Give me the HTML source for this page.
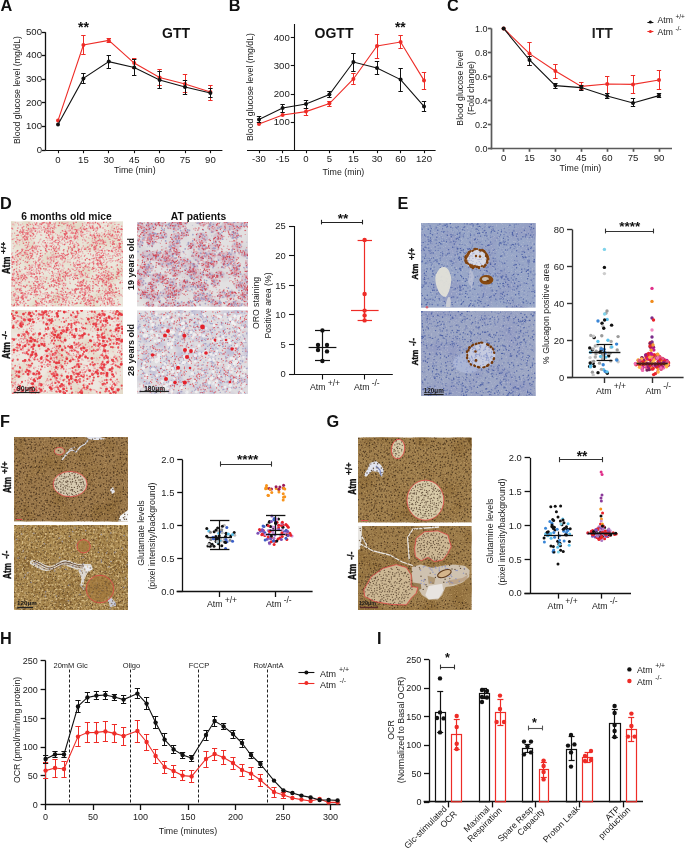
<!DOCTYPE html>
<html><head><meta charset="utf-8"><style>
html,body{margin:0;padding:0;background:#fff;}
body{width:685px;height:850px;overflow:hidden;position:relative;}
svg{position:absolute;left:0;top:0;will-change:transform;}
text{font-family:"Liberation Sans", sans-serif;}
</style></head><body>
<svg width="685" height="850" viewBox="0 0 685 850">
<defs><filter id="tx1" x="0" y="0" width="1" height="1" color-interpolation-filters="sRGB"><feTurbulence type="fractalNoise" baseFrequency="0.06" numOctaves="2" seed="3" result="t0"/><feColorMatrix in="t0" type="matrix" values="0 0 0 0 0.851 0 0 0 0 0.804 0 0 0 0 0.690 1.6 0 0 0 -0.7" result="c0"/><feMerge><feMergeNode in="SourceGraphic"/><feMergeNode in="c0"/></feMerge></filter><clipPath id="cp2"><rect x="11" y="221.6" width="112" height="85"/></clipPath><filter id="tx3" x="0" y="0" width="1" height="1" color-interpolation-filters="sRGB"><feTurbulence type="fractalNoise" baseFrequency="0.06" numOctaves="2" seed="13" result="t0"/><feColorMatrix in="t0" type="matrix" values="0 0 0 0 0.855 0 0 0 0 0.792 0 0 0 0 0.682 1.6 0 0 0 -0.7" result="c0"/><feMerge><feMergeNode in="SourceGraphic"/><feMergeNode in="c0"/></feMerge></filter><clipPath id="cp4"><rect x="11" y="310" width="112" height="84"/></clipPath><filter id="tx5" x="0" y="0" width="1" height="1" color-interpolation-filters="sRGB"><feTurbulence type="fractalNoise" baseFrequency="0.05" numOctaves="2" seed="23" result="t0"/><feColorMatrix in="t0" type="matrix" values="0 0 0 0 0.824 0 0 0 0 0.804 0 0 0 0 0.824 2.0 0 0 0 -0.9" result="c0"/><feMerge><feMergeNode in="SourceGraphic"/><feMergeNode in="c0"/></feMerge></filter><clipPath id="cp6"><rect x="137" y="222" width="111" height="84.4"/></clipPath><filter id="tx7" x="0" y="0" width="1" height="1" color-interpolation-filters="sRGB"><feTurbulence type="fractalNoise" baseFrequency="0.12" numOctaves="2" seed="33" result="t0"/><feGaussianBlur in="t0" stdDeviation="0.8" result="u0"/><feColorMatrix in="u0" type="matrix" values="0 0 0 0 0.761 0 0 0 0 0.753 0 0 0 0 0.839 3.0 0 0 0 -1.4" result="c0"/><feMerge><feMergeNode in="SourceGraphic"/><feMergeNode in="c0"/></feMerge></filter><clipPath id="cp8"><rect x="137" y="310.4" width="111" height="83.6"/></clipPath><filter id="tx9" x="0" y="0" width="1" height="1" color-interpolation-filters="sRGB"><feTurbulence type="fractalNoise" baseFrequency="0.05" numOctaves="2" seed="41" result="t0"/><feColorMatrix in="t0" type="matrix" values="0 0 0 0 0.569 0 0 0 0 0.600 0 0 0 0 0.761 2.2 0 0 0 -1.0" result="c0"/><feTurbulence type="fractalNoise" baseFrequency="0.8" numOctaves="1" seed="42" result="t1"/><feColorMatrix in="t1" type="matrix" values="0 0 0 0 0.737 0 0 0 0 0.753 0 0 0 0 0.831 3 0 0 0 -1.7" result="c1"/><feMerge><feMergeNode in="SourceGraphic"/><feMergeNode in="c0"/><feMergeNode in="c1"/></feMerge></filter><clipPath id="cp10"><rect x="421" y="223" width="114.6" height="84.6"/></clipPath><filter id="tx11" x="0" y="0" width="1" height="1" color-interpolation-filters="sRGB"><feTurbulence type="fractalNoise" baseFrequency="0.05" numOctaves="2" seed="51" result="t0"/><feColorMatrix in="t0" type="matrix" values="0 0 0 0 0.569 0 0 0 0 0.600 0 0 0 0 0.761 2.2 0 0 0 -1.0" result="c0"/><feTurbulence type="fractalNoise" baseFrequency="0.8" numOctaves="1" seed="52" result="t1"/><feColorMatrix in="t1" type="matrix" values="0 0 0 0 0.737 0 0 0 0 0.753 0 0 0 0 0.831 3 0 0 0 -1.7" result="c1"/><feMerge><feMergeNode in="SourceGraphic"/><feMergeNode in="c0"/><feMergeNode in="c1"/></feMerge></filter><clipPath id="cp12"><rect x="421" y="311" width="114.6" height="85"/></clipPath><filter id="tx13" x="0" y="0" width="1" height="1" color-interpolation-filters="sRGB"><feTurbulence type="fractalNoise" baseFrequency="0.04" numOctaves="2" seed="61" result="t0"/><feColorMatrix in="t0" type="matrix" values="0 0 0 0 0.549 0 0 0 0 0.416 0 0 0 0 0.212 2.4 0 0 0 -1.15" result="c0"/><feTurbulence type="fractalNoise" baseFrequency="0.9" numOctaves="1" seed="62" result="t1"/><feColorMatrix in="t1" type="matrix" values="0 0 0 0 0.784 0 0 0 0 0.643 0 0 0 0 0.424 3.2 0 0 0 -1.85" result="c1"/><feTurbulence type="fractalNoise" baseFrequency="0.9" numOctaves="1" seed="63" result="t2"/><feColorMatrix in="t2" type="matrix" values="0 0 0 0 0.463 0 0 0 0 0.318 0 0 0 0 0.165 3.4 0 0 0 -1.95" result="c2"/><feMerge><feMergeNode in="SourceGraphic"/><feMergeNode in="c0"/><feMergeNode in="c1"/><feMergeNode in="c2"/></feMerge></filter><clipPath id="cp14"><rect x="14" y="437" width="114" height="84.4"/></clipPath><filter id="tx15" x="0" y="0" width="1" height="1" color-interpolation-filters="sRGB"><feTurbulence type="fractalNoise" baseFrequency="0.04" numOctaves="2" seed="71" result="t0"/><feColorMatrix in="t0" type="matrix" values="0 0 0 0 0.549 0 0 0 0 0.416 0 0 0 0 0.212 2.0 0 0 0 -1.0" result="c0"/><feTurbulence type="fractalNoise" baseFrequency="0.45" numOctaves="2" seed="72" result="t1"/><feColorMatrix in="t1" type="matrix" values="0 0 0 0 0.839 0 0 0 0 0.737 0 0 0 0 0.533 3.9 0 0 0 -2.0" result="c1"/><feTurbulence type="fractalNoise" baseFrequency="0.5" numOctaves="1" seed="73" result="t2"/><feColorMatrix in="t2" type="matrix" values="0 0 0 0 0.478 0 0 0 0 0.329 0 0 0 0 0.141 3.6 0 0 0 -2.0" result="c2"/><feMerge><feMergeNode in="SourceGraphic"/><feMergeNode in="c0"/><feMergeNode in="c1"/><feMergeNode in="c2"/></feMerge></filter><clipPath id="cp16"><rect x="14" y="525" width="114" height="85"/></clipPath><filter id="tx17" x="0" y="0" width="1" height="1" color-interpolation-filters="sRGB"><feTurbulence type="fractalNoise" baseFrequency="0.04" numOctaves="2" seed="81" result="t0"/><feColorMatrix in="t0" type="matrix" values="0 0 0 0 0.549 0 0 0 0 0.416 0 0 0 0 0.212 2.4 0 0 0 -1.15" result="c0"/><feTurbulence type="fractalNoise" baseFrequency="0.9" numOctaves="1" seed="82" result="t1"/><feColorMatrix in="t1" type="matrix" values="0 0 0 0 0.784 0 0 0 0 0.643 0 0 0 0 0.424 3.2 0 0 0 -1.85" result="c1"/><feTurbulence type="fractalNoise" baseFrequency="0.9" numOctaves="1" seed="83" result="t2"/><feColorMatrix in="t2" type="matrix" values="0 0 0 0 0.463 0 0 0 0 0.318 0 0 0 0 0.165 3.4 0 0 0 -1.95" result="c2"/><feMerge><feMergeNode in="SourceGraphic"/><feMergeNode in="c0"/><feMergeNode in="c1"/><feMergeNode in="c2"/></feMerge></filter><clipPath id="cp18"><rect x="358" y="437.6" width="113.6" height="84.8"/></clipPath><filter id="tx19" x="0" y="0" width="1" height="1" color-interpolation-filters="sRGB"><feTurbulence type="fractalNoise" baseFrequency="0.04" numOctaves="2" seed="91" result="t0"/><feColorMatrix in="t0" type="matrix" values="0 0 0 0 0.549 0 0 0 0 0.416 0 0 0 0 0.212 2.4 0 0 0 -1.15" result="c0"/><feTurbulence type="fractalNoise" baseFrequency="0.9" numOctaves="1" seed="92" result="t1"/><feColorMatrix in="t1" type="matrix" values="0 0 0 0 0.784 0 0 0 0 0.643 0 0 0 0 0.424 3.2 0 0 0 -1.85" result="c1"/><feTurbulence type="fractalNoise" baseFrequency="0.9" numOctaves="1" seed="93" result="t2"/><feColorMatrix in="t2" type="matrix" values="0 0 0 0 0.463 0 0 0 0 0.318 0 0 0 0 0.165 3.4 0 0 0 -1.95" result="c2"/><feMerge><feMergeNode in="SourceGraphic"/><feMergeNode in="c0"/><feMergeNode in="c1"/><feMergeNode in="c2"/></feMerge></filter><clipPath id="cp20"><rect x="358" y="526" width="113.6" height="84"/></clipPath></defs>
<rect width="685" height="850" fill="#fff"/>
<text x="0.40" y="10.70" font-size="16.3" text-anchor="start" font-weight="bold" fill="#111">A</text>
<text x="228.80" y="10.70" font-size="16.3" text-anchor="start" font-weight="bold" fill="#111">B</text>
<text x="447.00" y="10.90" font-size="16.3" text-anchor="start" font-weight="bold" fill="#111">C</text>
<text x="0.00" y="208.80" font-size="16.3" text-anchor="start" font-weight="bold" fill="#111">D</text>
<text x="397.50" y="208.60" font-size="16.3" text-anchor="start" font-weight="bold" fill="#111">E</text>
<text x="-0.10" y="427.00" font-size="16.3" text-anchor="start" font-weight="bold" fill="#111">F</text>
<text x="326.40" y="427.40" font-size="16.3" text-anchor="start" font-weight="bold" fill="#111">G</text>
<text x="-0.10" y="644.00" font-size="16.3" text-anchor="start" font-weight="bold" fill="#111">H</text>
<text x="377.10" y="643.60" font-size="16.3" text-anchor="start" font-weight="bold" fill="#111">I</text>
<rect x="11" y="221.6" width="112" height="85" fill="#ebe7dc" filter="url(#tx1)"/>
<g clip-path="url(#cp2)">
<path d="M57.0 282.3h0M28.0 240.0h0M96.2 254.9h0M36.9 225.5h0M22.4 293.0h0M59.9 303.7h0M39.3 230.6h0M54.6 265.4h0M81.8 232.1h0M103.6 298.3h0M92.7 235.7h0M46.4 232.4h0M82.0 274.6h0M34.6 238.1h0M57.9 281.2h0M59.7 263.4h0M25.0 252.6h0M89.8 226.7h0M112.7 301.0h0M59.7 235.5h0M40.7 265.6h0M102.2 300.2h0M78.4 254.2h0M32.7 290.4h0M58.2 262.0h0M32.3 276.8h0M80.5 234.0h0M86.2 267.4h0M99.5 244.0h0M13.2 248.6h0M43.0 260.2h0M87.0 233.4h0M29.7 234.8h0M37.9 265.4h0M27.3 295.0h0M27.6 250.3h0M110.2 275.2h0M54.3 259.5h0M41.5 244.1h0M88.1 297.4h0M44.8 264.3h0M32.4 267.5h0M83.0 235.9h0M105.4 292.0h0M106.2 230.7h0M77.6 265.3h0M30.1 251.8h0M35.7 291.9h0M107.7 236.7h0M53.7 237.4h0M64.9 258.6h0M110.8 284.4h0M74.3 239.0h0M115.9 296.7h0M113.7 283.6h0M13.2 257.9h0M63.8 231.4h0M84.5 296.6h0M16.1 297.1h0M55.1 251.6h0M96.2 243.2h0M49.2 259.8h0M52.3 240.1h0M63.7 275.0h0M50.4 243.1h0M66.1 302.1h0M12.7 252.7h0M14.5 273.2h0M35.4 278.0h0M97.8 242.3h0M38.6 286.2h0M86.0 303.4h0M81.3 289.1h0M16.9 268.1h0M90.7 305.1h0M35.2 291.5h0M94.3 228.7h0M106.7 265.4h0M92.9 285.6h0M30.4 253.9h0M86.2 224.2h0M46.8 246.0h0M109.1 282.7h0M78.9 265.6h0M97.9 279.0h0M11.6 299.1h0M109.0 254.9h0M47.6 242.7h0M16.5 277.8h0M81.1 282.8h0M34.2 284.2h0M49.9 228.5h0M74.0 255.0h0M109.9 260.4h0M55.1 225.5h0M88.5 300.4h0M108.0 287.9h0M64.9 305.1h0M121.5 233.8h0M60.7 265.0h0M79.6 272.6h0M90.1 234.0h0M84.6 291.7h0M48.0 225.9h0M63.1 298.2h0M105.1 279.7h0M96.4 248.7h0M85.6 276.9h0M34.5 222.7h0M96.5 242.3h0M93.1 287.2h0M26.1 286.3h0M80.1 283.1h0M12.6 224.6h0M16.7 241.2h0M16.3 251.6h0M32.5 267.4h0M118.9 251.5h0M60.1 246.5h0M78.5 229.7h0M49.2 267.0h0M102.4 228.0h0M85.6 299.9h0M93.1 258.4h0M46.0 295.9h0M94.3 234.9h0M110.3 241.7h0M66.9 236.9h0M81.8 283.7h0M32.5 250.3h0M57.5 297.0h0M24.2 297.2h0M72.6 233.5h0M103.4 259.8h0M116.2 265.9h0M82.9 299.9h0M57.6 255.8h0M28.9 271.2h0M13.5 275.1h0M101.9 237.4h0M45.3 228.6h0M11.9 294.9h0M28.8 242.2h0M13.2 276.0h0M79.9 271.5h0M103.1 254.9h0M99.6 298.2h0M50.3 233.4h0M65.5 231.0h0M89.2 290.1h0M55.5 248.9h0M108.7 272.1h0M107.6 295.2h0M82.3 223.5h0M100.9 277.7h0M107.1 262.0h0M32.1 233.7h0M83.5 283.8h0M67.7 222.5h0M100.3 250.5h0M86.0 297.7h0M18.6 300.4h0M65.0 277.7h0M96.3 263.7h0M15.4 279.0h0M78.7 229.7h0M49.1 238.3h0M17.7 280.7h0M111.8 227.3h0M101.0 304.2h0M90.0 223.1h0M79.1 295.9h0M59.1 248.9h0M79.2 228.4h0M25.7 251.1h0M64.9 244.1h0M102.0 293.7h0M85.9 247.6h0M91.3 303.7h0M23.8 302.1h0M48.7 302.0h0M70.0 235.6h0M101.8 232.7h0M107.1 271.7h0M38.7 246.0h0M83.3 237.5h0M29.7 246.2h0M23.3 296.9h0M50.7 263.1h0M110.0 287.0h0M19.5 304.7h0M25.4 287.6h0M37.4 228.9h0M74.8 236.1h0M46.0 244.8h0M94.9 267.7h0M105.2 275.3h0M103.9 276.4h0M53.4 281.5h0M36.4 245.6h0M106.7 285.7h0M35.2 223.4h0M79.3 228.4h0M37.8 268.9h0M117.5 232.3h0M25.9 294.7h0M41.7 235.3h0M50.9 231.3h0M26.0 244.6h0M57.4 273.9h0M92.5 255.9h0M18.1 235.5h0M106.3 259.6h0M38.8 228.6h0M41.1 305.3h0M62.4 281.5h0M41.0 232.3h0M74.2 251.8h0M40.3 280.7h0M56.5 259.5h0M23.7 255.8h0M60.2 275.9h0M77.1 261.2h0M81.8 292.1h0M80.3 297.1h0M13.5 294.5h0M24.3 238.8h0M44.1 286.3h0M61.2 303.7h0M15.2 284.0h0M78.4 234.6h0M20.8 302.5h0M66.3 294.8h0M62.2 300.2h0M24.6 245.5h0M50.5 231.9h0M74.8 226.7h0M26.5 234.0h0M61.6 271.7h0M95.7 236.7h0M48.4 272.1h0M74.8 256.0h0M31.4 286.0h0M76.5 293.7h0M38.3 294.5h0M89.1 231.3h0M68.7 296.7h0M32.6 265.2h0M63.9 298.0h0M13.5 264.2h0M15.4 282.4h0M79.1 283.6h0M79.7 261.5h0M81.3 281.9h0M24.3 293.3h0M51.8 277.3h0M103.5 277.5h0M15.5 222.6h0M32.6 292.3h0M64.7 285.0h0M53.8 282.0h0M34.2 241.9h0M12.1 297.5h0M104.8 233.3h0M89.9 245.1h0M63.6 290.0h0M34.2 285.9h0M28.8 261.3h0M49.5 237.0h0M101.2 296.6h0M86.3 282.7h0M17.5 295.7h0M91.8 262.7h0M55.8 281.3h0M44.4 299.4h0M75.5 263.0h0M40.4 264.3h0M111.9 227.9h0M70.5 237.8h0M78.0 232.5h0M14.3 294.8h0M64.0 276.3h0M21.9 269.8h0M12.2 284.4h0M58.6 276.7h0M49.4 264.0h0M48.6 228.5h0M73.4 237.3h0M90.2 305.5h0M57.3 295.7h0M28.7 232.9h0M39.8 305.1h0M120.7 249.7h0M95.7 242.6h0M14.7 245.7h0M74.1 259.0h0M13.2 243.5h0M116.4 236.1h0M81.6 248.3h0M92.2 235.0h0M39.8 246.8h0M33.9 271.3h0M92.7 237.0h0M22.1 227.2h0M89.9 286.7h0M16.6 275.6h0M96.9 264.1h0M107.6 261.8h0M56.1 293.0h0M75.5 289.4h0M122.1 275.9h0M38.5 283.3h0M25.3 303.3h0M78.0 237.2h0M113.8 294.4h0M89.3 224.6h0M33.4 225.4h0M105.7 241.0h0M49.6 273.4h0M29.5 300.2h0M117.5 268.6h0M18.2 292.2h0M21.7 235.9h0M61.4 280.5h0M103.4 274.8h0M58.4 243.2h0M57.9 269.2h0M68.2 226.8h0M53.2 259.1h0M19.1 242.3h0M118.6 253.6h0M119.7 273.1h0M46.2 250.3h0M21.5 300.3h0M38.9 249.3h0M33.7 227.8h0M27.5 237.0h0M13.5 286.1h0M70.3 229.7h0M36.9 233.1h0M90.4 232.3h0M14.5 263.7h0M26.1 298.0h0M49.3 265.9h0M53.8 255.7h0M63.4 238.2h0M94.7 239.1h0M88.5 268.6h0M96.7 257.8h0M33.9 250.7h0M45.9 266.2h0M21.6 283.1h0M64.6 283.5h0M81.7 276.9h0M40.3 294.7h0M117.7 303.0h0M21.7 290.4h0M91.1 300.6h0M55.1 241.8h0M41.0 228.9h0M29.3 268.0h0M55.4 305.1h0M118.5 248.5h0M77.5 253.9h0M59.3 299.1h0M54.4 225.2h0M51.3 250.3h0M39.6 285.1h0M31.0 290.5h0M107.5 294.9h0M76.4 233.3h0M117.3 276.6h0M29.9 272.3h0M73.7 294.3h0M72.6 290.2h0M96.6 263.7h0M79.6 257.7h0M52.2 303.5h0M27.2 296.8h0M111.2 295.8h0M88.2 303.9h0M39.4 274.6h0M21.7 292.5h0M47.7 245.9h0M104.5 261.7h0M37.6 279.4h0M75.1 237.1h0M79.5 259.6h0M28.9 273.2h0M87.4 230.3h0M40.3 226.3h0M57.7 276.1h0M59.3 301.1h0M83.2 235.0h0M13.1 277.3h0M117.7 269.0h0M120.4 265.0h0M17.2 244.1h0M46.5 228.8h0M37.0 247.0h0M99.3 240.8h0M80.0 289.1h0M44.5 294.0h0M71.9 268.6h0M63.6 274.2h0M84.0 227.1h0M105.7 254.9h0M70.8 241.0h0M11.5 259.5h0M47.4 256.7h0M20.9 276.2h0M25.5 238.2h0M26.1 247.4h0M30.1 235.9h0M78.8 286.1h0M44.2 242.7h0M84.5 305.4h0M23.7 276.4h0M85.7 304.2h0M100.3 267.8h0M43.1 265.0h0M118.2 259.7h0M43.8 304.5h0M89.8 235.4h0M112.4 299.2h0M43.8 277.2h0M94.2 237.8h0M13.2 258.6h0M15.2 288.2h0M83.1 284.7h0M110.4 283.2h0M62.0 226.6h0M109.5 303.6h0M46.2 243.9h0M89.8 225.3h0M30.7 235.1h0M66.4 294.3h0M102.9 275.1h0M47.8 228.3h0M41.9 276.6h0M90.5 235.4h0M81.5 255.5h0M47.5 238.2h0M54.6 245.4h0M90.3 302.0h0M45.9 235.1h0M81.6 285.1h0M18.1 227.8h0M45.6 245.7h0M54.5 282.4h0M52.1 300.9h0M67.9 259.8h0M116.5 244.1h0M45.6 298.8h0M26.9 224.9h0M22.6 223.9h0M62.2 256.6h0M60.9 294.0h0M59.2 283.0h0M26.7 278.5h0M16.9 291.2h0M84.0 239.1h0M87.6 288.9h0M112.8 222.8h0M31.6 253.7h0M102.4 263.4h0M108.9 286.0h0M15.4 222.4h0M100.7 255.5h0M89.6 245.1h0M77.7 245.8h0M52.4 240.3h0M117.9 261.8h0M44.8 263.9h0M75.5 235.6h0M64.4 300.3h0M61.4 293.8h0M12.3 285.8h0M41.9 261.0h0M89.8 298.0h0M95.5 270.5h0M78.8 251.7h0M33.5 265.1h0M51.2 281.5h0M41.9 257.5h0M25.4 235.6h0M58.5 261.3h0M20.0 259.2h0M84.8 222.7h0M73.3 305.2h0M121.3 275.1h0M66.8 228.8h0M110.6 293.1h0M87.1 251.2h0M36.8 230.9h0M89.5 301.2h0M39.7 295.5h0M41.8 296.3h0M77.6 247.2h0M98.5 266.2h0M72.0 229.7h0M104.6 297.6h0M122.4 288.2h0M61.8 269.5h0M82.1 288.2h0M23.0 286.4h0M69.9 276.8h0M70.1 259.7h0M59.6 274.8h0M98.2 248.6h0M116.0 305.8h0M122.4 269.7h0M42.9 245.8h0M88.2 304.8h0M112.9 252.3h0M36.5 254.7h0M103.1 275.9h0M75.5 234.5h0M114.3 236.1h0M35.2 270.1h0M67.0 224.9h0M66.7 238.9h0M71.8 273.2h0M83.3 296.7h0M54.4 258.1h0M23.8 294.1h0M39.8 240.0h0M50.0 222.2h0M29.3 294.1h0M30.8 229.1h0M110.7 255.9h0M66.6 223.2h0M24.1 232.2h0M20.4 290.5h0M49.7 243.5h0M33.1 277.6h0M60.9 243.0h0M27.7 261.9h0M14.0 224.9h0M75.3 267.4h0M61.9 236.0h0M64.1 268.2h0M120.4 251.9h0M27.4 269.5h0M112.9 225.9h0M65.4 272.5h0M81.4 250.5h0M102.8 283.7h0M92.3 240.3h0M57.9 257.0h0M50.2 229.6h0M37.4 304.6h0M37.8 245.9h0M30.2 224.4h0M73.9 225.6h0M50.0 225.2h0M59.9 293.9h0M120.6 294.9h0M108.7 274.9h0M104.2 246.6h0M82.3 247.8h0M45.3 299.3h0M103.7 248.3h0M118.8 239.7h0M41.9 279.0h0M56.2 227.9h0M117.4 273.3h0M29.1 290.2h0M42.1 224.5h0M105.3 250.9h0M89.6 289.7h0M90.4 260.0h0M113.1 238.0h0M17.0 239.6h0M79.9 230.2h0M111.1 237.2h0M108.0 298.2h0M109.9 239.1h0M14.3 258.2h0M33.4 273.7h0M114.6 236.0h0M13.9 246.8h0M72.5 229.6h0M75.2 267.3h0M122.2 252.8h0M56.5 265.8h0M39.0 266.2h0M110.7 260.5h0M25.0 294.6h0M27.8 290.7h0M120.0 247.6h0M108.0 234.2h0M88.7 227.9h0M97.4 280.4h0M32.9 252.3h0M68.9 301.0h0M13.2 263.6h0M114.2 250.3h0M67.3 242.3h0M20.3 279.8h0M49.3 257.6h0M66.8 227.8h0M118.8 243.8h0M59.2 237.3h0M52.3 233.9h0M63.2 255.0h0M98.6 265.1h0M90.0 250.6h0M43.8 226.5h0M50.6 231.5h0M69.0 225.6h0M77.6 229.4h0M111.1 230.0h0M53.5 241.5h0M84.7 295.8h0M74.7 229.7h0M56.4 273.6h0M108.0 256.6h0M14.9 299.1h0M118.5 235.0h0M73.7 276.6h0M61.6 295.0h0M120.4 238.5h0M85.7 229.5h0M122.3 296.2h0M75.7 232.6h0M119.6 270.5h0M18.2 295.8h0M96.4 231.0h0M70.7 274.5h0M75.8 237.0h0M44.1 278.4h0M110.8 292.9h0M51.7 263.1h0M99.8 243.4h0M44.7 299.5h0M17.3 281.0h0M114.0 231.8h0M67.7 239.2h0M63.9 251.8h0M63.6 304.7h0M58.9 272.7h0M117.6 231.2h0M38.5 289.2h0M17.5 295.7h0M47.8 266.7h0M103.3 268.7h0M12.3 263.7h0M113.7 260.6h0M75.9 288.4h0M83.3 291.9h0M42.5 306.1h0M82.3 285.3h0M19.8 285.6h0M105.7 254.3h0M74.4 273.5h0M68.2 224.2h0M78.7 244.7h0M53.6 236.1h0M32.1 236.8h0M41.7 300.7h0M121.8 280.6h0M118.1 226.3h0M59.1 254.6h0M48.2 303.2h0M112.9 272.6h0M66.4 302.7h0M63.9 239.9h0M93.3 291.3h0M94.7 257.7h0M111.7 304.0h0M73.5 245.8h0M47.4 224.8h0M56.3 256.5h0M46.1 228.5h0M62.5 254.5h0M47.5 295.4h0M116.6 252.3h0M54.1 241.4h0M45.3 290.2h0M120.7 255.4h0M113.5 269.3h0M30.7 231.3h0M26.0 239.1h0M121.5 260.5h0M23.6 249.4h0M74.2 289.1h0M44.4 288.6h0M117.4 245.5h0M78.7 278.8h0M88.6 286.0h0M101.7 223.1h0M57.6 291.5h0M57.8 272.0h0M62.9 266.9h0M110.9 303.8h0M74.3 240.1h0M99.8 247.3h0M34.8 238.1h0M110.7 292.3h0M78.5 233.6h0M65.6 304.0h0M46.5 277.5h0M69.6 231.3h0M122.4 270.9h0M91.4 226.0h0M101.0 250.4h0M80.7 273.8h0M55.7 233.8h0M39.3 241.8h0M116.3 229.2h0M97.0 301.6h0M89.1 248.7h0M62.5 257.9h0M71.9 300.7h0M63.6 304.1h0M38.3 266.3h0M101.9 272.7h0M109.6 300.4h0M59.7 250.3h0M66.9 226.3h0M18.9 271.8h0M60.3 271.8h0M17.0 303.1h0M103.0 257.7h0M74.3 236.6h0M48.0 263.7h0M38.4 261.3h0M99.3 275.6h0M70.8 297.9h0M21.0 285.1h0M85.0 288.2h0M103.2 304.9h0M93.6 243.7h0M82.9 242.7h0M64.9 229.7h0M116.7 247.4h0M88.9 266.1h0M67.6 252.4h0M77.8 230.7h0M115.8 253.0h0M36.0 263.3h0M38.7 286.6h0M57.7 296.8h0M24.6 295.6h0M63.1 262.8h0M121.9 266.4h0M104.9 285.5h0M35.8 272.2h0M105.1 225.7h0M89.8 287.2h0M56.0 255.9h0M113.3 237.3h0M73.6 265.2h0M82.2 290.5h0M50.7 261.7h0M85.4 291.0h0M22.6 239.9h0M115.4 231.8h0M71.3 238.5h0M102.4 258.3h0M37.5 291.6h0M31.9 264.9h0M67.7 257.1h0M13.2 305.9h0M36.0 302.7h0M26.8 253.8h0M89.1 264.2h0M16.7 263.0h0M47.7 288.1h0M99.9 280.1h0M110.1 272.5h0M60.2 264.3h0M26.0 298.3h0M95.4 260.2h0M31.9 250.8h0M115.7 234.2h0M119.3 224.5h0M69.7 281.9h0M50.9 259.8h0M19.6 244.7h0M47.4 240.1h0M110.9 262.2h0M118.7 247.0h0M121.6 249.8h0M37.5 225.7h0M105.3 294.0h0M43.0 246.4h0M23.9 295.2h0M72.4 302.3h0M70.5 233.4h0M80.0 264.5h0M52.4 243.5h0M57.6 261.2h0M90.4 302.7h0M21.0 278.0h0M85.9 287.0h0M47.2 270.4h0M74.4 238.3h0M54.9 273.2h0M62.0 257.8h0M113.6 236.0h0M64.1 287.3h0M38.9 231.9h0M26.6 277.6h0M62.2 243.2h0M87.4 275.1h0M22.7 241.5h0M76.5 237.4h0M94.2 239.9h0M79.3 292.9h0M112.4 295.9h0M48.8 223.9h0M73.2 229.6h0M76.5 262.3h0M36.5 270.4h0M89.7 245.9h0M100.2 297.2h0M59.7 239.6h0M39.1 304.8h0M84.6 300.5h0M119.3 232.4h0M18.0 298.5h0M16.7 272.8h0M39.9 259.5h0M81.2 303.6h0M118.5 228.0h0M42.6 286.7h0M67.0 230.9h0M96.0 271.2h0M98.6 259.2h0M25.1 281.1h0M36.7 224.1h0M18.2 240.0h0M17.7 283.4h0M36.2 293.2h0M57.2 257.0h0M68.1 256.7h0M26.7 274.2h0M80.4 234.1h0M118.3 249.9h0M74.2 243.6h0M89.0 273.6h0M79.5 267.5h0M93.3 227.2h0M71.2 292.9h0M30.1 266.6h0M36.9 251.1h0M50.4 302.4h0M92.1 241.5h0M83.4 234.4h0M119.8 232.1h0M112.1 281.2h0M107.8 297.0h0M81.7 226.7h0M55.5 289.1h0M99.1 276.6h0M94.9 268.3h0M20.0 271.3h0M32.1 281.8h0M47.0 289.3h0M91.1 228.7h0M41.9 225.1h0M107.2 267.3h0M51.7 239.7h0M62.5 258.7h0M71.3 249.6h0M26.6 224.3h0M21.8 274.3h0M113.8 304.0h0M111.9 249.9h0M80.7 288.6h0M36.3 256.8h0M65.4 230.2h0M24.8 276.9h0M47.3 245.5h0M53.1 301.6h0M36.6 268.8h0M90.2 297.8h0M81.2 275.9h0M38.4 267.6h0M37.8 286.7h0M87.7 263.4h0M96.8 294.9h0M97.4 281.0h0M100.3 294.6h0M11.6 279.3h0M83.8 299.9h0M80.8 263.4h0M93.6 287.3h0M100.1 273.8h0M67.2 270.4h0M38.5 258.3h0M103.5 271.4h0M121.7 271.7h0M47.3 264.1h0M65.2 288.4h0M12.1 253.3h0M84.5 247.9h0M45.2 270.8h0M46.6 223.2h0M50.4 227.3h0M62.5 284.4h0M107.4 304.7h0M110.4 243.4h0M84.4 303.9h0M109.1 261.0h0M42.4 304.3h0M92.6 285.8h0M104.0 300.6h0M117.3 305.9h0M42.3 255.8h0M21.3 253.2h0M57.0 273.8h0M105.8 299.3h0M62.4 281.6h0M14.8 238.6h0M118.5 301.7h0M110.3 294.9h0M102.3 293.7h0M74.0 273.8h0M53.3 293.0h0M91.7 223.2h0M47.5 247.0h0M25.3 239.2h0M19.7 301.4h0M79.1 263.9h0M34.2 287.5h0M16.0 289.2h0M99.1 223.3h0M84.0 262.5h0M37.5 264.5h0M96.0 281.6h0M73.9 290.5h0M48.9 230.4h0M114.8 222.6h0M24.0 305.7h0M109.6 293.9h0M25.7 234.9h0M78.2 260.9h0M102.7 302.8h0M54.2 281.4h0M104.3 243.1h0M105.1 253.2h0M17.4 254.6h0M68.0 241.5h0M23.0 274.7h0M42.0 252.9h0M113.5 231.3h0M49.5 296.7h0M78.1 236.8h0M54.6 225.7h0M16.3 258.9h0M69.0 272.5h0M55.6 257.4h0M55.5 279.8h0M44.8 225.7h0M49.7 246.3h0M95.6 256.9h0M104.3 253.0h0M104.6 260.2h0M31.0 266.0h0M82.1 259.0h0M52.3 235.9h0M58.9 238.3h0M53.7 305.5h0M86.8 224.9h0M56.1 240.3h0M30.6 271.2h0M33.0 272.7h0M95.5 257.5h0M68.0 222.3h0M99.4 272.3h0M122.1 252.1h0M85.4 255.1h0M16.2 262.3h0M114.0 229.9h0M13.2 280.9h0M97.3 245.1h0M118.6 304.3h0M50.3 295.7h0M103.5 259.7h0M15.4 256.0h0M27.7 247.6h0M12.3 233.5h0M37.5 281.5h0M13.9 279.4h0M37.4 250.8h0M11.7 235.9h0M35.3 266.0h0M53.3 257.1h0M102.5 279.5h0M112.6 294.6h0M29.3 269.5h0M109.5 256.5h0M77.4 247.3h0M61.2 305.9h0M109.0 275.6h0M38.9 228.4h0M49.4 235.5h0M83.0 232.1h0M102.6 248.8h0M13.2 270.1h0M82.5 274.3h0M61.2 281.4h0M96.4 227.4h0M47.8 267.1h0M38.9 304.5h0M20.8 254.4h0M66.3 222.9h0M103.9 264.8h0M34.8 305.7h0M105.3 297.5h0M53.7 223.1h0M68.4 231.0h0M109.8 282.3h0M88.2 301.4h0M94.5 301.6h0M118.0 294.9h0M96.1 237.9h0M115.8 294.2h0M51.9 257.8h0M23.9 252.2h0M62.2 294.7h0M49.6 266.3h0M71.9 289.0h0M22.5 299.0h0M98.0 291.1h0M103.2 287.9h0M112.6 267.2h0M51.1 305.0h0M81.0 271.3h0M83.0 253.5h0M114.3 235.7h0M46.6 289.5h0M51.7 263.2h0M87.3 305.5h0M14.0 293.5h0M41.2 299.0h0M100.3 260.7h0M37.6 225.5h0M40.7 283.4h0M66.8 234.0h0M40.3 299.2h0M42.0 282.7h0M119.2 296.0h0M62.1 283.3h0M110.3 284.9h0M107.0 301.6h0M87.7 287.0h0M108.7 238.0h0M54.0 246.7h0M95.6 240.3h0M110.2 233.8h0M14.2 278.0h0M79.4 264.6h0M56.4 257.5h0M69.2 237.5h0M93.5 282.7h0M104.5 251.2h0M42.8 229.6h0M63.3 294.2h0M32.5 228.3h0M24.2 277.6h0M53.2 244.4h0M24.9 262.2h0M27.7 305.8h0M87.8 231.5h0M110.1 288.1h0M104.4 267.9h0M111.1 273.0h0M50.8 240.5h0M76.0 272.3h0M15.8 261.5h0M112.1 249.3h0M121.9 231.1h0M91.8 236.6h0M79.4 255.6h0M72.8 222.9h0M117.0 256.2h0M55.5 275.7h0M99.1 237.8h0M58.7 270.3h0M88.4 237.8h0M22.2 248.8h0M108.5 279.9h0M106.4 290.6h0M99.2 255.2h0M67.2 288.0h0M49.1 302.5h0M12.1 234.0h0M85.0 272.8h0M54.7 256.5h0M15.7 257.4h0M64.0 223.0h0M35.6 246.7h0M90.7 254.9h0M78.4 280.9h0M40.8 226.4h0M107.3 271.4h0M118.0 272.5h0M76.9 264.5h0M100.1 296.2h0M53.3 258.9h0M68.9 289.5h0M49.5 294.8h0M115.0 250.4h0M90.6 297.7h0M55.3 265.1h0M21.1 235.2h0M36.6 233.9h0M26.4 272.3h0M14.0 281.2h0M52.9 238.7h0M33.4 244.0h0M97.1 236.6h0M65.0 285.1h0M32.0 247.8h0M93.9 229.5h0M88.0 300.4h0M112.2 234.1h0M51.8 292.3h0M79.8 289.0h0M21.3 257.7h0M111.0 279.3h0M61.6 304.0h0M60.4 259.3h0M39.0 287.8h0M62.5 264.3h0M33.5 269.3h0M64.0 300.4h0M89.0 238.2h0M77.3 256.4h0M120.3 255.5h0M66.8 299.5h0M101.3 279.9h0M111.2 251.6h0M27.0 292.1h0M88.3 231.4h0M95.3 251.7h0M71.4 251.2h0M49.4 223.8h0M36.0 300.8h0M36.1 277.2h0M51.3 267.6h0M58.0 250.2h0M116.9 260.0h0M72.3 231.4h0M111.9 304.0h0M97.3 235.5h0M31.6 240.1h0M64.2 274.7h0M24.6 293.9h0M19.3 240.8h0M27.6 235.1h0M93.8 228.1h0M36.1 304.8h0M69.4 275.3h0M119.4 271.0h0M54.6 248.8h0M51.2 265.1h0M54.2 299.4h0M41.8 305.5h0M50.4 228.1h0M78.1 248.8h0M103.7 296.5h0M114.8 253.0h0M21.3 239.4h0M73.8 247.6h0M13.9 272.7h0M71.6 241.4h0M90.2 285.7h0M17.7 263.6h0M58.4 286.5h0M14.1 295.6h0M85.1 241.0h0M108.9 225.2h0M99.4 257.0h0M78.0 239.8h0M36.9 228.4h0M24.6 251.4h0M58.5 283.7h0M85.9 292.0h0M70.5 237.1h0M36.4 273.9h0M117.9 251.4h0M84.0 292.5h0M18.5 261.0h0M65.6 261.0h0M13.0 224.0h0M113.3 237.0h0M80.7 274.9h0M72.7 269.2h0M87.7 289.8h0M28.2 234.3h0M16.4 302.3h0M107.3 271.9h0M38.5 303.1h0M51.8 256.4h0M101.0 252.8h0M89.8 289.0h0M77.2 257.8h0M15.6 281.1h0M34.3 290.7h0M93.4 222.2h0M54.1 258.0h0M67.3 238.1h0M57.6 290.0h0M75.7 290.2h0M28.6 254.8h0M81.8 266.2h0M30.7 236.6h0M102.6 280.0h0M71.1 249.7h0M49.3 240.1h0" stroke="#eeaaae" stroke-width="1.4" stroke-linecap="round" fill="none" stroke-opacity="0.9"/>
<path d="M101.7 264.0h0M118.4 248.1h0M92.7 306.1h0M50.3 257.1h0M122.4 261.2h0M107.1 250.0h0M89.6 251.5h0M38.1 260.8h0M81.6 272.1h0M100.9 240.4h0M55.7 285.3h0M35.3 261.1h0M23.5 230.7h0M25.3 253.8h0M56.4 286.0h0M37.9 287.6h0M52.0 224.7h0M95.4 298.0h0M95.7 243.5h0M103.2 227.9h0M14.3 273.9h0M50.1 262.6h0M65.5 301.0h0M119.8 244.6h0M81.9 263.1h0M122.3 243.2h0M98.7 275.7h0M57.6 242.9h0M101.1 256.9h0M82.9 282.9h0M102.3 252.3h0M20.4 282.9h0M33.5 261.7h0M85.5 228.9h0M25.4 233.9h0M55.8 282.6h0M60.1 297.6h0M48.9 223.5h0M118.1 276.1h0M111.9 285.7h0M45.4 296.1h0M46.7 302.4h0M107.3 278.7h0M87.3 243.1h0M41.9 284.9h0M100.0 260.0h0M46.2 246.3h0M20.8 224.9h0M84.8 289.6h0M64.4 261.1h0M114.2 255.2h0M61.0 294.5h0M15.3 293.1h0M99.6 243.7h0M76.8 264.1h0M50.4 257.8h0M12.7 229.0h0M109.1 258.6h0M68.9 305.9h0M27.3 247.5h0M16.0 283.1h0M102.9 301.2h0M85.3 298.4h0M30.5 249.0h0M88.4 287.0h0M44.1 229.8h0M34.1 228.4h0M82.6 225.5h0M15.7 294.7h0M25.6 258.1h0M102.2 239.3h0M95.9 251.2h0M27.6 230.9h0M68.0 237.6h0M63.8 257.3h0M72.5 253.1h0M93.8 271.5h0M60.0 297.7h0M51.8 260.7h0M29.9 253.2h0M77.1 267.8h0M59.3 245.8h0M100.4 246.8h0M110.6 258.6h0M43.1 283.4h0M62.4 253.8h0M19.7 271.0h0M87.4 258.3h0M48.4 230.1h0M81.4 230.8h0M104.1 277.8h0M90.5 296.1h0M112.7 256.0h0M82.6 251.8h0M74.9 244.7h0M108.3 279.6h0M71.5 254.0h0M116.6 234.9h0M76.3 242.2h0M65.6 271.7h0M12.2 239.6h0M19.8 302.4h0M43.2 287.5h0M63.5 285.3h0M35.2 263.4h0M109.9 239.4h0M28.7 292.6h0M20.5 259.5h0M22.9 299.5h0M35.2 267.1h0M59.7 256.1h0M82.7 223.9h0M87.4 266.8h0M51.7 257.5h0M22.6 229.7h0M108.5 283.2h0M39.7 224.0h0M53.6 280.4h0M73.4 263.6h0M62.6 288.7h0M23.1 297.6h0M13.6 262.0h0M84.5 255.7h0M69.1 230.1h0M105.7 268.3h0M102.5 275.6h0M17.8 228.2h0M72.5 232.8h0M113.4 241.3h0M118.3 255.8h0M118.6 304.7h0M117.3 260.4h0M101.6 262.9h0M48.7 264.4h0M106.1 278.4h0M71.8 226.2h0M25.1 236.9h0M69.0 228.3h0M33.3 287.6h0M45.2 292.8h0M32.6 274.0h0M76.9 302.7h0M104.8 297.4h0M42.1 303.0h0M85.8 283.1h0M33.2 238.5h0M94.6 239.9h0M57.1 283.3h0M52.0 245.4h0M85.4 260.2h0M67.3 254.6h0M42.2 272.4h0M72.9 242.0h0M29.5 290.4h0M52.6 238.4h0M95.8 242.8h0M55.5 268.3h0M74.5 303.9h0M80.5 264.9h0M84.7 298.0h0M53.9 256.9h0M98.3 267.4h0M86.8 302.7h0M96.1 247.0h0M20.3 271.5h0M98.3 260.5h0M78.0 255.8h0M42.0 298.8h0M56.1 242.6h0M89.0 294.5h0M59.3 247.6h0M67.9 262.0h0M39.6 232.0h0M53.7 261.8h0M85.3 290.6h0M86.7 281.2h0M118.2 234.8h0M83.3 246.0h0M107.1 254.9h0M33.3 274.1h0M75.1 258.2h0M72.5 250.1h0M70.8 224.7h0M59.1 296.3h0M98.4 236.9h0M71.4 258.2h0M75.2 275.3h0M63.1 296.9h0M84.5 226.6h0M49.3 249.5h0M57.1 248.8h0M98.4 276.4h0M23.1 227.1h0M69.8 269.9h0M81.3 249.3h0M104.9 229.7h0M96.3 269.2h0M76.8 233.8h0M30.0 274.2h0M105.2 231.6h0M35.2 304.4h0M87.4 267.1h0M21.4 290.5h0M65.2 223.4h0M63.0 265.7h0M121.1 235.7h0M96.4 258.3h0M50.8 252.8h0M95.4 242.0h0M83.9 295.2h0M23.9 229.7h0M79.1 249.7h0M36.7 281.5h0M106.0 290.9h0M65.8 242.8h0M78.4 264.8h0M81.7 229.7h0M108.4 253.7h0M111.0 279.3h0M107.7 237.0h0M53.0 251.8h0M117.5 255.1h0M106.4 222.1h0M12.2 283.0h0M45.2 265.6h0M76.5 230.2h0M115.2 285.4h0M16.0 289.8h0M90.6 299.8h0M111.2 258.7h0M20.1 291.8h0M34.9 252.5h0M68.2 246.6h0M87.4 286.3h0M81.3 301.8h0M23.8 226.4h0M58.3 265.1h0M31.7 230.8h0M102.9 274.8h0M58.8 266.0h0M39.8 277.1h0M82.6 285.4h0M35.6 264.7h0M50.5 222.4h0M27.9 293.3h0M99.9 255.9h0M43.0 286.2h0M33.5 247.1h0M87.7 277.2h0M92.9 300.3h0M76.5 289.8h0M48.4 258.5h0M55.9 298.1h0M67.8 242.5h0M63.5 292.6h0M85.4 288.5h0M101.1 243.8h0M116.7 254.5h0M65.5 304.9h0M115.0 297.1h0M35.4 300.8h0M82.3 291.9h0M70.6 264.7h0M24.9 253.1h0M110.0 233.7h0M104.2 233.8h0M38.9 226.0h0M18.2 235.0h0M73.7 222.3h0M100.0 299.9h0M39.8 264.8h0M64.2 278.1h0M59.9 241.6h0M88.4 291.1h0M40.0 273.3h0M103.7 253.4h0M112.9 279.1h0M43.4 273.9h0M12.8 256.2h0M19.2 269.8h0M103.6 262.4h0M116.7 238.5h0M49.2 270.0h0M65.9 283.9h0M68.9 302.0h0M119.5 253.7h0M99.5 261.6h0M74.7 266.4h0M54.1 295.7h0M52.9 247.9h0M89.8 223.4h0M99.9 257.7h0M30.5 224.3h0M119.1 232.5h0M110.2 298.1h0M35.1 291.5h0M17.7 278.8h0M109.9 222.8h0M38.9 303.1h0M18.0 274.5h0M84.5 268.9h0M65.4 235.5h0M93.1 285.7h0M74.3 275.2h0M112.5 240.9h0M70.5 243.7h0M61.9 298.0h0M65.4 272.7h0M101.0 273.9h0M58.1 285.3h0M28.4 244.0h0M97.4 255.5h0M119.1 228.6h0M98.2 296.9h0M56.4 298.8h0M30.5 238.8h0M116.5 227.7h0M21.5 251.5h0M108.5 230.7h0M74.6 290.3h0M75.3 265.2h0M40.0 288.5h0M59.7 296.9h0M38.4 270.4h0M119.0 228.9h0M52.0 286.2h0M16.3 268.8h0M111.5 298.1h0M25.3 240.0h0M64.6 241.0h0M117.4 232.4h0M115.6 251.1h0M67.6 237.6h0M36.5 282.3h0M37.3 246.5h0M65.3 279.0h0M120.4 304.6h0M92.8 225.4h0M110.5 246.2h0M79.5 261.9h0M66.6 300.6h0M89.0 304.1h0M20.2 233.2h0M16.7 282.5h0M41.8 262.0h0M92.5 290.6h0M30.9 228.5h0M93.2 255.9h0M93.8 262.9h0M96.4 233.4h0M104.3 300.8h0M16.7 243.0h0M100.5 276.6h0M71.6 240.6h0M38.0 286.9h0M56.8 268.5h0M77.5 260.3h0M98.1 286.0h0M38.2 288.5h0M26.7 297.8h0M20.4 301.7h0M85.4 299.8h0M39.1 227.9h0M108.8 271.2h0M110.4 278.8h0M82.6 239.9h0M114.4 238.4h0M35.3 246.1h0M67.6 297.7h0M35.7 228.5h0M93.9 283.1h0M118.4 251.0h0M112.6 299.0h0M99.6 239.0h0M99.1 263.7h0M110.9 301.6h0M39.8 246.3h0M67.0 297.4h0M38.0 305.3h0M48.3 232.8h0M28.3 236.8h0M99.2 254.4h0M107.9 293.5h0M95.7 249.2h0M45.2 253.7h0M97.4 252.7h0M41.3 227.8h0M47.2 223.2h0M40.0 285.7h0M76.9 238.0h0M25.1 254.5h0M105.8 264.1h0M36.6 288.2h0M13.3 291.6h0M29.6 249.5h0M33.6 258.6h0M41.3 256.1h0M100.6 239.9h0M32.6 255.2h0M85.8 273.2h0M17.7 274.6h0M60.4 271.3h0M50.4 232.5h0M95.0 249.5h0M112.4 305.0h0M59.8 225.5h0M121.2 295.0h0M26.3 267.9h0M45.4 228.7h0M26.6 227.0h0M76.3 288.6h0M53.4 276.6h0M20.6 303.1h0M88.3 253.6h0M115.5 238.7h0M112.1 293.4h0M19.9 282.6h0M110.1 231.8h0M42.5 255.4h0M97.3 302.5h0M26.6 256.7h0M75.3 284.3h0M62.8 276.5h0M91.8 235.8h0M26.4 248.0h0M53.5 297.2h0M120.5 271.4h0M94.8 246.1h0M47.0 263.1h0M87.0 287.6h0M58.8 238.3h0M23.4 295.2h0M70.7 293.6h0M53.6 246.9h0M96.9 232.9h0M55.1 224.0h0M12.7 277.4h0M21.9 292.5h0M20.7 302.8h0M31.6 292.5h0M16.7 289.2h0M15.8 298.8h0M60.9 270.6h0M53.8 254.1h0M63.3 250.4h0M62.3 237.0h0M19.4 252.9h0M94.3 233.1h0M105.8 290.7h0M117.5 236.1h0M121.4 268.4h0M81.7 273.9h0M78.7 282.2h0M89.9 222.2h0M50.5 300.5h0M77.3 277.7h0M83.4 275.3h0M25.9 303.4h0M37.4 277.3h0M93.5 268.8h0M108.2 232.8h0M85.7 283.1h0M79.1 269.8h0M77.3 275.3h0M84.9 299.5h0M80.3 293.2h0M28.1 244.8h0M35.8 289.0h0M56.4 277.5h0M63.4 285.7h0M62.6 302.0h0M66.7 296.4h0M30.3 255.6h0M17.7 260.2h0M34.4 278.0h0M31.6 274.7h0M59.0 300.1h0M93.7 246.9h0M44.7 301.3h0M26.9 252.9h0M86.5 258.3h0M87.6 275.1h0M34.3 248.8h0M61.7 240.1h0M50.1 231.1h0M111.0 305.8h0M29.9 231.8h0M95.4 284.4h0M104.7 274.6h0M119.2 304.2h0M39.8 279.1h0M74.7 277.4h0M108.7 272.0h0M37.0 292.3h0M21.7 297.2h0M86.3 284.0h0M93.3 283.1h0M101.1 263.5h0M104.2 268.9h0M57.7 279.5h0M88.3 242.6h0M36.4 304.5h0M106.7 234.7h0M85.9 290.8h0M105.6 272.7h0M30.5 298.9h0M30.9 268.4h0M111.4 273.1h0M36.6 269.0h0M85.8 240.9h0M40.9 292.1h0M16.5 302.7h0M80.5 276.9h0M99.7 239.1h0M74.1 296.1h0M65.0 279.3h0M24.3 304.3h0M61.6 255.6h0M84.1 229.2h0M38.1 266.2h0M86.8 225.3h0M118.4 288.2h0M73.9 245.2h0M40.1 291.5h0M91.6 246.3h0M38.6 298.3h0M111.4 301.5h0M40.4 276.7h0M39.6 303.5h0M51.3 259.9h0M104.3 283.0h0M119.8 237.1h0M116.9 226.6h0M31.2 232.2h0M112.7 258.0h0M96.5 228.0h0M61.9 259.5h0M68.2 292.8h0M111.3 222.9h0M71.9 233.4h0M16.4 235.4h0M118.3 272.3h0M28.5 256.4h0M69.1 227.8h0M26.3 230.4h0M52.2 255.0h0M59.6 255.4h0M45.8 230.0h0M64.2 256.4h0M60.9 305.2h0M84.4 256.3h0M39.0 271.6h0M106.6 262.8h0M50.8 234.3h0M82.8 276.1h0M122.3 229.2h0M48.1 294.2h0M90.1 281.6h0M113.0 230.5h0M78.3 270.9h0M65.5 285.5h0M22.1 295.6h0M89.8 267.6h0M37.3 285.8h0M75.6 254.4h0M57.4 234.9h0M47.3 257.9h0M101.8 240.4h0M120.8 247.0h0M104.0 282.2h0M112.1 243.8h0M110.5 298.1h0M84.9 267.1h0M81.0 256.6h0M57.5 262.9h0M59.7 281.5h0M17.5 303.7h0M116.9 238.5h0M113.5 246.9h0M72.5 243.5h0M52.4 275.5h0M54.5 226.1h0M82.8 289.2h0M119.6 237.1h0M52.6 305.7h0M55.7 282.5h0M93.7 266.1h0M34.1 285.4h0M108.3 280.8h0M46.6 232.4h0M52.5 281.0h0M85.5 285.9h0M45.6 250.7h0M112.0 300.6h0M91.2 244.3h0M80.7 251.7h0M30.1 231.0h0M50.5 258.7h0M16.8 237.7h0M98.3 264.2h0M89.2 270.6h0M93.8 223.7h0M97.5 243.5h0M92.6 222.9h0M48.7 226.7h0M104.6 291.3h0M121.5 274.3h0M75.4 300.4h0M103.2 257.8h0M83.3 228.2h0M100.3 260.5h0M31.0 288.7h0M66.9 297.9h0M88.6 299.1h0M68.3 305.0h0M109.8 288.7h0M59.9 274.4h0M87.5 223.0h0M13.7 261.6h0M69.6 303.2h0M50.4 279.2h0M18.0 250.3h0M39.9 270.9h0M33.2 305.8h0M84.7 266.5h0M109.3 268.3h0M73.1 269.4h0M88.3 302.0h0M102.6 290.3h0M21.3 232.4h0M79.1 251.7h0M97.0 285.2h0M42.1 300.6h0M117.3 238.0h0M111.6 287.9h0M54.2 285.0h0M43.4 281.1h0M101.6 300.0h0M46.3 294.4h0M55.9 296.2h0M55.6 280.7h0M43.0 293.8h0M104.4 244.3h0M59.5 241.4h0M53.8 226.9h0M98.2 296.8h0M111.9 274.5h0M54.2 229.0h0M87.7 292.8h0M51.6 285.6h0M115.6 260.9h0M69.3 238.4h0M47.2 230.1h0M16.0 302.5h0M27.9 272.8h0M67.1 233.0h0M74.0 237.4h0M85.7 265.5h0M18.7 224.9h0M98.2 290.4h0M73.9 253.4h0M78.4 249.1h0M54.3 241.4h0M89.0 277.3h0M88.1 285.6h0M28.3 225.5h0M58.3 298.0h0M46.5 301.4h0M113.7 305.3h0M65.5 280.2h0M97.5 227.2h0M32.7 258.6h0M69.8 278.7h0M92.9 276.7h0M36.5 271.9h0M52.7 242.7h0M58.9 287.6h0M109.0 292.8h0M65.4 276.7h0M35.3 287.5h0M77.1 277.9h0M97.7 300.7h0M74.3 264.5h0M63.4 301.5h0M108.2 234.0h0M96.4 253.2h0M88.6 287.8h0M16.0 278.4h0M31.4 229.8h0M51.5 227.3h0M40.5 223.9h0M104.7 236.7h0M13.7 270.8h0M119.0 279.6h0M90.6 254.0h0M87.4 300.1h0M118.9 276.2h0M72.7 257.2h0M70.4 242.4h0M19.3 264.4h0M19.6 267.2h0M40.2 255.7h0M85.9 293.6h0M59.1 255.9h0M91.0 228.0h0M47.5 231.2h0M96.9 277.2h0M96.5 241.7h0M35.3 230.6h0M119.3 293.4h0M110.4 241.9h0M102.2 275.3h0M42.5 298.8h0M50.7 266.5h0M100.4 305.4h0M118.2 224.4h0M21.0 288.2h0M101.4 275.3h0M16.6 301.8h0M78.5 250.2h0M36.1 279.4h0M55.5 248.5h0M113.2 248.2h0M43.8 240.7h0M27.7 272.5h0M51.4 249.4h0M21.2 285.9h0M14.3 293.8h0M93.3 262.0h0M40.8 234.9h0M28.1 274.8h0M82.9 280.5h0M120.0 254.0h0M93.8 303.0h0M89.4 263.5h0M88.8 264.4h0M80.3 296.0h0M38.7 284.7h0M81.1 272.8h0M67.0 236.6h0M90.9 298.1h0M25.9 245.4h0M100.9 241.6h0M45.0 300.8h0M119.6 248.9h0M94.8 246.0h0M99.9 250.3h0M19.5 258.8h0M72.0 304.8h0M49.4 266.2h0M63.0 244.6h0M54.2 224.0h0M93.7 261.1h0M41.9 230.3h0M111.1 223.6h0M46.8 277.7h0M29.0 229.2h0M102.4 241.1h0M120.4 282.0h0M77.4 232.4h0M48.0 283.2h0M24.1 274.4h0M54.7 249.7h0M62.0 291.7h0M85.9 265.2h0M94.3 298.6h0M25.8 291.5h0M20.4 229.9h0M99.6 225.7h0M75.7 270.3h0M107.5 275.1h0M96.8 257.5h0M108.2 278.8h0M98.0 301.2h0M111.7 304.1h0M42.3 283.9h0M33.8 246.9h0M102.6 239.5h0M75.7 257.6h0M89.4 284.6h0M30.5 272.9h0M79.2 274.1h0M19.3 253.9h0M25.5 279.7h0M62.4 265.7h0M72.5 277.4h0M121.5 268.6h0M72.3 227.7h0M104.7 250.3h0M97.1 230.1h0M35.2 252.8h0M75.5 232.3h0M120.6 258.3h0M48.5 283.2h0M77.6 282.2h0M87.6 286.0h0M87.3 247.3h0M44.2 298.4h0M87.7 299.9h0M12.9 273.4h0M77.7 267.7h0M121.5 234.2h0M11.5 261.0h0M50.4 245.8h0M11.8 304.5h0M68.4 249.1h0M15.8 252.6h0M51.3 293.2h0M84.3 289.1h0M18.8 297.6h0M98.8 257.8h0M89.7 289.0h0M61.4 253.3h0M60.2 279.9h0M108.8 276.7h0M65.3 296.6h0M117.1 246.6h0M89.3 226.2h0M29.5 259.2h0M121.8 241.5h0M72.3 290.0h0M34.1 294.9h0M92.7 285.8h0M51.3 281.9h0M47.6 262.1h0M33.5 235.1h0M12.9 257.5h0M86.5 231.1h0M120.2 243.7h0M101.6 236.3h0M16.9 304.4h0M21.1 293.2h0M39.2 273.2h0M104.8 304.2h0M40.2 276.7h0M52.2 238.1h0M59.5 268.3h0M13.1 239.0h0M71.6 237.2h0M115.1 284.4h0M62.2 259.9h0M40.3 259.0h0M56.2 262.6h0M89.5 259.7h0M73.3 298.3h0M16.6 305.9h0M33.7 225.8h0M85.3 275.0h0M36.0 249.5h0M93.4 254.9h0M51.6 302.0h0M99.0 233.8h0M62.1 273.3h0M58.5 278.4h0M108.9 298.0h0M48.6 225.8h0M104.3 292.0h0M121.7 250.8h0M28.2 293.8h0M37.5 232.1h0M56.7 283.4h0M119.1 247.1h0M88.6 249.4h0M20.2 277.9h0M108.7 250.5h0M60.3 237.1h0M98.3 270.2h0M36.5 249.0h0M121.8 226.2h0M27.2 277.9h0M36.2 304.3h0M59.2 273.3h0M105.4 257.1h0M70.2 283.5h0M102.3 250.5h0M14.2 296.5h0M107.8 299.0h0M69.6 241.1h0M49.3 226.2h0M108.4 287.0h0M33.6 297.3h0M97.5 240.8h0M64.3 294.3h0M97.3 255.0h0M97.8 265.4h0M105.8 289.1h0M98.7 272.5h0M108.5 237.1h0M78.9 252.3h0M57.3 289.7h0M80.8 235.2h0M108.6 251.1h0M97.1 255.3h0M73.5 262.3h0M35.3 263.2h0M11.6 292.7h0M93.6 248.1h0M44.4 240.6h0M46.0 222.8h0M105.7 282.3h0M76.7 269.4h0M44.2 247.1h0M26.7 234.0h0M33.2 251.5h0M31.7 294.3h0M122.2 282.4h0M88.9 270.2h0M76.0 275.5h0M17.3 272.8h0M93.8 299.7h0M67.8 293.9h0M27.9 258.8h0M97.1 279.4h0M24.4 238.6h0M69.9 292.6h0M80.6 288.6h0M49.0 224.3h0M60.0 276.0h0M116.6 271.9h0M69.6 244.4h0M39.6 288.5h0M35.3 236.2h0M64.0 233.6h0M70.0 262.2h0M60.4 291.4h0M33.0 227.3h0M29.8 267.5h0M39.1 257.7h0M22.8 237.8h0M92.5 262.2h0M52.9 292.7h0M98.5 224.5h0M39.9 290.7h0M107.2 299.8h0M102.4 251.1h0M58.8 257.1h0M51.7 278.6h0M44.8 301.5h0M33.0 289.0h0M122.3 257.4h0M20.5 263.2h0M63.8 277.3h0M54.4 265.9h0M17.9 223.1h0M92.8 242.6h0M16.5 298.1h0M16.5 283.0h0M22.9 297.9h0M48.7 226.4h0M120.8 239.6h0M78.6 299.5h0M106.2 266.7h0M47.4 259.1h0M99.4 288.5h0M89.7 300.5h0M60.8 232.6h0M97.8 275.2h0M55.1 227.6h0M24.0 277.5h0M117.1 274.6h0M44.6 232.2h0M82.0 288.0h0M63.1 296.0h0M118.7 231.5h0M72.4 253.9h0M37.5 282.8h0M113.8 278.3h0M42.3 262.8h0M83.3 262.8h0M32.1 236.1h0M63.1 270.1h0M109.2 239.2h0M40.8 239.1h0M95.7 254.9h0M106.8 282.0h0M72.7 243.5h0M47.9 226.3h0M69.0 238.6h0M44.5 304.6h0M90.6 227.2h0M42.7 241.9h0M91.6 300.3h0M43.9 304.1h0M93.8 278.9h0M40.1 283.7h0M105.3 293.7h0M89.3 270.5h0M100.0 235.1h0M58.8 304.7h0M88.3 270.4h0M71.9 295.2h0M50.6 228.7h0M105.7 277.5h0M73.9 266.0h0M103.0 235.1h0M48.0 224.8h0M32.5 224.1h0M11.7 254.1h0M51.1 296.2h0M58.6 294.1h0M88.9 287.3h0M22.4 250.7h0M25.1 276.9h0M108.1 223.9h0M58.4 271.5h0M77.0 230.8h0M71.4 232.2h0M86.3 237.0h0M97.3 263.3h0M80.5 231.9h0M12.0 285.9h0M11.9 279.6h0M58.8 256.1h0M14.6 233.1h0M96.5 291.1h0M71.6 226.5h0M113.0 290.8h0M106.6 259.1h0M65.4 302.4h0M48.6 249.4h0M117.1 292.0h0M114.0 301.0h0M13.1 300.0h0M92.4 299.2h0M75.7 257.9h0M85.6 292.5h0M80.2 292.5h0M98.1 249.9h0M96.6 259.4h0M109.2 279.9h0M24.7 278.7h0M58.7 240.2h0M70.0 294.0h0M33.1 229.8h0M40.7 292.7h0M74.1 236.0h0M29.0 223.0h0M22.8 303.1h0M92.3 291.0h0M18.6 296.9h0M77.9 243.3h0M28.9 242.4h0M90.1 251.2h0M73.8 226.7h0M117.6 268.5h0M35.4 287.8h0M38.3 242.7h0M84.8 239.9h0M77.2 243.8h0M76.0 276.1h0M17.7 239.5h0M84.8 263.2h0M75.4 273.9h0M88.3 266.8h0M20.3 275.9h0M89.9 263.0h0M24.7 236.5h0M49.2 249.6h0M75.0 238.9h0M64.1 262.1h0M107.1 292.9h0M51.3 243.2h0M86.1 264.8h0M45.1 269.1h0M104.7 242.2h0M102.3 265.7h0M92.0 258.7h0M100.3 240.5h0M41.1 281.0h0M25.3 275.3h0M95.8 231.2h0M103.6 242.1h0M21.3 296.3h0M87.7 267.3h0M99.7 236.2h0M40.9 269.2h0M21.9 255.6h0M25.5 261.5h0M70.9 252.4h0M52.1 298.9h0M54.7 269.5h0M51.6 292.0h0M63.1 290.0h0M114.9 224.4h0M38.9 285.7h0M72.5 293.8h0M65.2 298.2h0M25.5 267.9h0M35.8 296.1h0M90.0 292.4h0M69.7 275.7h0M92.5 238.5h0M77.3 238.1h0M101.4 253.4h0M54.6 227.2h0M103.4 298.8h0M111.6 274.4h0M76.2 267.9h0M55.1 242.1h0M25.1 266.6h0M117.8 229.7h0M105.5 305.9h0M53.5 275.0h0M15.9 255.3h0M86.4 302.1h0M22.7 233.0h0M99.5 240.0h0M48.3 297.7h0M108.4 275.9h0M117.8 299.6h0M51.5 275.7h0M64.9 236.8h0M23.9 274.0h0M95.1 228.9h0M58.1 235.9h0M32.1 230.9h0M82.6 263.5h0M106.9 294.3h0M114.2 241.2h0M64.7 236.1h0M114.5 292.9h0M81.1 290.5h0M34.1 273.7h0M117.6 253.8h0M74.3 270.6h0M63.4 301.5h0M64.6 254.5h0M23.3 260.4h0M24.1 232.4h0M70.4 230.4h0M70.1 237.0h0M107.6 295.7h0M115.6 256.3h0M42.4 299.6h0M85.7 273.4h0M55.6 222.8h0M49.4 237.0h0M112.3 261.0h0M21.9 249.4h0M23.0 294.6h0M92.5 275.8h0M34.1 291.3h0M88.1 222.7h0M96.4 278.6h0M34.7 229.1h0M103.7 280.1h0M39.8 262.9h0M61.5 291.6h0M65.4 291.6h0M42.3 266.4h0M63.1 299.2h0M53.7 246.9h0M34.6 228.7h0M97.3 253.2h0M57.1 240.0h0M99.5 260.9h0M23.3 298.3h0M101.9 273.1h0M28.0 230.1h0M61.0 236.8h0M91.3 300.4h0M84.9 234.3h0M66.9 275.3h0M46.1 279.2h0M81.2 273.4h0M81.9 233.9h0M50.3 238.4h0M61.4 291.2h0M14.5 259.4h0M21.3 281.4h0M99.6 224.7h0M22.8 295.0h0M18.4 253.7h0M105.7 242.3h0M70.7 291.7h0" stroke="#e97a84" stroke-width="1.35" stroke-linecap="round" fill="none" stroke-opacity="0.9"/>
<path d="M63.7 283.3h0M58.9 248.7h0M107.6 293.0h0M100.8 257.5h0M52.1 239.2h0M27.2 254.6h0M89.5 289.3h0M59.4 223.0h0M30.9 294.5h0M39.0 265.7h0M111.2 286.1h0M23.5 243.3h0M111.0 235.7h0M93.8 235.1h0M92.0 245.3h0M116.4 288.8h0M121.3 228.8h0M79.6 264.5h0M32.5 254.0h0M35.6 224.6h0M118.1 273.7h0M118.0 272.2h0M62.7 256.2h0M75.4 238.1h0M81.1 281.6h0M99.2 235.5h0M24.9 252.6h0M45.8 297.5h0M64.7 234.4h0M58.2 253.3h0M97.5 277.6h0M22.9 231.3h0M23.0 234.2h0M30.6 235.7h0M119.4 293.6h0M65.2 234.8h0M39.0 259.9h0M72.8 255.9h0M58.8 299.7h0M102.2 267.9h0M66.6 294.8h0M80.0 284.0h0M97.6 228.7h0M63.1 257.9h0M36.5 302.6h0M106.8 276.4h0M106.8 266.9h0M46.5 306.1h0M77.6 278.6h0M82.5 282.2h0M48.8 234.8h0M109.3 289.5h0M31.8 256.6h0M53.7 248.7h0M15.7 241.8h0M22.8 293.0h0M96.3 275.1h0M27.7 233.9h0M43.5 288.2h0M75.6 278.3h0M119.0 272.2h0M32.9 233.4h0M115.3 232.0h0M93.0 281.5h0M17.4 250.9h0M103.8 272.1h0M119.5 240.3h0M84.3 295.4h0M90.5 227.9h0M25.9 297.1h0M85.3 303.5h0M66.0 238.5h0M17.3 254.6h0M23.0 255.4h0M111.0 284.4h0M56.4 289.2h0M58.0 296.2h0M13.2 279.5h0M40.6 268.4h0M90.5 305.8h0M39.7 273.3h0M81.8 284.9h0M109.3 293.1h0M60.9 258.3h0M26.2 277.3h0M100.8 278.8h0M80.7 228.1h0M33.7 234.2h0M77.7 265.0h0M73.6 279.4h0M114.4 244.1h0M119.3 243.3h0M51.5 284.9h0M77.2 236.2h0M31.8 270.2h0M92.8 288.5h0M50.0 302.0h0M101.1 256.8h0M17.8 288.9h0M107.9 304.1h0M109.9 292.8h0M25.2 286.9h0M82.7 232.2h0M83.2 267.8h0M67.1 254.9h0M32.0 248.6h0M30.8 253.2h0M56.2 257.1h0M81.1 231.8h0M52.7 273.0h0M85.4 294.4h0M36.0 262.4h0M54.8 266.6h0M85.0 285.7h0M94.2 249.7h0M66.0 232.1h0M20.9 231.2h0M19.3 282.6h0M33.7 283.4h0M101.2 269.2h0M48.5 235.5h0M47.5 228.2h0M53.5 268.0h0M14.0 295.3h0M12.0 228.3h0M24.4 306.0h0M63.4 253.5h0M89.3 259.5h0M65.1 233.8h0M103.5 241.0h0M62.5 239.1h0M65.7 292.3h0M71.9 228.2h0M38.9 267.9h0M14.4 304.3h0M27.3 224.7h0M103.7 222.4h0M29.1 282.0h0M49.5 300.7h0M24.8 275.7h0M61.7 304.6h0M63.9 224.1h0M27.2 262.4h0M23.1 298.9h0M26.6 237.0h0M36.7 223.0h0M58.0 244.7h0M65.6 255.5h0M113.0 292.4h0M100.5 263.4h0M92.8 228.2h0M94.0 305.4h0M95.1 248.4h0M31.5 288.1h0M30.8 257.9h0M55.7 253.6h0M45.2 281.9h0M54.4 285.1h0M85.8 249.1h0M83.8 279.9h0M108.5 278.4h0M100.4 226.4h0M109.4 288.8h0M18.3 297.3h0M95.5 222.6h0M83.9 301.2h0M68.4 254.1h0M66.3 239.1h0M109.8 290.4h0M65.3 258.7h0M41.3 224.3h0M96.7 301.6h0M93.6 263.9h0M105.3 236.1h0M57.9 269.2h0M21.9 275.7h0M16.8 261.9h0M117.7 231.5h0M94.4 235.9h0M34.4 274.3h0M47.7 296.1h0M98.9 281.3h0M21.9 297.9h0M34.3 243.0h0M102.6 281.4h0M82.3 298.9h0M77.1 298.4h0M108.8 275.2h0M46.4 246.9h0M17.3 230.8h0M100.2 227.5h0M100.3 246.9h0M21.1 297.7h0M14.3 269.6h0M98.4 240.5h0M45.6 248.7h0M116.1 277.0h0M46.2 237.6h0M112.4 251.2h0M49.5 285.6h0M31.3 255.9h0M84.4 285.9h0M90.1 303.4h0M42.3 223.1h0M26.9 285.2h0M122.1 262.8h0M44.1 222.6h0M67.8 273.0h0M112.2 277.3h0M28.4 228.6h0M105.5 298.8h0M80.2 267.4h0M112.5 289.8h0M34.6 292.4h0M114.2 303.4h0M88.0 247.0h0M13.2 306.0h0M74.1 247.5h0M115.9 287.7h0M58.1 280.1h0M120.8 229.3h0M121.9 229.5h0M78.6 245.3h0M93.9 300.5h0M62.0 223.1h0M32.0 247.5h0M111.4 267.1h0M101.7 250.2h0M99.6 290.6h0M93.9 242.5h0M43.9 263.5h0M67.5 225.3h0M37.9 281.6h0M110.3 278.1h0M56.4 282.7h0M119.6 247.6h0M109.7 300.1h0M18.7 278.4h0M40.7 301.5h0M27.7 246.2h0M23.8 286.1h0M22.3 250.0h0M80.1 282.2h0M84.9 229.7h0M53.4 299.7h0M94.7 237.5h0M106.1 293.5h0M26.3 242.5h0M35.3 289.6h0M23.8 301.2h0M107.4 273.7h0M108.1 291.7h0M78.1 289.2h0M81.4 271.7h0M41.7 302.7h0M18.1 256.4h0M36.6 276.5h0M65.1 258.3h0M86.7 228.6h0M98.3 276.9h0M74.8 236.1h0M47.2 292.8h0M104.3 303.4h0M76.1 222.2h0M35.1 281.2h0M35.0 290.6h0M79.4 271.8h0M45.9 250.3h0M41.6 287.2h0M103.7 280.6h0M89.3 288.0h0M30.8 294.1h0M120.0 246.2h0M63.0 276.5h0M37.3 254.0h0M52.9 299.9h0M31.1 276.5h0M56.6 251.2h0M25.0 268.9h0M29.6 269.3h0M55.8 263.6h0M91.7 278.6h0M64.6 244.6h0M66.3 233.7h0M111.8 303.0h0M89.4 301.3h0M97.2 264.1h0M64.3 299.8h0M56.7 256.7h0M48.7 295.5h0M25.1 293.6h0M52.8 228.4h0M104.8 295.4h0M110.4 285.9h0M96.5 245.4h0M63.0 298.9h0M113.0 242.5h0M14.2 285.9h0M102.3 279.0h0M105.8 270.8h0M18.7 284.7h0M71.2 275.0h0M113.2 275.1h0M96.1 284.6h0M111.6 277.1h0M49.6 222.2h0M116.6 278.2h0M98.8 298.9h0M93.5 230.3h0M78.4 250.5h0M46.4 245.4h0M76.9 275.5h0M53.6 279.1h0M48.9 231.5h0M91.4 296.4h0M102.7 281.9h0M78.0 264.5h0M98.9 252.2h0M73.2 233.0h0M67.9 276.1h0M103.3 242.6h0M62.4 280.2h0M114.3 228.5h0M88.8 295.8h0M22.2 275.9h0M115.4 292.2h0M97.4 260.0h0M55.5 240.5h0M54.5 250.5h0M95.1 279.6h0M32.4 246.3h0M118.8 239.7h0M37.4 278.8h0M110.0 298.1h0M28.1 257.6h0M53.8 286.7h0M35.8 301.4h0M39.1 284.5h0M35.4 285.6h0M83.6 297.9h0M118.4 273.6h0M65.4 231.6h0M12.4 257.1h0M101.9 279.6h0M76.7 230.0h0M57.0 262.7h0M74.6 296.3h0M82.5 274.9h0M28.1 305.7h0M67.6 288.5h0M37.9 251.7h0M73.7 223.8h0M34.2 248.0h0M70.1 271.2h0M116.3 292.2h0M26.0 250.5h0M16.8 265.0h0M95.4 222.2h0M44.7 231.3h0M31.4 273.2h0M12.9 274.6h0M58.3 277.7h0M68.0 276.0h0M76.5 231.6h0M111.1 236.0h0M75.6 289.1h0M37.1 273.2h0M46.9 251.8h0M14.3 305.5h0M92.4 297.0h0M92.1 269.2h0M118.3 269.9h0M103.0 243.7h0M75.9 303.7h0M58.4 225.6h0M12.2 264.2h0M22.3 228.0h0M78.1 286.0h0M57.5 302.1h0M122.3 251.5h0M75.2 291.4h0M97.5 302.0h0M75.3 233.4h0M80.9 286.0h0M79.9 292.1h0M57.3 293.3h0M66.0 273.7h0M60.1 278.3h0M45.3 242.7h0M58.7 283.8h0M74.7 246.8h0M53.0 281.0h0M117.3 265.1h0M70.0 292.5h0M66.7 274.1h0M75.2 251.3h0M12.2 267.0h0M72.2 250.2h0M63.9 249.7h0M64.0 272.3h0M61.0 255.5h0M32.0 267.2h0M24.9 239.7h0M64.6 233.9h0M53.7 261.0h0M85.4 259.7h0M62.3 288.4h0M111.2 286.9h0M51.3 246.6h0M12.7 262.0h0M83.5 281.1h0M23.7 278.5h0M46.3 289.3h0M87.0 288.5h0M109.5 286.3h0M107.6 226.1h0M32.7 250.5h0M74.9 289.8h0M27.1 238.0h0M79.9 285.9h0M104.4 234.3h0M19.7 289.4h0M30.1 286.1h0M93.7 268.5h0M12.5 279.9h0M75.2 229.5h0M16.1 300.4h0M95.6 238.0h0M97.9 263.0h0M101.4 264.7h0M48.1 264.7h0M27.9 232.8h0M47.9 297.7h0M69.6 226.0h0M107.4 302.6h0M56.7 265.4h0M40.5 253.5h0M108.8 279.3h0M59.9 284.2h0M36.5 305.9h0M22.4 232.5h0M108.9 299.6h0M90.0 248.9h0M81.7 236.1h0M106.3 284.9h0M56.0 251.5h0M26.1 232.7h0M81.9 285.8h0M116.2 249.5h0M95.1 246.9h0M109.4 234.7h0M84.2 229.2h0M52.8 230.9h0M67.5 251.1h0M54.0 280.5h0M83.1 270.4h0M117.4 274.4h0M28.2 250.5h0M72.6 302.8h0M106.4 282.7h0M55.5 263.7h0M79.1 249.2h0M17.7 300.4h0M76.6 289.4h0M97.7 223.4h0M90.9 303.2h0M75.3 238.5h0M18.1 276.2h0M97.3 235.2h0M47.0 233.2h0M58.8 281.1h0M78.4 297.0h0M52.4 237.3h0M99.9 267.5h0M19.7 290.2h0M78.2 288.6h0M86.9 287.4h0M70.4 247.0h0M64.5 237.6h0M84.6 293.0h0M98.6 292.1h0M105.2 284.2h0M29.2 265.4h0M85.6 303.2h0M65.5 275.9h0M85.7 266.2h0M120.5 243.8h0M36.8 291.3h0M120.6 247.3h0M27.3 239.0h0M118.7 259.6h0M86.9 276.9h0M43.8 268.7h0M23.4 237.1h0M78.8 296.4h0M77.1 303.3h0M101.3 298.3h0M19.5 232.1h0M120.1 282.9h0M19.9 240.3h0M112.7 244.4h0M82.2 274.3h0M35.9 248.0h0M22.5 296.6h0M20.5 252.8h0M92.7 267.8h0M35.8 276.8h0M28.0 300.4h0M84.5 249.3h0M58.7 242.8h0M111.3 291.8h0M101.7 257.3h0M35.9 294.8h0M93.9 258.6h0M102.0 285.9h0M50.2 223.5h0M106.1 245.3h0M86.8 288.0h0M92.3 245.3h0M17.6 274.2h0M99.5 257.8h0M67.4 236.4h0M66.6 233.3h0M86.4 304.7h0M80.4 303.2h0M114.3 295.7h0M32.6 246.3h0M112.5 234.6h0M76.4 251.7h0M68.4 269.1h0M100.6 262.0h0M40.9 250.5h0M55.0 302.1h0M78.7 257.8h0M90.0 290.5h0M87.9 300.1h0M94.6 247.2h0M13.8 261.9h0M104.6 275.8h0M103.5 255.2h0M92.7 226.9h0M82.4 294.8h0M62.5 230.7h0M27.0 239.4h0M77.2 285.4h0M119.3 247.2h0M44.0 227.5h0M57.9 237.8h0M70.5 240.7h0M18.3 279.1h0M18.2 305.0h0M113.9 243.7h0M43.2 299.0h0M102.3 255.7h0M59.4 274.8h0M109.1 250.8h0M21.3 293.2h0M40.3 256.2h0M56.3 247.1h0M21.6 277.7h0M115.0 247.7h0M99.6 278.7h0M96.6 301.5h0M33.6 228.3h0M118.0 240.2h0M20.1 289.3h0M14.4 280.2h0M37.7 303.4h0M76.3 253.0h0M16.5 271.6h0M90.6 235.1h0M53.8 232.4h0M12.3 257.4h0M35.3 231.3h0M97.6 260.5h0M58.1 279.9h0M98.4 283.1h0M46.1 269.0h0M35.6 285.6h0M12.4 262.2h0M106.6 281.2h0M39.2 264.8h0M88.0 222.8h0M52.1 271.5h0M111.5 250.9h0M119.1 291.0h0M119.3 245.1h0M24.7 236.1h0M12.4 277.9h0M71.5 253.2h0M65.7 272.2h0M109.9 301.9h0M43.5 222.7h0M75.1 292.9h0M52.3 232.3h0M72.0 248.4h0M68.7 248.1h0M17.8 304.5h0M72.4 249.9h0M17.9 235.2h0M74.2 246.2h0M120.2 262.1h0M112.3 235.8h0M97.3 260.6h0M50.0 286.7h0M81.7 289.0h0M18.2 298.6h0M22.5 279.9h0M62.3 295.4h0M37.3 294.7h0" stroke="#e4545f" stroke-width="1.6" stroke-linecap="round" fill="none" stroke-opacity="0.9"/>
</g>
<rect x="11" y="310" width="112" height="84" fill="#ede7df" filter="url(#tx3)"/>
<g clip-path="url(#cp4)">
<path d="M14.3 370.9h0M63.7 379.7h0M115.7 337.1h0M55.9 365.8h0M82.3 356.1h0M30.3 330.3h0M81.3 370.2h0M24.3 342.4h0M61.7 337.2h0M19.2 390.6h0M83.1 354.7h0M107.0 325.1h0M35.6 333.9h0M42.9 357.3h0M114.7 387.0h0M101.3 365.6h0M34.1 355.0h0M82.0 358.4h0M101.8 363.9h0M49.3 360.8h0M121.1 323.0h0M20.2 368.2h0M104.1 324.8h0M69.6 335.4h0M59.1 366.0h0M29.0 378.2h0M11.8 350.6h0M57.0 317.7h0M66.2 327.8h0M80.8 318.3h0M59.8 378.8h0M38.7 377.6h0M15.8 321.7h0M101.3 367.0h0M27.6 361.5h0M90.0 349.8h0M55.5 329.1h0M22.5 391.5h0M28.4 364.6h0M83.4 330.8h0M19.8 366.7h0M108.6 317.9h0M42.1 391.2h0M74.5 322.2h0M31.2 361.1h0M50.7 387.2h0M97.9 326.8h0M62.6 392.9h0M39.3 318.4h0M102.8 351.4h0M85.3 355.3h0M94.2 351.0h0M39.5 390.9h0M88.5 369.5h0M78.3 352.8h0M54.6 378.5h0M40.0 376.4h0M46.1 311.4h0M47.8 350.9h0M72.4 347.1h0M34.8 384.9h0M27.6 341.6h0M61.3 334.5h0M74.2 345.4h0M14.6 321.8h0M83.0 345.8h0M49.3 333.9h0M31.8 316.4h0M77.4 333.4h0M41.3 341.3h0M56.4 385.8h0M49.7 329.0h0M119.2 321.1h0M45.5 385.1h0M33.0 386.1h0M57.7 392.1h0M18.2 324.4h0M74.5 348.9h0M24.5 316.6h0M112.7 346.8h0M71.6 327.7h0M110.8 335.5h0M54.1 335.7h0M78.2 347.4h0M65.3 318.9h0M65.9 311.6h0M43.9 383.9h0M117.9 366.3h0M33.5 343.3h0M113.1 351.8h0M111.1 372.9h0M25.7 325.5h0M13.2 345.4h0M91.0 328.7h0M35.7 367.5h0M81.7 393.0h0M46.6 315.4h0M54.9 381.4h0M99.1 371.7h0M102.5 323.7h0M73.2 312.3h0M49.0 355.2h0M116.1 319.7h0M16.7 355.7h0M12.2 364.8h0M95.8 371.9h0M100.5 346.7h0M109.5 361.2h0M96.7 345.6h0M53.4 324.9h0M97.9 324.4h0M38.4 368.7h0M110.6 310.6h0M44.9 341.7h0M17.3 385.0h0M111.1 368.6h0M56.2 372.8h0M104.3 311.5h0M33.7 390.9h0M22.6 385.8h0M17.3 327.6h0M56.3 382.5h0M54.9 357.5h0M45.2 357.2h0M18.9 321.0h0M58.1 376.6h0M19.1 364.3h0M83.0 319.4h0M57.6 386.3h0M70.3 368.7h0M41.1 365.9h0M37.9 381.8h0M65.4 347.6h0M100.5 382.4h0M115.6 356.0h0M43.2 323.8h0M45.0 354.4h0M36.4 322.7h0M97.7 344.6h0M87.1 329.2h0M53.1 332.0h0M107.5 391.5h0M50.1 363.0h0M23.3 334.6h0M94.6 389.8h0M98.0 367.7h0M79.4 313.2h0M31.7 324.8h0M21.8 342.5h0M34.4 368.9h0M71.9 346.4h0M53.0 371.7h0M44.9 359.3h0M78.2 361.0h0M27.6 367.1h0M114.5 315.0h0M12.3 354.6h0M14.8 371.2h0M104.5 364.7h0M28.5 347.9h0M103.6 375.1h0M14.5 391.6h0M104.6 386.0h0M18.2 388.2h0M57.2 339.1h0M77.2 370.5h0M69.4 338.4h0M57.3 385.1h0M86.0 334.0h0M12.1 343.0h0M83.4 360.1h0M52.4 340.2h0M107.8 335.4h0M64.2 311.9h0M99.1 324.4h0M119.4 344.9h0M75.7 361.2h0M19.5 342.8h0M21.7 389.2h0M83.4 350.6h0M74.3 320.1h0M30.6 326.0h0M114.1 342.3h0M66.5 369.2h0M39.6 381.1h0M85.9 385.0h0M105.2 337.0h0M80.4 355.7h0M116.5 382.5h0M59.9 358.4h0M65.7 347.8h0M93.3 389.8h0M91.0 320.1h0M39.6 392.5h0M12.8 317.8h0M118.1 367.1h0M18.9 389.4h0M66.4 386.2h0M45.4 317.7h0M101.5 333.9h0M76.6 342.9h0M35.0 382.2h0M50.6 323.7h0M57.4 365.0h0M43.9 355.4h0M72.2 331.3h0M95.2 390.4h0M25.1 371.2h0M104.1 352.2h0M83.4 324.7h0M46.8 321.8h0M50.8 331.8h0M21.0 342.6h0M117.0 390.8h0M82.9 325.2h0M110.6 316.6h0M69.2 383.0h0M90.5 330.0h0M78.4 388.3h0M118.5 390.8h0M90.6 389.5h0M57.9 345.4h0M41.6 365.3h0M64.6 338.9h0M19.7 316.5h0M23.3 349.6h0M58.8 355.3h0M115.7 341.8h0M113.8 363.9h0M81.8 369.7h0M57.4 338.9h0M76.1 315.6h0M42.8 312.4h0M110.9 358.1h0M80.0 392.1h0M108.2 356.9h0M33.4 383.2h0M96.5 319.4h0M105.0 369.8h0M54.2 327.1h0M13.2 378.5h0M111.3 340.6h0M114.9 347.4h0M40.1 360.8h0M61.8 373.6h0M92.7 331.3h0M67.5 335.8h0M52.6 339.3h0M19.1 350.3h0M88.3 352.9h0M100.3 340.5h0M55.1 316.8h0M116.9 385.3h0M18.4 315.7h0M110.3 384.3h0M50.4 358.0h0M54.5 377.8h0M87.5 347.3h0M115.6 327.5h0M33.0 393.5h0M78.5 338.5h0M109.5 345.5h0M105.7 340.2h0M43.3 386.7h0M105.4 346.8h0M29.3 349.3h0M25.6 336.5h0M28.5 380.3h0M61.9 386.5h0M16.2 320.6h0M27.2 339.9h0M53.1 387.6h0M108.9 380.0h0M70.7 375.9h0M96.3 360.1h0M59.6 333.7h0M116.5 334.5h0M29.4 381.8h0M18.8 324.9h0M24.2 360.5h0M30.9 346.2h0M77.3 373.9h0M65.2 363.6h0M20.4 348.2h0M86.2 348.0h0M40.2 362.9h0M68.1 312.5h0M40.1 388.4h0M118.2 324.6h0M33.5 329.3h0M48.7 380.3h0M21.2 333.7h0M105.3 355.8h0M109.6 387.2h0M107.3 318.4h0M79.1 360.5h0M104.4 346.1h0M115.5 362.5h0M13.8 382.5h0M41.6 388.6h0M32.5 357.7h0M24.8 361.2h0M31.3 355.8h0M29.9 354.7h0M27.4 389.3h0M102.7 315.7h0M101.0 343.5h0M24.2 362.7h0M114.9 356.8h0M75.3 371.8h0M27.9 313.5h0M102.9 332.9h0M71.3 315.0h0M44.6 337.1h0M82.1 324.6h0M59.1 365.6h0M73.6 329.2h0M88.1 361.2h0M78.5 343.8h0M26.1 352.2h0M48.3 349.4h0M118.1 361.1h0M106.8 338.3h0M119.8 325.3h0M24.9 345.9h0M62.0 366.1h0M56.9 375.4h0M79.9 381.8h0M122.1 358.1h0M115.3 380.8h0M102.8 360.8h0M56.8 313.4h0M96.5 357.9h0M87.9 318.0h0M82.9 370.4h0M65.9 370.0h0M23.0 350.4h0M65.2 325.6h0M93.5 349.0h0M78.2 363.7h0M76.8 350.9h0M118.6 321.6h0M52.7 330.0h0M53.8 343.1h0M57.2 326.3h0M83.1 381.4h0M76.6 367.3h0M77.1 391.7h0M66.8 318.5h0M17.0 371.2h0M51.6 341.5h0M116.3 383.9h0M52.1 340.4h0M26.2 388.7h0M75.8 339.7h0M39.0 378.5h0M118.0 318.2h0M71.7 350.9h0M89.6 348.2h0M61.0 358.0h0M94.7 323.6h0M99.2 347.8h0M77.8 363.9h0M87.0 388.8h0M65.8 331.2h0M33.5 325.5h0M113.8 387.6h0M84.9 354.7h0M42.3 366.6h0M45.7 357.0h0M96.8 325.9h0M29.2 334.0h0M40.2 389.4h0M44.2 338.6h0M99.8 365.4h0M60.7 377.8h0M38.3 386.0h0M69.8 344.2h0M90.2 323.4h0M37.1 359.7h0M13.3 311.5h0M86.3 381.4h0M113.7 315.7h0M76.3 331.0h0M30.8 356.1h0M54.6 389.9h0M111.5 332.8h0M102.7 339.3h0M74.9 333.5h0M28.3 318.9h0M27.8 380.7h0M82.7 371.0h0M43.9 323.3h0M18.1 351.0h0M99.2 381.6h0M107.2 317.2h0M120.6 326.7h0M47.6 330.4h0M120.4 375.3h0M107.6 388.1h0M64.2 379.3h0M109.1 392.4h0M121.3 313.2h0M94.7 363.8h0M82.2 329.1h0M77.3 344.0h0M69.9 385.5h0M89.7 378.7h0M90.8 371.8h0M103.6 368.2h0M17.6 347.0h0M83.2 377.7h0M110.4 393.1h0M88.0 390.0h0M111.3 341.8h0M23.3 331.4h0M22.3 369.2h0M114.5 355.1h0M41.3 337.7h0M94.9 329.6h0M57.7 382.1h0M20.2 323.3h0M103.5 370.5h0M115.2 339.1h0M19.0 390.3h0M68.4 330.5h0M95.9 330.6h0M79.9 352.1h0M104.3 316.5h0M102.4 326.1h0M84.1 365.1h0M52.7 320.6h0M43.8 343.0h0M34.0 391.3h0M50.1 318.1h0M109.2 370.4h0M29.5 356.2h0M35.3 318.5h0M101.3 336.8h0M70.5 375.9h0M12.2 339.4h0M33.3 358.6h0M79.1 354.0h0M91.4 347.5h0M32.4 325.9h0M89.0 346.2h0M60.8 368.7h0M48.8 353.4h0M102.4 324.1h0M113.4 321.6h0M115.5 361.8h0M121.0 333.4h0M43.3 361.6h0M115.3 313.9h0M72.5 372.0h0M22.9 319.6h0M14.1 392.9h0M77.2 334.4h0M70.6 313.8h0M108.4 345.5h0M114.6 387.2h0M117.1 357.3h0M107.6 370.0h0M32.2 373.0h0M81.5 343.6h0M120.2 352.8h0M100.5 349.7h0M60.7 379.7h0M23.8 346.4h0M106.4 362.5h0M116.4 390.0h0M118.2 391.8h0M62.1 390.1h0M28.3 318.2h0M77.9 384.4h0M101.5 320.9h0M120.3 371.6h0M50.9 332.0h0M22.0 371.9h0M103.6 337.5h0M97.5 393.0h0M54.9 353.3h0M50.9 312.8h0M45.7 381.7h0M11.8 346.1h0M110.6 331.1h0M59.3 330.4h0M108.9 372.6h0M52.2 353.5h0M72.7 330.4h0M53.6 388.4h0M16.2 323.7h0M50.5 337.2h0M75.5 391.7h0M11.9 322.8h0M12.2 379.2h0M55.6 379.9h0M28.0 379.9h0M15.6 322.7h0M111.8 342.7h0M109.0 344.7h0M51.3 348.9h0M28.6 367.2h0M18.9 387.3h0M117.6 312.4h0M30.1 390.5h0M77.9 348.2h0M117.2 362.0h0M105.7 351.8h0M11.7 363.9h0M76.3 370.9h0M114.0 375.7h0M88.6 392.8h0M106.2 386.8h0M77.1 322.0h0M114.4 310.9h0M55.8 344.7h0M43.3 345.4h0M89.3 361.0h0M23.4 333.3h0M40.4 340.7h0M100.4 355.5h0M24.9 361.1h0M40.5 386.1h0M15.3 370.6h0M122.3 341.6h0M90.9 391.3h0M34.1 367.3h0M98.0 316.5h0M93.4 366.7h0M39.8 340.3h0M31.5 316.1h0M94.2 345.4h0M119.4 314.5h0M113.3 331.5h0M101.0 372.9h0M103.9 351.8h0M105.7 311.2h0M78.9 339.3h0M95.1 316.1h0M35.8 345.2h0M20.3 338.7h0M82.5 372.7h0M89.4 351.7h0M41.0 320.9h0M88.4 376.8h0M87.7 370.0h0M60.1 379.5h0M55.6 377.8h0M112.0 380.4h0M13.6 369.4h0M17.9 374.0h0M84.9 333.0h0M73.3 316.5h0M93.0 370.7h0M120.4 337.2h0M70.1 333.2h0M114.8 321.9h0M39.8 348.4h0M19.3 354.6h0M85.8 344.3h0M17.6 390.5h0M12.0 375.0h0M20.5 376.6h0M46.9 346.9h0M69.0 368.6h0M106.9 388.9h0M46.5 384.2h0M39.3 310.5h0M70.7 387.1h0M98.7 360.1h0M70.3 324.1h0M31.8 341.5h0M105.6 375.0h0M27.5 385.0h0M73.3 351.2h0M82.5 328.0h0M64.1 349.9h0M18.5 392.3h0M68.7 372.4h0M56.8 385.4h0M51.2 341.2h0M74.6 350.0h0M78.5 369.5h0M68.8 385.3h0M35.8 372.3h0M29.7 338.7h0M52.8 357.1h0M47.0 354.1h0M77.5 346.3h0M42.7 319.6h0M29.1 324.0h0M92.2 370.6h0M64.5 326.5h0M105.2 357.3h0M97.9 340.6h0M93.8 339.9h0M49.8 359.9h0M72.0 326.2h0M28.2 383.2h0M98.6 345.7h0M84.2 373.4h0M83.9 386.0h0M13.0 358.6h0M32.1 312.3h0M40.7 339.3h0M116.7 311.7h0M47.3 392.3h0M119.0 356.5h0M108.3 362.5h0M94.8 365.6h0M29.1 383.1h0M69.7 329.9h0M45.6 347.1h0M19.7 370.7h0M79.3 388.6h0M59.8 381.6h0M77.1 361.7h0M12.5 341.6h0M16.4 389.2h0M29.1 378.4h0M37.0 381.1h0M40.7 365.8h0M48.8 323.0h0M107.7 334.4h0M15.1 371.1h0M14.6 366.9h0M69.3 393.4h0M60.2 355.0h0M41.7 356.4h0M56.5 378.4h0M72.9 317.5h0M103.9 370.4h0M85.2 350.9h0M17.5 366.1h0M122.3 340.6h0M121.4 359.3h0M72.3 332.6h0M96.7 371.6h0M105.9 345.2h0M116.2 325.2h0M102.1 338.1h0M85.8 365.5h0M93.8 352.1h0M42.4 338.8h0M47.1 318.9h0M15.7 381.4h0M119.5 382.1h0M26.2 333.6h0M115.1 316.6h0M47.3 350.1h0M54.7 311.0h0M33.5 393.2h0M119.9 316.8h0M48.0 372.2h0M34.9 386.3h0M17.0 392.5h0M106.6 363.2h0M56.4 361.9h0M77.7 392.1h0M90.2 381.1h0M53.0 355.0h0M83.7 384.5h0M60.3 375.3h0M39.7 349.3h0M34.1 341.5h0M67.9 356.1h0M45.5 333.8h0M51.0 313.0h0M27.6 334.2h0M55.8 325.6h0M120.9 343.7h0M14.8 393.0h0M100.8 315.0h0M33.1 349.0h0M68.4 361.1h0M45.4 329.6h0M44.3 311.7h0M64.0 389.3h0M105.6 391.2h0M118.4 316.0h0M44.3 336.8h0M97.3 358.7h0M31.7 323.5h0M57.9 384.9h0M92.8 326.5h0M52.4 377.3h0M23.8 322.4h0M109.3 341.3h0M103.6 343.9h0M59.8 351.1h0M80.3 337.0h0M43.1 340.7h0M71.4 367.6h0M112.4 386.7h0M30.4 345.0h0M28.0 349.1h0M39.4 321.3h0M48.2 380.7h0M33.7 313.5h0M24.8 341.9h0M51.9 351.9h0M116.8 360.2h0M96.2 391.9h0M30.7 373.7h0M99.7 312.6h0M88.0 314.8h0M117.2 383.5h0M91.4 321.9h0M20.7 388.3h0M19.1 317.2h0M27.3 320.2h0M73.0 380.3h0M35.8 375.0h0M40.1 329.3h0M68.5 373.4h0M48.4 380.7h0M103.0 332.6h0M28.4 320.2h0M63.8 329.5h0M69.8 348.8h0M54.8 350.2h0M13.3 392.3h0M62.2 329.5h0M12.8 374.6h0M23.7 329.4h0M84.4 378.1h0M26.3 341.7h0M70.6 350.4h0M28.6 354.0h0M113.0 326.1h0M71.5 386.7h0M49.8 324.8h0M68.4 324.0h0M101.7 377.6h0M110.5 364.6h0M30.8 329.9h0M39.1 385.3h0M35.8 351.9h0M27.6 318.3h0M76.6 321.3h0M87.8 324.0h0M45.6 358.2h0M50.2 328.1h0M100.6 322.3h0M101.8 316.7h0M51.3 366.5h0M19.6 342.0h0M35.2 337.5h0M94.0 368.7h0M57.4 377.9h0M53.9 335.3h0M78.8 357.8h0M104.6 318.8h0M55.1 345.5h0M122.0 350.0h0M98.8 372.6h0M15.1 379.5h0M103.7 328.7h0M44.3 315.0h0M22.2 320.1h0M42.1 344.4h0M59.3 349.8h0M84.0 383.6h0M54.6 341.2h0M28.9 377.4h0M50.6 355.2h0M61.8 348.0h0M35.9 315.8h0M29.7 356.6h0M58.3 382.0h0M106.8 380.3h0M108.3 353.2h0M27.4 332.7h0M57.4 356.0h0M93.9 345.4h0M50.1 323.3h0M77.0 356.9h0M26.6 368.2h0M71.7 355.5h0M116.9 321.0h0M93.8 314.5h0M90.3 381.5h0M73.9 318.9h0M77.1 316.3h0M21.1 338.7h0M94.1 366.7h0M20.6 348.7h0M51.7 368.9h0M110.3 379.5h0M49.9 361.2h0M27.2 349.2h0M47.6 336.6h0" stroke="#eea8ab" stroke-width="1.4" stroke-linecap="round" fill="none" stroke-opacity="0.9"/>
<path d="M96.7 324.6h0M59.6 363.2h0M96.6 319.2h0M117.0 366.5h0M84.2 376.7h0M12.5 378.6h0M78.8 374.3h0M31.6 331.2h0M44.1 364.5h0M77.3 319.7h0M95.0 368.3h0M105.2 367.5h0M78.3 365.2h0M79.2 363.9h0M97.1 315.9h0M48.7 384.9h0M36.1 374.9h0M105.0 371.2h0M69.3 333.7h0M55.9 348.3h0M82.0 389.0h0M26.5 364.7h0M20.2 385.8h0M94.7 328.4h0M118.1 381.7h0M25.3 353.7h0M84.0 369.5h0M92.8 326.8h0M65.3 351.0h0M72.9 350.9h0M50.8 343.0h0M36.5 315.0h0M115.7 331.7h0M24.1 352.3h0M114.9 384.7h0M52.0 312.4h0M92.7 327.1h0M54.3 335.8h0M66.3 331.9h0M54.8 387.7h0M41.1 385.9h0M120.1 339.0h0M76.5 354.7h0M97.4 314.8h0M23.8 318.5h0M97.4 350.0h0M25.5 387.3h0M58.2 352.7h0M30.8 371.3h0M43.4 335.8h0M26.5 364.6h0M69.6 351.0h0M105.0 342.6h0M109.8 331.0h0M55.7 353.6h0M108.4 360.2h0M75.0 320.9h0M29.3 340.9h0M59.9 353.6h0M69.4 329.5h0M48.4 311.9h0M38.3 338.4h0M17.7 393.0h0M55.3 354.8h0M55.0 383.0h0M94.3 318.5h0M69.1 354.7h0M100.9 388.3h0M11.6 375.3h0M57.5 378.6h0M63.5 341.1h0M52.6 376.5h0M96.9 321.4h0M30.4 340.3h0M108.8 317.6h0M15.3 317.9h0M72.2 329.8h0M83.0 372.6h0M56.5 380.5h0M117.6 352.2h0M16.1 338.8h0M52.7 348.3h0M22.1 370.7h0M117.0 388.8h0M15.5 349.6h0M112.4 313.2h0M56.5 358.9h0M72.4 335.0h0M76.0 377.3h0M83.8 351.6h0M29.8 340.2h0M94.9 316.1h0M90.4 324.6h0M113.8 313.2h0M50.2 335.2h0M52.3 383.2h0M15.4 373.2h0M117.2 359.8h0M21.4 341.2h0M57.2 381.0h0M17.4 327.4h0M71.3 330.3h0M103.0 351.8h0M104.7 331.3h0M23.6 339.6h0M106.2 364.5h0M70.6 315.0h0M102.9 337.4h0M61.4 321.7h0M26.3 369.7h0M54.7 369.5h0M121.5 345.9h0M91.8 340.9h0M113.6 363.4h0M25.4 380.8h0M34.2 352.0h0M116.6 329.8h0M57.6 369.3h0M112.0 374.2h0M48.6 313.4h0M55.3 320.0h0M122.3 315.4h0M71.1 386.4h0M52.3 382.1h0M54.3 347.3h0M120.9 341.7h0M81.5 323.6h0M63.7 393.0h0M31.7 386.9h0M60.1 365.4h0M28.9 389.1h0M119.0 350.5h0M112.1 334.3h0M74.4 372.6h0M17.0 387.8h0M68.9 353.1h0M15.3 387.1h0M103.7 364.6h0M70.0 355.2h0M35.5 354.1h0M51.3 383.4h0M55.2 376.8h0M28.5 335.8h0M31.7 377.6h0M104.7 367.5h0M107.9 357.9h0M116.2 373.8h0M66.3 365.6h0M74.0 355.3h0M121.9 332.0h0M38.4 333.7h0M14.3 383.1h0M88.4 342.5h0M13.4 368.0h0M67.0 381.6h0M35.3 333.0h0M18.3 384.2h0M55.1 373.7h0M119.5 352.8h0M12.6 387.0h0M94.1 342.3h0M31.6 338.5h0M102.2 325.0h0M113.1 339.6h0M116.9 365.7h0M73.8 379.1h0M43.9 338.7h0M66.2 356.8h0M73.4 353.6h0M28.1 382.7h0M50.7 356.6h0M61.1 368.6h0M38.9 313.1h0M41.8 391.3h0M36.8 388.1h0M72.1 357.2h0M24.2 353.2h0M37.3 339.3h0M64.6 386.4h0M73.0 312.3h0M115.6 337.3h0M46.1 323.3h0M30.8 347.7h0M105.8 326.0h0M113.8 318.3h0M12.4 384.9h0M44.0 391.9h0M66.4 312.0h0M64.5 385.0h0M117.8 336.2h0M78.3 354.0h0M105.3 345.5h0M108.1 350.8h0M115.9 372.2h0M76.9 364.4h0M38.6 335.9h0M21.0 338.5h0M105.4 338.1h0M65.0 338.0h0M57.3 363.1h0M113.3 312.0h0M54.6 355.4h0M52.6 334.0h0M79.5 330.8h0M57.2 392.0h0M47.2 315.2h0M43.3 360.2h0M26.5 371.0h0M77.5 344.1h0M119.1 330.7h0M107.9 376.7h0M77.6 315.4h0M38.9 316.0h0M38.6 361.2h0M31.4 393.0h0M44.9 367.3h0M20.9 383.6h0M79.8 374.2h0M29.7 367.6h0M42.1 310.8h0M82.5 343.2h0M114.9 317.4h0M85.0 389.6h0M13.6 359.4h0M54.7 376.9h0M54.8 329.0h0M30.8 366.7h0M40.6 343.3h0M117.9 327.8h0M51.9 391.3h0M100.4 388.0h0M56.3 379.9h0M20.4 389.9h0M39.4 361.3h0M98.3 319.6h0M121.8 388.8h0M121.7 348.3h0M44.0 341.3h0M58.4 381.4h0M86.5 389.5h0M50.8 361.9h0M78.7 346.5h0M99.7 315.2h0M78.4 360.8h0M74.9 359.8h0M74.9 380.4h0M100.5 329.3h0M112.2 366.6h0M50.4 338.2h0M119.5 312.4h0M58.2 335.4h0M58.0 314.0h0M113.3 392.6h0M86.5 317.6h0M40.9 315.5h0M26.6 387.5h0M40.6 383.5h0M75.0 359.6h0M110.1 312.4h0M68.4 317.7h0M54.6 316.7h0M78.6 360.5h0M31.1 326.4h0M61.8 333.4h0M102.4 323.7h0M48.9 376.1h0M38.8 384.9h0M37.4 317.6h0M74.1 313.8h0M27.5 351.3h0M84.3 376.3h0M26.8 343.8h0M50.2 390.8h0M99.3 320.1h0M82.6 391.7h0M68.2 325.4h0M54.1 362.5h0M54.0 357.5h0M85.0 389.3h0M17.1 346.9h0M39.7 385.1h0M93.7 353.8h0M58.5 391.1h0M59.8 360.6h0M27.0 329.1h0M120.0 357.1h0M58.4 367.7h0M23.1 342.7h0M105.4 358.5h0M45.8 324.6h0M22.7 374.3h0M75.1 336.0h0M118.0 333.0h0M78.1 376.3h0M56.1 352.6h0M106.2 376.9h0M34.6 378.5h0M97.4 371.7h0M17.4 343.7h0M121.4 321.3h0M117.6 360.7h0M67.5 363.1h0M119.5 356.8h0M47.5 385.6h0M63.8 369.6h0M65.6 390.4h0M38.8 375.9h0M108.6 316.3h0M45.4 327.9h0M33.2 339.2h0M82.0 359.7h0M111.6 393.4h0M26.5 317.1h0M92.3 381.9h0M103.9 364.5h0M98.2 363.6h0M70.2 324.1h0M52.0 316.5h0M78.5 343.8h0M91.6 389.7h0M66.1 327.9h0M97.3 363.5h0M12.3 378.7h0M48.9 319.1h0M101.5 388.4h0M104.3 327.0h0M102.6 315.0h0M34.7 345.4h0M27.1 373.8h0M33.5 373.3h0M50.0 353.1h0M45.8 328.9h0M93.6 371.3h0M35.9 341.3h0M63.4 342.7h0M108.2 358.8h0M31.8 328.5h0M57.6 311.1h0M104.8 335.8h0M38.8 366.1h0M80.1 380.0h0M20.2 324.6h0M54.0 354.5h0M47.2 379.3h0M57.1 358.9h0M54.1 360.2h0M56.5 330.6h0M76.0 325.6h0M96.2 319.4h0M98.1 328.4h0M43.3 321.8h0M26.0 338.8h0M105.2 319.3h0M42.5 315.4h0M45.7 361.1h0M15.6 382.7h0M43.4 388.6h0M103.5 314.0h0M121.5 355.2h0M93.1 324.6h0M68.7 310.5h0M88.1 368.0h0M49.0 325.0h0M85.5 344.9h0M27.2 319.3h0M57.6 351.7h0M118.5 344.4h0M29.2 315.6h0M102.2 381.2h0M67.9 354.2h0M63.1 357.2h0M86.0 371.4h0M74.3 333.9h0M27.8 341.0h0M53.9 335.0h0M96.5 349.8h0M28.7 332.8h0M29.2 358.9h0M84.1 367.5h0M79.7 328.8h0M51.3 357.2h0M103.7 312.9h0M81.3 323.2h0M80.3 363.9h0M34.1 314.4h0M14.9 377.2h0M33.7 368.2h0M18.9 328.7h0M61.4 332.7h0M79.9 355.8h0M38.1 313.9h0M56.4 377.4h0M22.9 390.7h0M116.7 334.5h0M47.5 378.8h0M93.0 320.9h0M107.4 373.7h0M94.2 358.1h0M80.9 331.0h0M90.0 311.4h0M64.0 332.3h0M36.1 377.4h0M99.0 323.6h0M19.6 367.0h0M87.7 312.2h0M50.5 384.9h0M101.5 365.3h0M33.2 347.7h0M46.9 380.6h0M58.3 382.6h0M71.4 383.7h0M121.7 348.3h0M14.2 383.2h0M45.0 350.6h0M48.8 344.3h0M83.9 333.0h0M27.8 314.7h0M75.0 345.4h0M80.6 382.0h0M95.6 346.2h0M105.7 353.0h0M104.9 326.5h0M118.2 389.4h0M111.6 317.7h0M58.4 387.4h0M46.4 365.0h0M96.3 369.9h0M60.6 335.8h0M61.1 364.5h0M99.5 347.9h0M44.0 322.0h0M75.9 335.5h0M112.8 384.5h0M62.3 386.7h0M104.4 338.4h0M18.8 340.0h0M15.1 384.8h0M99.0 376.3h0M23.0 338.8h0M102.3 324.5h0M73.4 349.4h0M53.0 339.6h0M82.6 336.2h0M63.5 392.4h0M38.8 318.4h0M54.2 358.5h0M12.2 320.6h0M41.7 356.6h0M24.6 338.3h0M53.9 367.1h0M95.5 313.1h0M56.2 379.5h0M25.4 346.3h0M97.7 370.2h0M38.6 333.8h0M93.7 317.5h0M83.2 374.8h0M97.5 332.7h0M71.0 320.4h0M21.1 320.9h0M69.5 380.2h0M25.6 387.3h0M81.8 318.7h0M59.3 319.8h0M19.8 347.8h0M29.5 328.2h0M52.5 360.2h0M64.7 379.5h0M41.8 358.8h0M111.8 364.6h0M114.9 331.6h0M91.1 341.9h0M66.5 381.8h0M62.1 376.1h0M46.9 318.9h0M102.5 343.3h0M45.1 331.1h0M25.4 334.9h0M55.5 334.5h0M29.8 387.2h0M18.8 316.4h0M16.9 375.3h0M112.0 377.4h0M95.6 343.3h0M35.6 350.5h0M57.1 338.3h0M34.1 354.5h0M102.4 353.4h0M79.8 378.8h0M36.0 355.6h0M97.3 349.1h0M29.1 337.8h0M118.2 343.5h0M23.1 345.7h0M74.3 343.9h0M82.4 388.1h0M50.1 354.7h0M72.2 337.3h0M120.4 335.8h0M45.4 362.2h0M104.9 368.0h0M101.2 326.4h0M70.7 359.4h0M103.4 337.9h0M54.4 354.8h0M67.7 325.4h0M86.4 370.1h0" stroke="#e9747e" stroke-width="1.4" stroke-linecap="round" fill="none" stroke-opacity="0.9"/>
<path d="M116.1 358.6h0M77.8 313.4h0M76.4 322.3h0M80.0 392.2h0M96.0 326.4h0M49.8 361.8h0M117.0 342.8h0M30.1 321.0h0M71.6 323.8h0M113.9 376.6h0M51.2 322.9h0M98.3 346.0h0M52.0 319.1h0M44.5 343.8h0M94.8 364.3h0M53.6 334.6h0M68.8 324.2h0M79.2 335.5h0M65.3 347.9h0M117.1 311.0h0M58.5 389.3h0M39.1 372.3h0M63.9 311.8h0M119.4 340.5h0M116.5 344.0h0M115.8 314.1h0M83.3 347.4h0M109.1 391.0h0M67.9 376.7h0M64.3 330.8h0M77.3 311.7h0M78.5 361.1h0M52.9 354.0h0M55.4 383.0h0M29.7 341.3h0M122.3 333.1h0M118.0 311.5h0M107.3 341.6h0M93.2 365.1h0M76.4 344.4h0M106.4 355.8h0M91.0 340.8h0M36.7 373.8h0M87.6 386.3h0M66.8 390.9h0M46.5 334.0h0M77.0 382.3h0M29.0 388.8h0M54.9 340.5h0M39.4 334.4h0M102.8 384.7h0M19.5 389.0h0M49.6 387.3h0M53.2 328.1h0M81.2 375.9h0M110.4 393.4h0M69.1 379.9h0M120.7 364.5h0M112.7 360.9h0M27.9 370.5h0M74.6 366.9h0M30.9 355.7h0M115.2 385.0h0M83.2 328.2h0M109.4 318.2h0M31.9 389.7h0M52.1 374.1h0M91.9 311.7h0M27.1 390.1h0M58.5 311.2h0M107.0 320.5h0M92.1 383.6h0M101.7 334.9h0M26.7 352.3h0M94.1 344.7h0M73.4 372.7h0M113.7 343.6h0M100.2 367.7h0M22.0 381.9h0M102.6 362.0h0M98.0 376.5h0M11.7 313.9h0M100.1 392.6h0M48.0 327.5h0M121.6 354.2h0M102.5 355.4h0M41.6 357.0h0M71.3 315.3h0M76.3 330.9h0M97.6 319.8h0M31.9 346.9h0M72.2 392.5h0M51.3 358.6h0M20.1 325.7h0M72.2 347.9h0M59.6 327.2h0M55.3 331.9h0M17.3 344.6h0M34.5 359.5h0M100.8 367.4h0M87.4 378.9h0M51.7 333.1h0M110.4 339.9h0M76.3 373.7h0M112.3 318.8h0M51.4 351.3h0M113.6 361.5h0M57.6 387.5h0M71.7 350.6h0M48.1 348.9h0M64.3 312.1h0M81.3 375.9h0M36.2 311.2h0M97.6 370.4h0M105.9 355.7h0M33.1 349.0h0M29.0 359.8h0M84.0 351.9h0M56.3 391.5h0M35.8 356.2h0M35.7 389.4h0M98.0 335.5h0M87.8 358.2h0M74.9 350.5h0M110.7 330.5h0M23.8 335.0h0M85.2 328.6h0M107.0 382.7h0M118.0 366.6h0M53.7 373.4h0M93.7 350.3h0M115.7 392.8h0M13.0 316.1h0M94.6 311.9h0M103.9 367.2h0M16.6 371.7h0M32.9 339.3h0M64.3 321.9h0M98.8 335.3h0M37.3 371.2h0M118.3 331.1h0M102.5 384.1h0M28.3 333.5h0M21.6 391.5h0M48.0 360.5h0M17.0 389.7h0M122.0 339.6h0M112.0 359.9h0M61.8 355.4h0M86.1 323.5h0M89.4 384.0h0M39.2 314.3h0M106.3 318.0h0M111.1 388.0h0M95.7 325.2h0M111.9 360.0h0M53.8 343.6h0M107.5 323.0h0M90.3 389.6h0M27.0 369.8h0M93.3 380.3h0M46.6 314.3h0M116.9 328.4h0M41.8 338.0h0M56.8 346.5h0M56.5 357.3h0M42.0 366.6h0M36.7 355.3h0M61.6 375.6h0M16.4 375.6h0M54.2 361.9h0M44.2 335.4h0M50.1 371.5h0M50.8 358.7h0M83.5 385.3h0M100.6 322.1h0M68.2 346.4h0M106.0 320.2h0M51.9 340.7h0M87.5 388.0h0M80.2 372.3h0M71.4 325.7h0M97.4 335.1h0M90.4 364.4h0M114.2 383.7h0M17.7 359.7h0M73.1 359.5h0M25.8 371.9h0M36.7 390.6h0M83.0 354.0h0M66.8 352.5h0M101.9 364.3h0M54.1 337.8h0M101.7 363.9h0M106.6 379.9h0M48.9 316.0h0M76.4 356.6h0M103.8 350.3h0M102.3 311.0h0M46.6 359.6h0M92.5 362.4h0M28.1 354.3h0M97.8 337.6h0M116.2 312.0h0M63.4 380.3h0M41.1 314.6h0M45.9 329.0h0M33.0 386.8h0M23.0 361.0h0M117.7 318.4h0M42.9 317.9h0M73.0 312.5h0M32.0 392.1h0M54.1 329.5h0M74.4 323.2h0M29.0 314.3h0M104.0 383.7h0M77.3 364.4h0M88.7 334.7h0M100.1 317.9h0M102.9 370.0h0M86.7 387.5h0M119.6 367.3h0M66.4 332.1h0M121.9 326.5h0M105.4 391.5h0M72.7 359.3h0M110.8 379.6h0M103.7 320.8h0M111.0 347.0h0M23.0 324.4h0M71.2 388.7h0M31.0 337.8h0M17.2 350.6h0M28.8 344.5h0M115.6 365.3h0M121.7 385.7h0M74.3 342.7h0M29.8 392.2h0M51.2 320.6h0M102.5 333.7h0M83.2 376.8h0M114.0 336.3h0M102.9 325.4h0M30.8 387.9h0M90.0 376.5h0M20.0 367.5h0M93.8 377.6h0M72.6 368.1h0M91.7 351.1h0M76.4 377.1h0M63.4 392.1h0M107.4 374.1h0M39.4 388.7h0M35.4 392.5h0M13.4 325.5h0M84.1 387.7h0M118.2 347.7h0M28.8 350.3h0M79.6 381.7h0M71.3 327.6h0M104.2 357.4h0M48.1 328.9h0M97.3 317.0h0M102.4 313.5h0M52.5 321.2h0M33.7 334.3h0M32.1 363.5h0M37.6 378.8h0M111.7 336.1h0M59.0 382.4h0M110.1 344.0h0M106.2 345.0h0M32.6 319.4h0M63.1 385.4h0M33.5 390.9h0M56.4 378.0h0M111.9 371.4h0M21.1 349.5h0M78.2 364.4h0M37.4 341.7h0M41.2 376.3h0M29.6 360.5h0M31.4 383.6h0M12.6 360.7h0M103.8 373.3h0M109.0 338.6h0M59.8 391.6h0M118.3 315.1h0M52.6 354.9h0M80.9 335.8h0M56.7 350.5h0M61.9 355.3h0M91.6 317.9h0M33.8 346.1h0M30.8 365.5h0M81.3 390.4h0M50.7 379.5h0M120.6 314.4h0M48.9 349.6h0M29.1 365.6h0M101.0 329.8h0M112.8 347.3h0M72.1 334.7h0M55.5 371.6h0M55.4 352.6h0M113.0 359.9h0M67.2 327.7h0M70.4 332.4h0M42.1 312.0h0M65.2 361.5h0M66.7 330.1h0M26.8 353.2h0M43.1 314.2h0M27.3 340.4h0M102.2 345.5h0" stroke="#e9424a" stroke-width="2.2" stroke-linecap="round" fill="none" stroke-opacity="0.95"/>
<path d="M62.1 366.8h0M62.2 350.0h0M54.3 375.7h0M49.6 320.3h0M64.7 393.3h0M79.0 366.8h0M25.1 360.5h0M107.6 362.3h0M19.7 386.1h0M102.6 337.4h0M81.6 310.5h0M31.2 316.1h0M29.4 312.9h0M75.7 380.2h0M46.0 311.6h0M44.2 312.6h0M34.8 340.5h0M84.1 348.1h0M33.9 345.0h0M89.6 370.6h0M31.0 338.0h0M92.5 374.5h0M109.9 369.7h0M39.1 373.6h0M63.4 331.1h0M59.8 346.3h0M64.3 312.1h0M121.6 341.3h0M61.2 333.3h0M69.3 383.6h0M74.5 337.0h0M99.4 314.6h0M67.2 376.6h0M54.9 335.1h0M107.4 357.6h0M99.5 344.0h0M32.7 383.7h0M97.9 329.7h0M104.1 337.4h0M122.4 328.9h0M18.6 335.3h0M56.4 362.9h0M66.8 358.8h0M104.1 346.3h0M118.8 339.1h0M13.9 318.5h0M23.0 390.5h0M58.8 362.6h0M91.9 358.4h0M85.6 357.0h0M13.9 339.6h0M74.3 336.0h0M32.6 352.2h0M60.4 386.2h0M39.0 345.8h0M33.9 379.9h0M29.0 371.2h0M70.4 347.3h0M61.7 384.4h0M39.6 377.8h0M118.1 390.0h0M70.3 361.1h0M112.2 368.4h0M41.1 358.5h0M65.2 340.3h0M119.0 328.1h0M93.7 324.0h0M112.6 374.6h0M109.1 316.9h0M46.8 324.3h0M104.2 364.7h0M18.8 376.6h0M19.1 372.0h0M81.7 392.8h0M14.0 350.0h0M35.8 353.9h0M80.2 356.0h0M51.4 389.0h0M25.0 345.9h0M63.6 389.0h0M57.5 316.1h0M41.9 344.3h0M75.8 316.9h0M20.8 323.7h0M116.0 329.8h0M58.4 334.9h0M105.0 345.2h0M81.2 348.6h0M19.6 345.2h0M101.4 373.4h0M57.1 336.9h0M76.1 329.2h0M29.8 313.2h0M13.2 327.4h0M88.4 319.2h0M71.1 376.5h0M105.1 350.9h0M71.6 346.4h0M33.5 322.1h0M29.1 319.9h0M95.9 323.9h0M78.3 374.0h0M57.1 374.9h0M34.7 380.9h0M121.5 314.6h0M102.1 368.4h0M82.5 335.5h0M23.5 314.1h0M24.5 319.9h0M56.9 313.5h0M121.4 364.2h0M113.7 392.1h0M57.7 316.2h0M67.2 329.7h0M86.4 350.6h0M79.3 357.4h0M33.7 373.9h0M97.8 373.6h0M56.2 367.5h0M118.4 389.6h0M112.3 389.3h0M26.7 331.9h0M46.5 350.9h0M106.5 389.3h0M67.4 377.4h0M41.3 384.8h0M84.4 333.9h0M31.7 354.8h0M106.0 321.2h0M104.4 314.8h0M28.2 374.3h0M41.1 390.2h0M30.2 319.8h0M96.1 372.1h0M106.9 375.5h0M16.5 312.6h0M60.2 391.4h0M59.8 337.8h0M39.8 333.8h0M103.4 341.1h0M47.2 356.1h0M50.4 387.8h0M21.4 326.4h0M116.9 339.5h0M31.2 341.2h0M117.7 325.3h0M44.3 345.6h0M71.3 378.6h0M106.9 373.3h0M90.3 340.6h0M119.6 313.8h0M105.1 350.7h0" stroke="#e6333b" stroke-width="2.9" stroke-linecap="round" fill="none" stroke-opacity="0.95"/>
<path d="M113.2 388.5h0M101.1 320.3h0M107.9 351.1h0M51.9 336.3h0M28.3 365.2h0M37.6 359.4h0M21.8 321.8h0M77.3 352.4h0M21.3 322.2h0M32.4 312.5h0M20.8 388.0h0M94.6 373.4h0M21.1 317.0h0M67.4 363.3h0M92.6 336.7h0M82.7 337.8h0M96.7 391.6h0M21.7 318.2h0M15.2 365.6h0M81.9 327.2h0M119.1 343.7h0M30.8 379.1h0M64.3 392.3h0M43.0 316.0h0M87.6 386.1h0M79.0 376.4h0M120.6 351.4h0M56.0 353.6h0M17.7 320.9h0M82.4 355.4h0M61.9 341.7h0M40.8 369.5h0M80.9 337.8h0M50.0 364.7h0M12.6 368.5h0M104.2 358.8h0M60.5 340.5h0M22.7 352.8h0M80.4 344.7h0M64.5 346.2h0M78.2 352.0h0M34.8 357.7h0M29.3 323.3h0M22.5 322.8h0M24.6 334.0h0M94.8 324.4h0M48.0 320.2h0M121.1 358.9h0M30.4 371.9h0M64.2 330.9h0M97.7 350.2h0M86.9 375.5h0M42.2 362.5h0M22.6 348.3h0M71.6 393.5h0M104.7 380.1h0M102.9 325.8h0M119.0 340.2h0M13.1 315.2h0M52.5 385.5h0M104.3 333.1h0M79.2 345.4h0M68.1 327.8h0M61.9 385.7h0M107.0 341.2h0M100.9 373.5h0M117.1 379.4h0M14.5 389.7h0M78.6 342.7h0M105.5 384.0h0M53.0 333.7h0M122.5 331.7h0M63.3 329.6h0M39.8 392.2h0M12.9 393.3h0M52.9 373.5h0M75.6 370.0h0M16.3 347.6h0M92.0 346.6h0M89.4 322.0h0M111.5 319.2h0M104.1 318.7h0M51.3 373.6h0M27.6 324.6h0M47.9 366.2h0M105.9 391.2h0M53.9 353.6h0M74.8 324.2h0M68.5 353.6h0M114.1 357.2h0M38.2 319.2h0M96.4 323.1h0M16.5 322.4h0M25.6 344.8h0M11.7 382.2h0M82.2 391.3h0M39.4 383.4h0M27.5 342.7h0M25.0 320.5h0M99.4 340.5h0M63.2 318.0h0M101.3 355.0h0M112.6 364.1h0M21.7 336.1h0M22.9 334.1h0M78.2 392.8h0M77.8 375.9h0M35.1 374.6h0M25.6 312.6h0M76.8 351.3h0M13.9 352.6h0M13.1 385.6h0M101.0 327.6h0M52.2 311.7h0M69.1 381.8h0M87.1 365.8h0M83.7 380.4h0M118.4 346.8h0M79.5 338.4h0M12.4 338.7h0M105.7 324.7h0M23.6 373.9h0M79.1 322.8h0M33.0 334.7h0M43.5 322.6h0M76.7 316.9h0M97.4 320.5h0M40.4 384.8h0M41.4 362.7h0M87.4 349.8h0M60.5 310.9h0M23.1 347.6h0M30.3 357.3h0M17.3 315.9h0M64.8 363.6h0M62.4 360.2h0M56.6 330.6h0M112.6 381.8h0M35.4 392.6h0M96.6 326.6h0M81.6 350.2h0M95.5 344.8h0M104.0 348.8h0M13.0 310.6h0M27.9 334.1h0M112.0 367.6h0M118.4 318.7h0M17.9 347.9h0M78.6 379.9h0M45.1 391.0h0M52.7 332.0h0M36.3 387.2h0M15.2 391.4h0M65.7 371.7h0M103.3 366.3h0M85.1 372.0h0M112.0 386.2h0M58.2 340.3h0M61.5 330.4h0M98.3 339.3h0M76.2 365.9h0M45.2 310.6h0M78.4 322.2h0M59.2 360.5h0M74.1 374.5h0M72.6 382.0h0M66.6 388.2h0M101.3 364.4h0M99.7 357.6h0M92.2 373.4h0M58.5 348.4h0M63.6 368.6h0M56.5 373.5h0M54.7 330.8h0M102.5 314.6h0M24.8 336.8h0M77.9 359.0h0M22.7 346.7h0M115.0 317.8h0M119.7 340.2h0M56.0 387.1h0M101.1 315.9h0M110.1 325.0h0M21.9 323.2h0M98.5 349.5h0M15.1 315.3h0M92.2 374.8h0M99.9 337.0h0M40.9 391.5h0M33.7 313.9h0M66.2 320.7h0M95.8 350.9h0M62.8 327.1h0M38.5 392.6h0M47.9 364.2h0M20.4 367.8h0M31.1 392.4h0M97.2 342.3h0M16.8 388.5h0M84.3 375.1h0M49.9 310.8h0M121.5 361.8h0M77.2 380.7h0M57.9 381.4h0M52.2 374.6h0M72.3 371.2h0M115.8 391.5h0M76.0 347.5h0M119.7 324.1h0M80.1 378.8h0M106.2 329.5h0M81.4 364.2h0" stroke="#ec5c64" stroke-width="1.8" stroke-linecap="round" fill="none" stroke-opacity="0.9"/>
</g>
<rect x="137" y="222" width="111" height="84.4" fill="#e2e0e1" filter="url(#tx5)"/>
<g clip-path="url(#cp6)">
<ellipse cx="138.6" cy="226.8" rx="6.2" ry="5.4" fill="#c6a6bc" fill-opacity="0.42"/>
<ellipse cx="146.7" cy="234.2" rx="5.8" ry="5.0" fill="#c6a6bc" fill-opacity="0.42"/>
<ellipse cx="138.2" cy="242.7" rx="4.8" ry="4.1" fill="#c6a6bc" fill-opacity="0.42"/>
<ellipse cx="147.1" cy="255.2" rx="6.0" ry="5.1" fill="#c6a6bc" fill-opacity="0.42"/>
<ellipse cx="142.4" cy="273.6" rx="6.6" ry="5.7" fill="#c6a6bc" fill-opacity="0.42"/>
<ellipse cx="138.6" cy="282.8" rx="5.9" ry="5.1" fill="#c6a6bc" fill-opacity="0.42"/>
<ellipse cx="145.6" cy="293.9" rx="6.0" ry="5.2" fill="#c6a6bc" fill-opacity="0.42"/>
<ellipse cx="150.6" cy="226.7" rx="6.2" ry="5.3" fill="#c6a6bc" fill-opacity="0.42"/>
<ellipse cx="152.6" cy="236.6" rx="4.4" ry="3.8" fill="#c6a6bc" fill-opacity="0.42"/>
<ellipse cx="150.8" cy="242.4" rx="4.3" ry="3.7" fill="#c6a6bc" fill-opacity="0.42"/>
<ellipse cx="155.0" cy="255.9" rx="6.2" ry="5.4" fill="#c6a6bc" fill-opacity="0.42"/>
<ellipse cx="148.4" cy="267.4" rx="5.6" ry="4.8" fill="#c6a6bc" fill-opacity="0.42"/>
<ellipse cx="156.1" cy="277.8" rx="6.2" ry="5.4" fill="#c6a6bc" fill-opacity="0.42"/>
<ellipse cx="151.9" cy="285.7" rx="5.1" ry="4.4" fill="#c6a6bc" fill-opacity="0.42"/>
<ellipse cx="154.3" cy="296.6" rx="6.5" ry="5.6" fill="#c6a6bc" fill-opacity="0.42"/>
<ellipse cx="150.2" cy="307.0" rx="5.4" ry="4.7" fill="#c6a6bc" fill-opacity="0.42"/>
<ellipse cx="160.7" cy="222.1" rx="5.0" ry="4.4" fill="#c6a6bc" fill-opacity="0.42"/>
<ellipse cx="163.0" cy="235.5" rx="4.6" ry="4.0" fill="#c6a6bc" fill-opacity="0.42"/>
<ellipse cx="168.1" cy="254.5" rx="5.7" ry="4.9" fill="#c6a6bc" fill-opacity="0.42"/>
<ellipse cx="164.3" cy="262.1" rx="6.5" ry="5.6" fill="#c6a6bc" fill-opacity="0.42"/>
<ellipse cx="162.9" cy="278.0" rx="4.7" ry="4.1" fill="#c6a6bc" fill-opacity="0.42"/>
<ellipse cx="167.0" cy="293.2" rx="5.9" ry="5.1" fill="#c6a6bc" fill-opacity="0.42"/>
<ellipse cx="161.8" cy="307.0" rx="4.9" ry="4.2" fill="#c6a6bc" fill-opacity="0.42"/>
<ellipse cx="174.8" cy="224.9" rx="6.5" ry="5.6" fill="#c6a6bc" fill-opacity="0.42"/>
<ellipse cx="177.3" cy="237.3" rx="5.3" ry="4.6" fill="#c6a6bc" fill-opacity="0.42"/>
<ellipse cx="174.3" cy="245.3" rx="5.8" ry="5.0" fill="#c6a6bc" fill-opacity="0.42"/>
<ellipse cx="177.0" cy="252.2" rx="4.2" ry="3.6" fill="#c6a6bc" fill-opacity="0.42"/>
<ellipse cx="170.8" cy="263.0" rx="5.8" ry="5.0" fill="#c6a6bc" fill-opacity="0.42"/>
<ellipse cx="175.8" cy="272.4" rx="5.3" ry="4.6" fill="#c6a6bc" fill-opacity="0.42"/>
<ellipse cx="171.5" cy="283.5" rx="5.4" ry="4.7" fill="#c6a6bc" fill-opacity="0.42"/>
<ellipse cx="176.4" cy="292.1" rx="5.7" ry="4.9" fill="#c6a6bc" fill-opacity="0.42"/>
<ellipse cx="171.2" cy="303.6" rx="5.8" ry="5.0" fill="#c6a6bc" fill-opacity="0.42"/>
<ellipse cx="181.4" cy="223.5" rx="5.4" ry="4.7" fill="#c6a6bc" fill-opacity="0.42"/>
<ellipse cx="185.1" cy="232.5" rx="4.3" ry="3.8" fill="#c6a6bc" fill-opacity="0.42"/>
<ellipse cx="183.6" cy="262.6" rx="6.1" ry="5.3" fill="#c6a6bc" fill-opacity="0.42"/>
<ellipse cx="190.9" cy="272.4" rx="5.2" ry="4.5" fill="#c6a6bc" fill-opacity="0.42"/>
<ellipse cx="185.0" cy="284.6" rx="6.2" ry="5.4" fill="#c6a6bc" fill-opacity="0.42"/>
<ellipse cx="182.4" cy="308.0" rx="6.4" ry="5.6" fill="#c6a6bc" fill-opacity="0.42"/>
<ellipse cx="202.0" cy="237.6" rx="6.5" ry="5.6" fill="#c6a6bc" fill-opacity="0.42"/>
<ellipse cx="191.8" cy="245.1" rx="4.2" ry="3.6" fill="#c6a6bc" fill-opacity="0.42"/>
<ellipse cx="198.5" cy="257.0" rx="5.9" ry="5.1" fill="#c6a6bc" fill-opacity="0.42"/>
<ellipse cx="193.3" cy="267.5" rx="5.2" ry="4.5" fill="#c6a6bc" fill-opacity="0.42"/>
<ellipse cx="199.4" cy="275.1" rx="5.5" ry="4.7" fill="#c6a6bc" fill-opacity="0.42"/>
<ellipse cx="197.2" cy="284.0" rx="5.2" ry="4.5" fill="#c6a6bc" fill-opacity="0.42"/>
<ellipse cx="199.1" cy="296.7" rx="6.4" ry="5.5" fill="#c6a6bc" fill-opacity="0.42"/>
<ellipse cx="191.4" cy="307.6" rx="5.8" ry="5.0" fill="#c6a6bc" fill-opacity="0.42"/>
<ellipse cx="202.2" cy="222.1" rx="4.9" ry="4.2" fill="#c6a6bc" fill-opacity="0.42"/>
<ellipse cx="202.2" cy="247.8" rx="5.0" ry="4.3" fill="#c6a6bc" fill-opacity="0.42"/>
<ellipse cx="210.0" cy="255.6" rx="5.9" ry="5.1" fill="#c6a6bc" fill-opacity="0.42"/>
<ellipse cx="205.8" cy="265.2" rx="5.2" ry="4.5" fill="#c6a6bc" fill-opacity="0.42"/>
<ellipse cx="210.1" cy="275.5" rx="4.5" ry="3.9" fill="#c6a6bc" fill-opacity="0.42"/>
<ellipse cx="203.8" cy="287.1" rx="5.3" ry="4.6" fill="#c6a6bc" fill-opacity="0.42"/>
<ellipse cx="207.9" cy="297.7" rx="4.8" ry="4.1" fill="#c6a6bc" fill-opacity="0.42"/>
<ellipse cx="213.6" cy="227.1" rx="5.9" ry="5.1" fill="#c6a6bc" fill-opacity="0.42"/>
<ellipse cx="218.2" cy="236.9" rx="5.0" ry="4.3" fill="#c6a6bc" fill-opacity="0.42"/>
<ellipse cx="214.8" cy="247.2" rx="5.4" ry="4.7" fill="#c6a6bc" fill-opacity="0.42"/>
<ellipse cx="222.2" cy="256.6" rx="5.8" ry="5.0" fill="#c6a6bc" fill-opacity="0.42"/>
<ellipse cx="213.2" cy="263.1" rx="4.2" ry="3.6" fill="#c6a6bc" fill-opacity="0.42"/>
<ellipse cx="219.7" cy="274.6" rx="4.8" ry="4.1" fill="#c6a6bc" fill-opacity="0.42"/>
<ellipse cx="215.3" cy="282.4" rx="4.5" ry="3.9" fill="#c6a6bc" fill-opacity="0.42"/>
<ellipse cx="222.3" cy="294.8" rx="4.4" ry="3.8" fill="#c6a6bc" fill-opacity="0.42"/>
<ellipse cx="216.1" cy="304.7" rx="5.7" ry="4.9" fill="#c6a6bc" fill-opacity="0.42"/>
<ellipse cx="227.7" cy="225.9" rx="6.3" ry="5.5" fill="#c6a6bc" fill-opacity="0.42"/>
<ellipse cx="234.4" cy="235.3" rx="4.8" ry="4.1" fill="#c6a6bc" fill-opacity="0.42"/>
<ellipse cx="230.4" cy="257.3" rx="6.4" ry="5.5" fill="#c6a6bc" fill-opacity="0.42"/>
<ellipse cx="226.7" cy="262.9" rx="4.8" ry="4.1" fill="#c6a6bc" fill-opacity="0.42"/>
<ellipse cx="235.5" cy="272.7" rx="5.0" ry="4.3" fill="#c6a6bc" fill-opacity="0.42"/>
<ellipse cx="231.1" cy="294.5" rx="4.9" ry="4.2" fill="#c6a6bc" fill-opacity="0.42"/>
<ellipse cx="230.3" cy="307.3" rx="5.1" ry="4.4" fill="#c6a6bc" fill-opacity="0.42"/>
<ellipse cx="236.6" cy="226.0" rx="6.4" ry="5.6" fill="#c6a6bc" fill-opacity="0.42"/>
<ellipse cx="236.7" cy="246.2" rx="5.4" ry="4.7" fill="#c6a6bc" fill-opacity="0.42"/>
<ellipse cx="245.2" cy="253.7" rx="4.2" ry="3.7" fill="#c6a6bc" fill-opacity="0.42"/>
<ellipse cx="235.5" cy="266.7" rx="4.4" ry="3.8" fill="#c6a6bc" fill-opacity="0.42"/>
<ellipse cx="246.3" cy="277.8" rx="5.5" ry="4.7" fill="#c6a6bc" fill-opacity="0.42"/>
<ellipse cx="239.6" cy="285.2" rx="5.5" ry="4.8" fill="#c6a6bc" fill-opacity="0.42"/>
<ellipse cx="245.6" cy="295.7" rx="6.2" ry="5.3" fill="#c6a6bc" fill-opacity="0.42"/>
<ellipse cx="235.7" cy="305.2" rx="6.2" ry="5.3" fill="#c6a6bc" fill-opacity="0.42"/>
<ellipse cx="247.3" cy="222.8" rx="4.3" ry="3.7" fill="#c6a6bc" fill-opacity="0.42"/>
<ellipse cx="253.2" cy="256.6" rx="4.5" ry="3.9" fill="#c6a6bc" fill-opacity="0.42"/>
<ellipse cx="251.2" cy="264.4" rx="6.6" ry="5.7" fill="#c6a6bc" fill-opacity="0.42"/>
<ellipse cx="255.0" cy="274.0" rx="6.1" ry="5.3" fill="#c6a6bc" fill-opacity="0.42"/>
<ellipse cx="246.3" cy="288.0" rx="5.1" ry="4.4" fill="#c6a6bc" fill-opacity="0.42"/>
<ellipse cx="251.6" cy="293.6" rx="5.5" ry="4.8" fill="#c6a6bc" fill-opacity="0.42"/>
<ellipse cx="249.0" cy="306.9" rx="5.6" ry="4.8" fill="#c6a6bc" fill-opacity="0.42"/>
<path d="M134.8 230.7h0M136.4 228.0h0M141.9 223.4h0M138.6 223.7h0M146.7 224.9h0M144.7 231.3h0M143.7 230.7h0M150.0 234.5h0M144.2 229.6h0M149.6 239.5h0M142.5 239.1h0M150.0 233.6h0M143.9 238.0h0M148.7 234.8h0M137.7 240.4h0M140.7 241.6h0M131.3 248.5h0M134.7 238.1h0M139.9 246.9h0M138.5 244.1h0M138.0 251.6h0M142.5 242.6h0M141.6 245.1h0M149.3 254.6h0M147.1 250.8h0M143.1 255.4h0M148.3 259.0h0M144.8 256.0h0M148.3 264.5h0M147.1 256.3h0M159.7 253.2h0M153.8 255.4h0M149.0 275.0h0M137.9 283.4h0M146.5 274.4h0M144.9 265.3h0M137.4 272.9h0M138.1 271.2h0M145.8 273.9h0M139.3 273.3h0M150.1 272.2h0M140.3 275.3h0M141.4 278.5h0M142.2 282.6h0M145.0 272.8h0M143.6 271.8h0M147.5 272.2h0M143.6 280.7h0M145.7 288.0h0M138.5 282.7h0M139.9 279.4h0M145.6 283.3h0M136.1 286.6h0M136.8 282.8h0M148.4 294.8h0M144.6 293.0h0M149.1 298.0h0M144.7 292.3h0M142.6 295.1h0M146.7 295.7h0M137.1 293.4h0M147.2 297.4h0M143.8 293.1h0M154.8 224.0h0M146.2 219.6h0M149.0 226.8h0M148.4 223.4h0M152.3 226.1h0M153.5 233.5h0M137.2 228.4h0M150.9 228.0h0M149.7 228.8h0M153.8 220.3h0M144.6 235.1h0M154.6 233.2h0M161.6 238.0h0M157.1 234.3h0M153.6 236.2h0M155.8 233.6h0M152.5 232.8h0M154.5 242.2h0M149.5 238.4h0M148.2 244.3h0M152.3 246.5h0M152.8 242.8h0M152.7 243.8h0M149.7 240.0h0M164.5 259.6h0M150.8 259.2h0M156.8 256.8h0M150.0 261.9h0M156.8 253.3h0M158.3 256.2h0M153.7 256.5h0M158.0 252.7h0M153.2 266.5h0M144.4 261.5h0M146.6 266.8h0M147.3 268.8h0M146.9 268.3h0M149.1 265.3h0M145.5 269.0h0M148.5 267.8h0M148.2 266.8h0M150.8 268.5h0M153.2 275.4h0M158.3 274.9h0M149.9 275.0h0M154.0 279.0h0M160.3 274.4h0M159.5 276.0h0M159.0 277.9h0M157.0 275.6h0M158.4 281.0h0M163.2 279.4h0M152.7 288.6h0M149.3 283.1h0M153.6 285.6h0M152.1 285.7h0M143.4 284.5h0M152.8 285.6h0M151.9 287.2h0M168.2 295.7h0M152.7 295.6h0M153.7 296.7h0M153.2 304.7h0M157.4 295.2h0M150.0 305.5h0M157.7 298.7h0M163.6 293.1h0M160.1 300.8h0M153.1 296.4h0M154.3 296.4h0M147.5 302.3h0M150.2 308.9h0M148.8 306.9h0M147.3 305.1h0M147.7 308.6h0M146.1 313.5h0M166.1 225.1h0M165.2 218.2h0M161.7 228.1h0M155.5 224.3h0M164.5 218.3h0M167.0 218.7h0M158.6 220.7h0M162.5 229.8h0M166.1 236.8h0M165.7 240.9h0M160.2 237.9h0M165.2 233.5h0M165.6 240.9h0M163.5 236.9h0M161.8 235.3h0M166.0 236.5h0M164.2 230.2h0M169.5 251.6h0M172.6 254.0h0M167.3 254.4h0M169.8 256.1h0M172.8 256.6h0M172.6 255.3h0M169.9 251.3h0M160.3 251.6h0M166.0 260.0h0M166.7 253.6h0M164.9 260.5h0M162.3 264.2h0M158.9 263.6h0M171.3 263.6h0M168.0 264.0h0M170.7 262.8h0M166.5 258.7h0M160.2 259.8h0M158.2 277.7h0M157.3 281.6h0M170.5 279.0h0M163.3 277.8h0M162.6 283.3h0M169.7 297.5h0M158.6 297.1h0M160.0 301.6h0M167.1 288.6h0M166.6 287.7h0M170.0 293.8h0M163.3 293.3h0M174.9 290.8h0M161.7 295.5h0M160.6 292.4h0M167.2 295.9h0M162.5 306.4h0M163.9 303.9h0M165.7 306.5h0M163.8 309.1h0M166.3 307.9h0M162.5 311.3h0M158.4 309.1h0M160.3 306.6h0M166.1 306.2h0M157.8 309.3h0M170.0 225.9h0M169.3 223.7h0M175.4 225.0h0M178.3 224.5h0M175.8 216.1h0M172.6 222.7h0M179.6 220.7h0M178.1 229.4h0M168.0 228.1h0M168.2 224.7h0M175.6 225.3h0M174.1 227.6h0M172.3 222.6h0M174.2 227.4h0M178.9 222.3h0M178.4 235.7h0M177.2 240.3h0M177.8 236.0h0M173.2 241.0h0M179.8 242.8h0M173.7 231.6h0M174.4 237.4h0M177.4 242.1h0M179.4 240.9h0M176.7 237.0h0M177.2 236.2h0M178.7 238.3h0M169.2 246.8h0M171.3 246.2h0M176.5 242.9h0M173.4 245.2h0M173.8 244.2h0M170.9 248.0h0M174.7 245.9h0M173.8 244.6h0M175.0 253.5h0M176.8 252.1h0M170.5 249.3h0M183.5 251.8h0M174.9 258.1h0M177.4 254.6h0M168.4 263.9h0M170.2 263.8h0M167.3 269.6h0M176.3 257.9h0M172.8 267.1h0M172.6 262.2h0M172.4 260.5h0M173.7 261.9h0M173.6 267.7h0M179.0 262.0h0M171.9 269.3h0M172.8 270.2h0M175.5 273.2h0M175.7 286.3h0M168.1 281.8h0M173.2 284.3h0M174.0 278.8h0M170.9 282.3h0M167.7 287.5h0M170.5 284.6h0M173.1 282.4h0M172.6 295.4h0M173.1 290.1h0M173.7 295.0h0M168.0 296.8h0M181.0 290.1h0M178.6 292.6h0M182.3 287.7h0M174.3 293.0h0M174.0 296.6h0M170.5 310.0h0M167.4 300.3h0M175.5 300.6h0M168.0 305.0h0M169.4 310.0h0M174.8 305.0h0M166.2 308.1h0M179.0 303.7h0M178.0 302.4h0M175.3 305.4h0M167.3 307.5h0M180.8 218.5h0M182.1 220.3h0M178.6 218.8h0M181.3 223.1h0M186.3 223.5h0M179.8 220.5h0M186.7 232.2h0M182.1 232.9h0M187.8 229.8h0M185.2 228.8h0M183.0 235.2h0M189.5 230.4h0M180.6 230.7h0M177.7 236.1h0M187.0 231.8h0M186.2 235.7h0M177.4 266.1h0M190.1 261.0h0M176.0 267.4h0M182.9 261.0h0M184.8 269.8h0M182.6 265.1h0M190.8 263.5h0M178.9 263.1h0M185.1 265.8h0M187.5 260.6h0M192.0 270.9h0M188.5 271.4h0M194.2 273.3h0M190.1 276.0h0M186.4 268.5h0M188.6 271.1h0M187.2 280.4h0M193.1 270.9h0M193.6 271.5h0M191.4 275.8h0M190.6 271.6h0M190.7 277.9h0M185.0 287.5h0M180.1 284.8h0M187.1 286.7h0M187.9 290.3h0M185.4 281.7h0M192.7 283.1h0M193.3 285.7h0M187.3 282.5h0M175.1 305.2h0M187.6 302.4h0M179.6 311.4h0M181.3 308.2h0M178.6 305.9h0M184.6 310.1h0M181.5 302.0h0M177.4 306.6h0M180.4 312.1h0M200.1 236.2h0M202.6 238.2h0M192.9 234.7h0M203.3 229.9h0M205.6 239.6h0M203.3 235.2h0M201.7 234.2h0M204.7 236.6h0M193.1 244.5h0M188.1 244.1h0M191.0 247.7h0M192.7 240.8h0M185.2 248.9h0M191.4 247.8h0M188.4 242.6h0M193.2 252.9h0M200.8 253.2h0M207.0 255.3h0M192.1 255.7h0M202.4 257.4h0M198.4 261.5h0M199.4 256.4h0M202.1 257.5h0M195.8 259.9h0M189.9 271.1h0M197.3 266.0h0M193.0 264.8h0M194.3 273.2h0M193.1 263.6h0M194.3 265.0h0M198.3 263.3h0M194.0 267.0h0M190.1 267.6h0M195.4 273.3h0M194.6 266.2h0M193.8 265.7h0M194.5 278.4h0M202.2 274.3h0M203.3 272.1h0M204.4 280.0h0M202.6 274.4h0M192.6 277.5h0M196.0 288.8h0M204.4 289.4h0M190.8 286.8h0M198.5 286.0h0M195.3 287.1h0M203.1 288.0h0M192.9 286.6h0M191.8 289.3h0M198.7 287.0h0M197.7 285.6h0M195.2 299.9h0M198.8 295.1h0M204.0 299.5h0M197.8 299.6h0M200.1 305.1h0M190.4 300.9h0M195.2 298.0h0M201.6 297.7h0M195.0 295.4h0M198.0 297.8h0M201.0 298.9h0M200.5 294.4h0M198.6 299.0h0M197.1 302.5h0M192.7 301.3h0M196.3 300.4h0M188.5 303.2h0M194.7 309.7h0M191.5 302.3h0M187.7 312.8h0M193.4 314.1h0M192.3 306.1h0M196.3 309.7h0M192.1 310.1h0M192.0 305.9h0M197.2 223.1h0M202.1 217.2h0M199.0 222.9h0M203.9 220.5h0M209.6 224.1h0M202.4 219.8h0M198.9 249.0h0M201.1 245.2h0M200.8 243.2h0M202.5 246.2h0M199.8 244.5h0M205.9 247.1h0M204.8 253.5h0M203.9 248.7h0M210.8 258.3h0M206.8 254.2h0M205.0 256.5h0M210.3 257.6h0M209.9 253.6h0M204.2 255.8h0M209.5 253.6h0M202.9 258.4h0M211.5 262.8h0M205.6 252.7h0M205.7 263.0h0M209.1 266.4h0M208.2 265.7h0M212.2 275.1h0M213.0 267.6h0M207.6 274.8h0M212.6 277.9h0M210.2 274.2h0M209.8 274.2h0M208.8 277.5h0M202.3 289.7h0M203.5 292.7h0M206.0 283.2h0M203.4 286.4h0M201.7 286.9h0M200.8 284.6h0M203.6 285.1h0M206.6 280.5h0M207.2 293.6h0M208.0 299.2h0M207.4 300.2h0M205.4 303.6h0M208.5 298.6h0M209.6 295.5h0M202.7 295.2h0M212.1 301.2h0M213.5 299.9h0M212.0 302.0h0M205.3 297.9h0M202.9 298.8h0M210.9 302.3h0M210.6 294.8h0M217.8 228.0h0M210.6 225.4h0M219.8 222.0h0M219.7 227.4h0M209.2 226.2h0M212.8 231.8h0M211.6 232.2h0M210.7 222.7h0M218.8 232.5h0M213.4 224.5h0M221.5 235.5h0M222.7 239.2h0M220.3 234.0h0M217.5 238.8h0M214.1 248.6h0M213.7 242.1h0M216.4 245.0h0M213.7 248.0h0M215.7 242.3h0M217.9 246.0h0M214.9 254.2h0M216.2 241.9h0M215.1 248.2h0M224.3 256.9h0M219.9 252.9h0M224.9 256.9h0M219.1 254.7h0M218.4 260.2h0M222.8 255.4h0M218.7 255.0h0M223.3 263.9h0M223.5 257.3h0M223.9 256.2h0M213.5 261.4h0M210.7 263.1h0M207.6 263.7h0M211.6 261.6h0M213.5 265.9h0M209.1 267.0h0M223.3 267.6h0M217.4 275.0h0M222.4 274.8h0M220.6 275.5h0M221.0 274.0h0M222.2 266.5h0M213.9 280.3h0M218.3 282.9h0M215.3 285.0h0M214.2 282.4h0M214.5 281.4h0M211.4 284.1h0M222.9 291.8h0M220.0 296.3h0M222.9 297.1h0M222.4 292.3h0M224.8 292.8h0M217.8 295.9h0M215.9 309.8h0M219.8 303.1h0M216.1 307.4h0M219.1 302.5h0M217.7 303.6h0M221.0 302.7h0M219.6 306.2h0M219.8 301.2h0M215.0 307.0h0M213.1 300.6h0M216.6 308.6h0M229.6 226.6h0M222.1 232.3h0M224.8 229.7h0M227.7 222.2h0M227.3 222.8h0M221.0 226.4h0M232.3 231.8h0M229.6 229.5h0M230.9 234.9h0M236.6 236.0h0M233.1 238.0h0M239.8 236.0h0M233.8 233.3h0M237.4 233.4h0M236.3 238.0h0M237.7 237.3h0M232.5 237.9h0M233.6 235.3h0M234.2 233.0h0M233.5 232.1h0M228.8 253.8h0M233.8 263.6h0M230.4 263.1h0M229.2 252.6h0M232.3 249.6h0M235.0 252.8h0M230.9 254.4h0M233.0 265.8h0M233.6 260.8h0M231.2 261.9h0M225.0 261.6h0M230.5 258.9h0M230.8 254.4h0M233.9 257.8h0M232.1 250.8h0M227.9 265.4h0M229.3 258.5h0M225.0 264.3h0M230.1 263.7h0M228.2 264.3h0M232.3 269.5h0M234.8 274.3h0M236.1 274.1h0M239.0 269.0h0M230.1 292.0h0M226.1 296.2h0M230.6 291.8h0M228.4 288.2h0M230.6 294.9h0M234.4 295.7h0M226.0 301.9h0M236.4 312.4h0M231.0 304.2h0M228.3 309.1h0M237.8 311.3h0M232.7 313.4h0M230.7 310.9h0M232.0 305.1h0M231.6 310.5h0M234.4 222.2h0M237.0 229.9h0M240.1 226.7h0M236.8 226.5h0M241.4 224.8h0M232.8 225.5h0M236.2 225.9h0M242.3 223.4h0M233.9 222.3h0M240.3 244.8h0M238.6 247.1h0M234.7 244.0h0M233.8 237.3h0M251.1 254.1h0M244.4 254.8h0M238.9 252.5h0M244.9 254.5h0M246.7 255.1h0M245.2 256.0h0M247.1 258.1h0M245.9 250.1h0M247.6 254.8h0M239.5 265.1h0M235.7 267.5h0M239.1 269.3h0M236.4 268.9h0M236.7 268.8h0M238.1 265.8h0M247.1 271.5h0M240.8 274.1h0M248.5 280.8h0M245.3 279.7h0M249.0 271.9h0M252.5 276.4h0M250.1 286.3h0M250.5 274.2h0M246.3 281.8h0M239.0 284.8h0M240.6 284.2h0M240.0 282.7h0M239.0 287.1h0M242.4 283.0h0M238.7 285.5h0M248.0 292.8h0M243.3 297.2h0M249.7 291.0h0M248.8 297.7h0M246.0 295.1h0M251.0 295.8h0M248.6 293.4h0M249.1 298.0h0M244.2 295.0h0M241.9 300.3h0M234.2 301.8h0M235.4 310.9h0M241.4 305.2h0M233.7 301.9h0M234.4 304.8h0M231.1 304.3h0M235.2 303.5h0M235.3 301.6h0M235.7 306.8h0M242.1 303.8h0M240.1 308.3h0M239.5 306.2h0M236.5 304.7h0M250.9 221.4h0M246.1 219.1h0M243.7 225.8h0M246.7 220.8h0M246.3 224.9h0M250.5 225.6h0M249.9 256.7h0M254.1 258.2h0M253.0 262.1h0M251.6 257.5h0M258.5 260.0h0M253.1 256.3h0M254.0 249.4h0M250.8 256.9h0M254.2 268.8h0M258.8 258.0h0M253.8 259.0h0M254.2 264.5h0M250.0 266.0h0M256.4 265.9h0M249.0 265.5h0M249.8 257.4h0M246.7 267.2h0M255.3 270.6h0M250.0 265.5h0M243.9 267.5h0M249.5 265.5h0M258.9 267.8h0M257.2 276.9h0M257.9 272.5h0M253.6 278.9h0M255.2 272.0h0M253.9 272.6h0M261.6 276.2h0M255.2 268.7h0M257.4 275.8h0M261.2 277.2h0M254.7 272.6h0M259.0 271.2h0M245.0 294.9h0M247.2 283.0h0M245.1 287.0h0M247.7 290.2h0M242.2 287.6h0M249.3 284.2h0M250.3 287.0h0M248.9 281.6h0M252.8 289.1h0M248.9 285.6h0M239.0 290.5h0M239.7 286.0h0M243.7 289.3h0M249.5 294.6h0M252.1 291.7h0M247.9 291.2h0M249.8 294.2h0M254.9 298.0h0M249.8 304.1h0M249.9 308.1h0M253.0 307.4h0M249.8 306.7h0M255.6 313.6h0M248.2 302.7h0M246.2 312.0h0M253.9 308.0h0M250.5 305.8h0M250.6 305.6h0" stroke="#8e8cbc" stroke-width="1.7" stroke-linecap="round" fill="none" stroke-opacity="0.75"/>
<path d="M147.9 222.8h0M140.1 223.0h0M139.5 235.8h0M129.9 228.0h0M141.6 228.3h0M144.1 227.7h0M140.1 227.6h0M132.7 228.0h0M138.0 225.0h0M142.9 232.5h0M138.6 229.5h0M140.7 226.1h0M137.8 228.9h0M133.3 228.6h0M142.2 223.8h0M138.6 225.4h0M137.0 232.0h0M137.9 227.7h0M141.6 227.2h0M135.0 225.8h0M151.2 236.4h0M140.0 237.0h0M143.5 235.3h0M152.2 238.6h0M151.0 237.9h0M143.2 230.8h0M153.1 235.4h0M140.6 234.3h0M146.4 232.8h0M139.1 239.2h0M138.5 240.7h0M135.6 237.2h0M132.7 240.1h0M135.0 242.1h0M132.2 241.2h0M136.8 243.9h0M134.1 246.1h0M156.2 265.1h0M142.3 245.6h0M149.5 250.6h0M145.1 264.3h0M148.1 259.9h0M155.2 255.7h0M150.6 259.8h0M155.7 257.2h0M142.3 260.6h0M147.1 251.4h0M142.4 256.8h0M140.8 254.8h0M134.9 249.2h0M143.4 257.4h0M147.6 258.5h0M138.2 270.9h0M139.4 274.2h0M144.8 267.0h0M144.2 275.9h0M142.4 267.2h0M138.2 273.3h0M144.1 271.7h0M137.4 273.5h0M140.9 267.5h0M140.9 273.8h0M139.1 285.5h0M139.6 281.9h0M136.9 265.4h0M142.0 294.0h0M139.2 290.2h0M139.9 283.9h0M136.5 281.3h0M138.5 280.5h0M139.3 283.5h0M138.3 284.4h0M137.2 283.1h0M138.5 282.4h0M138.0 281.4h0M132.9 279.9h0M134.3 287.3h0M136.7 284.2h0M141.6 274.6h0M135.7 281.3h0M134.1 278.3h0M134.5 283.8h0M133.3 283.7h0M138.6 289.0h0M141.1 298.4h0M142.4 292.6h0M142.7 291.6h0M145.1 294.4h0M152.5 290.0h0M151.8 289.1h0M146.8 296.9h0M143.8 292.4h0M143.8 294.5h0M140.5 295.3h0M140.8 297.7h0M150.7 298.7h0M143.6 293.9h0M151.4 237.0h0M158.3 222.6h0M146.6 225.6h0M153.4 227.2h0M151.7 223.6h0M141.9 232.4h0M146.0 229.0h0M148.7 225.2h0M149.0 229.2h0M158.3 223.9h0M149.8 228.5h0M153.9 229.4h0M152.9 232.5h0M156.5 225.5h0M146.8 229.7h0M147.8 238.1h0M151.6 235.9h0M150.7 235.2h0M155.7 241.6h0M150.2 235.0h0M156.8 236.5h0M144.0 239.9h0M154.0 234.6h0M156.7 236.3h0M150.3 241.5h0M151.2 239.8h0M152.7 241.5h0M148.7 243.2h0M147.0 242.1h0M149.6 243.6h0M147.5 239.9h0M149.0 244.0h0M152.0 246.0h0M147.8 242.9h0M157.1 254.5h0M152.0 258.8h0M156.4 256.3h0M162.9 255.9h0M162.4 256.7h0M152.9 253.9h0M156.3 262.7h0M158.2 255.2h0M156.4 255.4h0M154.9 255.8h0M154.3 255.3h0M158.2 260.2h0M156.5 252.8h0M153.5 255.3h0M155.9 254.8h0M151.0 263.6h0M142.5 262.2h0M143.9 266.7h0M142.4 268.4h0M145.6 269.9h0M145.9 273.0h0M155.9 267.2h0M143.8 271.5h0M140.9 266.3h0M145.1 272.7h0M137.3 264.9h0M144.5 262.6h0M149.2 267.0h0M144.1 264.4h0M156.2 281.0h0M165.2 271.9h0M155.4 276.6h0M162.2 279.1h0M153.4 275.1h0M148.5 276.2h0M159.5 275.1h0M160.2 278.9h0M157.2 274.3h0M162.9 281.3h0M153.8 280.1h0M152.0 284.4h0M150.2 282.7h0M150.7 286.5h0M147.9 288.4h0M147.9 290.4h0M148.7 284.1h0M149.2 284.4h0M153.6 282.6h0M150.7 288.1h0M153.8 290.7h0M156.3 287.2h0M152.6 279.3h0M147.1 292.5h0M150.8 283.8h0M151.0 284.4h0M157.2 294.6h0M159.0 301.5h0M152.9 296.4h0M151.4 291.6h0M154.6 297.7h0M152.3 291.0h0M151.4 291.1h0M154.2 296.9h0M157.6 293.0h0M158.4 290.8h0M155.5 294.1h0M152.3 286.1h0M149.6 294.6h0M145.6 292.5h0M152.0 294.8h0M153.4 299.8h0M146.7 302.9h0M146.4 303.7h0M148.3 305.1h0M148.6 304.6h0M147.8 309.2h0M153.4 304.9h0M145.1 307.4h0M148.3 302.7h0M152.5 306.5h0M146.3 303.5h0M148.7 315.3h0M146.1 311.4h0M160.6 220.9h0M159.7 225.5h0M157.9 224.1h0M159.5 225.0h0M165.7 225.9h0M163.6 218.7h0M163.4 219.6h0M162.2 226.0h0M159.2 222.8h0M158.7 220.7h0M163.7 219.6h0M155.6 224.2h0M155.5 228.2h0M154.7 219.5h0M160.7 233.0h0M158.6 238.0h0M157.9 233.8h0M163.2 237.8h0M163.9 232.1h0M161.3 230.6h0M162.4 237.1h0M158.1 236.2h0M160.9 232.9h0M160.3 233.6h0M164.6 234.8h0M166.1 252.8h0M169.0 256.0h0M164.4 257.9h0M165.3 251.3h0M167.3 253.2h0M173.3 253.7h0M167.2 257.4h0M161.0 252.9h0M168.8 256.1h0M161.9 257.4h0M161.9 249.9h0M170.1 249.7h0M174.2 250.9h0M158.6 264.0h0M166.4 258.7h0M155.8 258.7h0M161.0 260.3h0M169.7 270.8h0M166.6 265.2h0M159.9 263.9h0M168.3 257.9h0M166.9 260.8h0M162.3 266.1h0M165.2 261.5h0M168.1 272.1h0M165.9 283.7h0M162.6 281.9h0M164.3 283.1h0M164.1 280.1h0M161.2 282.3h0M160.4 272.9h0M166.1 278.7h0M162.6 277.8h0M162.7 278.1h0M166.0 275.9h0M162.7 276.3h0M157.3 280.3h0M163.7 277.3h0M167.7 297.1h0M173.7 288.3h0M168.6 290.1h0M166.3 292.0h0M172.2 292.9h0M176.2 294.0h0M165.0 289.1h0M170.8 287.8h0M168.9 293.0h0M172.0 285.8h0M168.0 294.2h0M168.4 297.1h0M170.6 297.3h0M172.2 293.5h0M170.4 293.9h0M167.4 283.1h0M172.2 295.0h0M158.0 308.0h0M159.7 302.4h0M154.3 308.0h0M161.8 305.3h0M160.5 307.4h0M166.2 306.2h0M163.5 309.7h0M165.6 310.1h0M163.3 304.2h0M159.4 312.0h0M172.3 225.7h0M176.7 217.9h0M173.2 225.8h0M170.5 225.5h0M173.3 220.4h0M174.8 221.0h0M171.3 223.9h0M165.3 222.6h0M175.7 220.5h0M175.0 225.9h0M173.6 229.0h0M173.6 220.7h0M172.6 222.5h0M170.8 237.4h0M178.8 238.7h0M181.2 235.4h0M171.8 238.9h0M175.7 236.0h0M171.7 234.6h0M176.0 239.0h0M178.1 232.8h0M173.6 241.6h0M179.0 237.0h0M174.0 248.7h0M175.9 238.9h0M172.7 247.7h0M174.7 248.3h0M174.2 247.7h0M172.3 239.6h0M166.2 243.2h0M182.0 238.5h0M178.3 243.1h0M180.4 246.2h0M172.4 242.8h0M176.5 249.4h0M177.0 243.4h0M172.4 254.1h0M178.6 256.6h0M179.6 252.6h0M176.8 250.9h0M176.4 254.7h0M178.2 252.8h0M175.5 251.8h0M176.7 253.0h0M175.4 265.7h0M172.3 260.4h0M163.9 258.1h0M176.5 261.4h0M169.9 260.0h0M171.2 262.6h0M175.3 261.9h0M174.7 262.9h0M173.6 261.2h0M170.0 269.6h0M174.9 274.1h0M174.7 271.0h0M177.0 274.8h0M175.5 273.4h0M174.4 275.8h0M178.5 270.5h0M182.2 271.4h0M178.3 265.9h0M175.5 275.8h0M174.4 267.7h0M174.2 270.8h0M176.4 270.5h0M174.4 275.3h0M174.4 262.7h0M172.9 268.1h0M173.1 276.0h0M180.1 271.9h0M170.1 273.5h0M172.2 282.0h0M167.4 283.3h0M171.7 292.3h0M170.2 290.1h0M170.5 285.5h0M176.2 283.8h0M168.2 278.5h0M169.5 285.1h0M167.3 280.8h0M170.3 287.6h0M165.1 279.4h0M166.1 283.2h0M174.2 287.5h0M165.7 286.5h0M175.0 294.6h0M170.2 296.2h0M173.0 288.9h0M175.9 295.2h0M174.0 295.3h0M184.1 294.2h0M179.0 291.3h0M176.5 291.0h0M175.4 298.0h0M173.0 288.2h0M176.8 289.9h0M176.5 291.2h0M175.0 290.7h0M174.3 291.8h0M178.8 294.8h0M183.1 287.9h0M166.0 302.4h0M177.7 303.4h0M171.1 303.2h0M174.4 304.8h0M172.7 299.7h0M170.5 307.2h0M168.4 303.2h0M172.8 297.3h0M172.5 306.1h0M173.7 302.8h0M165.9 298.8h0M180.2 224.2h0M181.5 221.7h0M177.7 223.3h0M185.2 223.2h0M175.7 216.8h0M181.3 217.8h0M182.3 221.0h0M180.7 222.7h0M187.3 222.6h0M178.4 220.2h0M179.8 222.3h0M181.6 224.3h0M178.5 226.3h0M180.1 228.1h0M179.4 223.1h0M183.2 226.5h0M186.4 234.7h0M183.9 233.2h0M187.2 232.5h0M185.5 230.4h0M181.7 232.9h0M188.2 235.2h0M184.2 235.5h0M187.7 259.5h0M184.9 260.9h0M183.4 263.8h0M185.2 260.6h0M181.7 264.8h0M180.3 268.3h0M190.1 266.9h0M177.1 263.3h0M181.0 259.7h0M180.6 257.5h0M177.3 260.3h0M184.0 259.8h0M187.0 261.7h0M193.5 279.6h0M193.5 271.1h0M188.6 272.2h0M187.8 271.6h0M189.6 269.8h0M191.9 271.7h0M190.1 272.3h0M190.1 267.9h0M187.3 274.4h0M185.4 270.4h0M187.2 281.8h0M185.8 291.6h0M183.6 281.3h0M180.3 289.4h0M184.3 280.8h0M184.3 285.7h0M184.7 281.8h0M185.7 282.1h0M177.0 278.5h0M182.8 286.2h0M186.1 291.1h0M184.5 279.9h0M184.8 286.0h0M185.7 283.1h0M176.4 309.4h0M183.6 305.4h0M184.2 313.9h0M185.2 308.0h0M186.1 310.0h0M186.0 305.1h0M180.1 305.5h0M184.4 314.3h0M178.0 308.3h0M187.3 312.3h0M187.6 309.7h0M177.5 306.7h0M186.2 304.4h0M179.8 312.1h0M178.9 313.5h0M202.4 243.2h0M196.5 234.5h0M194.6 239.3h0M200.0 242.7h0M204.1 239.0h0M202.7 229.4h0M208.9 245.3h0M199.5 237.4h0M200.3 236.6h0M194.3 240.0h0M197.4 242.7h0M197.9 230.1h0M205.9 232.4h0M199.8 236.1h0M209.2 239.8h0M191.1 246.9h0M189.7 245.6h0M191.6 246.4h0M190.4 245.9h0M190.2 248.4h0M188.8 246.3h0M190.8 243.8h0M194.0 250.0h0M192.8 245.4h0M191.0 243.8h0M198.3 246.0h0M193.7 252.2h0M202.2 258.0h0M196.7 253.5h0M193.1 256.1h0M190.7 262.2h0M201.1 260.1h0M191.2 247.5h0M198.4 256.8h0M194.9 266.6h0M203.4 252.9h0M204.8 253.2h0M196.0 255.6h0M198.7 255.5h0M200.9 257.7h0M194.2 271.7h0M192.9 269.0h0M193.7 268.2h0M189.8 272.1h0M194.0 264.0h0M192.6 269.7h0M190.2 270.6h0M193.6 271.0h0M193.4 269.2h0M190.3 271.5h0M191.2 274.7h0M193.3 274.1h0M196.9 277.4h0M206.0 274.9h0M196.1 272.8h0M200.6 279.4h0M200.4 285.2h0M200.3 279.6h0M204.5 269.4h0M201.1 277.0h0M203.6 274.8h0M200.4 273.2h0M205.5 290.0h0M198.0 291.2h0M198.7 281.5h0M191.8 278.7h0M199.2 281.8h0M196.6 282.6h0M191.9 284.4h0M190.0 282.4h0M201.0 280.4h0M197.2 285.6h0M193.5 284.7h0M192.9 282.8h0M200.1 289.6h0M200.0 300.4h0M196.0 293.5h0M193.8 298.1h0M195.6 300.4h0M198.5 301.5h0M203.1 293.8h0M198.1 295.4h0M201.1 290.0h0M195.9 296.8h0M195.3 310.7h0M195.2 305.7h0M196.2 313.2h0M194.5 304.4h0M194.3 309.0h0M192.8 309.6h0M188.7 301.7h0M192.4 311.3h0M188.2 310.9h0M193.2 308.0h0M196.4 308.5h0M190.6 307.3h0M189.3 302.6h0M195.1 310.9h0M202.9 221.9h0M197.4 220.1h0M200.0 223.8h0M198.8 218.7h0M198.9 228.0h0M201.1 234.0h0M203.9 225.0h0M202.2 222.6h0M198.1 221.4h0M206.8 220.6h0M202.4 248.2h0M200.3 245.8h0M196.4 246.9h0M204.1 245.8h0M203.2 245.1h0M202.7 248.7h0M203.0 248.9h0M199.3 246.9h0M196.2 240.9h0M207.0 248.3h0M203.7 249.7h0M201.8 240.7h0M205.0 245.0h0M212.9 250.5h0M202.2 256.4h0M210.5 254.2h0M209.2 248.2h0M208.8 256.6h0M208.9 258.2h0M211.7 254.1h0M205.3 248.9h0M203.3 258.4h0M213.8 255.5h0M211.6 258.9h0M208.9 262.8h0M213.1 264.7h0M208.3 264.3h0M202.0 263.6h0M208.1 266.0h0M207.0 269.7h0M203.6 264.5h0M203.1 272.1h0M207.9 262.1h0M206.2 262.0h0M207.4 266.6h0M202.2 265.4h0M207.1 267.2h0M208.5 266.7h0M206.0 265.7h0M203.9 270.4h0M209.6 277.1h0M209.7 273.1h0M212.7 276.2h0M209.2 269.8h0M205.8 270.8h0M206.9 275.5h0M212.7 276.3h0M214.0 275.3h0M212.4 275.9h0M214.3 276.2h0M207.6 271.4h0M211.3 278.7h0M212.2 277.2h0M213.2 276.9h0M204.4 282.3h0M204.8 286.2h0M201.6 282.7h0M205.7 289.4h0M204.6 288.6h0M194.7 283.3h0M197.8 287.0h0M202.4 290.8h0M206.1 288.7h0M207.9 285.2h0M204.4 286.7h0M205.1 283.6h0M206.8 295.9h0M209.5 301.4h0M205.3 296.7h0M206.1 298.6h0M211.8 293.3h0M213.1 299.9h0M216.4 230.5h0M208.2 222.9h0M212.8 226.5h0M216.6 224.8h0M220.4 229.3h0M216.8 225.2h0M217.5 223.7h0M209.5 228.9h0M217.1 230.4h0M219.1 223.6h0M218.5 233.3h0M215.4 237.4h0M214.5 238.3h0M215.5 241.2h0M210.4 240.5h0M218.5 237.6h0M218.3 239.0h0M222.2 236.9h0M217.9 236.3h0M218.1 238.9h0M221.6 235.5h0M213.6 239.0h0M220.7 238.8h0M208.1 247.1h0M219.2 241.7h0M214.9 250.9h0M212.7 243.6h0M218.4 247.8h0M215.5 245.9h0M217.7 245.0h0M218.5 246.7h0M217.2 244.6h0M219.6 245.5h0M208.7 246.3h0M220.3 242.7h0M208.7 246.0h0M219.7 245.0h0M226.9 256.7h0M227.8 256.4h0M223.0 259.5h0M221.8 251.5h0M220.2 255.2h0M219.1 254.2h0M223.1 258.0h0M223.6 258.1h0M226.5 256.1h0M211.5 264.4h0M216.3 261.5h0M213.4 263.8h0M213.7 265.9h0M217.0 261.9h0M212.1 263.5h0M214.4 261.5h0M210.4 263.3h0M217.5 277.4h0M220.8 272.4h0M220.9 273.3h0M216.3 272.5h0M222.2 276.7h0M215.8 277.8h0M216.7 275.5h0M229.1 274.4h0M219.7 280.5h0M217.8 276.8h0M217.8 275.7h0M220.3 273.0h0M221.0 274.8h0M209.8 277.2h0M219.9 281.3h0M217.5 283.7h0M212.1 283.5h0M215.0 285.6h0M213.0 281.3h0M211.9 280.6h0M216.7 276.6h0M221.8 295.4h0M227.5 296.3h0M220.5 295.1h0M225.9 295.0h0M223.4 290.7h0M220.2 296.7h0M217.5 296.0h0M220.2 292.5h0M224.4 303.1h0M217.1 303.1h0M215.5 301.6h0M221.3 307.4h0M217.3 303.4h0M223.7 302.7h0M215.9 303.3h0M214.4 304.8h0M216.1 308.6h0M215.9 304.0h0M229.3 234.4h0M230.7 224.3h0M224.9 226.7h0M228.5 231.9h0M228.9 233.1h0M228.2 224.1h0M224.9 222.5h0M230.9 220.9h0M238.3 227.7h0M225.3 228.0h0M228.1 224.1h0M228.6 218.8h0M226.6 222.1h0M230.2 224.4h0M223.5 231.2h0M241.1 235.9h0M232.3 234.6h0M235.4 233.0h0M236.8 236.0h0M238.2 235.4h0M233.4 231.9h0M236.9 259.5h0M229.4 256.3h0M231.0 263.7h0M222.0 251.8h0M233.3 256.9h0M227.9 256.7h0M229.5 257.4h0M229.0 249.5h0M227.8 254.3h0M224.6 261.2h0M225.4 257.7h0M223.5 264.3h0M227.3 263.4h0M232.2 259.5h0M224.2 263.7h0M226.4 259.3h0M221.8 267.3h0M233.3 257.3h0M236.3 270.5h0M231.4 273.7h0M232.8 273.2h0M237.1 269.2h0M240.3 272.0h0M234.3 272.1h0M232.2 272.5h0M238.5 276.5h0M227.0 273.0h0M236.9 273.3h0M236.2 274.7h0M238.5 273.5h0M231.9 292.4h0M230.7 299.5h0M226.7 293.7h0M228.7 292.9h0M231.2 298.4h0M232.1 293.3h0M235.5 292.5h0M228.4 295.9h0M232.1 291.9h0M234.3 292.2h0M227.4 290.9h0M236.1 293.5h0M229.2 295.7h0M233.7 299.1h0M232.9 292.9h0M230.1 298.9h0M229.5 307.7h0M229.1 303.7h0M229.5 303.7h0M231.9 305.7h0M226.5 311.3h0M230.6 307.2h0M225.4 308.4h0M228.8 304.4h0M226.1 307.8h0M224.7 303.6h0M231.9 304.0h0M227.3 305.9h0M228.4 307.2h0M228.6 304.8h0M235.8 217.7h0M237.6 230.8h0M228.3 216.9h0M245.1 230.5h0M233.7 226.2h0M233.3 219.8h0M247.6 226.9h0M237.9 222.1h0M241.3 226.4h0M234.7 228.5h0M244.3 226.7h0M237.4 226.5h0M239.5 243.8h0M241.9 241.4h0M234.2 249.4h0M234.9 251.7h0M237.0 242.8h0M234.0 241.0h0M239.7 247.4h0M237.1 246.6h0M237.5 250.9h0M236.8 244.2h0M240.5 250.7h0M247.7 254.9h0M240.8 252.1h0M242.1 252.7h0M244.6 254.7h0M243.1 251.0h0M244.6 253.3h0M244.6 252.1h0M234.0 267.5h0M239.2 266.2h0M237.5 263.4h0M238.8 262.8h0M236.9 266.9h0M233.5 267.7h0M237.5 268.9h0M231.2 270.4h0M236.4 268.1h0M234.5 268.9h0M240.1 265.8h0M244.7 286.7h0M246.3 277.8h0M247.7 278.8h0M249.9 281.3h0M249.0 280.4h0M249.4 276.2h0M247.3 281.6h0M249.6 281.9h0M246.9 282.0h0M246.5 271.6h0M242.0 280.1h0M246.3 276.9h0M246.6 277.2h0M249.2 279.0h0M235.0 278.8h0M236.7 287.8h0M237.3 280.3h0M232.8 281.9h0M241.0 285.3h0M243.7 285.1h0M247.6 286.1h0M238.5 285.5h0M241.6 290.7h0M238.4 285.0h0M234.0 283.8h0M244.6 283.3h0M241.7 286.2h0M236.7 285.1h0M238.9 298.5h0M244.5 288.9h0M238.9 296.4h0M245.0 297.5h0M243.1 296.0h0M247.6 289.5h0M242.4 299.1h0M250.0 292.7h0M248.8 297.7h0M250.9 297.6h0M242.5 293.0h0M244.4 301.5h0M244.5 296.4h0M245.0 294.6h0M241.1 295.0h0M242.7 294.7h0M238.1 306.0h0M237.4 303.5h0M233.5 306.6h0M228.8 307.0h0M231.5 308.8h0M238.4 297.1h0M238.9 292.8h0M237.5 308.1h0M233.7 302.9h0M234.6 310.1h0M238.1 308.2h0M240.5 298.8h0M248.6 224.8h0M247.4 222.4h0M246.4 220.2h0M240.4 220.5h0M244.6 222.9h0M249.3 222.4h0M250.2 225.3h0M247.4 221.5h0M249.0 219.9h0M246.1 226.1h0M250.5 222.5h0M245.3 222.4h0M247.6 255.5h0M253.3 255.0h0M253.0 256.6h0M256.0 258.6h0M253.9 257.4h0M257.6 257.7h0M252.0 260.4h0M254.8 259.0h0M257.1 255.5h0M253.5 261.3h0M246.5 265.6h0M254.3 266.4h0M250.8 264.6h0M255.0 262.5h0M249.3 266.2h0M246.0 263.0h0M251.4 261.7h0M250.1 264.3h0M248.8 266.4h0M254.3 265.5h0M255.0 269.0h0M257.7 266.6h0M255.0 278.4h0M245.3 271.4h0M250.4 270.5h0M249.9 270.9h0M256.5 279.1h0M250.3 280.0h0M248.1 270.9h0M253.5 270.5h0M251.0 273.0h0M252.8 272.2h0M247.0 293.0h0M248.4 288.4h0M246.8 289.3h0M246.2 288.0h0M247.4 290.3h0M248.4 285.6h0M247.9 290.6h0M247.5 287.2h0M245.6 290.0h0M242.0 290.6h0M250.9 293.6h0M250.3 293.0h0M251.7 294.1h0M258.5 293.8h0M243.1 293.9h0M250.8 291.3h0M260.0 293.4h0M247.3 293.1h0M251.4 293.3h0M250.8 295.4h0M251.0 294.8h0M258.1 295.3h0M252.7 299.9h0M247.5 303.9h0M256.6 310.6h0M248.0 299.0h0M248.0 307.0h0M248.6 307.0h0M248.5 307.1h0M251.6 304.3h0M245.9 301.6h0M250.6 306.5h0M252.3 304.1h0M248.5 310.8h0M251.4 308.6h0M249.8 309.2h0M256.3 308.0h0M244.1 304.1h0" stroke="#cf3443" stroke-width="1.4" stroke-linecap="round" fill="none" stroke-opacity="0.85"/>
<path d="M130.6 226.0h0M142.9 226.3h0M132.9 227.0h0M138.4 226.0h0M135.4 228.4h0M139.6 225.4h0M141.9 227.4h0M145.0 220.4h0M147.7 239.0h0M144.0 230.5h0M150.9 235.1h0M146.3 240.6h0M137.5 235.2h0M145.0 237.2h0M138.7 240.6h0M148.0 234.6h0M144.3 233.8h0M141.4 233.3h0M147.6 232.1h0M148.4 237.5h0M151.1 235.7h0M136.4 242.4h0M142.6 240.9h0M136.1 246.3h0M136.0 242.0h0M134.3 245.7h0M135.1 243.9h0M139.4 235.8h0M134.0 240.4h0M133.8 246.8h0M148.2 255.8h0M142.9 259.7h0M142.8 252.5h0M143.0 253.6h0M140.6 254.4h0M146.7 261.1h0M143.9 256.0h0M138.0 260.2h0M148.3 270.0h0M140.9 276.1h0M144.2 274.8h0M144.9 272.8h0M140.9 280.4h0M142.9 267.7h0M147.9 275.3h0M137.6 284.7h0M142.8 284.9h0M136.8 283.0h0M138.6 279.7h0M139.5 281.7h0M140.5 285.1h0M141.2 281.8h0M138.6 294.0h0M149.3 294.2h0M142.8 293.4h0M144.9 291.0h0M141.4 290.3h0M145.1 294.9h0M144.3 296.2h0M147.8 294.8h0M145.6 291.5h0M150.1 224.1h0M148.3 227.0h0M147.6 226.6h0M147.9 224.1h0M149.9 224.6h0M155.9 225.5h0M152.2 224.5h0M152.7 232.4h0M150.0 236.7h0M149.8 237.1h0M151.7 236.3h0M150.7 235.6h0M156.9 239.6h0M154.8 239.4h0M155.1 236.8h0M157.2 239.1h0M149.9 240.7h0M153.7 243.1h0M150.6 242.3h0M148.2 237.0h0M150.9 237.3h0M149.4 239.9h0M163.0 254.4h0M156.8 253.6h0M157.4 250.2h0M156.8 254.7h0M152.7 257.8h0M159.4 258.2h0M158.1 254.5h0M156.7 251.5h0M153.1 259.8h0M146.0 267.8h0M151.9 268.3h0M145.6 269.9h0M151.9 270.8h0M147.6 269.1h0M149.1 267.8h0M146.1 270.7h0M154.1 279.9h0M157.1 279.7h0M156.7 280.9h0M156.2 279.6h0M158.9 275.5h0M156.1 273.5h0M161.2 277.6h0M160.2 276.2h0M155.3 274.8h0M152.6 279.5h0M154.4 275.2h0M156.0 287.7h0M145.6 287.0h0M155.0 285.4h0M153.4 285.6h0M158.6 284.8h0M151.1 281.9h0M152.5 285.5h0M152.9 295.6h0M151.1 287.5h0M153.9 294.0h0M151.3 287.6h0M158.9 298.2h0M151.5 293.1h0M154.1 293.2h0M148.7 306.1h0M152.0 304.6h0M149.0 306.3h0M149.2 304.4h0M149.4 307.6h0M158.6 306.5h0M146.7 303.9h0M149.5 306.2h0M152.6 307.7h0M153.4 305.9h0M151.9 306.0h0M146.9 311.9h0M162.6 223.8h0M159.1 221.6h0M161.4 220.2h0M158.4 219.4h0M163.0 223.6h0M159.4 221.4h0M160.2 237.6h0M162.0 237.1h0M166.3 233.8h0M156.8 242.5h0M166.8 251.3h0M167.9 255.3h0M171.6 257.7h0M164.0 261.3h0M162.4 255.6h0M165.6 254.6h0M165.3 253.5h0M167.6 252.3h0M157.6 262.8h0M171.9 261.6h0M165.3 258.9h0M165.8 257.2h0M163.2 267.1h0M163.4 263.3h0M167.2 266.0h0M161.7 268.9h0M168.3 261.1h0M161.6 260.8h0M168.8 256.6h0M164.9 257.3h0M162.1 265.7h0M167.7 258.0h0M167.7 267.5h0M167.3 259.6h0M163.1 279.6h0M166.5 272.7h0M165.3 275.3h0M161.2 278.8h0M161.5 278.7h0M164.7 276.0h0M160.3 293.6h0M168.0 291.3h0M165.9 293.5h0M161.0 311.8h0M163.8 305.9h0M165.8 309.2h0M163.0 310.2h0M161.2 314.1h0M160.1 307.4h0M170.3 227.9h0M175.9 222.5h0M168.8 228.6h0M174.7 229.7h0M174.6 222.6h0M179.3 224.4h0M167.6 226.9h0M179.2 234.1h0M176.1 230.7h0M174.1 233.9h0M177.0 244.1h0M180.3 238.9h0M178.6 236.0h0M179.4 237.9h0M170.3 245.2h0M173.6 244.7h0M169.5 242.2h0M180.9 246.5h0M175.8 246.5h0M174.6 243.4h0M166.2 248.0h0M172.2 247.6h0M171.3 235.4h0M174.8 252.0h0M177.0 253.8h0M175.2 252.8h0M172.9 259.2h0M177.3 251.0h0M178.4 257.5h0M175.9 252.5h0M178.7 254.4h0M179.5 255.8h0M171.7 262.0h0M173.2 257.9h0M172.2 261.3h0M169.3 260.7h0M166.8 257.0h0M174.9 267.9h0M170.1 259.0h0M173.6 269.8h0M166.9 261.9h0M172.3 269.3h0M168.7 260.5h0M182.0 266.6h0M178.8 272.5h0M172.9 268.3h0M178.2 272.0h0M176.6 270.3h0M170.8 272.4h0M174.2 274.9h0M168.9 281.9h0M167.1 282.3h0M168.4 283.0h0M175.7 279.8h0M163.7 285.5h0M171.2 284.8h0M170.0 284.4h0M177.9 291.1h0M174.6 286.1h0M175.5 290.6h0M175.7 292.1h0M170.2 291.7h0M167.8 306.5h0M178.4 298.2h0M170.4 303.8h0M170.2 303.8h0M171.1 306.1h0M166.7 300.2h0M173.3 306.2h0M168.9 303.6h0M174.5 307.9h0M181.5 221.2h0M183.9 221.8h0M184.7 228.8h0M178.9 226.8h0M185.3 226.8h0M183.0 225.7h0M181.3 223.2h0M183.4 236.8h0M182.2 234.8h0M184.5 233.3h0M186.3 228.2h0M185.7 231.2h0M184.6 235.5h0M183.5 260.1h0M178.8 266.6h0M184.8 262.7h0M187.8 259.0h0M184.5 260.7h0M178.6 262.5h0M181.8 263.1h0M179.0 257.6h0M171.6 265.6h0M187.8 259.1h0M193.0 268.7h0M188.2 270.9h0M195.8 273.7h0M185.3 273.6h0M189.6 270.4h0M192.4 272.6h0M183.6 287.9h0M190.0 290.9h0M183.2 282.3h0M179.6 280.2h0M177.9 291.6h0M176.2 286.0h0M183.3 289.6h0M183.0 284.9h0M179.5 282.7h0M180.2 290.7h0M193.5 283.5h0M188.9 306.6h0M171.6 309.8h0M182.3 306.9h0M182.5 305.2h0M183.2 302.8h0M180.1 306.7h0M178.6 306.5h0M174.3 308.4h0M183.9 303.1h0M182.3 307.6h0M183.0 305.7h0M199.3 239.7h0M200.7 234.3h0M201.9 237.1h0M205.3 240.4h0M206.0 234.9h0M200.4 242.3h0M198.2 243.7h0M203.5 238.6h0M197.3 233.6h0M202.2 235.8h0M195.4 230.3h0M197.4 242.8h0M191.0 244.4h0M192.2 243.6h0M188.1 249.0h0M197.0 243.8h0M194.8 251.8h0M195.7 254.5h0M197.7 252.3h0M197.1 260.2h0M197.9 261.7h0M202.1 260.3h0M199.5 263.4h0M192.3 255.1h0M189.8 263.7h0M191.2 270.4h0M196.0 271.8h0M195.3 270.4h0M195.9 270.9h0M195.5 269.8h0M207.5 277.0h0M195.9 277.6h0M195.2 274.6h0M207.1 274.3h0M201.0 277.5h0M194.1 276.0h0M198.3 277.9h0M195.8 270.5h0M197.2 276.7h0M187.5 272.3h0M198.7 276.1h0M199.8 285.1h0M200.9 283.3h0M198.3 282.0h0M196.0 284.5h0M203.1 284.9h0M198.9 293.8h0M199.7 300.2h0M194.7 292.2h0M199.3 299.1h0M195.8 296.8h0M195.7 293.3h0M199.1 297.7h0M193.8 293.2h0M207.1 299.5h0M194.5 297.0h0M185.2 310.1h0M190.6 309.1h0M191.3 302.5h0M195.9 309.0h0M191.0 309.7h0M195.6 307.5h0M188.8 305.4h0M189.1 303.2h0M203.4 226.3h0M205.0 224.6h0M208.1 226.8h0M203.0 224.9h0M200.9 225.5h0M204.6 222.8h0M204.5 220.5h0M198.6 229.0h0M200.8 223.3h0M203.5 220.6h0M200.5 244.6h0M199.6 241.4h0M201.9 253.6h0M201.7 241.8h0M202.0 248.3h0M201.3 243.0h0M208.4 255.2h0M204.6 253.8h0M212.8 253.4h0M215.1 255.6h0M215.1 255.3h0M202.7 256.7h0M205.8 256.7h0M212.8 256.2h0M212.6 255.4h0M208.9 251.0h0M206.0 256.0h0M203.2 252.3h0M205.6 264.9h0M205.7 265.5h0M206.0 266.3h0M208.2 265.6h0M207.3 263.4h0M207.2 265.2h0M205.7 266.7h0M203.9 263.6h0M208.9 274.8h0M207.7 275.9h0M210.4 275.9h0M207.1 284.4h0M205.5 284.0h0M206.6 289.3h0M198.6 284.0h0M201.0 284.8h0M200.6 287.6h0M201.5 293.1h0M202.0 288.1h0M206.5 296.6h0M205.8 298.9h0M202.8 298.1h0M212.6 291.8h0M212.6 296.5h0M208.3 301.8h0M214.6 227.7h0M218.0 222.1h0M213.5 229.0h0M211.7 230.9h0M211.5 227.3h0M221.3 228.2h0M212.8 231.9h0M213.6 221.6h0M218.8 220.6h0M212.4 228.2h0M206.6 223.6h0M218.9 226.2h0M217.5 239.6h0M217.5 232.3h0M218.7 234.3h0M220.0 234.7h0M213.7 240.8h0M219.7 238.8h0M220.3 237.0h0M217.5 233.1h0M217.7 236.7h0M223.5 236.6h0M214.2 245.4h0M218.0 246.3h0M223.7 246.3h0M215.8 246.3h0M215.5 242.5h0M220.9 244.7h0M214.8 256.7h0M226.2 252.0h0M222.7 254.0h0M221.5 248.8h0M221.3 252.9h0M220.0 254.7h0M218.0 255.3h0M224.2 259.0h0M227.0 258.3h0M223.9 253.5h0M222.8 261.1h0M222.2 249.7h0M207.9 260.4h0M216.8 263.5h0M213.4 265.6h0M214.1 264.4h0M213.9 264.3h0M213.3 261.2h0M213.5 263.4h0M213.1 263.5h0M214.4 262.5h0M222.2 276.9h0M218.7 273.5h0M219.1 271.4h0M219.6 272.4h0M221.3 271.7h0M217.3 277.3h0M216.8 280.5h0M214.4 286.5h0M215.1 282.8h0M212.0 275.7h0M213.8 284.6h0M212.1 278.4h0M213.4 286.7h0M212.8 280.1h0M219.2 285.3h0M216.0 287.6h0M219.5 298.3h0M226.9 297.7h0M219.7 289.7h0M220.6 296.5h0M218.6 295.1h0M214.9 296.8h0M218.8 295.7h0M219.7 294.3h0M224.4 291.0h0M222.5 292.1h0M220.6 304.5h0M216.7 302.6h0M211.5 299.2h0M212.4 303.7h0M228.9 300.8h0M215.0 302.8h0M219.0 305.7h0M227.7 301.9h0M212.7 301.0h0M215.6 309.0h0M231.0 224.6h0M225.3 224.2h0M229.7 228.4h0M220.8 221.3h0M228.1 230.8h0M229.8 223.2h0M231.9 225.2h0M224.2 222.7h0M225.0 225.5h0M233.4 223.9h0M225.2 231.6h0M235.5 233.8h0M231.4 234.6h0M235.3 233.9h0M238.2 234.8h0M235.3 237.6h0M230.2 236.0h0M232.7 236.2h0M232.8 261.6h0M236.5 260.7h0M237.6 257.5h0M231.0 257.6h0M229.1 260.2h0M230.6 256.4h0M239.2 253.8h0M230.0 260.2h0M230.7 259.7h0M222.0 259.1h0M225.4 266.5h0M232.0 261.9h0M230.7 263.2h0M223.8 265.4h0M221.2 262.8h0M228.6 261.9h0M232.2 264.7h0M223.9 262.7h0M224.6 262.2h0M224.8 267.9h0M228.8 267.4h0M230.0 269.9h0M233.7 275.5h0M235.3 276.2h0M236.0 270.7h0M234.5 273.3h0M230.2 274.5h0M235.8 272.3h0M236.0 271.9h0M235.3 271.9h0M236.9 275.1h0M237.5 270.4h0M231.0 271.2h0M238.4 297.5h0M227.6 297.7h0M231.2 293.8h0M227.7 295.9h0M226.9 308.6h0M230.4 306.7h0M233.8 309.3h0M232.8 309.5h0M227.5 307.6h0M244.2 223.1h0M239.4 228.7h0M235.9 230.3h0M237.0 227.0h0M236.7 236.1h0M241.3 223.2h0M232.8 224.2h0M240.7 226.5h0M236.5 227.2h0M231.7 221.3h0M234.0 220.3h0M235.4 220.9h0M234.1 226.5h0M239.9 227.8h0M241.5 246.4h0M235.3 246.0h0M236.7 239.4h0M237.6 249.6h0M232.1 241.6h0M238.0 247.2h0M233.0 248.4h0M236.0 240.9h0M238.8 251.7h0M232.3 246.4h0M242.3 242.6h0M241.7 242.4h0M238.5 245.0h0M232.8 246.0h0M236.9 245.0h0M245.9 254.8h0M245.0 254.4h0M243.8 255.5h0M245.5 254.8h0M241.7 255.0h0M247.1 253.8h0M236.3 268.2h0M231.3 263.1h0M234.5 262.7h0M240.5 264.0h0M234.9 264.9h0M234.5 270.8h0M235.4 265.3h0M245.6 278.1h0M258.0 276.9h0M246.7 276.0h0M244.6 274.5h0M245.4 276.1h0M239.2 277.1h0M242.0 283.9h0M250.7 280.7h0M236.5 286.0h0M245.1 285.9h0M246.1 289.5h0M236.4 286.6h0M240.1 284.6h0M239.7 284.0h0M238.0 281.9h0M237.5 282.5h0M242.9 293.1h0M252.5 294.7h0M244.8 298.8h0M247.4 296.8h0M245.2 295.0h0M241.9 295.6h0M244.8 288.9h0M231.7 305.9h0M228.9 310.4h0M238.1 303.8h0M231.8 307.6h0M239.7 303.7h0M236.1 300.6h0M240.1 312.1h0M234.9 313.9h0M250.7 221.4h0M249.5 222.9h0M251.2 225.1h0M245.7 222.5h0M244.2 226.3h0M252.5 252.9h0M254.8 259.0h0M251.4 255.1h0M256.1 254.2h0M252.8 250.6h0M259.1 261.7h0M254.6 272.9h0M250.0 262.3h0M261.9 268.3h0M245.8 260.9h0M249.5 266.4h0M250.0 267.5h0M250.6 267.1h0M249.9 262.9h0M249.9 257.4h0M253.6 267.7h0M247.6 264.5h0M264.2 279.9h0M252.2 278.2h0M252.9 271.7h0M256.9 275.0h0M251.1 276.6h0M252.3 273.1h0M249.2 268.4h0M256.7 274.4h0M254.8 279.5h0M253.8 271.0h0M245.7 285.0h0M251.0 288.8h0M240.7 286.9h0M241.2 287.2h0M251.1 289.1h0M251.3 287.8h0M256.9 287.9h0M252.7 289.9h0M256.6 291.5h0M259.6 289.9h0M253.3 293.1h0M251.2 292.7h0M252.2 297.7h0M253.0 293.1h0M253.5 304.1h0M250.4 289.8h0M247.6 305.2h0M253.3 303.3h0M245.2 307.4h0M251.8 301.9h0M249.8 308.6h0" stroke="#df7f8b" stroke-width="1.5" stroke-linecap="round" fill="none" stroke-opacity="0.7"/>
<path d="M244.1 224.2h0M238.4 258.4h0M193.8 303.5h0M208.5 301.1h0M191.3 286.0h0M212.3 248.5h0M219.0 291.0h0M237.1 295.4h0M157.3 292.4h0M228.0 294.9h0M203.0 265.2h0M141.4 264.0h0M152.9 251.6h0M207.8 228.1h0M246.7 247.5h0M207.2 274.5h0M211.8 255.0h0M214.6 274.6h0M204.6 293.9h0M240.1 228.5h0M184.2 302.4h0M138.1 265.2h0M203.1 261.0h0M210.1 224.1h0M210.9 257.7h0M214.9 280.0h0M174.9 269.1h0M160.6 225.3h0M242.6 276.3h0M140.0 265.8h0M148.7 239.9h0M219.4 298.9h0M226.7 287.5h0M187.3 294.4h0M193.8 228.9h0M235.1 278.4h0M176.1 279.5h0M206.4 235.1h0M139.1 269.3h0M144.2 222.9h0M184.3 263.3h0M227.8 246.1h0M228.4 236.8h0M199.8 304.1h0M193.0 238.7h0M173.8 264.7h0M139.9 289.6h0M223.9 257.7h0M182.2 290.4h0M172.7 244.6h0M233.7 240.2h0M202.5 229.6h0M233.2 229.2h0M152.2 302.1h0M175.1 258.8h0M168.3 288.2h0M229.9 241.2h0M202.9 242.4h0M218.1 249.3h0M151.9 298.0h0M211.8 260.4h0M185.4 295.2h0M148.8 301.2h0M246.2 270.9h0M240.8 281.8h0M190.6 265.0h0M235.3 262.0h0M234.4 240.6h0M145.2 233.0h0M155.1 270.9h0M191.8 277.7h0M161.5 240.7h0M237.8 297.8h0M206.1 242.4h0M164.8 297.7h0M194.7 299.8h0M217.2 292.2h0M170.6 228.6h0M235.3 280.8h0M156.2 275.2h0M238.7 257.5h0M142.6 274.5h0M163.4 293.6h0M165.5 256.5h0M199.1 264.0h0M145.0 256.9h0M184.1 253.0h0M182.7 293.5h0M204.3 268.4h0M170.3 241.6h0M229.7 268.4h0M231.0 280.6h0M144.4 292.1h0M167.1 275.0h0M189.6 272.6h0M223.9 289.6h0M227.1 248.3h0M174.3 299.1h0M160.4 243.3h0M210.1 290.9h0M191.6 256.3h0M155.8 297.1h0M229.9 277.2h0M227.3 299.2h0M245.2 234.5h0M138.0 301.1h0M195.2 228.1h0M239.3 286.6h0M218.3 267.8h0M213.2 281.8h0M153.8 289.0h0M194.1 300.3h0M208.9 243.5h0M200.2 233.2h0M158.9 254.8h0M194.7 304.6h0M161.9 246.6h0M143.7 304.7h0M243.4 300.8h0M164.4 228.6h0M205.5 300.6h0M198.1 269.6h0M202.5 287.4h0M168.4 287.4h0M196.2 228.5h0M244.4 292.7h0M223.5 256.2h0M200.4 269.6h0M174.8 228.5h0M229.5 281.0h0M194.0 249.1h0M155.7 223.0h0M178.3 270.5h0M163.9 232.3h0M236.9 245.0h0M138.8 236.5h0M171.5 251.0h0M245.2 305.3h0M240.9 297.2h0M182.0 265.2h0M222.0 256.4h0M208.2 275.4h0M163.3 304.9h0M237.1 247.7h0M227.6 252.3h0M208.3 304.8h0M237.5 244.9h0M177.5 278.6h0M233.6 265.8h0M142.8 267.0h0M245.7 230.5h0M244.9 268.9h0M146.9 275.3h0M217.6 273.0h0M235.0 237.4h0M196.2 251.3h0M152.8 295.7h0M188.3 263.7h0M173.7 250.3h0M149.8 251.2h0" stroke="#d9545e" stroke-width="1.1" stroke-linecap="round" fill="none" stroke-opacity="0.7"/>
<path d="M235.2 304.5h0M211.5 292.4h0M208.7 223.5h0M171.6 279.4h0M222.1 236.8h0M207.4 255.4h0M217.8 280.2h0M246.2 248.3h0M208.7 266.8h0M179.0 297.5h0M198.6 270.1h0M163.2 249.1h0M231.7 256.4h0M138.8 261.8h0M169.6 252.5h0M140.0 281.4h0M141.5 227.6h0M173.6 297.3h0M233.7 281.7h0M222.9 275.1h0M165.7 290.4h0M207.5 265.9h0M188.0 249.4h0M188.8 298.5h0M183.4 235.3h0M216.8 255.6h0M223.8 254.2h0M208.8 290.8h0M224.5 236.4h0M236.9 231.8h0M151.0 290.8h0M170.3 258.8h0M210.3 245.4h0M226.4 256.8h0M175.1 276.1h0M234.9 301.5h0M230.1 302.3h0M177.6 229.6h0M175.7 260.2h0M150.6 255.2h0M138.7 239.4h0M224.5 294.5h0M216.0 302.7h0M150.3 228.9h0M172.5 269.5h0M199.4 258.1h0M238.5 250.3h0M139.0 273.2h0M189.9 284.8h0M172.1 288.9h0M233.4 227.9h0M145.8 261.3h0M185.7 254.5h0M149.5 225.7h0M189.3 300.1h0M165.9 274.6h0M152.1 278.4h0M139.9 298.2h0M209.8 297.0h0M169.6 302.4h0M220.8 305.7h0M199.6 283.6h0M148.4 282.6h0M237.5 228.4h0M176.6 286.0h0M226.6 239.5h0M239.2 285.5h0M165.5 248.4h0M148.1 234.1h0M139.9 267.6h0M244.6 271.0h0M228.8 292.4h0M195.8 222.7h0M186.0 269.6h0M243.1 241.9h0M224.0 289.5h0M192.5 269.8h0M182.4 277.2h0M208.4 224.8h0M223.9 277.2h0M203.8 255.9h0M153.1 293.3h0M184.4 277.3h0M195.9 252.3h0M153.9 279.0h0M150.7 235.0h0M140.0 244.6h0M182.6 251.3h0M142.3 265.8h0M138.4 259.6h0M174.8 247.4h0" stroke="#e0a0a8" stroke-width="1.3" stroke-linecap="round" fill="none" stroke-opacity="0.6"/>
<path d="M156.7 288.9h0M224.1 273.9h0M186.8 289.4h0M199.1 294.0h0M188.9 285.3h0M204.3 240.8h0M221.3 267.7h0M211.6 235.8h0M230.1 235.3h0M207.3 287.3h0M234.7 278.7h0M197.9 234.2h0M160.9 274.0h0M164.5 257.3h0M226.5 305.4h0M143.4 242.9h0M162.2 264.9h0M228.3 254.1h0M211.5 242.8h0M192.5 225.3h0M215.3 229.3h0M157.8 254.1h0M169.7 251.6h0M205.0 299.4h0M235.5 233.2h0M186.6 245.1h0M180.8 245.5h0M190.0 246.2h0M151.1 299.3h0M242.2 296.6h0M170.9 255.1h0M142.8 273.7h0M205.5 272.9h0M213.1 285.6h0M209.9 238.7h0M216.6 289.5h0M212.8 261.3h0M173.1 268.9h0M214.5 300.2h0M226.7 265.3h0M189.6 271.7h0M194.1 279.5h0M209.7 292.2h0M186.1 227.4h0M220.9 230.7h0M228.5 278.0h0M231.8 289.9h0M213.5 282.3h0M192.4 290.3h0M247.2 223.4h0M189.1 247.0h0M210.6 244.9h0M148.9 250.4h0M182.0 301.4h0M198.7 299.1h0M172.5 286.4h0M232.8 260.0h0M231.8 253.0h0M176.3 264.4h0M180.2 229.2h0M147.5 246.7h0M216.6 252.4h0M154.9 258.2h0M175.8 274.3h0M159.7 295.4h0M165.1 273.3h0M159.1 242.7h0M143.3 233.1h0M246.7 242.2h0M167.2 263.7h0M161.9 223.2h0M210.2 278.7h0M139.8 293.2h0M142.4 237.0h0M242.0 254.4h0M184.9 257.5h0M207.0 238.3h0M176.6 297.8h0M179.7 254.2h0M141.8 237.5h0M212.6 248.2h0M149.5 246.7h0M202.8 301.3h0M163.1 297.2h0M238.4 228.3h0M240.3 244.6h0M190.3 284.4h0M213.8 279.1h0M177.7 246.8h0M241.3 237.4h0M142.5 264.0h0M216.3 279.9h0M233.5 284.7h0M191.5 251.9h0M200.7 283.9h0M193.0 292.7h0M153.2 297.3h0M197.2 284.5h0M208.7 229.0h0" stroke="#a9a6c8" stroke-width="1.3" stroke-linecap="round" fill="none" stroke-opacity="0.5"/>
</g>
<rect x="137" y="310.4" width="111" height="83.6" fill="#dfdde0" filter="url(#tx7)"/>
<g clip-path="url(#cp8)">
<path d="M201.6 392.4h0M205.9 343.8h0M151.8 332.0h0M174.2 367.5h0M217.1 370.3h0M232.3 368.0h0M214.5 366.0h0M182.9 342.8h0M149.8 367.7h0M243.4 342.3h0M206.1 338.7h0M165.8 332.1h0M164.0 316.5h0M201.8 365.3h0M190.5 360.5h0M225.8 357.9h0M159.6 360.9h0M151.8 340.1h0M245.7 376.4h0M149.1 387.3h0M197.1 366.0h0M227.2 313.3h0M242.0 312.5h0M220.7 376.8h0M228.3 314.2h0M222.3 343.5h0M223.9 373.3h0M149.5 382.3h0M223.5 346.3h0M212.9 337.7h0M161.0 322.7h0M223.3 334.1h0M194.3 323.7h0M161.2 383.8h0M164.2 356.2h0M151.7 367.0h0M204.8 349.3h0M170.7 336.3h0M241.8 380.7h0M242.5 322.3h0M195.0 317.9h0M211.9 371.3h0M178.7 379.4h0M161.0 389.8h0M151.6 392.9h0M222.7 340.2h0M191.0 345.9h0M246.6 355.8h0M244.4 357.1h0M137.7 328.0h0M204.6 389.8h0M171.8 370.5h0M185.9 391.6h0M143.1 315.8h0M205.6 340.4h0M223.9 336.5h0M179.9 363.5h0M246.5 326.0h0M147.8 349.3h0M241.4 321.5h0M197.2 382.8h0M219.4 390.4h0M225.5 337.0h0M207.3 336.4h0M203.8 393.1h0M215.4 364.9h0M166.1 360.0h0M225.1 329.3h0M246.6 333.7h0M230.8 322.3h0M139.1 341.4h0M212.4 374.3h0M165.8 385.1h0M213.1 317.8h0M233.4 387.1h0M156.1 351.1h0M233.3 352.9h0M188.6 332.2h0M206.5 319.9h0M164.6 366.7h0M141.1 336.0h0M138.5 328.9h0M241.5 325.1h0M244.4 338.1h0M204.3 372.5h0M194.9 390.4h0M179.6 317.1h0M221.7 325.3h0M175.1 359.3h0M152.0 377.3h0M140.9 313.6h0M237.8 340.3h0M164.8 330.6h0M166.0 370.8h0M241.8 380.3h0M171.5 317.7h0M200.3 385.0h0M211.6 333.9h0M158.4 317.8h0M208.1 331.4h0M163.2 376.0h0M146.8 346.6h0M212.7 318.0h0M179.0 392.7h0M220.4 332.2h0M225.6 322.7h0M166.7 391.0h0M168.5 341.4h0M225.3 342.7h0M206.2 328.1h0M219.6 386.0h0M235.8 337.9h0M203.1 326.4h0M213.3 392.6h0M149.9 386.6h0M143.3 349.0h0M169.5 334.6h0M242.8 374.1h0M197.4 326.8h0M206.7 369.8h0M203.1 377.6h0M205.1 384.5h0M239.1 382.3h0M182.0 353.0h0M214.0 393.0h0M212.0 363.7h0M227.3 381.2h0M188.6 381.7h0M198.5 365.2h0M212.5 365.9h0M143.9 359.2h0M145.0 359.4h0M240.7 360.7h0M177.1 340.2h0M209.5 322.0h0M229.2 334.5h0M227.4 317.2h0M230.4 373.4h0M238.2 382.5h0M163.2 364.8h0M180.0 322.6h0M230.1 328.9h0M228.1 348.3h0M211.8 361.8h0M154.4 366.8h0M158.6 325.3h0M220.3 335.3h0M169.0 312.4h0M180.3 385.9h0M145.4 319.0h0M138.9 326.2h0M182.4 335.0h0M150.0 329.1h0M183.5 336.2h0M183.0 339.8h0M229.0 332.4h0M206.2 317.6h0M213.9 356.5h0M188.0 382.7h0M151.7 357.9h0M220.9 352.8h0M165.0 380.3h0M140.0 390.8h0M163.8 325.5h0M229.1 390.1h0M196.5 359.0h0M166.5 375.2h0M184.8 352.8h0M158.2 387.6h0M194.5 357.8h0M153.0 311.5h0M226.6 336.6h0M146.1 387.5h0M161.4 317.3h0M188.6 353.7h0M210.4 386.1h0M160.6 325.2h0M140.0 391.9h0M220.2 345.4h0M210.5 352.8h0M229.5 328.7h0M228.6 381.3h0M143.5 332.8h0M162.7 313.9h0M145.1 328.0h0M175.0 341.8h0M245.1 340.6h0M180.2 372.7h0M233.0 378.3h0M237.5 381.4h0M207.6 346.4h0M194.9 359.8h0M169.1 325.8h0M181.4 362.0h0M153.6 355.0h0M232.8 327.6h0M165.1 334.9h0M179.7 367.9h0M185.4 323.8h0M186.1 346.9h0M241.8 393.1h0M222.9 323.3h0M145.4 324.5h0M145.2 311.9h0M209.1 377.0h0M150.5 362.0h0M165.6 363.1h0M162.6 349.7h0M222.0 353.6h0M202.9 384.9h0M175.2 344.2h0M236.4 387.7h0M188.9 358.7h0M153.3 374.4h0M223.2 331.9h0M161.7 319.1h0M215.8 368.2h0M138.8 327.2h0M223.8 389.4h0M175.4 358.3h0M213.5 337.6h0M231.7 388.0h0M200.4 321.9h0M163.7 340.2h0M183.2 364.5h0M172.2 331.9h0M228.2 372.7h0M138.5 321.3h0M154.2 315.3h0M221.0 336.1h0M150.9 368.2h0M179.5 324.4h0M227.1 381.8h0M166.8 356.4h0M215.9 367.7h0M238.0 316.2h0M185.3 350.5h0M244.8 338.6h0M214.0 383.8h0M189.3 332.2h0M153.8 321.9h0M233.4 335.7h0M164.9 347.2h0M218.1 351.3h0M219.9 337.2h0M144.3 338.3h0M228.8 364.5h0M237.0 331.5h0M173.2 373.3h0M171.8 375.7h0M167.5 372.8h0M165.3 350.1h0M215.7 355.5h0M174.1 334.2h0M202.2 339.1h0M235.4 363.7h0M208.6 381.8h0M207.2 383.1h0M203.0 315.8h0M211.2 377.6h0M195.3 321.9h0M194.7 329.1h0M218.9 352.5h0M231.1 373.9h0M234.0 328.7h0M246.8 333.0h0M204.9 369.6h0M211.9 348.2h0M233.5 377.9h0M146.1 366.8h0M174.4 381.3h0M247.1 327.0h0M239.1 323.3h0M238.5 368.1h0M231.8 363.9h0M195.2 382.6h0M148.6 325.1h0M230.3 377.3h0M211.7 372.9h0M219.4 337.2h0M244.8 313.1h0M237.6 322.2h0M222.9 389.8h0M227.4 357.6h0M187.9 357.6h0M174.7 356.6h0M247.5 351.9h0M181.1 322.3h0M189.5 376.5h0M221.5 359.2h0M192.1 319.4h0M211.2 332.5h0M185.1 321.2h0M182.6 325.6h0M231.1 321.0h0M228.9 362.5h0M158.9 351.8h0M140.2 326.4h0M181.7 318.2h0M209.9 361.0h0M189.9 330.4h0M170.4 317.0h0M222.1 337.7h0M232.4 340.5h0M157.7 317.8h0M196.9 359.2h0M187.4 342.8h0M167.7 373.0h0M149.3 322.5h0M203.9 362.3h0M157.9 343.5h0M188.2 379.2h0M231.8 337.0h0M181.2 319.9h0M238.1 350.3h0M194.6 373.3h0M207.7 385.1h0M187.7 344.5h0M223.8 341.6h0M179.7 381.9h0M144.5 339.6h0M205.7 348.5h0M140.3 385.1h0M240.0 368.6h0M237.9 375.3h0M148.7 320.2h0M245.7 374.1h0M159.3 377.0h0M220.0 342.8h0M140.4 315.2h0M158.0 388.9h0M243.7 336.1h0M194.0 325.6h0M198.3 372.1h0M145.0 354.3h0M151.8 314.4h0M212.3 365.4h0M216.2 384.5h0M212.3 329.4h0M185.4 385.5h0M213.5 349.1h0M200.7 316.7h0M160.8 375.9h0M219.0 327.5h0M212.1 372.4h0M205.3 343.8h0M191.1 334.5h0M143.3 354.1h0M239.3 387.4h0M172.3 338.4h0M215.6 312.8h0M149.7 383.4h0M247.3 375.5h0M215.0 330.6h0M157.7 380.8h0M154.5 375.1h0M144.8 376.5h0M240.7 363.7h0M191.1 351.4h0M170.2 383.6h0M218.7 358.7h0M176.2 329.3h0M157.6 380.1h0M212.3 362.3h0M225.4 376.8h0M156.2 389.5h0M189.4 319.7h0M242.8 377.2h0M184.7 385.5h0M187.1 333.7h0M176.8 384.6h0M222.1 377.3h0M199.0 327.4h0M158.8 334.6h0M139.8 324.5h0M162.2 319.3h0M201.5 340.4h0M213.6 352.9h0M192.1 375.0h0M203.2 383.8h0M229.2 349.5h0M148.8 353.7h0M197.7 378.8h0M237.7 348.7h0M146.8 362.4h0M177.9 374.4h0M229.1 384.3h0M191.0 326.2h0M180.0 380.7h0M175.6 378.5h0M185.1 327.0h0M209.5 349.9h0M160.6 356.7h0M143.8 382.2h0M154.9 327.7h0M175.3 339.5h0M243.9 356.0h0M243.7 325.7h0M185.0 363.4h0M154.0 327.0h0M154.3 346.5h0M245.4 348.4h0M178.3 337.0h0M161.6 324.5h0M203.8 321.4h0M155.0 393.2h0M224.4 330.2h0M202.8 327.8h0M194.9 333.5h0M177.5 393.1h0M206.5 352.3h0M168.4 390.0h0M202.6 392.8h0M143.5 372.3h0M203.7 332.6h0M225.6 379.1h0M155.8 378.6h0M216.9 316.7h0M163.7 385.4h0M217.1 372.5h0M213.5 317.7h0M195.6 389.2h0M146.6 357.4h0M221.1 382.9h0M202.0 370.4h0M143.3 328.1h0M146.3 321.5h0M192.1 311.3h0M139.5 345.1h0M144.2 330.1h0M236.3 362.0h0M202.7 327.2h0M168.7 366.9h0M205.8 360.1h0M216.0 344.1h0M180.2 341.3h0M186.1 392.3h0M194.3 314.3h0M224.5 336.6h0M217.7 322.6h0M196.8 340.1h0M229.9 331.6h0M197.7 356.4h0M197.9 388.2h0M237.9 374.6h0M197.6 325.8h0M185.2 370.6h0M212.7 338.4h0M231.3 345.4h0M168.5 348.9h0M155.9 388.3h0M148.4 359.7h0M246.2 368.8h0M207.8 373.2h0M232.0 363.6h0M172.8 366.2h0M224.0 374.6h0M167.7 360.1h0M235.0 342.3h0M221.1 322.1h0M159.2 337.7h0M151.7 351.3h0M236.9 361.9h0M180.9 391.6h0M169.4 360.5h0M237.0 358.9h0M242.8 316.5h0M240.8 392.8h0M185.5 373.9h0M242.7 360.9h0M204.1 343.6h0M149.7 358.4h0M217.8 348.8h0M166.2 337.4h0M213.8 376.4h0M177.4 384.6h0M166.5 363.0h0M181.7 391.5h0M246.3 358.4h0M167.0 313.2h0M194.2 322.9h0M203.3 364.9h0M198.8 329.1h0M240.3 363.8h0M184.4 338.4h0M237.0 328.9h0M234.9 371.4h0M210.2 323.5h0M153.0 359.2h0M212.0 358.7h0M173.7 320.7h0M201.2 377.9h0M203.8 391.4h0M164.7 319.6h0M169.8 348.0h0M172.0 336.8h0M155.9 328.6h0M144.8 373.2h0M236.8 366.6h0M237.8 353.5h0M162.3 368.8h0M215.1 379.7h0M162.4 357.9h0M237.6 349.4h0M197.8 371.9h0M162.5 386.7h0M235.3 377.8h0M208.8 355.4h0M225.7 356.7h0M204.2 382.6h0M150.9 354.2h0M204.7 390.9h0M166.7 382.2h0M246.0 342.6h0M146.4 341.1h0M160.3 391.2h0M198.0 320.7h0M160.6 360.5h0M231.4 341.4h0M238.4 392.0h0M152.9 389.3h0M146.2 313.0h0M220.3 392.4h0M210.4 385.3h0M234.8 345.8h0M170.4 328.0h0M191.8 352.8h0M164.1 361.4h0M168.8 382.9h0M177.2 330.1h0M211.0 361.6h0M206.0 335.5h0M195.7 322.5h0M169.5 323.8h0M205.5 321.4h0M214.8 392.1h0M154.6 311.8h0M239.3 363.2h0M238.9 347.1h0M225.4 332.2h0M236.3 359.0h0M247.1 368.3h0M155.4 351.4h0M179.5 393.3h0M194.5 323.5h0M242.4 361.8h0M174.4 368.7h0M140.5 390.2h0M204.5 328.4h0M231.5 379.3h0M233.3 365.7h0M220.5 370.5h0M201.4 317.5h0M227.3 342.9h0M186.7 315.1h0M243.4 386.4h0M184.8 338.9h0M179.1 360.6h0M175.4 312.7h0M160.3 368.7h0M150.4 374.6h0M155.3 326.4h0M228.5 371.1h0M242.9 344.9h0M197.9 324.6h0M163.4 382.5h0M150.1 348.9h0M195.8 330.0h0M233.7 381.0h0M227.0 388.3h0M201.7 369.3h0M211.1 323.5h0M202.8 312.1h0M166.8 318.6h0M228.4 320.0h0M153.6 319.0h0M163.5 387.5h0M205.1 384.0h0M243.1 382.4h0M156.8 319.2h0M240.2 354.3h0M148.9 383.2h0M231.1 347.9h0M205.4 373.9h0M218.4 368.3h0M146.7 329.1h0M209.3 345.2h0M205.5 348.5h0M220.5 340.6h0M166.3 332.9h0M181.2 382.4h0M201.8 341.2h0M161.1 368.4h0M151.8 313.3h0M186.3 326.9h0M179.9 329.7h0M164.4 370.2h0M143.2 346.0h0M186.2 355.6h0M201.3 359.7h0M216.1 347.1h0M222.3 335.7h0M142.0 362.7h0M186.7 362.9h0M149.8 337.0h0M240.8 371.4h0M241.5 342.8h0M141.9 331.3h0M237.0 357.2h0M183.9 354.6h0M224.3 341.4h0M227.0 389.9h0M203.8 322.4h0M202.6 319.1h0M222.5 346.7h0M141.2 374.5h0M194.1 386.3h0M169.7 347.3h0M241.8 355.9h0M141.4 366.3h0M157.8 314.3h0M150.1 371.6h0M201.9 330.4h0M179.3 313.6h0M178.4 374.2h0M159.7 350.3h0M201.1 313.9h0M214.9 358.6h0M244.3 381.8h0M146.6 383.1h0M236.1 327.1h0M149.0 334.6h0M178.7 328.6h0M232.0 319.3h0M206.3 328.2h0M204.6 339.4h0M201.6 352.5h0M208.7 379.6h0M214.3 345.1h0M161.1 338.5h0M227.4 324.3h0M208.2 338.4h0M141.2 365.0h0M226.0 360.2h0M197.0 387.6h0M156.1 379.7h0M206.5 316.1h0M173.1 365.2h0M218.6 375.1h0M223.0 345.9h0M186.2 322.7h0M148.0 337.7h0M171.8 372.6h0M206.1 385.6h0M238.0 379.6h0M140.7 341.9h0M193.8 331.2h0M232.8 381.9h0M238.2 348.4h0M244.6 342.6h0M216.0 348.1h0M152.8 358.6h0M152.2 316.3h0M217.7 317.1h0M222.5 316.9h0M174.2 376.3h0M236.2 336.1h0M241.3 378.6h0M238.8 335.8h0M190.5 370.0h0M210.6 330.7h0M143.7 347.4h0M191.7 352.4h0M187.3 324.8h0M142.4 370.5h0M158.1 370.4h0M233.0 381.5h0M168.7 352.5h0M161.2 332.6h0M235.4 355.1h0M139.0 350.7h0M143.8 320.6h0M228.6 312.2h0M159.0 338.7h0M242.8 335.0h0M174.8 335.2h0M182.8 327.4h0M183.4 356.1h0M147.2 318.3h0M149.4 341.4h0M230.4 377.9h0M182.3 375.6h0M155.8 386.1h0M173.6 390.5h0M244.9 327.1h0M182.3 357.3h0M245.7 321.7h0M160.8 351.5h0M183.8 360.0h0M168.5 381.5h0M174.2 379.6h0M215.0 359.8h0M171.5 363.3h0M228.6 372.5h0M152.9 345.9h0M191.2 320.0h0M227.1 382.5h0M217.9 377.6h0M155.3 324.0h0M168.2 339.2h0M235.7 326.1h0M217.4 372.1h0M188.1 333.9h0M159.4 371.5h0M224.8 382.2h0M210.1 352.4h0M174.3 355.5h0M180.8 317.8h0M244.5 366.6h0M141.7 363.7h0M221.0 374.2h0M185.4 311.7h0M195.2 327.8h0M155.7 367.7h0M157.2 327.9h0M237.0 342.3h0M147.2 326.8h0M172.9 375.7h0M154.2 325.6h0M143.1 374.1h0M192.4 330.1h0M188.8 330.2h0M204.2 331.8h0M169.3 352.8h0M183.7 336.6h0M147.9 374.4h0M212.6 383.2h0M172.4 389.2h0M245.0 327.0h0M176.2 365.2h0M187.6 326.4h0M146.5 367.0h0M183.7 330.3h0M189.8 384.5h0M153.2 348.0h0M167.1 357.9h0M235.5 335.1h0M174.0 323.4h0M207.2 382.8h0M242.6 351.4h0M245.1 393.4h0M229.2 314.6h0M161.9 366.1h0M231.3 371.3h0M154.4 368.8h0M192.1 391.2h0M237.8 311.4h0M242.9 348.7h0M205.0 377.0h0M239.4 339.5h0M236.2 376.7h0M235.2 388.5h0M149.9 346.9h0M212.3 323.7h0M189.5 312.6h0M188.7 336.4h0M237.6 383.5h0M213.7 363.0h0M167.8 314.3h0M240.2 337.1h0M241.0 316.3h0M239.0 333.0h0M232.0 311.9h0M221.6 322.7h0M182.6 327.5h0M171.8 327.5h0M220.5 371.9h0M184.8 329.9h0M171.4 381.0h0M195.7 330.0h0M232.4 360.2h0M209.8 344.1h0M170.5 390.4h0M148.9 385.8h0M165.0 363.5h0M199.9 392.8h0M193.7 326.6h0M145.5 387.8h0M196.1 324.5h0M187.4 342.6h0M234.5 332.2h0M198.2 319.7h0M177.2 374.7h0M138.8 327.4h0M182.5 334.0h0M235.1 367.6h0M220.1 382.4h0M149.8 320.9h0M236.9 349.5h0M157.9 387.2h0M214.0 319.6h0M144.1 346.5h0M211.0 355.0h0M200.1 316.4h0M209.4 387.7h0M227.9 322.6h0M171.2 357.5h0M154.9 329.4h0M212.9 348.6h0M225.2 392.0h0M242.9 321.4h0M236.0 351.9h0M151.9 350.8h0M246.3 359.1h0M225.6 361.6h0M172.6 385.2h0M229.3 346.5h0M229.0 376.2h0M221.5 324.1h0" stroke="#9693c2" stroke-width="1.4" stroke-linecap="round" fill="none" stroke-opacity="0.75"/>
<path d="M210.1 329.9h0M185.9 358.7h0M221.6 322.8h0M200.8 392.6h0M225.5 323.3h0M188.1 355.3h0M243.0 332.2h0M240.3 318.9h0M161.2 350.1h0M215.8 378.1h0M224.3 373.7h0M226.8 360.9h0M175.5 328.1h0M191.1 352.6h0M153.1 313.8h0M198.1 390.1h0M174.0 323.6h0M231.9 349.5h0M184.3 342.1h0M140.2 386.3h0M160.5 392.5h0M175.4 363.4h0M244.8 379.7h0M164.6 316.4h0M245.0 326.8h0M175.3 345.6h0M153.5 348.6h0M194.5 318.5h0M213.3 327.8h0M214.5 392.6h0M203.3 389.1h0M184.9 311.6h0M154.1 334.5h0M198.2 362.7h0M188.7 357.4h0M142.9 348.4h0M152.2 338.3h0M154.7 355.1h0M198.9 319.2h0M178.9 312.2h0M164.5 340.2h0M213.6 366.9h0M178.6 381.9h0M142.7 353.7h0M204.1 370.5h0M174.0 323.9h0M214.2 344.8h0M241.5 367.8h0M145.4 386.6h0M157.0 344.6h0M225.4 346.2h0M246.4 319.4h0M236.6 339.5h0M191.2 363.3h0M219.7 311.4h0M190.0 325.7h0M215.9 337.2h0M156.2 331.5h0M234.8 377.0h0M217.0 324.7h0M139.0 389.1h0M235.5 359.2h0M178.6 378.0h0M198.1 368.9h0M147.3 366.6h0M234.0 387.8h0M142.1 318.3h0M240.8 322.9h0M230.3 366.1h0M168.8 343.7h0M196.7 380.9h0M176.8 325.0h0M141.1 353.2h0M184.3 333.2h0M150.7 381.4h0M190.0 319.8h0M227.5 314.0h0M159.3 342.8h0M162.3 329.2h0M225.8 342.4h0M232.6 359.2h0M210.3 391.2h0M237.3 351.9h0M157.0 360.4h0M172.1 313.8h0M193.5 327.1h0M188.6 379.9h0M214.5 327.5h0M192.5 383.9h0M199.4 378.8h0M230.0 363.5h0M160.4 322.6h0M188.4 361.4h0M147.4 338.3h0M215.6 341.4h0M155.3 376.1h0M233.3 317.3h0M163.5 315.8h0M235.7 354.9h0M171.9 375.4h0M161.4 340.9h0M224.5 333.2h0M169.8 336.4h0M155.4 349.5h0M244.8 327.3h0M219.0 331.9h0M168.0 365.6h0M240.2 330.2h0M221.2 376.7h0M186.4 371.5h0M203.3 374.0h0M184.2 382.9h0M245.4 316.0h0M166.8 369.5h0M206.1 381.0h0M173.8 389.6h0M215.6 382.6h0M194.3 322.4h0M227.5 375.5h0M150.5 311.8h0M222.6 367.3h0M205.8 372.5h0M153.3 357.8h0M142.2 316.6h0M165.0 348.0h0M204.6 386.0h0M200.9 354.9h0M178.5 342.8h0M197.1 375.0h0M234.9 345.3h0M145.5 335.9h0M160.6 368.6h0M143.8 330.3h0M182.0 317.8h0M230.2 321.4h0M193.3 356.0h0M204.0 331.4h0M169.7 371.6h0M155.0 348.1h0M203.1 385.1h0M140.8 347.2h0M231.0 370.5h0M199.8 387.2h0M193.3 315.4h0M201.4 375.1h0M150.7 319.0h0M230.8 376.1h0M239.0 368.0h0M172.5 345.1h0M206.2 375.9h0M212.9 311.9h0M172.0 337.4h0M242.6 321.4h0M164.6 314.6h0M227.4 372.8h0M239.4 378.5h0M188.4 361.4h0M142.8 332.7h0M174.2 361.7h0M242.6 376.5h0M197.2 377.2h0M218.0 368.0h0M223.3 330.5h0M178.4 358.8h0M198.2 327.1h0M207.5 320.8h0M230.0 314.6h0M143.9 351.9h0M155.0 313.3h0M164.2 329.6h0M160.6 376.2h0M233.9 312.0h0M166.1 350.2h0M238.6 362.5h0M247.1 375.9h0M244.8 338.9h0M190.0 360.2h0M144.9 376.0h0M153.5 359.9h0M225.8 371.0h0M151.7 382.6h0M234.8 336.1h0M174.3 373.0h0M180.8 371.0h0M171.3 331.1h0M176.3 369.7h0M245.9 351.2h0M196.6 380.6h0M154.8 354.6h0M232.0 375.3h0M199.5 376.5h0M150.9 374.4h0M146.0 339.2h0M193.0 341.1h0M148.1 356.0h0M163.7 337.1h0M171.3 317.6h0M148.4 388.2h0M236.1 386.8h0M201.0 389.7h0M184.1 371.8h0M218.7 362.6h0M228.2 355.2h0M163.9 370.3h0M182.0 339.1h0M227.5 367.1h0M233.2 381.9h0M189.2 379.2h0M189.1 314.1h0M193.7 337.9h0M163.8 323.0h0M212.6 343.2h0M227.5 324.1h0M183.1 374.0h0M176.7 356.7h0M172.4 331.6h0M238.3 354.1h0M143.4 385.0h0M179.0 360.0h0M229.7 363.1h0M182.2 355.6h0M211.5 321.2h0M219.4 372.6h0M195.0 365.2h0M179.4 332.2h0M191.0 361.4h0M205.2 382.4h0M199.8 333.9h0M146.1 353.4h0M197.2 348.3h0M189.4 359.3h0M173.1 335.8h0M231.1 368.6h0M145.0 376.7h0M159.5 372.5h0M163.4 367.0h0M198.1 388.8h0M190.6 362.4h0M147.2 313.8h0M185.8 317.9h0M162.1 327.6h0M210.8 339.0h0M235.7 350.5h0M187.2 379.7h0M146.2 358.3h0M177.6 372.7h0M200.2 329.8h0M182.2 318.8h0M183.8 350.7h0M217.9 363.1h0M237.5 363.5h0M224.3 370.4h0M246.7 384.5h0M196.3 358.6h0M180.8 325.3h0M208.1 338.9h0M165.3 392.2h0M138.6 358.6h0M230.2 361.4h0M176.4 322.2h0M148.0 356.0h0M155.7 387.8h0M147.3 378.3h0M222.7 350.6h0M199.9 333.2h0M214.4 351.4h0M210.6 348.4h0M150.4 388.5h0M229.2 324.4h0M168.9 343.3h0M199.1 341.7h0M236.7 349.0h0M240.2 371.9h0M187.7 379.4h0M156.7 381.6h0M203.6 312.7h0M235.7 343.7h0M231.5 362.4h0M186.2 315.3h0M207.6 362.8h0M160.5 362.3h0M186.2 323.7h0M159.0 337.9h0M191.8 345.3h0M206.7 350.9h0M178.5 372.0h0M197.9 334.9h0M183.8 358.6h0M155.9 355.6h0M184.3 333.2h0M183.9 332.0h0M217.1 333.7h0M219.1 365.0h0M138.3 355.7h0M232.8 331.9h0M140.9 359.5h0M172.1 328.5h0M205.6 349.6h0M239.1 333.9h0M173.3 365.8h0M236.2 378.4h0M197.2 318.9h0M198.0 366.1h0M195.9 333.1h0M225.9 372.2h0M147.9 360.2h0M216.6 387.9h0M177.5 320.7h0M213.2 369.5h0M208.6 334.0h0M217.6 312.2h0M183.6 338.3h0M169.0 324.8h0M214.6 359.5h0M166.3 358.8h0M195.0 327.3h0M228.0 348.1h0M201.9 332.6h0M169.9 312.6h0M162.9 329.3h0M198.2 374.5h0M203.6 345.1h0M152.6 368.7h0M223.9 353.7h0M207.0 334.0h0M152.0 379.8h0M141.8 378.1h0M215.7 391.8h0M231.8 312.5h0M199.5 330.2h0M172.5 356.4h0M194.8 351.1h0M165.1 330.9h0M229.0 333.2h0M146.4 350.8h0M157.4 349.9h0M205.7 311.4h0M238.9 327.6h0M234.0 356.7h0M173.5 375.3h0M167.9 339.0h0M218.4 390.0h0M238.4 357.5h0M171.5 369.8h0M179.3 319.3h0M184.2 372.7h0M152.9 347.7h0M247.5 377.7h0M194.6 379.1h0M237.6 371.2h0M198.4 334.4h0M194.6 352.5h0M234.6 330.9h0M145.0 377.6h0M175.2 377.5h0M221.0 380.2h0M231.4 362.1h0M198.7 373.5h0M216.5 334.3h0M179.9 324.5h0M160.6 331.8h0M222.7 344.5h0M223.2 360.6h0M206.3 335.5h0M239.9 391.7h0M172.9 385.3h0M224.0 368.9h0M202.7 392.6h0M211.1 350.9h0M191.0 378.4h0M168.9 360.4h0M179.4 320.7h0M214.8 340.8h0M227.3 342.6h0M180.0 357.3h0M232.9 340.4h0M152.4 345.6h0M243.2 328.6h0M175.6 377.8h0M204.4 353.5h0M170.8 386.1h0M158.0 382.9h0M177.3 384.4h0M222.9 354.1h0M219.3 345.8h0M217.2 343.5h0M159.9 320.7h0M221.0 315.2h0M145.3 315.1h0M200.2 369.3h0M245.0 319.4h0M167.4 321.9h0M143.2 385.3h0M195.9 384.5h0M227.4 388.9h0M199.0 323.0h0M140.3 332.2h0M174.0 318.8h0M164.7 346.6h0M165.3 376.9h0M184.3 375.1h0M217.9 327.6h0M171.9 316.2h0M196.1 357.2h0M174.5 386.7h0M222.5 381.7h0M239.7 368.9h0M174.6 321.2h0M162.4 389.0h0M197.7 326.3h0M156.9 349.9h0M147.1 376.8h0M193.4 370.1h0M144.0 325.4h0M237.9 365.8h0M140.3 319.0h0M210.6 387.2h0M202.8 328.4h0M233.2 376.6h0M185.0 352.7h0M210.7 344.0h0M181.4 331.5h0M169.1 333.6h0M240.5 317.6h0M143.1 346.7h0M159.2 349.7h0M219.4 372.0h0M183.5 335.1h0M217.9 377.9h0M147.6 331.4h0M174.5 385.3h0M216.8 316.9h0M184.2 314.7h0M224.2 353.9h0M230.8 380.5h0M164.1 384.4h0M150.6 340.3h0M186.4 345.8h0M235.6 317.2h0M202.0 340.5h0M239.8 354.2h0M235.2 350.7h0M229.6 365.3h0M199.7 374.7h0M179.0 318.2h0M140.9 386.0h0M212.1 391.2h0M160.5 323.5h0M176.0 379.9h0M219.3 379.2h0M242.2 343.7h0M152.5 327.1h0M241.0 344.5h0M201.4 311.8h0M163.7 314.6h0M211.2 375.2h0M211.8 366.3h0M225.5 374.9h0M189.9 321.3h0M202.9 383.2h0M223.5 331.7h0M211.3 366.0h0M153.9 329.9h0M191.9 336.4h0M153.0 347.1h0M179.2 393.1h0M188.0 334.7h0M145.5 325.0h0M190.4 341.9h0M245.2 324.9h0M207.8 339.4h0M209.7 369.1h0M218.7 384.6h0M207.8 388.0h0M178.8 369.4h0M218.9 318.7h0M157.3 314.1h0M233.8 356.7h0M145.9 367.6h0M238.5 320.6h0M217.5 377.7h0M164.0 376.1h0M169.2 361.5h0M235.1 320.8h0M229.0 382.7h0M138.4 335.9h0M243.2 346.1h0M148.0 317.0h0M142.1 360.1h0M244.6 318.4h0M207.6 316.9h0M141.5 363.9h0M223.9 381.3h0M148.3 322.1h0M217.1 361.9h0M181.9 389.6h0M238.3 312.4h0M144.7 381.5h0M237.8 338.2h0M180.9 370.7h0M227.4 328.5h0M236.6 372.7h0M220.2 364.7h0M245.9 374.0h0M166.1 355.0h0M207.1 365.4h0M163.1 328.0h0M233.5 377.3h0M155.2 319.0h0M221.1 336.7h0M221.7 358.8h0M195.4 350.1h0M145.7 361.8h0M218.6 345.5h0M144.1 316.5h0M191.8 320.3h0M167.5 375.1h0M230.7 379.5h0M157.4 379.4h0M153.8 311.8h0M184.0 336.7h0M187.2 344.1h0M244.7 382.0h0M141.0 369.5h0M241.8 388.9h0M150.0 317.7h0M160.4 382.8h0M235.6 348.7h0M237.6 312.0h0M239.5 353.4h0M161.3 314.0h0M161.4 389.0h0M246.4 315.3h0M242.9 373.8h0M245.1 383.8h0M160.0 319.0h0M174.6 353.9h0M206.3 379.9h0M157.6 370.1h0M219.6 354.0h0M162.4 372.0h0M184.3 338.8h0M184.9 322.7h0M195.4 379.3h0M236.3 347.9h0M164.5 339.7h0M234.0 383.9h0M225.3 352.2h0M147.8 376.6h0M165.7 312.8h0M218.3 385.0h0M157.4 389.7h0M178.6 390.4h0M170.2 318.5h0M141.5 316.0h0M184.5 367.2h0M235.5 332.1h0M156.0 385.4h0M228.0 315.6h0M157.4 357.2h0M213.7 315.6h0M161.3 368.0h0M185.5 388.3h0M206.3 386.3h0M175.3 315.8h0M233.9 325.4h0M240.4 314.9h0M217.0 376.0h0M190.6 319.5h0M239.5 328.4h0M150.4 366.2h0M150.8 346.8h0M208.4 378.5h0M201.9 368.1h0M173.2 364.1h0M160.4 358.6h0M239.4 375.5h0M148.8 388.6h0M180.7 345.7h0M234.3 354.3h0M235.1 368.9h0M177.6 343.3h0M143.0 373.4h0M214.7 355.2h0M150.3 392.2h0M241.6 383.1h0M193.5 385.4h0M185.7 328.1h0M144.7 326.0h0M182.2 345.8h0M225.2 348.6h0M239.5 356.3h0M223.6 364.8h0M148.3 361.7h0M196.4 376.2h0M151.5 354.7h0M240.9 385.1h0M182.4 329.6h0M244.2 320.7h0M171.7 391.9h0M238.8 393.2h0M234.6 343.0h0M228.1 370.3h0M202.1 356.4h0M148.7 326.9h0M239.9 380.9h0M241.6 342.3h0M158.7 372.1h0M238.2 334.6h0M175.1 359.4h0M234.1 377.6h0M214.4 340.2h0M188.9 347.6h0M169.2 324.1h0M183.5 385.3h0M241.6 366.1h0M235.0 327.2h0M168.2 351.8h0M139.5 313.4h0M190.0 379.2h0M209.4 352.1h0M162.4 339.0h0M244.4 392.3h0M190.7 384.4h0M160.4 389.2h0M239.5 376.1h0M184.6 317.8h0M244.8 370.5h0M200.3 360.4h0M138.4 370.8h0M215.3 372.0h0M215.9 324.4h0M196.5 338.5h0M187.9 381.3h0M215.8 380.5h0M233.6 348.4h0M170.3 385.7h0M230.6 371.9h0M169.4 374.1h0M205.3 389.7h0M188.1 315.6h0M162.7 355.8h0M188.4 347.4h0M224.0 348.3h0M154.9 335.9h0M214.1 315.9h0M194.1 337.2h0M185.2 351.5h0M197.2 314.7h0M181.1 357.0h0M189.2 381.7h0M240.3 316.9h0M170.7 311.2h0M164.7 351.0h0M223.1 342.8h0M213.0 379.8h0M217.5 364.7h0M226.2 358.0h0M184.4 368.7h0M226.1 374.3h0M148.0 389.8h0M189.6 322.2h0M191.6 357.9h0M190.0 352.9h0M156.2 353.9h0M162.5 352.6h0M145.2 365.0h0M153.1 311.6h0M174.9 352.7h0M212.2 332.5h0M182.4 381.5h0M181.5 375.2h0M171.9 366.3h0M184.8 340.2h0M246.9 311.4h0M246.8 359.1h0M143.7 386.8h0M222.0 386.6h0M196.8 351.5h0M178.8 333.6h0M236.2 319.8h0M205.6 357.3h0M221.0 340.6h0M242.1 311.6h0M195.8 330.6h0M138.5 336.3h0M196.9 326.6h0M172.7 392.8h0M193.4 386.5h0M180.4 324.8h0" stroke="#dc3e4b" stroke-width="1.2" stroke-linecap="round" fill="none" stroke-opacity="0.85"/>
<path d="M239.7 315.0h0M202.2 374.5h0M230.3 332.1h0M174.5 322.3h0M203.7 314.8h0M163.9 330.2h0M175.1 331.3h0M149.3 390.3h0M151.8 358.2h0M241.1 378.3h0M202.5 331.8h0M187.0 346.8h0M144.0 344.5h0M211.3 346.6h0M170.2 373.5h0M191.3 392.6h0M147.9 338.3h0M161.3 362.8h0M206.9 382.0h0M199.7 337.2h0M198.1 340.0h0M245.7 349.7h0M247.3 312.2h0M199.0 368.5h0M244.8 387.1h0M184.5 326.8h0M235.1 345.7h0M202.8 358.2h0M170.2 364.0h0M146.2 358.4h0M142.9 316.1h0M171.7 390.4h0M162.6 352.3h0M161.3 389.1h0M180.1 377.1h0M176.1 382.3h0M147.3 352.2h0M153.0 322.3h0M202.5 364.7h0M244.9 331.3h0M171.2 354.1h0M159.3 384.5h0M229.8 392.4h0M223.1 320.2h0M196.3 362.9h0M199.2 358.2h0M163.5 336.5h0M156.4 366.5h0M188.2 388.8h0M170.2 325.3h0M230.4 385.1h0M199.2 337.8h0M193.0 373.7h0M169.2 363.0h0M145.7 312.4h0M198.8 339.3h0M215.0 364.7h0M240.5 380.8h0M207.1 367.0h0M210.9 376.3h0M236.1 327.0h0M173.2 323.5h0M163.5 336.6h0M236.7 347.5h0M206.3 370.6h0M204.4 392.5h0M238.3 323.4h0M242.3 322.6h0M214.9 320.2h0M228.9 348.2h0M206.7 391.2h0M198.1 378.3h0M155.6 343.9h0M212.8 350.5h0M231.5 360.1h0M213.8 351.6h0M172.7 317.6h0M183.1 338.6h0M240.2 342.5h0M200.3 373.4h0M164.2 355.9h0M146.3 390.4h0M165.3 392.5h0M179.0 345.9h0M186.9 333.1h0M172.5 327.2h0M144.4 325.3h0M168.9 389.5h0M222.5 336.8h0M242.8 357.1h0M140.4 338.3h0M140.3 339.5h0M177.8 375.7h0M245.4 317.2h0M226.4 391.4h0M236.3 382.9h0M222.2 343.2h0M240.0 367.1h0M152.4 336.9h0M201.8 346.6h0M246.1 361.9h0M202.9 386.6h0M214.6 329.2h0M216.4 374.5h0M169.9 391.2h0M159.3 332.0h0M160.9 378.6h0M214.4 392.6h0M170.6 333.0h0M221.5 387.8h0M211.4 316.1h0M231.0 371.8h0M238.4 361.7h0M153.6 385.5h0M200.3 357.7h0M222.2 349.9h0M245.1 362.2h0M140.2 391.2h0M155.7 322.8h0M183.5 335.2h0M176.2 329.7h0M179.1 324.4h0M179.7 386.7h0M145.1 351.6h0M159.5 351.3h0M175.2 378.2h0M139.9 384.2h0M219.1 337.1h0M229.3 338.6h0M203.8 316.9h0M226.4 334.1h0M244.5 382.6h0M137.9 337.6h0M200.4 320.2h0M196.3 346.5h0M182.3 313.6h0M193.5 376.3h0M162.1 333.9h0M214.3 379.1h0M168.7 336.3h0M204.8 329.8h0M194.3 368.9h0M175.0 360.8h0M137.6 391.6h0M151.6 335.8h0M211.4 363.1h0M235.8 347.5h0M137.6 374.8h0M224.0 366.4h0M145.8 318.3h0M229.7 361.3h0M137.5 350.4h0M229.2 329.2h0M160.0 314.6h0M218.4 364.4h0M185.6 383.8h0M246.7 311.0h0M172.2 373.9h0M208.3 358.5h0M168.5 328.2h0M188.0 328.0h0M233.6 378.5h0M219.4 354.3h0M215.5 316.9h0M238.0 327.3h0M194.2 387.3h0M160.2 330.7h0M240.6 345.4h0M174.8 377.3h0M192.0 329.9h0M242.8 379.8h0M193.4 386.2h0M205.6 353.5h0M216.7 366.9h0M208.1 362.7h0M165.7 366.9h0M158.4 391.4h0M203.0 344.7h0M146.4 320.5h0M245.3 311.2h0M162.0 386.2h0M222.0 362.0h0M212.1 335.9h0M170.4 341.7h0M222.5 315.1h0M210.9 388.2h0M163.8 389.8h0M189.2 338.7h0M181.0 345.4h0M201.9 345.7h0M203.7 380.1h0" stroke="#e88c94" stroke-width="1.3" stroke-linecap="round" fill="none" stroke-opacity="0.7"/>
<path d="M171.0 382.5h0M194.6 334.5h0M199.8 353.9h0M222.8 336.8h0M192.3 373.7h0M230.9 372.1h0M236.5 345.8h0M231.3 358.3h0M170.2 332.0h0M143.3 368.0h0M158.4 358.1h0M234.5 363.5h0M186.5 350.1h0M163.9 317.1h0M216.6 381.1h0M156.4 314.1h0M238.4 316.5h0M209.9 359.7h0M179.9 333.8h0M165.1 329.1h0M138.8 389.1h0M154.0 369.5h0M167.4 331.1h0M209.1 382.6h0M220.9 327.0h0M230.3 319.1h0M185.3 358.1h0M232.9 322.9h0M162.2 381.6h0M186.8 392.2h0M144.0 329.9h0M164.8 387.3h0M171.8 343.7h0M178.5 370.9h0M195.3 355.6h0M168.2 367.2h0M203.4 335.8h0M243.0 376.0h0M229.9 389.6h0M152.9 324.9h0M234.9 316.7h0M219.2 338.8h0M230.3 385.2h0M244.7 370.0h0M168.6 344.1h0M166.4 392.5h0M171.8 390.7h0M141.1 386.1h0M162.8 330.0h0M163.5 367.5h0M236.2 361.8h0M235.7 380.4h0M158.9 340.5h0M158.6 355.3h0M199.8 334.5h0M156.4 361.6h0M151.7 331.7h0M144.7 335.9h0M172.5 371.9h0M238.7 330.8h0M206.2 351.6h0M193.1 337.2h0M211.6 378.4h0M156.4 359.8h0M220.3 316.7h0M182.1 323.5h0M229.3 365.5h0M212.8 371.7h0M173.3 332.4h0M184.3 362.5h0M146.1 335.6h0" stroke="#f2f2f2" stroke-width="3.6" stroke-linecap="round" fill="none" stroke-opacity="0.85"/>
<path d="M145.3 377.9h0M171.9 392.5h0M203.5 353.4h0M243.9 341.2h0M184.1 327.2h0M214.0 360.3h0M156.8 375.6h0M224.6 341.3h0M202.7 373.3h0M192.9 351.0h0M147.2 386.3h0M162.9 374.2h0M152.3 369.2h0M231.7 368.7h0M167.7 388.6h0M161.8 320.1h0M213.1 341.0h0M170.2 331.9h0M171.5 347.7h0M189.8 362.7h0M227.8 367.7h0M164.8 363.9h0M229.1 340.5h0M237.8 374.9h0M183.0 328.3h0M192.8 315.1h0M157.2 335.5h0M178.8 314.3h0M166.7 385.0h0M181.4 387.7h0M230.1 342.9h0M177.0 374.7h0M194.0 381.3h0M144.5 362.9h0M178.4 365.4h0M243.5 357.1h0M213.3 358.8h0M214.0 325.5h0M193.6 349.4h0M234.7 324.6h0M199.0 345.7h0M196.3 391.9h0M233.5 359.2h0M225.2 387.2h0M215.8 353.9h0M154.4 387.9h0M150.7 321.3h0M152.7 359.7h0M239.1 358.7h0M225.0 314.1h0M240.5 315.4h0M182.0 329.5h0M216.2 385.0h0M167.8 316.9h0M140.1 352.6h0M182.9 363.0h0M151.7 337.6h0M166.3 333.6h0M217.3 351.1h0M200.3 322.7h0M203.6 314.2h0M190.9 332.5h0M217.6 316.5h0M241.2 391.3h0M244.7 383.6h0M239.0 335.1h0M242.6 328.2h0M219.1 376.2h0M169.6 383.9h0M232.7 322.2h0M211.0 354.5h0M243.0 393.2h0M237.9 319.4h0M243.4 386.2h0M213.7 355.6h0M146.9 374.9h0M164.7 336.9h0M164.3 386.0h0M219.5 364.4h0M163.3 354.2h0M152.2 390.9h0M232.2 321.9h0M183.8 323.2h0M184.0 355.9h0M173.6 319.4h0M204.8 315.8h0M172.2 321.0h0M195.4 361.4h0M155.1 341.2h0M172.5 368.3h0M183.7 314.4h0M206.2 328.4h0M174.5 378.6h0M234.9 315.6h0M173.1 339.6h0M163.6 319.2h0M213.4 383.4h0M171.6 331.8h0M159.1 360.6h0" stroke="#f3f3f3" stroke-width="2.8" stroke-linecap="round" fill="none" stroke-opacity="0.85"/>
</g>
<circle cx="202.50" cy="327.00" r="2.4" fill="#e4202a"/>
<circle cx="168.00" cy="331.00" r="2.0" fill="#e4202a"/>
<circle cx="165.00" cy="335.50" r="2.0" fill="#e4202a"/>
<circle cx="184.40" cy="335.80" r="2.0" fill="#e4202a"/>
<circle cx="215.00" cy="340.00" r="1.4" fill="#e4202a"/>
<circle cx="185.00" cy="350.00" r="2.0" fill="#e4202a"/>
<circle cx="191.00" cy="351.00" r="1.9" fill="#e4202a"/>
<circle cx="187.00" cy="357.00" r="2.1" fill="#e4202a"/>
<circle cx="152.50" cy="355.00" r="1.8" fill="#e4202a"/>
<circle cx="206.00" cy="353.00" r="1.8" fill="#e4202a"/>
<circle cx="178.00" cy="367.80" r="2.0" fill="#e4202a"/>
<circle cx="190.00" cy="368.00" r="1.3" fill="#e4202a"/>
<circle cx="166.00" cy="379.00" r="2.0" fill="#e4202a"/>
<circle cx="175.00" cy="382.60" r="1.8" fill="#e4202a"/>
<circle cx="184.80" cy="382.60" r="2.1" fill="#e4202a"/>
<circle cx="232.00" cy="349.00" r="1.7" fill="#e4202a"/>
<circle cx="226.00" cy="340.00" r="1.3" fill="#e4202a"/>
<circle cx="230.00" cy="382.00" r="1.3" fill="#e4202a"/>
<line x1="13.60" y1="392.50" x2="39.60" y2="392.50" stroke="#222" stroke-width="1.2"/>
<text x="26.00" y="390.80" font-size="7.0" text-anchor="middle" font-weight="bold" fill="#1a1a1a">90μm</text>
<line x1="139.50" y1="391.50" x2="168.90" y2="391.50" stroke="#222" stroke-width="1.2"/>
<text x="154.60" y="390.60" font-size="6.6" text-anchor="middle" font-weight="bold" fill="#1a1a1a">180μm</text>
<text x="66.50" y="219.60" font-size="10.3" text-anchor="middle" font-weight="bold" fill="#111">6 months old mice</text>
<text x="198.50" y="220.00" font-size="10.3" text-anchor="middle" font-weight="bold" fill="#111">AT patients</text>
<text x="10.00" y="273.90" font-size="10.3" font-weight="bold" fill="#111" transform="rotate(-90 10.00 273.90)" textLength="17.5" lengthAdjust="spacingAndGlyphs" stroke="#111" stroke-width="0.35">Atm</text>
<text x="6.10" y="254.10" font-size="7.2" font-weight="bold" fill="#111" transform="rotate(-90 6.10 254.10)" textLength="12.4" lengthAdjust="spacingAndGlyphs" stroke="#111" stroke-width="0.25">+/+</text>
<text x="10.05" y="359.00" font-size="10.3" font-weight="bold" fill="#111" transform="rotate(-90 10.05 359.00)" textLength="16.9" lengthAdjust="spacingAndGlyphs" stroke="#111" stroke-width="0.35">Atm</text>
<text x="6.85" y="339.50" font-size="7.2" font-weight="bold" fill="#111" transform="rotate(-90 6.85 339.50)" textLength="8.5" lengthAdjust="spacingAndGlyphs" stroke="#111" stroke-width="0.25">-/-</text>
<text x="134.00" y="264.00" font-size="9.0" text-anchor="middle" font-weight="bold" fill="#111" transform="rotate(-90 134.00 264.00)">19 years old</text>
<text x="134.00" y="350.00" font-size="9.0" text-anchor="middle" font-weight="bold" fill="#111" transform="rotate(-90 134.00 350.00)">28 years old</text>
<rect x="421" y="223" width="114.6" height="84.6" fill="#98a6c7" filter="url(#tx9)"/>
<g clip-path="url(#cp10)">
<path d="M422.0 261.3h0M486.9 236.0h0M518.8 293.7h0M500.7 256.2h0M473.4 283.0h0M507.4 300.8h0M472.0 223.7h0M480.6 236.1h0M522.0 254.4h0M422.0 261.8h0M459.9 233.1h0M440.7 243.8h0M469.3 305.8h0M440.4 267.5h0M456.3 239.0h0M424.6 277.7h0M473.4 250.4h0M515.1 264.5h0M523.6 302.7h0M516.9 288.7h0M529.5 226.6h0M489.2 227.5h0M492.2 290.1h0M490.6 264.4h0M504.4 279.4h0M497.0 280.2h0M500.0 242.9h0M457.3 234.3h0M497.6 233.1h0M484.9 235.6h0M434.1 290.3h0M473.1 226.0h0M461.2 304.4h0M527.2 270.2h0M510.5 247.7h0M512.8 300.3h0M450.1 261.0h0M489.7 297.5h0M455.3 302.1h0M531.2 224.4h0M430.7 238.0h0M425.1 247.2h0M530.3 303.5h0M503.3 292.3h0M532.2 236.9h0M470.7 235.3h0M456.8 227.9h0M525.3 236.9h0M463.4 249.7h0M502.4 294.2h0M468.2 249.3h0M458.5 258.3h0M469.1 263.1h0M487.7 245.4h0M423.7 286.1h0M518.9 281.6h0M513.1 280.0h0M528.3 249.5h0M439.2 298.8h0M461.2 250.4h0M525.9 235.0h0M432.6 234.8h0M469.5 252.2h0M426.1 283.0h0M431.6 284.2h0M443.6 293.4h0M479.1 232.9h0M507.9 278.7h0M477.1 224.5h0M519.0 291.8h0M422.4 295.6h0M459.5 260.0h0M479.9 265.0h0M452.4 247.3h0M533.5 261.7h0M442.1 280.8h0M422.2 287.2h0M517.8 286.8h0M516.6 306.3h0M507.2 294.5h0M424.5 281.9h0M461.3 259.2h0M432.9 299.7h0M428.3 229.2h0M441.2 277.2h0M424.6 258.2h0M485.3 267.1h0M512.4 232.5h0M501.9 277.3h0M515.6 294.7h0M504.6 263.2h0M428.0 236.9h0M516.7 250.7h0M433.7 284.8h0M474.9 289.3h0M494.3 295.6h0M512.5 233.6h0M484.7 230.5h0M501.4 231.7h0M521.5 272.3h0M526.4 271.4h0M463.2 288.9h0M480.3 301.6h0M460.8 270.3h0M488.4 305.2h0M426.0 299.7h0M424.7 279.4h0M493.2 276.0h0M443.5 232.0h0M427.3 295.2h0M432.6 290.3h0M469.2 260.3h0M478.9 256.5h0M424.7 298.2h0M438.6 273.1h0M432.2 304.6h0M526.2 301.0h0M514.6 283.3h0M449.1 253.2h0M481.9 285.4h0M463.4 278.5h0M483.1 274.2h0M460.0 287.5h0M478.9 300.5h0M505.7 249.9h0M516.6 256.3h0M490.6 263.1h0M510.3 303.6h0M516.2 278.6h0M433.2 253.0h0M424.2 250.3h0M426.6 304.4h0M524.5 252.2h0M530.8 248.4h0M481.5 277.9h0M428.9 241.2h0M530.5 235.2h0M439.5 242.4h0M507.8 284.8h0M457.7 280.8h0M482.5 250.2h0M446.2 272.4h0M525.9 257.5h0M475.4 277.1h0M489.4 252.2h0M462.6 266.7h0M451.0 234.7h0M500.0 298.9h0M532.0 291.5h0M445.6 225.2h0M521.8 269.2h0M476.0 259.6h0M534.7 292.2h0M516.6 267.7h0M436.8 237.3h0M451.0 287.3h0M524.3 230.2h0M457.9 248.7h0M531.2 247.3h0M509.9 225.2h0M462.7 285.5h0M447.5 253.9h0M493.1 258.3h0M503.5 238.3h0M517.1 234.0h0M435.4 297.1h0M488.9 245.1h0M464.7 285.3h0M446.8 227.1h0M427.3 302.8h0M446.4 241.7h0M437.0 261.8h0M486.5 270.7h0M513.6 274.5h0M502.8 283.6h0M479.6 253.5h0M460.8 275.4h0M449.9 273.6h0M442.3 292.2h0M423.3 249.0h0M477.4 257.4h0M479.1 297.5h0M528.4 276.1h0M535.1 274.1h0M459.9 290.3h0M465.3 281.3h0M476.8 242.6h0M527.6 278.7h0M439.2 263.7h0M491.0 296.7h0M466.1 285.7h0M443.1 305.8h0M480.9 286.0h0M508.2 239.9h0M483.4 294.0h0M473.7 259.5h0M454.3 244.0h0M455.3 288.8h0M470.3 249.4h0M453.7 296.9h0M431.3 228.6h0M523.0 301.9h0M441.9 276.5h0M533.4 250.9h0M505.6 282.2h0M439.9 224.1h0M437.0 259.9h0M474.7 239.8h0M502.8 275.9h0M469.5 248.6h0M430.1 299.2h0M475.4 239.0h0M479.5 233.2h0M512.3 244.4h0M465.7 293.4h0M528.3 270.1h0M504.1 244.3h0M459.9 294.2h0M483.0 256.8h0M446.3 281.3h0M493.1 230.1h0M426.5 271.5h0M467.4 255.5h0M500.6 234.9h0M523.3 257.5h0M465.1 253.3h0M460.4 248.5h0M481.4 278.7h0M429.0 250.8h0M457.3 249.0h0M501.0 270.7h0M422.3 229.1h0M461.7 276.7h0M451.3 236.7h0M460.7 268.8h0M534.9 296.0h0M450.0 283.7h0M442.8 253.7h0M423.2 242.4h0M468.5 258.0h0M531.3 227.8h0M424.4 273.2h0M495.2 273.9h0M491.3 278.0h0M501.8 255.9h0M468.7 297.6h0M448.1 271.6h0M460.6 252.6h0M533.6 228.5h0M479.4 226.4h0M470.6 303.6h0M489.0 245.2h0M477.0 262.4h0M437.1 290.2h0M453.8 241.2h0M482.9 232.4h0M491.9 283.7h0M433.5 257.9h0M470.4 253.2h0M531.3 280.1h0M437.9 305.0h0M478.8 262.3h0M467.0 280.3h0M447.4 235.2h0M496.0 275.9h0M501.4 277.3h0M465.3 296.7h0M436.5 278.4h0M501.0 243.0h0M528.2 273.7h0M523.4 299.1h0M495.3 263.9h0M475.8 260.1h0M508.8 286.7h0M504.5 295.9h0M460.1 252.5h0M451.9 261.5h0M469.8 305.0h0M455.2 255.0h0M485.3 282.3h0M498.6 286.4h0M495.8 293.8h0M459.5 257.6h0M496.7 290.7h0M467.1 223.9h0M534.2 244.1h0M437.8 230.2h0M438.7 285.9h0M494.7 231.3h0M528.3 269.8h0M534.4 261.8h0M520.2 285.1h0M430.3 233.2h0M513.6 244.7h0M450.3 223.5h0M484.2 256.4h0M467.1 256.8h0M533.1 285.7h0M463.5 301.5h0M430.6 269.0h0M513.1 235.2h0M457.3 238.4h0M516.5 264.6h0M464.6 227.1h0M516.5 236.1h0M454.5 274.9h0M506.2 244.8h0M455.9 269.6h0M459.9 286.2h0M446.1 255.1h0M457.1 248.3h0M424.6 235.0h0M436.9 293.9h0M476.7 229.0h0M500.1 283.6h0M461.7 303.6h0M484.0 306.8h0M430.4 240.7h0M479.1 252.1h0M508.9 280.4h0M476.2 269.1h0M533.7 302.7h0M459.5 268.9h0M429.9 260.6h0M521.2 238.9h0M533.0 285.2h0M447.5 226.1h0M426.0 263.0h0M475.1 301.0h0M451.6 297.6h0M476.7 254.3h0M436.3 243.1h0M470.3 286.1h0M469.2 252.2h0M432.6 271.1h0M491.4 231.7h0M461.0 290.1h0M499.1 244.1h0M477.7 302.9h0M515.6 244.0h0M450.9 227.3h0M466.5 254.6h0M444.3 301.4h0M503.6 302.1h0M472.6 284.9h0M469.9 242.1h0M506.7 276.9h0M466.0 291.4h0M506.5 306.9h0M488.0 267.0h0M503.2 285.7h0M526.3 283.4h0M448.6 249.6h0M500.0 242.8h0M436.3 273.2h0M534.3 259.5h0M459.6 237.3h0M472.8 305.5h0M430.5 231.0h0M480.9 301.5h0M525.2 257.3h0M433.1 274.0h0M493.8 261.1h0M495.5 269.1h0M433.8 287.3h0M435.2 260.1h0M440.2 280.5h0M518.8 245.1h0M512.4 234.5h0M477.7 233.4h0M505.7 276.9h0M487.2 271.3h0M421.7 304.3h0M483.2 296.0h0M517.9 285.9h0M452.2 304.6h0M528.9 261.9h0M425.1 275.1h0M447.1 266.1h0M493.1 229.9h0M490.6 242.1h0M446.9 224.3h0M483.0 277.5h0M522.7 256.7h0M458.1 226.8h0M486.1 232.6h0M484.8 255.2h0M503.5 283.4h0M462.8 229.7h0M432.1 276.6h0M495.7 299.1h0M522.9 236.8h0M518.2 274.4h0M475.4 250.6h0" stroke="#3f55a0" stroke-width="1.4" stroke-linecap="round" fill="none" stroke-opacity="0.85"/>
<path d="M514.4 290.0h0M502.0 270.9h0M513.5 301.9h0M492.8 226.5h0M470.5 264.5h0M461.3 300.0h0M500.2 288.7h0M533.2 289.1h0M464.4 223.8h0M518.1 243.4h0M502.8 263.7h0M499.4 245.5h0M532.0 232.1h0M534.1 260.4h0M497.6 283.7h0M440.1 248.1h0M528.4 273.6h0M425.9 283.2h0M501.7 278.5h0M498.4 230.4h0M444.3 225.0h0M430.9 250.2h0M486.4 232.6h0M452.5 263.7h0M511.4 278.0h0M459.2 233.5h0M447.8 274.0h0M470.3 273.7h0M429.1 258.3h0M430.9 268.4h0M462.2 294.1h0M470.4 234.0h0M514.1 248.7h0M454.7 267.7h0M508.1 291.3h0M482.7 275.4h0M485.1 223.9h0M477.5 239.6h0M438.2 245.4h0M463.4 256.4h0M505.0 232.0h0M432.9 273.5h0M528.4 266.3h0M461.1 287.0h0M477.5 229.4h0M488.7 280.1h0M463.2 235.0h0M425.2 263.5h0M427.2 261.0h0M457.8 272.3h0M435.2 239.9h0M482.6 256.3h0M443.8 283.0h0M431.6 252.8h0M467.9 287.9h0M516.1 224.3h0M431.6 258.4h0M492.1 253.1h0M439.6 299.9h0M428.2 278.4h0M422.6 261.2h0M434.2 275.0h0M491.0 291.1h0M425.2 241.8h0M466.7 252.4h0M443.7 266.3h0M441.9 244.2h0M530.8 229.4h0M425.6 255.0h0M533.8 278.7h0M514.0 230.4h0M470.8 253.6h0M517.6 238.9h0M467.2 248.6h0M456.2 241.8h0M511.1 298.0h0M508.3 237.1h0M534.8 290.7h0M477.2 264.1h0M485.6 240.8h0M504.0 234.5h0M437.4 233.4h0M425.8 304.6h0M513.1 235.8h0M505.3 241.5h0M522.0 251.8h0M434.0 261.3h0M512.0 275.2h0M444.0 276.8h0M500.7 293.5h0M520.9 246.5h0M508.5 302.8h0M507.6 306.9h0M478.9 285.6h0M441.8 241.3h0M526.7 234.5h0M529.4 288.3h0M457.6 287.9h0M440.3 255.4h0M478.7 260.6h0M515.8 279.9h0M458.6 239.5h0M465.1 256.9h0M430.7 227.1h0M429.7 304.2h0M423.0 256.9h0M500.7 276.8h0M458.1 237.5h0M459.6 268.2h0M493.0 228.4h0M430.1 225.7h0M501.2 243.8h0M441.9 264.5h0M475.7 229.1h0M430.6 242.9h0M460.3 240.8h0M511.3 282.1h0M528.2 248.2h0M471.6 300.8h0M445.6 303.0h0M478.1 267.4h0M460.3 288.6h0M495.3 264.1h0M437.9 225.1h0M451.1 282.0h0M465.6 259.4h0M439.8 293.9h0M503.4 298.6h0M497.8 273.4h0M489.0 250.2h0M497.0 299.9h0M472.3 246.0h0M473.3 284.3h0M511.9 251.8h0M473.8 248.8h0M484.7 256.4h0M438.5 263.8h0M480.5 270.5h0M457.0 297.5h0M523.2 251.4h0M501.1 276.3h0M480.0 242.3h0M441.9 286.8h0M468.9 274.6h0M483.9 230.8h0M452.2 296.8h0M480.4 285.8h0M458.0 238.4h0M534.0 250.8h0M493.9 294.9h0M431.3 241.6h0M527.6 245.5h0M470.1 237.1h0M487.5 305.6h0M491.0 300.0h0M528.1 260.2h0M470.1 224.4h0M457.5 254.5h0M444.6 231.6h0M478.6 230.3h0M527.1 303.3h0M449.0 285.7h0M486.0 261.7h0M440.4 260.1h0M532.9 297.9h0M447.8 278.6h0M424.1 226.9h0M482.5 228.7h0M432.1 263.9h0M477.5 276.2h0M428.2 248.2h0M449.0 289.2h0M423.7 285.1h0M485.2 303.5h0M512.4 275.3h0M502.0 262.2h0M431.0 239.9h0M478.8 305.5h0M451.4 260.3h0M507.7 279.6h0M428.2 244.4h0M501.0 296.2h0M428.3 286.4h0M514.7 305.9h0M507.8 284.4h0M435.5 250.5h0M496.9 238.1h0M448.1 287.3h0M447.2 279.6h0M453.0 247.4h0M506.3 232.6h0M463.4 227.5h0M463.8 252.4h0M424.1 270.1h0M474.2 234.9h0M497.8 276.8h0M468.0 238.6h0M481.0 284.7h0M494.1 295.6h0M457.9 253.5h0M504.4 242.4h0M529.5 260.3h0M431.4 265.2h0M478.1 226.6h0M430.5 253.3h0M452.3 287.3h0M499.9 243.1h0M513.4 230.4h0M471.8 248.0h0M512.7 289.7h0M472.4 269.9h0M442.4 255.3h0M452.2 302.6h0M485.9 246.4h0M486.7 267.8h0M501.7 276.7h0M421.5 250.6h0M428.9 248.0h0M513.8 286.5h0M470.5 277.0h0M506.6 303.1h0M470.5 300.3h0M462.4 261.8h0M454.4 258.8h0M425.3 256.3h0M466.4 278.9h0M470.7 243.2h0M479.0 264.0h0M438.2 250.4h0M457.8 297.5h0M449.0 296.3h0M488.8 226.9h0M443.9 297.8h0M470.7 281.7h0M425.7 236.1h0M426.2 305.1h0M504.9 302.7h0M503.7 241.0h0M508.0 243.0h0M528.0 302.1h0M455.2 274.7h0M533.8 270.8h0M504.4 269.1h0M451.4 302.7h0M499.4 236.7h0M436.0 260.3h0M451.9 265.4h0M533.6 291.4h0M518.6 240.1h0M487.8 253.8h0M423.5 279.1h0M459.8 244.4h0M491.0 287.8h0M467.9 248.9h0M464.8 226.6h0M521.1 297.4h0M454.0 289.6h0M463.5 236.7h0M435.2 246.6h0M524.2 290.8h0M441.7 279.9h0M492.6 266.3h0M491.5 229.9h0M422.1 285.0h0M462.2 244.6h0M524.6 245.8h0M503.0 242.2h0M493.4 250.3h0M481.5 303.6h0M443.1 293.4h0M482.4 297.4h0M440.0 289.7h0M495.1 258.7h0M514.5 227.2h0M495.9 261.1h0M442.5 251.9h0M461.2 264.2h0M473.7 256.0h0M490.3 226.4h0M438.4 292.8h0M489.3 272.9h0M424.8 284.0h0M503.2 252.1h0M530.7 271.6h0M490.7 237.4h0M472.8 288.5h0M462.7 302.6h0M477.6 223.5h0M439.0 272.9h0M500.0 273.3h0M524.2 283.0h0M506.3 275.1h0M528.7 263.9h0M467.4 258.7h0M514.4 224.9h0M509.6 300.6h0M499.8 261.1h0M468.7 267.5h0M477.9 294.2h0M436.8 240.0h0M504.3 286.7h0M460.0 232.1h0M444.0 241.4h0M444.0 285.5h0M470.5 287.1h0M479.1 262.5h0M490.0 255.1h0M506.3 274.4h0M493.8 266.7h0M501.4 298.6h0M478.5 224.1h0M428.7 239.5h0M462.8 250.7h0M459.8 236.2h0M473.3 224.8h0M436.8 227.9h0M504.2 244.8h0M467.4 294.2h0M462.4 229.4h0M499.2 287.0h0M436.1 227.2h0M473.9 304.2h0M486.3 265.3h0M487.0 278.6h0M442.3 291.5h0M448.4 284.4h0M504.3 253.9h0M455.8 242.0h0M491.2 244.2h0M518.0 238.9h0M490.5 273.8h0M498.3 280.0h0M495.1 253.3h0M494.5 264.6h0M465.0 245.1h0M482.6 244.7h0M509.1 272.6h0M512.5 306.7h0M521.6 232.4h0M444.8 301.6h0M457.0 251.5h0M526.8 234.9h0M455.6 227.2h0M431.0 262.4h0M459.7 285.8h0M434.2 267.2h0M514.7 260.7h0M464.7 230.3h0M521.1 306.4h0M452.9 235.2h0M426.8 268.4h0M518.7 304.8h0M427.7 244.3h0M528.5 233.7h0M429.9 282.8h0M479.9 280.2h0M434.7 300.7h0M527.4 261.1h0M507.3 236.5h0M471.0 260.9h0M500.6 301.8h0M442.3 264.8h0M438.5 263.3h0M485.8 233.0h0M514.8 265.7h0M530.8 272.7h0M421.8 245.3h0M426.2 275.6h0M525.2 257.0h0M529.1 256.4h0M426.3 247.7h0M438.4 281.7h0M427.5 268.9h0M440.1 258.4h0M503.1 299.4h0M514.0 231.3h0M465.9 278.5h0M482.2 248.1h0M494.5 249.6h0M442.5 228.5h0M435.2 247.2h0M443.0 226.0h0M488.8 244.6h0M516.5 236.3h0M477.8 300.0h0M529.2 260.2h0M474.5 306.2h0M490.9 233.0h0M451.4 242.1h0M460.0 232.4h0M459.8 280.6h0M529.0 261.9h0M501.5 230.0h0M459.2 256.7h0M472.7 262.0h0M472.7 262.1h0M429.4 260.3h0M441.7 231.4h0M513.7 265.4h0M470.1 290.7h0M517.9 274.8h0M504.3 228.5h0M484.7 270.4h0M430.8 292.4h0M446.4 278.2h0M428.0 300.0h0M519.2 298.0h0M480.5 226.8h0M481.3 244.3h0M468.6 306.6h0M440.8 252.4h0M450.4 242.1h0M433.0 270.6h0M502.5 297.3h0M453.7 263.0h0M430.1 251.3h0M449.3 276.7h0M474.3 263.5h0M452.8 228.1h0M533.6 234.8h0M480.3 262.5h0M461.1 257.8h0M421.5 293.6h0M461.1 266.9h0M444.7 225.6h0M468.7 277.0h0M530.3 271.5h0M519.6 264.5h0M518.0 244.2h0M443.8 240.2h0M501.9 293.3h0M515.0 246.4h0M511.3 245.4h0M529.6 237.6h0M524.6 268.9h0M458.9 258.3h0M481.7 284.7h0M514.2 276.8h0M492.6 291.1h0M444.9 282.4h0M464.3 233.3h0M493.2 230.2h0M507.7 250.0h0" stroke="#5c6eae" stroke-width="1.3" stroke-linecap="round" fill="none" stroke-opacity="0.8"/>
<path d="M449.9 279.5h0M497.6 238.2h0M527.4 262.7h0M509.7 232.7h0M454.4 236.1h0M506.3 299.4h0M452.9 234.6h0M426.1 258.4h0M456.7 297.9h0M514.1 271.2h0M485.4 230.4h0M523.9 294.4h0M507.4 266.4h0M457.4 237.9h0M474.7 267.9h0M456.9 247.1h0M534.7 275.1h0M448.8 250.9h0M528.0 291.9h0M438.3 243.0h0M487.4 238.5h0M482.7 265.7h0M442.3 256.4h0M446.1 234.8h0M512.4 249.9h0M499.5 240.5h0M441.1 291.0h0M430.5 286.9h0M427.8 228.9h0M518.3 224.5h0M534.5 237.1h0M491.6 295.4h0M514.8 265.9h0M501.8 249.8h0M427.4 239.6h0M427.9 262.0h0M430.9 298.7h0M460.2 228.9h0M514.4 273.3h0M509.0 229.8h0M508.5 227.1h0M432.3 302.9h0M427.5 258.1h0M451.6 283.7h0M484.9 286.2h0M533.2 256.5h0M489.2 301.7h0M453.0 306.4h0M484.4 288.9h0M455.4 235.4h0M446.6 239.7h0M425.3 246.3h0M516.8 274.0h0M426.9 269.0h0M532.8 274.4h0M455.7 254.6h0M487.4 272.9h0M486.0 234.4h0M506.8 245.2h0M510.0 244.9h0M531.7 300.9h0M489.3 254.2h0M463.8 257.9h0M433.0 288.7h0M497.6 273.3h0M532.1 229.2h0M481.6 299.3h0M428.5 236.9h0M527.6 249.3h0M503.1 247.1h0M530.7 268.2h0M514.8 287.1h0M527.6 295.5h0M447.4 231.3h0M442.4 229.4h0M464.8 306.3h0M484.4 227.5h0M473.0 260.6h0M514.6 269.4h0M524.2 259.3h0M432.0 243.7h0M505.8 279.5h0M432.7 298.1h0M424.7 300.7h0M509.2 248.6h0M530.9 252.2h0M421.6 286.8h0M474.9 271.6h0M495.2 301.0h0M481.9 290.6h0M444.4 265.4h0M431.7 234.5h0M455.2 276.9h0M441.3 236.8h0M483.0 257.0h0M461.6 248.0h0M428.9 223.6h0M447.2 271.0h0M427.2 278.8h0M499.3 240.5h0M525.3 228.2h0M513.3 230.8h0M469.8 252.6h0M516.9 260.9h0M493.7 231.2h0M497.6 232.9h0M496.0 290.4h0M440.7 257.5h0M443.8 288.8h0M435.7 228.8h0M443.1 238.8h0M481.3 241.4h0M425.7 284.4h0M425.3 289.2h0M433.1 261.9h0M530.8 279.7h0M460.2 234.5h0M422.2 235.0h0M527.7 283.8h0M439.2 239.1h0M434.8 229.1h0M457.5 233.0h0M512.5 267.1h0M533.6 303.3h0M441.9 241.0h0M447.7 282.8h0M424.4 253.4h0M534.3 238.8h0M489.0 251.7h0M470.9 231.2h0M485.7 261.9h0M448.0 232.0h0M519.3 295.2h0M518.6 263.1h0M533.2 256.5h0M503.1 304.1h0M445.7 283.5h0M421.6 242.5h0M525.9 245.5h0M526.1 270.0h0M527.4 284.0h0M490.6 254.6h0M531.7 234.7h0M438.3 248.5h0M471.7 300.4h0M505.3 263.5h0M433.1 281.4h0M505.2 239.3h0M523.0 258.5h0M431.6 288.8h0M489.3 264.3h0M457.8 237.7h0M431.8 295.3h0M513.0 235.1h0M454.0 280.5h0M428.4 299.7h0M454.2 247.4h0M425.7 253.9h0M458.1 229.5h0M516.5 224.3h0M429.5 253.0h0M504.7 255.4h0M506.8 260.8h0M456.0 262.2h0M533.1 223.8h0M487.1 268.6h0M505.3 281.3h0M467.5 229.7h0M479.4 302.0h0M492.7 243.6h0M483.3 306.5h0M452.6 230.3h0M504.5 279.2h0M472.5 258.6h0M531.0 242.6h0M515.8 247.8h0M504.2 236.4h0M427.9 263.6h0M475.9 229.0h0M472.7 294.2h0M531.2 271.3h0M496.8 265.2h0M529.3 291.6h0M447.8 266.4h0M451.8 282.3h0M449.2 238.9h0M488.4 239.5h0M482.6 286.3h0M517.8 241.6h0M470.3 297.2h0M496.2 303.7h0M463.5 237.5h0M449.6 242.6h0M463.4 251.8h0M517.5 261.0h0M422.9 225.6h0M513.9 298.8h0M472.0 228.6h0M497.9 268.6h0M468.2 273.6h0M490.5 244.3h0M498.5 248.4h0M533.9 262.1h0M437.3 237.9h0M491.7 226.6h0M462.2 236.3h0M522.9 264.9h0M474.9 307.0h0M490.6 235.7h0M530.6 230.4h0M522.3 271.2h0M442.2 268.6h0M430.5 259.4h0M486.1 249.3h0M455.3 255.3h0M447.4 271.2h0M451.9 270.2h0M454.1 259.4h0M428.8 302.5h0M478.5 282.1h0M478.9 244.0h0M528.9 237.1h0M465.0 300.0h0M449.3 239.9h0M441.6 238.6h0M458.6 230.7h0M476.3 231.4h0M522.3 265.3h0M445.8 279.2h0M458.6 300.8h0M480.1 246.6h0M428.7 279.1h0M505.4 291.4h0M446.9 285.5h0M510.8 247.1h0M454.7 231.9h0M485.2 226.6h0M434.6 270.1h0M475.6 251.6h0M432.5 299.2h0M476.1 242.8h0M479.1 276.0h0M492.4 236.6h0M472.7 244.4h0M460.9 235.0h0M429.1 262.1h0M478.6 241.5h0M505.8 274.5h0M478.4 236.1h0M532.4 282.0h0M495.2 240.7h0M518.9 252.3h0M446.9 248.5h0M510.3 287.5h0M436.0 282.1h0M533.5 275.0h0M450.5 264.6h0M532.1 279.1h0M469.4 290.7h0M486.2 267.7h0M495.0 267.4h0M504.2 270.3h0M482.9 285.8h0" stroke="#7d8aba" stroke-width="1.4" stroke-linecap="round" fill="none" stroke-opacity="0.7"/>
</g>
<rect x="421" y="311" width="114.6" height="85" fill="#9ca6c4" filter="url(#tx11)"/>
<g clip-path="url(#cp12)">
<path d="M457.0 382.9h0M438.0 347.6h0M498.4 390.7h0M426.5 345.7h0M523.8 384.2h0M528.3 379.8h0M488.7 369.2h0M498.8 365.1h0M467.2 360.5h0M481.6 317.9h0M482.7 384.3h0M436.8 373.6h0M516.7 355.5h0M456.8 325.1h0M474.7 348.9h0M485.5 353.0h0M466.5 394.9h0M435.1 377.9h0M467.2 371.5h0M534.2 312.8h0M437.7 315.3h0M479.2 326.9h0M453.6 378.2h0M470.0 366.8h0M522.6 317.5h0M488.7 372.1h0M521.3 342.3h0M488.5 343.1h0M464.0 361.0h0M526.8 363.0h0M442.6 317.2h0M460.8 362.3h0M423.4 360.9h0M446.0 336.4h0M510.1 356.1h0M477.5 387.2h0M528.3 357.9h0M519.5 394.1h0M505.0 387.7h0M518.2 365.5h0M470.1 353.0h0M466.2 351.0h0M427.8 387.5h0M484.7 322.9h0M509.5 346.0h0M498.6 319.1h0M493.7 370.4h0M430.5 393.2h0M491.4 350.5h0M504.0 345.8h0M470.7 364.2h0M434.4 391.2h0M452.2 330.5h0M494.7 393.3h0M476.3 392.8h0M524.1 381.7h0M485.5 377.9h0M438.1 315.6h0M421.6 342.6h0M427.3 318.5h0M440.9 391.3h0M518.0 338.2h0M457.1 338.8h0M450.4 344.6h0M501.3 384.8h0M421.6 311.7h0M533.2 381.8h0M436.0 374.2h0M477.7 367.3h0M434.8 386.1h0M504.6 369.1h0M519.3 347.7h0M470.0 331.4h0M452.1 343.3h0M456.7 361.6h0M510.5 384.1h0M472.6 322.4h0M435.6 330.6h0M501.6 373.1h0M532.7 364.1h0M530.9 338.1h0M452.8 318.2h0M489.2 391.4h0M506.3 349.8h0M510.6 353.9h0M513.4 388.0h0M467.0 389.4h0M490.9 324.1h0M515.6 317.2h0M423.0 336.1h0M471.0 332.2h0M436.5 394.5h0M424.9 379.3h0M524.0 382.1h0M465.0 339.5h0M481.9 395.3h0M492.4 316.9h0M483.7 367.6h0M431.0 345.6h0M478.2 322.9h0M492.2 337.2h0M480.7 353.8h0M480.9 350.9h0M422.2 311.7h0M511.0 393.3h0M446.5 394.1h0M503.8 379.6h0M476.4 348.5h0M509.4 392.4h0M459.2 381.9h0M523.6 339.9h0M432.4 371.8h0M433.5 368.3h0M474.5 334.6h0M505.2 346.8h0M425.2 356.9h0M458.3 311.8h0M513.9 318.8h0M462.4 320.2h0M507.0 373.1h0M428.5 369.8h0M478.9 327.7h0M532.4 336.8h0M530.6 393.2h0M516.2 332.1h0M443.2 338.0h0M452.1 341.4h0M446.7 343.0h0M535.1 378.0h0M525.6 320.5h0M511.9 377.2h0M427.0 389.5h0M423.1 389.5h0M515.2 386.8h0M518.1 388.4h0M427.0 347.9h0M514.1 349.7h0M505.6 374.1h0M476.1 327.0h0M509.1 330.7h0M532.4 365.7h0M494.7 349.0h0M482.6 319.6h0M517.8 352.2h0M471.5 315.7h0M481.4 384.7h0M466.2 325.9h0M498.8 338.9h0M504.0 386.9h0M517.0 356.7h0M453.8 379.2h0M442.7 321.6h0M515.5 387.4h0M439.7 321.5h0M518.8 389.1h0M431.9 312.9h0M516.7 370.9h0M457.4 356.1h0M475.6 359.9h0M519.1 377.1h0M450.9 393.2h0M519.9 379.1h0M438.5 374.1h0M422.7 382.6h0M466.7 374.7h0M508.8 350.4h0M533.7 315.1h0M507.4 317.8h0M487.8 331.6h0M495.8 335.2h0M511.7 340.4h0M525.9 342.2h0M511.6 356.0h0M434.7 378.4h0M518.7 321.2h0M459.0 330.8h0M465.8 379.7h0M522.3 321.3h0M490.3 318.7h0M486.7 388.8h0M473.5 380.0h0M517.9 388.5h0M422.5 326.1h0M481.7 370.0h0M439.2 346.6h0M498.8 341.6h0M444.0 390.4h0M508.6 393.7h0M530.6 367.5h0M473.7 353.9h0M483.0 361.9h0M449.4 393.2h0M434.1 376.9h0M475.0 367.2h0M457.7 345.6h0M460.4 314.8h0M430.0 386.6h0M478.0 354.0h0M441.2 344.7h0M485.8 389.0h0M470.5 375.0h0M465.7 387.3h0M533.5 339.7h0M440.0 335.1h0M523.2 375.4h0M477.4 347.0h0M442.4 330.9h0M431.8 344.6h0M482.5 325.6h0M465.9 392.0h0M490.9 392.1h0M531.1 314.2h0M533.5 358.9h0M468.0 341.8h0M436.4 369.5h0M446.1 365.9h0M453.1 338.6h0M422.4 323.8h0M493.9 334.7h0M492.2 370.0h0M487.9 346.9h0M453.4 369.1h0M528.5 336.0h0M526.8 317.2h0M496.7 332.8h0M422.7 327.1h0M472.6 342.9h0M446.9 330.1h0M524.5 321.4h0M487.0 354.3h0M491.1 361.1h0M507.9 395.3h0M427.9 358.7h0M524.8 314.8h0M471.5 340.4h0M489.4 343.4h0M451.5 386.4h0M527.7 392.5h0M502.8 353.4h0M502.9 335.4h0M524.4 339.2h0M524.1 327.5h0M459.6 355.9h0M432.7 338.4h0M528.4 375.8h0M438.1 339.3h0M441.7 335.4h0M452.3 317.3h0M486.9 340.6h0M526.9 365.2h0M464.1 319.1h0M436.3 353.3h0M452.0 369.9h0M467.7 334.2h0M518.6 395.4h0M528.7 375.1h0M485.0 315.7h0M430.7 394.9h0M425.6 361.2h0M513.0 391.6h0M443.6 328.6h0M467.0 362.2h0M531.6 377.7h0M502.6 345.1h0M443.6 388.5h0M506.5 390.4h0M430.1 337.5h0M425.0 335.9h0M474.1 386.3h0M463.3 332.8h0M497.3 346.2h0M493.2 348.4h0M483.6 346.7h0M526.3 316.6h0M473.2 348.2h0M441.2 324.3h0M496.9 378.8h0M499.5 373.4h0M521.0 313.4h0M476.4 355.8h0M501.8 358.7h0M496.3 386.2h0M446.2 377.2h0M441.4 379.3h0M487.7 342.7h0M492.3 376.3h0M494.3 345.1h0M529.9 320.5h0M459.8 350.3h0M470.7 341.4h0M460.0 347.1h0M477.1 369.6h0M480.4 361.2h0M499.2 365.4h0M509.0 372.1h0M495.1 341.4h0M517.4 344.0h0M520.8 330.5h0M483.6 343.7h0M488.4 361.1h0M493.9 349.8h0M453.9 343.3h0M511.8 362.7h0M480.4 319.9h0M518.4 319.5h0M476.7 360.6h0M520.9 321.7h0M455.8 336.9h0M427.0 327.0h0M471.0 340.3h0M428.7 366.4h0M456.7 364.8h0M477.9 333.3h0M528.4 370.6h0M437.0 376.5h0M472.7 371.8h0M423.3 389.0h0M489.8 353.8h0M471.4 354.7h0M424.0 351.6h0M516.7 380.9h0M466.8 377.6h0M509.3 316.5h0M490.3 336.2h0M453.9 364.8h0M484.7 363.1h0M497.6 350.7h0M510.6 356.0h0M527.5 360.8h0M509.7 364.6h0M471.2 365.1h0M528.1 355.4h0M436.5 391.9h0M446.5 369.6h0M485.7 332.3h0M429.8 354.4h0M491.7 352.3h0M522.6 353.1h0M513.6 365.3h0M532.0 384.5h0M520.2 331.6h0M452.1 370.5h0M462.2 391.3h0M467.2 318.4h0M480.6 384.6h0M532.5 315.6h0M427.4 362.5h0M491.4 373.9h0M484.6 332.3h0M462.7 337.1h0M499.5 349.8h0M481.7 359.3h0M489.8 334.3h0M497.6 385.4h0M461.7 313.4h0M467.3 311.5h0M535.0 363.6h0M445.7 362.7h0M508.3 320.1h0M498.1 370.1h0M489.0 335.1h0M487.8 324.5h0M423.3 337.3h0M450.4 374.3h0M482.0 382.9h0M448.6 356.0h0M463.6 395.2h0M484.8 319.1h0M442.6 335.7h0M431.5 390.0h0M431.4 313.9h0M519.5 377.0h0M480.1 385.7h0M476.2 381.9h0M470.9 348.2h0M433.3 316.4h0M423.4 330.2h0M431.4 393.0h0M437.9 322.6h0M476.4 374.3h0M515.8 340.1h0M422.1 338.3h0M482.6 332.0h0M446.3 357.5h0M462.6 352.7h0M457.6 330.5h0M462.5 383.3h0M440.6 354.4h0M455.7 368.0h0M456.1 358.3h0M489.8 394.6h0M437.1 354.7h0M519.1 336.8h0M421.9 336.5h0M527.5 391.3h0M509.7 328.2h0M529.6 356.2h0M432.6 366.0h0M534.6 373.2h0M441.2 371.7h0M480.4 334.1h0M529.3 320.4h0M434.0 359.6h0M452.3 344.9h0M440.9 371.7h0M444.0 324.2h0M456.9 332.5h0M529.9 383.4h0M444.6 356.1h0M428.3 328.8h0M519.1 353.9h0M491.2 365.9h0M463.2 385.7h0M495.2 352.9h0M501.6 353.4h0M478.0 327.9h0M437.9 325.8h0M458.1 377.4h0M494.3 354.7h0M529.2 394.4h0M488.0 392.1h0M453.9 386.0h0M440.3 357.9h0M450.6 315.2h0M428.5 395.1h0M525.0 319.4h0M497.8 322.1h0M425.0 380.0h0M503.1 326.0h0M471.6 333.7h0M441.1 335.6h0M480.1 334.4h0M488.8 382.7h0M478.4 374.2h0M500.3 383.0h0M498.1 368.0h0M460.1 334.3h0M506.3 376.0h0M452.2 366.1h0M518.2 325.4h0" stroke="#3f55a0" stroke-width="1.4" stroke-linecap="round" fill="none" stroke-opacity="0.85"/>
<path d="M495.0 388.8h0M449.5 311.9h0M466.3 373.7h0M529.5 384.0h0M457.7 359.3h0M434.6 394.3h0M440.5 335.0h0M453.0 318.0h0M502.4 372.3h0M497.5 366.4h0M516.4 388.5h0M525.7 343.8h0M489.9 321.4h0M515.0 387.5h0M500.9 345.9h0M436.2 346.0h0M532.3 345.9h0M471.6 389.0h0M449.0 394.2h0M501.8 381.6h0M480.4 391.4h0M519.3 350.5h0M463.7 349.3h0M532.7 337.5h0M481.6 315.8h0M526.2 346.7h0M519.2 322.0h0M487.2 371.4h0M445.1 314.7h0M519.2 337.4h0M427.2 318.8h0M523.4 323.1h0M500.0 331.1h0M503.6 350.2h0M435.1 325.9h0M477.9 393.2h0M469.1 354.8h0M493.1 377.3h0M449.6 336.7h0M511.1 313.2h0M525.6 321.9h0M457.4 362.2h0M440.7 331.1h0M455.9 354.5h0M500.1 382.0h0M522.7 320.3h0M503.9 362.8h0M507.7 394.3h0M499.6 392.9h0M444.5 345.7h0M502.2 331.8h0M481.5 368.8h0M508.6 328.8h0M500.3 383.3h0M470.0 381.4h0M449.6 321.8h0M461.2 321.1h0M440.7 367.1h0M512.9 395.2h0M496.8 332.3h0M468.5 352.1h0M456.0 325.3h0M433.3 363.8h0M494.4 337.1h0M505.7 375.8h0M438.8 341.6h0M492.7 373.5h0M514.7 322.8h0M504.5 354.0h0M503.7 370.4h0M437.1 341.0h0M447.3 389.9h0M515.7 378.1h0M498.8 313.6h0M465.2 333.8h0M508.9 332.6h0M503.2 346.0h0M443.8 312.7h0M465.4 319.2h0M463.5 341.8h0M423.9 333.1h0M471.3 387.4h0M436.2 365.8h0M508.3 380.0h0M456.8 332.1h0M472.0 392.6h0M422.4 320.8h0M447.3 334.4h0M519.1 333.3h0M527.2 377.2h0M488.1 372.0h0M437.3 369.4h0M521.8 324.1h0M523.6 333.5h0M497.3 392.5h0M530.8 389.5h0M444.8 372.6h0M451.3 353.8h0M470.6 331.4h0M451.1 332.8h0M466.1 369.2h0M429.0 390.9h0M456.4 376.9h0M482.1 390.8h0M442.3 383.8h0M514.5 337.5h0M465.9 374.4h0M465.2 319.7h0M492.6 353.7h0M521.2 352.6h0M518.1 351.2h0M447.2 372.5h0M444.6 338.3h0M446.2 339.2h0M505.5 381.1h0M458.4 384.5h0M513.2 322.8h0M464.1 316.5h0M467.0 314.8h0M428.8 335.1h0M503.9 318.7h0M470.4 339.4h0M504.0 378.9h0M491.0 394.8h0M502.7 369.7h0M469.1 357.8h0M451.4 380.2h0M500.6 312.2h0M514.3 387.6h0M520.6 344.7h0M440.1 325.3h0M520.5 386.0h0M461.1 384.4h0M429.8 323.3h0M461.2 321.8h0M483.3 382.8h0M480.7 338.8h0M497.5 316.7h0M424.8 335.9h0M485.4 324.9h0M434.1 321.7h0M514.4 372.4h0M495.3 324.8h0M515.0 376.3h0M506.2 384.1h0M526.6 357.4h0M457.1 360.5h0M517.0 323.2h0M436.1 362.5h0M488.4 353.0h0M510.8 334.1h0M503.4 394.2h0M523.4 360.3h0M495.9 387.9h0M456.5 343.3h0M484.2 365.0h0M525.8 332.5h0M491.5 389.7h0M532.9 316.5h0M423.8 344.5h0M452.1 382.7h0M446.0 383.6h0M514.3 322.4h0M483.2 392.7h0M446.6 340.9h0M462.4 390.0h0M510.8 374.9h0M457.7 336.4h0M462.1 385.9h0M461.8 392.0h0M496.4 374.5h0M451.1 318.6h0M423.6 341.9h0M463.7 377.8h0M450.3 326.6h0M533.6 324.7h0M422.4 371.6h0M532.2 331.2h0M437.5 323.0h0M495.1 388.0h0M445.7 385.5h0M450.7 353.3h0M516.4 345.1h0M501.1 338.2h0M465.9 328.0h0M465.1 316.9h0M486.5 370.4h0M464.8 386.8h0M533.6 334.4h0M448.7 370.5h0M524.5 341.0h0M452.0 326.1h0M492.5 357.7h0M470.7 383.6h0M456.6 388.6h0M426.1 314.6h0M465.7 392.6h0M441.3 370.2h0M500.5 380.1h0M473.3 329.8h0M472.1 323.1h0M522.3 357.4h0M494.4 353.0h0M486.6 318.2h0M454.4 344.7h0M436.5 343.1h0M477.0 353.8h0M425.7 329.9h0M528.0 379.9h0M468.3 351.6h0M521.7 364.4h0M489.3 319.1h0M458.1 325.1h0M531.1 349.6h0M468.3 390.2h0M521.4 359.7h0M508.9 318.0h0M462.2 388.5h0M431.3 323.8h0M520.6 342.4h0M494.4 317.6h0M459.4 377.4h0M532.0 386.1h0M429.6 353.4h0M422.3 381.2h0M455.5 315.5h0M487.9 354.9h0M510.2 393.7h0M447.7 361.7h0M515.8 380.5h0M426.8 320.0h0M441.9 343.2h0M508.1 363.1h0M464.4 395.3h0M461.4 394.8h0M463.3 393.7h0M469.6 381.3h0M425.1 360.5h0M470.6 336.5h0M519.7 343.0h0M436.5 326.5h0M445.9 390.5h0M429.8 319.7h0M523.0 386.7h0M462.2 313.4h0M469.1 311.7h0M426.7 390.6h0M529.5 378.1h0M446.9 375.3h0M424.0 332.4h0M513.2 342.5h0M529.0 326.7h0M436.8 394.7h0M440.0 329.7h0M508.9 332.2h0M482.0 352.8h0M436.1 354.3h0M504.3 316.5h0M503.8 387.9h0M453.4 346.3h0M470.9 335.8h0M428.3 327.3h0M455.6 372.8h0M462.0 322.6h0M477.2 377.3h0M500.7 335.3h0M523.6 327.9h0M426.5 376.8h0M522.6 356.8h0M459.4 326.8h0M445.3 327.1h0M500.5 373.3h0M494.7 323.2h0M478.2 369.4h0M448.2 314.8h0M498.1 394.6h0M505.7 348.3h0M445.6 393.8h0M442.1 316.7h0M464.5 355.9h0M466.8 349.9h0M447.7 361.7h0M506.7 380.6h0M446.6 365.6h0M491.6 312.0h0M531.9 394.7h0M428.9 358.2h0M469.9 386.5h0M526.8 395.2h0M422.6 338.2h0M435.3 337.2h0M471.4 324.0h0M533.3 330.5h0M496.3 391.2h0M427.9 383.2h0M501.0 382.4h0M520.4 326.8h0M425.1 339.1h0M504.5 376.6h0M487.6 352.1h0M527.3 332.5h0M438.2 382.2h0M502.1 365.6h0M484.8 363.2h0M466.1 395.3h0M534.3 334.4h0M530.0 344.5h0M452.7 380.2h0M425.4 353.5h0M523.2 320.3h0M461.3 362.6h0M511.5 390.2h0M462.7 339.5h0M439.7 352.9h0M532.2 362.8h0M505.9 390.3h0M521.0 331.9h0M520.3 363.8h0M466.9 348.5h0M532.8 350.0h0M494.2 361.4h0M462.3 357.5h0M471.1 333.4h0M513.4 395.1h0M499.1 340.1h0M450.7 319.3h0M444.1 348.0h0M445.9 344.0h0M453.5 332.6h0M532.3 350.2h0M484.1 318.5h0M475.6 365.7h0M490.4 356.1h0M475.4 321.6h0M506.8 395.4h0M523.0 336.2h0M489.9 394.4h0M439.6 375.1h0M450.2 361.3h0M427.4 322.1h0M514.1 366.8h0M520.5 320.9h0M439.5 377.7h0M461.8 315.0h0M436.5 320.0h0M531.7 394.3h0M503.6 325.6h0M508.1 362.3h0M509.5 367.2h0M423.0 384.1h0M489.4 346.9h0M474.0 348.2h0M421.5 315.6h0M488.4 335.1h0M479.1 385.3h0M447.6 373.5h0M427.7 316.2h0M437.2 349.5h0M515.3 338.4h0M467.4 391.5h0M500.1 372.5h0M475.4 317.3h0M481.9 364.8h0M470.0 319.7h0M505.3 346.4h0M451.7 363.4h0M512.2 392.4h0M493.8 366.8h0M504.5 339.8h0M505.8 379.2h0M458.1 379.9h0M459.5 338.7h0M504.1 320.8h0M441.5 363.9h0M448.8 378.4h0M434.3 365.8h0M449.9 390.9h0M439.8 349.6h0M449.8 322.1h0M456.2 362.3h0M534.6 320.5h0M480.0 358.9h0M528.0 330.8h0M455.0 368.9h0M466.9 367.7h0M494.7 319.5h0M522.0 369.4h0M434.8 356.7h0M521.9 387.5h0M461.6 366.0h0M530.4 385.3h0M529.2 392.5h0M523.1 353.5h0" stroke="#5c6eae" stroke-width="1.3" stroke-linecap="round" fill="none" stroke-opacity="0.8"/>
<path d="M513.0 368.6h0M481.8 376.0h0M428.5 324.8h0M487.0 376.4h0M527.1 389.5h0M442.8 327.8h0M450.4 354.2h0M424.8 371.8h0M426.5 343.8h0M530.3 344.2h0M459.3 379.2h0M442.4 321.8h0M447.9 344.8h0M504.3 332.7h0M453.6 360.3h0M424.9 368.1h0M470.2 331.2h0M447.2 336.1h0M446.9 331.3h0M491.7 342.7h0M497.8 376.1h0M508.1 329.7h0M440.0 327.8h0M456.7 388.5h0M427.9 389.7h0M489.0 378.8h0M502.9 370.5h0M439.5 316.8h0M513.4 320.8h0M494.1 321.3h0M508.6 391.4h0M441.3 373.5h0M431.4 338.3h0M494.7 323.2h0M493.7 374.4h0M523.1 356.4h0M532.9 330.8h0M509.2 372.4h0M516.1 324.0h0M525.8 380.9h0M473.8 392.2h0M534.8 313.3h0M453.8 335.7h0M492.6 390.2h0M488.0 359.6h0M433.3 362.7h0M428.8 314.5h0M466.8 374.4h0M506.2 330.3h0M480.5 357.1h0M489.9 342.6h0M475.1 311.9h0M508.7 360.1h0M468.5 360.4h0M505.9 335.9h0M444.0 326.0h0M444.1 322.9h0M425.2 345.6h0M511.5 347.7h0M515.0 387.6h0M484.5 313.0h0M510.6 313.9h0M463.7 349.7h0M530.5 325.0h0M506.1 346.8h0M482.2 348.4h0M442.7 342.5h0M478.7 320.6h0M498.6 335.2h0M467.8 377.9h0M466.3 361.0h0M457.2 318.4h0M449.1 342.7h0M471.2 366.3h0M502.9 315.7h0M497.5 387.2h0M524.6 379.8h0M461.5 388.2h0M510.1 331.0h0M458.1 372.5h0M441.8 380.3h0M467.1 358.1h0M468.6 357.0h0M458.7 327.3h0M507.3 393.1h0M483.7 321.9h0M442.1 389.9h0M527.8 349.3h0M429.8 368.7h0M456.8 330.0h0M497.2 378.8h0M505.3 312.8h0M453.1 354.3h0M460.7 350.9h0M517.3 366.1h0M518.1 348.3h0M517.6 342.0h0M529.6 360.1h0M477.2 368.1h0M428.3 337.8h0M496.8 368.2h0M453.6 347.4h0M481.8 321.9h0M512.8 355.3h0M523.3 369.1h0M482.5 359.0h0M483.5 364.5h0M429.7 395.0h0M487.3 382.3h0M455.5 315.9h0M442.4 330.8h0M482.5 352.6h0M435.6 380.4h0M485.6 348.4h0M470.6 336.7h0M498.2 357.1h0M531.5 349.4h0M525.8 335.4h0M472.3 332.7h0M483.7 367.2h0M526.0 332.8h0M482.0 366.3h0M523.6 378.2h0M491.7 369.1h0M432.3 326.4h0M482.1 383.9h0M479.8 375.7h0M527.0 340.4h0M524.1 335.0h0M446.7 386.2h0M513.4 363.2h0M448.0 321.7h0M466.6 381.1h0M465.8 319.5h0M477.4 363.6h0M427.2 359.3h0M432.8 373.1h0M432.7 316.1h0M513.0 321.1h0M494.6 321.2h0M435.1 385.7h0M485.3 316.7h0M491.6 330.0h0M515.8 316.2h0M525.2 363.4h0M526.5 327.9h0M440.6 382.2h0M507.6 370.6h0M476.4 327.9h0M487.0 376.8h0M477.4 337.8h0M452.6 358.4h0M497.2 313.3h0M488.3 370.8h0M421.7 334.4h0M465.2 391.1h0M450.8 354.9h0M499.7 360.1h0M495.1 312.4h0M477.5 361.1h0M436.5 373.8h0M518.6 331.2h0M423.7 372.8h0M534.4 388.4h0M452.1 385.8h0M510.2 377.0h0M474.0 344.6h0M462.4 376.6h0M488.7 315.4h0M437.1 370.7h0M451.2 312.0h0M486.4 339.9h0M452.3 356.6h0M499.0 366.0h0M466.1 376.3h0M483.3 385.4h0M464.8 344.5h0M461.6 346.5h0M468.8 316.0h0M484.8 380.1h0M450.8 332.2h0M483.4 319.9h0M520.3 358.4h0M522.0 342.3h0M434.8 365.9h0M459.7 374.1h0M464.4 329.7h0M474.5 318.8h0M449.7 379.2h0M494.3 359.1h0M487.2 372.8h0M512.7 393.5h0M460.0 340.7h0M462.4 363.8h0M465.4 329.8h0M470.0 388.3h0M441.2 375.4h0M440.7 314.3h0M478.6 329.3h0M446.3 341.0h0M501.7 371.6h0M481.9 340.4h0M487.0 383.4h0M473.6 335.5h0M484.6 344.4h0M432.5 370.4h0M463.8 380.5h0M513.5 375.1h0M493.6 338.9h0M467.4 328.3h0M426.9 348.7h0M497.8 372.2h0M525.3 359.4h0M493.0 356.8h0M444.3 316.2h0M501.7 356.7h0M435.6 376.8h0M534.0 386.6h0M487.2 347.1h0M532.4 374.3h0M498.4 320.7h0M503.9 353.6h0M506.3 329.2h0M422.1 314.9h0M506.3 325.3h0M449.1 353.5h0M455.4 355.2h0M441.7 379.8h0M530.1 379.5h0M511.8 346.8h0M480.2 395.3h0M485.4 392.9h0M523.8 390.8h0M522.9 324.2h0M425.5 322.1h0M479.9 378.1h0M515.2 391.9h0M461.3 385.1h0M469.4 379.8h0M487.4 392.2h0M432.5 375.1h0M522.3 335.6h0M463.7 316.4h0M527.5 320.8h0M464.6 321.8h0M493.7 326.2h0M475.4 323.3h0M487.8 357.9h0M483.1 365.2h0M520.9 369.0h0M482.5 373.5h0M430.4 378.1h0M462.3 384.9h0M533.7 351.4h0M532.3 366.9h0M429.9 323.1h0M464.3 319.7h0M465.7 348.6h0M455.9 387.0h0M428.4 344.2h0M486.3 325.1h0M449.5 374.8h0M514.5 359.7h0M430.0 318.1h0M478.7 334.8h0M452.9 382.8h0M470.8 392.6h0" stroke="#7d8aba" stroke-width="1.4" stroke-linecap="round" fill="none" stroke-opacity="0.7"/>
</g>
<text x="418.20" y="279.70" font-size="9.3" font-weight="bold" fill="#111" transform="rotate(-90 418.20 279.70)" textLength="15.9" lengthAdjust="spacingAndGlyphs" stroke="#111" stroke-width="0.35">Atm</text>
<text x="415.40" y="260.10" font-size="8.6" font-weight="bold" fill="#111" transform="rotate(-90 415.40 260.10)" stroke="#111" stroke-width="0.25">+/+</text>
<text x="418.50" y="365.60" font-size="9.3" font-weight="bold" fill="#111" transform="rotate(-90 418.50 365.60)" textLength="15.9" lengthAdjust="spacingAndGlyphs" stroke="#111" stroke-width="0.35">Atm</text>
<text x="415.70" y="346.00" font-size="8.6" font-weight="bold" fill="#111" transform="rotate(-90 415.70 346.00)" stroke="#111" stroke-width="0.25">-/-</text>
<ellipse cx="476.9" cy="258.6" rx="12.2" ry="9.7" fill="#d8dae4"/>
<path d="M471.9 264.3h0M481.3 259.2h0M469.8 256.8h0M472.7 253.9h0M486.2 262.1h0M468.1 255.5h0M468.9 260.4h0M473.0 261.3h0M483.0 257.6h0M485.5 256.2h0M479.2 261.6h0M467.4 256.6h0M474.0 253.2h0M476.7 262.9h0M472.6 251.8h0M467.5 254.4h0M472.9 258.4h0M471.2 260.3h0M487.1 256.1h0M470.9 255.7h0M475.6 257.9h0M478.1 259.7h0M479.8 259.3h0M469.6 258.5h0M466.8 257.7h0M486.6 261.7h0M485.4 263.2h0M469.1 256.5h0M468.2 261.2h0M486.4 258.5h0M475.3 264.3h0M479.8 254.6h0M485.8 259.6h0M470.5 263.7h0M484.0 254.0h0M481.5 264.7h0M479.7 252.4h0M480.8 251.8h0M471.7 265.3h0M473.7 253.4h0M468.3 253.7h0M472.2 256.1h0M472.6 263.9h0M471.0 263.8h0M480.6 263.4h0" stroke="#8d98c8" stroke-width="1.3" stroke-linecap="round" fill="none" stroke-opacity="0.6"/>
<ellipse cx="488.3" cy="258.9" rx="1.42" ry="1.20" fill="#7e4210" transform="rotate(90 488.3 258.9)"/>
<ellipse cx="487.3" cy="260.4" rx="1.86" ry="1.22" fill="#7e4210" transform="rotate(103 487.3 260.4)"/>
<ellipse cx="487.2" cy="262.5" rx="1.49" ry="1.38" fill="#7e4210" transform="rotate(116 487.2 262.5)"/>
<ellipse cx="485.4" cy="265.0" rx="1.41" ry="1.34" fill="#7e4210" transform="rotate(129 485.4 265.0)"/>
<ellipse cx="484.1" cy="266.4" rx="1.77" ry="1.26" fill="#7e4210" transform="rotate(142 484.1 266.4)"/>
<ellipse cx="481.8" cy="266.2" rx="1.35" ry="0.99" fill="#7e4210" transform="rotate(155 481.8 266.2)"/>
<ellipse cx="478.8" cy="267.2" rx="1.58" ry="1.26" fill="#7e4210" transform="rotate(168 478.8 267.2)"/>
<ellipse cx="476.8" cy="266.9" rx="1.83" ry="1.29" fill="#7e4210" transform="rotate(181 476.8 266.9)"/>
<ellipse cx="473.7" cy="266.8" rx="1.57" ry="1.07" fill="#7e4210" transform="rotate(194 473.7 266.8)"/>
<ellipse cx="471.3" cy="267.1" rx="2.02" ry="1.03" fill="#7e4210" transform="rotate(207 471.3 267.1)"/>
<ellipse cx="470.2" cy="265.4" rx="1.30" ry="1.25" fill="#7e4210" transform="rotate(220 470.2 265.4)"/>
<ellipse cx="467.8" cy="263.3" rx="1.89" ry="1.09" fill="#7e4210" transform="rotate(233 467.8 263.3)"/>
<ellipse cx="466.2" cy="262.4" rx="1.67" ry="1.33" fill="#7e4210" transform="rotate(246 466.2 262.4)"/>
<ellipse cx="465.2" cy="260.6" rx="1.55" ry="1.03" fill="#7e4210" transform="rotate(259 465.2 260.6)"/>
<ellipse cx="465.8" cy="257.9" rx="1.78" ry="1.42" fill="#7e4210" transform="rotate(272 465.8 257.9)"/>
<ellipse cx="465.6" cy="256.6" rx="1.99" ry="1.15" fill="#7e4210" transform="rotate(285 465.6 256.6)"/>
<ellipse cx="467.3" cy="254.3" rx="1.38" ry="0.99" fill="#7e4210" transform="rotate(298 467.3 254.3)"/>
<ellipse cx="468.9" cy="252.4" rx="1.84" ry="1.38" fill="#7e4210" transform="rotate(311 468.9 252.4)"/>
<ellipse cx="470.2" cy="251.3" rx="1.62" ry="1.03" fill="#7e4210" transform="rotate(324 470.2 251.3)"/>
<ellipse cx="472.7" cy="250.7" rx="1.60" ry="1.01" fill="#7e4210" transform="rotate(337 472.7 250.7)"/>
<ellipse cx="474.9" cy="249.1" rx="1.63" ry="1.42" fill="#7e4210" transform="rotate(350 474.9 249.1)"/>
<ellipse cx="477.0" cy="249.0" rx="1.30" ry="1.06" fill="#7e4210" transform="rotate(363 477.0 249.0)"/>
<ellipse cx="480.2" cy="250.2" rx="1.91" ry="1.36" fill="#7e4210" transform="rotate(376 480.2 250.2)"/>
<ellipse cx="482.8" cy="250.3" rx="1.96" ry="1.26" fill="#7e4210" transform="rotate(389 482.8 250.3)"/>
<ellipse cx="484.3" cy="251.6" rx="2.01" ry="1.32" fill="#7e4210" transform="rotate(402 484.3 251.6)"/>
<ellipse cx="486.1" cy="253.7" rx="1.68" ry="1.20" fill="#7e4210" transform="rotate(415 486.1 253.7)"/>
<ellipse cx="487.1" cy="255.7" rx="2.00" ry="1.33" fill="#7e4210" transform="rotate(428 487.1 255.7)"/>
<ellipse cx="487.5" cy="257.0" rx="2.08" ry="1.42" fill="#7e4210" transform="rotate(441 487.5 257.0)"/>
<ellipse cx="474.9" cy="266.1" rx="1.50" ry="1.06" fill="#8a4a14" transform="rotate(190 474.9 266.1)"/>
<ellipse cx="472.2" cy="265.7" rx="1.65" ry="1.31" fill="#8a4a14" transform="rotate(205 472.2 265.7)"/>
<ellipse cx="470.2" cy="264.9" rx="1.65" ry="1.21" fill="#8a4a14" transform="rotate(220 470.2 264.9)"/>
<ellipse cx="467.3" cy="256.1" rx="1.77" ry="1.20" fill="#8a4a14" transform="rotate(290 467.3 256.1)"/>
<ellipse cx="468.4" cy="254.5" rx="1.78" ry="1.02" fill="#8a4a14" transform="rotate(305 468.4 254.5)"/>
<ellipse cx="466.6" cy="260.5" rx="1.28" ry="1.02" fill="#8a4a14" transform="rotate(255 466.6 260.5)"/>
<circle cx="476.00" cy="256.00" r="1.2" fill="#7e4210"/>
<circle cx="480.00" cy="256.50" r="1.2" fill="#7e4210"/>
<circle cx="486.00" cy="256.00" r="1.2" fill="#7e4210"/>
<circle cx="473.00" cy="268.00" r="1.2" fill="#7e4210"/>
<circle cx="479.00" cy="268.00" r="1.2" fill="#7e4210"/>
<ellipse cx="486.4" cy="279.8" rx="7.0" ry="4.8" fill="#86480f"/>
<ellipse cx="485.4" cy="279.0" rx="3.4" ry="2.0" fill="#c7bcb0"/>
<ellipse cx="487.8" cy="280.8" rx="1.4" ry="1.0" fill="#6a3a10"/>
<path d="M440 268 Q446 265 449 271 Q452 277 451 283 Q450 291 446 297 Q441 297 438 290 Q434 281 436 274 Z" fill="#e2e0d8" opacity="0.95"/>
<path d="M449 296 Q452 300 450 307 L446 307 Q446 300 449 296 Z" fill="#d6d6d8" opacity="0.8"/>
<path d="M470 268 L474 276 L472 290 L468 282 Z" fill="#c4c8d8" opacity="0.6"/>
<ellipse cx="468" cy="363" rx="15" ry="10" fill="#b7c1e2" opacity="0.55"/>
<ellipse cx="480.9" cy="355.2" rx="14.4" ry="12.9" fill="#c6cbe0"/>
<path d="M479.5 355.1h0M472.2 363.9h0M475.6 349.2h0M479.1 349.5h0M480.4 365.7h0M469.4 351.8h0M471.8 357.7h0M491.3 352.8h0M485.5 347.0h0M490.3 363.3h0M474.4 361.5h0M473.9 347.1h0M491.0 356.6h0M473.5 360.0h0M478.0 350.0h0M475.1 344.9h0M479.4 344.9h0M474.9 348.2h0M475.0 357.7h0M481.0 358.0h0M491.1 358.0h0M485.1 348.2h0M480.0 356.0h0M472.6 347.6h0M479.7 346.4h0M487.6 345.2h0M473.4 352.1h0M475.4 356.0h0M486.2 357.4h0M489.1 361.9h0M479.8 353.9h0M480.6 346.7h0M472.8 360.2h0M486.7 354.4h0M469.9 349.0h0M471.5 347.4h0M491.7 352.4h0M486.6 353.2h0M486.8 355.5h0M475.4 354.9h0M475.4 344.7h0M472.5 349.3h0M480.5 347.7h0M479.8 349.8h0M483.9 355.6h0M471.5 356.2h0M486.5 346.3h0M486.5 359.2h0M472.4 358.1h0M481.6 356.2h0M490.6 357.5h0M471.7 356.8h0M476.0 362.3h0M472.5 362.9h0M482.9 359.5h0M484.2 349.5h0M473.2 351.4h0M476.1 353.9h0M483.8 356.5h0M485.6 349.5h0M486.1 360.5h0M474.4 364.7h0M471.8 361.6h0M475.0 350.6h0M474.8 345.8h0M479.6 349.1h0M487.3 355.6h0M480.7 345.4h0M477.2 351.2h0M487.9 358.1h0M488.1 360.3h0M475.7 349.7h0M487.7 356.0h0M487.0 357.3h0M492.3 356.5h0M488.6 357.8h0M486.6 359.1h0M487.3 345.6h0M478.1 354.4h0M487.2 356.9h0M483.8 350.4h0M475.2 360.4h0M491.4 356.0h0M486.3 355.3h0M489.0 359.9h0M475.9 349.5h0M482.9 361.8h0M491.7 351.7h0M483.1 364.4h0M489.2 352.5h0M470.3 360.2h0M486.1 357.2h0M493.6 351.9h0M469.7 358.9h0M476.3 356.2h0M476.8 354.4h0M473.7 348.3h0M485.2 354.7h0M472.6 362.9h0M477.0 344.4h0M489.1 349.9h0M484.1 356.7h0M489.8 347.9h0M486.7 358.1h0M470.2 348.4h0M488.5 347.2h0M480.3 352.5h0M492.0 349.6h0M492.8 360.3h0M469.8 358.1h0" stroke="#7a88c4" stroke-width="1.2" stroke-linecap="round" fill="none" stroke-opacity="0.75"/>
<ellipse cx="467.1" cy="351.7" rx="1.45" ry="1.23" fill="#74390c" transform="rotate(285 467.1 351.7)"/>
<ellipse cx="468.5" cy="350.2" rx="1.42" ry="1.17" fill="#74390c" transform="rotate(295 468.5 350.2)"/>
<ellipse cx="469.5" cy="347.6" rx="1.62" ry="1.41" fill="#74390c" transform="rotate(305 469.5 347.6)"/>
<ellipse cx="472.5" cy="345.3" rx="2.19" ry="1.16" fill="#74390c" transform="rotate(322 472.5 345.3)"/>
<ellipse cx="476.1" cy="343.9" rx="1.49" ry="1.25" fill="#74390c" transform="rotate(340 476.1 343.9)"/>
<ellipse cx="478.9" cy="343.1" rx="1.48" ry="1.10" fill="#74390c" transform="rotate(352 478.9 343.1)"/>
<ellipse cx="481.7" cy="342.6" rx="1.84" ry="1.07" fill="#74390c" transform="rotate(365 481.7 342.6)"/>
<ellipse cx="487.8" cy="344.7" rx="2.05" ry="1.35" fill="#74390c" transform="rotate(390 487.8 344.7)"/>
<ellipse cx="490.8" cy="346.8" rx="1.41" ry="1.36" fill="#74390c" transform="rotate(408 490.8 346.8)"/>
<ellipse cx="492.9" cy="349.0" rx="1.97" ry="0.99" fill="#74390c" transform="rotate(422 492.9 349.0)"/>
<ellipse cx="494.1" cy="352.6" rx="1.46" ry="1.11" fill="#74390c" transform="rotate(440 494.1 352.6)"/>
<ellipse cx="493.9" cy="358.7" rx="1.76" ry="1.25" fill="#74390c" transform="rotate(105 493.9 358.7)"/>
<ellipse cx="492.0" cy="362.4" rx="1.62" ry="1.33" fill="#74390c" transform="rotate(125 492.0 362.4)"/>
<ellipse cx="487.8" cy="365.3" rx="2.15" ry="1.31" fill="#74390c" transform="rotate(148 487.8 365.3)"/>
<ellipse cx="484.0" cy="367.2" rx="1.94" ry="1.01" fill="#74390c" transform="rotate(168 484.0 367.2)"/>
<ellipse cx="478.6" cy="367.2" rx="2.00" ry="1.30" fill="#74390c" transform="rotate(190 478.6 367.2)"/>
<ellipse cx="474.6" cy="365.7" rx="1.58" ry="1.15" fill="#74390c" transform="rotate(208 474.6 365.7)"/>
<ellipse cx="470.9" cy="364.4" rx="1.54" ry="1.11" fill="#74390c" transform="rotate(225 470.9 364.4)"/>
<ellipse cx="468.8" cy="361.3" rx="1.41" ry="1.10" fill="#74390c" transform="rotate(240 468.8 361.3)"/>
<ellipse cx="467.1" cy="357.9" rx="1.57" ry="1.18" fill="#74390c" transform="rotate(255 467.1 357.9)"/>
<ellipse cx="467.3" cy="355.2" rx="1.77" ry="1.01" fill="#74390c" transform="rotate(268 467.3 355.2)"/>
<circle cx="475.50" cy="351.50" r="1.3" fill="#74390c"/>
<circle cx="476.00" cy="360.50" r="1.4" fill="#74390c"/>
<line x1="424.00" y1="394.50" x2="443.60" y2="394.50" stroke="#222" stroke-width="1.2"/>
<text x="433.80" y="392.80" font-size="6.3" text-anchor="middle" font-weight="bold" fill="#1a1a1a">120μm</text>
<circle cx="427.00" cy="307.30" r="1.3" fill="#d06070"/>
<rect x="14" y="437" width="114" height="84.4" fill="#9c7a4c" filter="url(#tx13)"/>
<rect x="14" y="525" width="114" height="85" fill="#a6864e" filter="url(#tx15)"/>
<rect x="358" y="437.6" width="113.6" height="84.8" fill="#a0804e" filter="url(#tx17)"/>
<rect x="358" y="526" width="113.6" height="84" fill="#9e7e4c" filter="url(#tx19)"/>
<g clip-path="url(#cp14)">
<path d="M62 460 L67 453 L72 450 L76 452 L80 447 L85 444 L89 439 L91 437" fill="none" stroke="#d8dbe6" stroke-width="1.3"/>
<path d="M66 456 L70 449 L75 447" fill="none" stroke="#d0d4e0" stroke-width="0.9"/>
<path d="M85 437 L100 437 L106 439 L99 440 L92 440 Z" fill="#e2e4ec"/>
<path d="M120 516 L128 510 L128 522 L118 522 Z" fill="#f4f4f4"/>
<path d="M110 490 L113 487 L115 492 L112 494 Z" fill="#e8e8ee"/>
</g>
<g clip-path="url(#cp14)">
<path d="M20.9 439.7h0M24.5 439.1h0M28.9 439.5h0M34.2 438.9h0M39.7 438.8h0M50.4 437.8h0M56.1 439.6h0M62.0 439.4h0M64.7 438.1h0M70.4 438.6h0M74.4 438.1h0M76.6 437.4h0M92.5 439.2h0M99.7 439.3h0M106.1 437.6h0M109.2 438.5h0M112.7 437.4h0M118.9 437.9h0M122.1 438.3h0M16.1 441.1h0M21.2 442.0h0M24.4 440.4h0M25.6 441.1h0M31.6 442.3h0M34.9 442.2h0M40.8 441.9h0M51.1 441.1h0M54.7 440.1h0M58.0 441.4h0M60.3 441.0h0M62.8 441.5h0M66.5 440.3h0M68.8 440.7h0M73.1 442.4h0M75.2 442.4h0M86.0 442.1h0M88.3 440.1h0M91.8 442.3h0M93.6 441.8h0M105.1 441.0h0M112.7 440.9h0M116.9 441.9h0M126.2 441.5h0M14.8 444.6h0M25.4 444.1h0M27.1 444.3h0M30.2 444.4h0M35.0 445.0h0M39.7 445.0h0M50.5 443.2h0M52.5 444.6h0M59.4 444.5h0M62.5 445.0h0M65.5 443.2h0M67.8 443.5h0M71.2 444.8h0M77.5 444.2h0M81.3 444.1h0M84.0 443.3h0M100.3 442.9h0M103.1 444.6h0M104.6 443.2h0M109.6 442.9h0M113.9 443.4h0M116.9 443.9h0M121.9 443.0h0M124.1 444.8h0M127.9 443.0h0M16.1 447.0h0M28.5 447.4h0M31.4 447.1h0M35.1 447.7h0M46.0 447.4h0M56.5 447.4h0M59.7 445.9h0M66.7 446.1h0M73.1 447.7h0M76.1 447.7h0M89.2 447.1h0M92.4 447.4h0M95.5 447.1h0M100.8 446.0h0M107.1 447.6h0M113.3 447.6h0M121.6 445.5h0M17.8 449.2h0M20.9 450.5h0M27.3 448.6h0M31.2 448.8h0M35.1 449.4h0M41.0 449.8h0M43.5 448.4h0M47.6 449.8h0M53.7 448.8h0M56.1 449.4h0M59.1 448.6h0M63.0 450.0h0M64.3 449.4h0M67.9 449.8h0M84.1 449.8h0M91.0 449.7h0M98.1 448.5h0M112.6 449.3h0M128.1 450.1h0M19.3 451.1h0M22.8 452.9h0M33.7 450.9h0M45.1 453.1h0M50.8 451.3h0M54.9 453.0h0M58.3 452.0h0M60.4 453.0h0M73.9 451.5h0M75.3 450.9h0M92.2 451.4h0M94.9 452.1h0M96.7 451.3h0M103.3 450.9h0M113.1 451.0h0M120.4 452.5h0M122.0 452.1h0M24.2 454.0h0M27.5 454.3h0M47.5 454.1h0M58.4 453.7h0M66.2 454.4h0M68.9 455.7h0M74.5 455.3h0M80.7 454.8h0M83.0 454.3h0M87.3 454.1h0M89.3 453.9h0M93.1 453.8h0M96.4 455.6h0M98.9 454.9h0M101.3 455.7h0M108.2 455.0h0M112.7 454.8h0M120.6 454.6h0M123.4 454.2h0M126.8 454.4h0M16.4 458.6h0M23.2 458.0h0M28.9 457.6h0M35.4 458.1h0M37.7 456.7h0M42.5 456.8h0M61.7 456.5h0M66.1 457.7h0M79.5 456.8h0M102.7 456.6h0M106.7 457.2h0M109.3 456.8h0M113.7 456.3h0M120.4 457.4h0M126.3 458.5h0M14.5 461.2h0M19.6 460.9h0M31.7 459.3h0M35.3 460.4h0M41.0 460.4h0M55.3 461.2h0M61.8 460.5h0M66.0 460.4h0M68.1 459.0h0M81.1 460.3h0M95.9 459.9h0M100.3 460.9h0M106.1 461.1h0M109.6 460.7h0M111.1 459.5h0M117.4 459.8h0M120.2 459.3h0M126.6 460.0h0M18.0 462.1h0M20.4 463.8h0M25.8 463.5h0M35.4 461.8h0M39.4 462.2h0M41.8 462.7h0M46.0 462.1h0M55.2 462.3h0M56.5 462.4h0M61.1 462.5h0M67.9 463.5h0M70.5 462.0h0M75.3 463.5h0M79.7 463.2h0M83.0 463.8h0M85.6 464.0h0M89.1 463.3h0M94.1 461.8h0M109.7 461.7h0M114.2 462.1h0M124.9 463.4h0M16.5 465.8h0M17.6 465.6h0M25.5 466.1h0M28.2 465.8h0M31.3 466.6h0M36.6 466.3h0M39.7 466.5h0M42.6 466.7h0M46.1 464.7h0M60.0 465.3h0M67.2 465.5h0M77.5 464.3h0M80.1 465.7h0M84.5 465.4h0M87.1 466.1h0M91.9 464.7h0M100.4 464.4h0M122.0 466.4h0M123.8 464.8h0M16.3 469.2h0M21.2 468.5h0M23.6 467.8h0M26.4 467.9h0M30.5 467.4h0M35.1 467.4h0M38.9 467.4h0M50.2 467.4h0M53.7 469.2h0M57.8 468.4h0M59.8 468.5h0M62.6 467.9h0M67.8 467.1h0M72.0 468.4h0M75.6 467.8h0M101.4 469.0h0M104.0 468.5h0M113.6 467.6h0M115.2 468.6h0M121.5 469.3h0M19.8 471.2h0M20.7 471.9h0M30.0 470.9h0M38.4 472.0h0M39.3 470.3h0M44.2 470.9h0M53.0 470.1h0M61.6 471.2h0M68.0 471.8h0M86.3 470.2h0M92.9 471.6h0M99.0 470.9h0M113.6 471.9h0M117.5 471.2h0M121.8 471.9h0M124.4 470.8h0M126.7 470.0h0M17.2 473.2h0M19.4 473.9h0M23.7 472.9h0M27.2 474.8h0M36.8 473.9h0M37.7 472.5h0M42.1 473.4h0M63.8 473.7h0M66.9 473.0h0M68.8 472.9h0M73.1 472.5h0M75.0 474.0h0M82.3 473.3h0M89.5 473.4h0M96.6 473.8h0M101.8 472.8h0M110.1 472.8h0M113.7 473.1h0M116.9 474.6h0M119.4 472.9h0M125.4 473.0h0M16.1 476.3h0M17.5 475.9h0M27.1 476.4h0M43.1 475.9h0M48.8 476.7h0M55.3 475.8h0M58.9 475.4h0M74.7 477.2h0M87.4 477.3h0M89.3 475.3h0M100.3 477.2h0M106.4 475.6h0M111.0 477.4h0M113.6 476.0h0M16.7 479.8h0M19.9 477.9h0M25.8 480.1h0M30.4 479.4h0M31.6 480.1h0M35.5 478.5h0M39.0 478.7h0M41.4 479.2h0M46.1 478.1h0M47.9 479.3h0M56.2 478.3h0M59.5 479.2h0M76.0 479.4h0M78.5 479.9h0M87.4 479.4h0M91.5 480.1h0M94.3 479.8h0M100.0 478.2h0M103.8 478.2h0M110.6 479.6h0M117.1 479.7h0M122.3 479.8h0M15.5 481.3h0M18.1 482.3h0M29.1 481.7h0M31.1 482.0h0M35.0 481.8h0M45.5 480.8h0M49.8 482.1h0M53.3 481.5h0M55.6 480.6h0M73.7 482.4h0M76.5 480.9h0M80.9 482.4h0M84.3 482.5h0M106.6 481.0h0M109.0 480.9h0M110.9 482.5h0M114.5 482.4h0M118.1 481.9h0M122.1 480.9h0M16.4 485.0h0M20.4 484.3h0M22.3 483.9h0M28.8 483.4h0M41.4 485.3h0M48.7 485.4h0M52.2 484.2h0M55.3 484.8h0M61.5 483.8h0M64.8 483.4h0M66.6 483.3h0M70.8 485.1h0M72.5 484.4h0M79.0 484.3h0M82.2 483.7h0M85.8 484.4h0M88.9 484.3h0M98.6 484.9h0M100.9 485.3h0M103.3 484.0h0M109.2 485.0h0M113.2 485.0h0M117.2 484.7h0M119.3 484.2h0M31.9 487.2h0M34.0 487.3h0M36.7 487.9h0M39.6 487.7h0M43.9 487.8h0M46.9 486.3h0M53.4 486.5h0M58.3 487.7h0M71.9 486.2h0M76.9 488.0h0M81.6 486.0h0M87.4 487.0h0M89.3 488.2h0M93.1 486.0h0M95.9 487.5h0M100.3 486.4h0M108.0 487.3h0M110.9 487.6h0M115.9 487.5h0M123.4 487.2h0M17.3 490.2h0M22.3 490.9h0M29.5 490.5h0M36.0 489.2h0M70.1 490.7h0M82.0 489.4h0M84.2 490.1h0M87.8 489.2h0M91.8 490.6h0M93.5 489.5h0M105.1 489.7h0M112.9 489.6h0M123.3 489.0h0M14.4 492.1h0M19.7 493.1h0M30.9 492.2h0M33.8 492.4h0M36.4 493.2h0M43.0 493.4h0M45.6 493.4h0M50.5 491.5h0M53.3 491.8h0M55.0 491.6h0M57.9 492.9h0M61.3 491.6h0M84.3 493.2h0M90.5 493.0h0M96.0 493.0h0M105.6 492.5h0M108.3 493.2h0M111.0 492.1h0M123.1 491.6h0M127.5 492.9h0M16.0 494.7h0M25.5 494.9h0M30.1 495.9h0M35.9 494.4h0M39.1 494.2h0M50.6 495.2h0M53.1 494.6h0M60.4 494.7h0M64.3 495.5h0M65.7 495.5h0M70.3 494.4h0M71.9 495.5h0M75.5 495.8h0M94.1 494.8h0M101.5 495.0h0M103.4 494.3h0M107.7 495.3h0M113.0 494.8h0M123.5 494.5h0M125.4 494.4h0M18.2 497.3h0M21.1 498.9h0M25.1 497.6h0M28.7 498.5h0M31.7 496.8h0M35.2 499.0h0M36.5 498.6h0M39.9 497.2h0M52.8 498.4h0M55.1 497.1h0M59.5 497.5h0M66.2 498.0h0M68.2 497.4h0M73.5 497.2h0M78.7 497.2h0M81.2 497.2h0M84.8 497.4h0M86.2 497.5h0M90.7 498.8h0M92.8 496.9h0M100.3 498.0h0M103.5 497.4h0M108.6 499.0h0M112.3 496.7h0M117.0 498.0h0M119.9 497.8h0M127.3 497.1h0M19.4 501.5h0M22.3 500.6h0M36.7 500.7h0M41.2 501.1h0M45.9 500.6h0M47.4 500.4h0M50.9 501.3h0M58.5 499.8h0M60.1 500.9h0M62.9 501.3h0M67.0 500.0h0M72.8 500.5h0M79.5 500.3h0M82.7 501.5h0M84.6 499.6h0M89.5 500.1h0M91.0 499.5h0M97.8 501.6h0M110.3 499.5h0M114.4 501.2h0M116.9 501.2h0M120.2 501.3h0M121.4 500.7h0M16.2 503.0h0M21.5 503.8h0M28.3 502.6h0M32.0 503.9h0M33.6 504.0h0M39.5 502.7h0M44.1 503.9h0M47.1 502.3h0M52.7 502.4h0M55.3 503.6h0M72.2 502.3h0M90.9 504.0h0M92.3 503.7h0M102.1 503.5h0M106.3 504.4h0M111.1 504.3h0M20.0 506.4h0M24.1 505.7h0M28.4 506.5h0M36.4 506.1h0M42.4 506.2h0M44.1 507.0h0M48.9 504.8h0M50.2 505.7h0M54.7 506.4h0M58.1 506.1h0M59.4 506.8h0M63.2 504.9h0M70.8 505.7h0M79.5 506.7h0M88.3 506.0h0M91.1 507.1h0M100.3 506.0h0M104.9 506.5h0M107.9 505.2h0M109.6 505.2h0M114.0 505.0h0M118.9 506.9h0M14.7 509.0h0M21.7 509.7h0M25.1 509.3h0M34.7 508.0h0M41.0 508.9h0M44.6 509.7h0M46.9 508.4h0M59.2 508.7h0M75.4 509.5h0M84.3 508.0h0M93.3 508.7h0M97.2 509.2h0M98.3 508.4h0M105.5 508.3h0M110.8 508.6h0M121.6 509.6h0M124.4 509.0h0M24.4 511.1h0M33.6 511.1h0M42.9 510.8h0M46.0 512.4h0M50.9 511.8h0M54.3 510.6h0M59.5 511.8h0M67.7 512.2h0M72.0 510.9h0M78.0 512.4h0M82.7 512.0h0M84.7 510.8h0M91.4 510.7h0M94.1 512.0h0M101.1 512.2h0M107.6 510.3h0M119.4 511.9h0M122.7 511.9h0M125.9 510.6h0M16.7 513.8h0M18.1 513.2h0M27.4 513.1h0M31.5 513.0h0M34.7 514.1h0M37.6 515.2h0M39.9 515.1h0M42.8 513.6h0M49.7 514.5h0M53.7 514.5h0M55.9 512.9h0M58.4 514.2h0M69.3 515.1h0M71.4 514.5h0M77.7 514.7h0M81.5 514.3h0M86.4 514.7h0M91.0 514.9h0M95.7 514.4h0M102.4 514.1h0M104.7 513.9h0M107.8 514.4h0M118.2 514.9h0M120.1 513.7h0M124.7 514.2h0M22.1 516.5h0M25.5 515.8h0M28.6 515.7h0M38.9 515.7h0M53.8 516.3h0M56.4 517.6h0M80.2 516.4h0M85.9 516.1h0M87.9 516.6h0M91.1 516.5h0M98.3 517.1h0M100.0 515.8h0M116.0 517.2h0M119.2 517.0h0M123.5 517.7h0M16.1 518.6h0M18.7 519.5h0M20.6 520.0h0M23.9 518.9h0M28.0 519.4h0M31.2 519.4h0M34.4 519.8h0M36.2 518.9h0M42.6 520.0h0M47.5 518.5h0M51.7 519.0h0M55.6 519.3h0M59.2 519.3h0M78.2 520.3h0M80.8 519.0h0M82.7 518.3h0M92.4 519.2h0M96.8 519.5h0M107.7 519.8h0M115.5 519.3h0M118.9 519.7h0M120.2 519.9h0M124.5 519.2h0M126.4 519.2h0" stroke="#3f2a18" stroke-width="1.5" stroke-linecap="round" fill="none" stroke-opacity="0.8"/>
<path d="M14.6 439.5h0M19.3 439.1h0M31.4 439.7h0M42.9 439.0h0M52.9 438.4h0M58.0 438.7h0M68.0 438.0h0M86.7 437.9h0M89.2 439.6h0M95.0 438.3h0M102.3 439.1h0M114.4 439.7h0M126.9 438.4h0M30.0 441.6h0M45.9 441.8h0M48.7 441.2h0M78.7 441.4h0M83.2 442.3h0M96.9 441.3h0M108.0 441.5h0M110.5 441.3h0M119.3 440.2h0M123.3 442.2h0M19.7 442.9h0M36.5 444.3h0M43.3 444.7h0M55.5 443.2h0M73.9 443.2h0M87.2 443.3h0M90.1 444.0h0M96.6 443.1h0M20.8 445.8h0M22.2 446.6h0M38.1 446.0h0M42.8 447.8h0M47.8 447.0h0M51.6 447.0h0M54.5 447.3h0M62.7 446.1h0M68.8 446.1h0M78.3 446.3h0M82.2 446.3h0M84.3 446.0h0M104.4 445.9h0M110.9 447.1h0M118.6 447.2h0M124.5 447.8h0M15.7 448.7h0M24.0 448.8h0M50.4 449.3h0M73.7 449.2h0M77.1 450.3h0M81.4 450.3h0M85.9 448.7h0M96.6 448.3h0M101.3 448.4h0M106.1 448.2h0M109.3 450.1h0M115.8 449.1h0M118.7 448.5h0M120.1 450.0h0M123.0 448.7h0M17.2 453.0h0M27.3 452.3h0M30.6 451.3h0M36.5 451.7h0M39.2 451.4h0M41.4 452.8h0M63.9 451.0h0M70.3 451.9h0M78.8 452.0h0M85.7 453.0h0M101.6 452.6h0M107.6 451.4h0M110.3 450.9h0M116.3 450.9h0M125.1 452.9h0M15.7 454.1h0M31.6 453.7h0M52.7 455.4h0M55.4 454.7h0M62.3 454.2h0M71.2 455.6h0M78.7 453.7h0M106.3 455.1h0M118.2 454.0h0M19.2 457.3h0M45.3 457.0h0M48.5 456.4h0M51.3 458.4h0M54.2 457.8h0M56.6 457.5h0M63.6 456.4h0M70.7 457.7h0M81.2 458.2h0M85.0 456.8h0M87.4 457.2h0M92.3 456.4h0M95.5 458.6h0M122.0 457.5h0M21.3 459.8h0M28.4 459.2h0M43.8 460.3h0M57.8 460.6h0M73.7 459.4h0M77.2 461.2h0M84.2 460.2h0M90.2 460.0h0M93.4 459.6h0M115.7 461.1h0M124.0 459.4h0M23.9 462.3h0M29.2 462.5h0M33.3 461.7h0M47.0 463.9h0M50.2 462.5h0M63.3 462.6h0M72.8 462.3h0M91.6 462.6h0M97.2 462.6h0M101.3 463.8h0M107.9 463.4h0M118.8 463.7h0M121.5 462.7h0M22.9 466.5h0M49.9 465.5h0M51.8 465.7h0M56.0 464.7h0M96.0 464.8h0M102.3 465.2h0M108.1 464.8h0M112.6 465.9h0M114.0 465.6h0M116.8 465.4h0M128.1 465.1h0M33.0 467.7h0M40.8 468.0h0M44.9 467.0h0M47.9 468.9h0M79.1 469.3h0M84.6 467.1h0M89.0 468.7h0M92.2 469.3h0M97.6 467.7h0M107.3 468.6h0M118.4 469.1h0M126.2 468.0h0M15.0 471.8h0M24.8 471.5h0M27.6 471.7h0M45.6 471.2h0M50.8 472.0h0M58.8 471.1h0M66.1 470.4h0M70.7 470.1h0M75.1 471.1h0M77.5 471.6h0M80.4 471.6h0M84.1 470.1h0M95.1 470.9h0M102.7 471.7h0M106.3 471.4h0M107.5 469.8h0M110.8 469.9h0M31.9 473.6h0M44.4 473.1h0M51.2 474.5h0M55.0 474.0h0M59.7 473.6h0M93.5 474.8h0M104.6 472.7h0M107.5 474.0h0M122.8 473.4h0M22.5 477.1h0M31.3 477.3h0M33.9 477.2h0M38.2 475.8h0M39.2 477.4h0M46.3 477.0h0M61.1 476.9h0M64.5 476.6h0M68.6 476.5h0M72.4 475.8h0M77.5 475.4h0M81.2 476.8h0M84.1 476.4h0M93.9 477.1h0M96.6 476.7h0M102.6 475.5h0M107.5 475.3h0M116.8 475.7h0M120.5 476.1h0M123.4 476.9h0M128.1 477.2h0M51.0 480.1h0M63.7 479.4h0M73.8 478.3h0M82.0 479.3h0M86.4 478.1h0M98.7 478.4h0M106.1 478.3h0M113.5 479.8h0M120.4 479.3h0M125.0 480.1h0M36.6 480.6h0M41.1 482.5h0M42.3 480.6h0M58.6 482.4h0M61.6 480.5h0M67.7 481.6h0M71.6 482.2h0M87.1 481.3h0M90.4 482.9h0M92.6 480.9h0M99.2 482.2h0M127.6 481.0h0M25.6 483.7h0M31.8 483.5h0M34.7 485.5h0M38.7 483.7h0M46.1 483.9h0M56.6 485.5h0M77.0 484.2h0M90.4 484.9h0M94.4 484.8h0M106.5 484.4h0M123.5 484.1h0M14.8 487.4h0M18.7 487.8h0M20.7 488.2h0M25.6 487.4h0M27.6 487.1h0M49.7 487.0h0M56.6 487.4h0M62.7 486.2h0M65.2 488.1h0M67.8 488.2h0M75.0 486.4h0M105.2 487.7h0M116.8 487.6h0M127.7 487.3h0M20.6 489.4h0M26.8 490.1h0M39.4 490.0h0M42.1 490.2h0M44.5 488.9h0M47.3 489.9h0M51.7 489.3h0M53.4 489.9h0M58.4 490.1h0M62.7 490.5h0M66.7 489.2h0M72.1 489.2h0M75.6 489.9h0M78.4 490.6h0M107.2 490.1h0M109.1 489.2h0M116.1 489.1h0M124.6 490.1h0M24.1 492.0h0M27.8 491.8h0M40.0 491.7h0M65.9 492.7h0M71.8 492.1h0M73.9 492.7h0M78.5 492.7h0M81.5 491.6h0M87.2 492.1h0M94.2 492.7h0M100.1 493.4h0M102.9 492.8h0M118.2 493.4h0M120.4 492.0h0M21.3 494.3h0M24.5 494.9h0M31.6 495.3h0M42.2 494.9h0M45.5 495.0h0M48.6 494.3h0M78.3 494.1h0M91.5 496.3h0M98.0 496.0h0M116.0 496.3h0M16.1 497.2h0M47.4 498.8h0M62.4 498.6h0M70.9 498.0h0M96.9 497.3h0M106.2 498.9h0M114.3 497.3h0M17.9 501.5h0M26.8 499.9h0M29.8 499.9h0M33.5 500.2h0M69.6 499.6h0M95.0 500.9h0M125.2 499.9h0M18.0 502.8h0M25.1 503.0h0M36.3 504.1h0M50.1 502.3h0M58.1 503.3h0M62.4 503.3h0M65.2 503.0h0M67.9 503.0h0M75.1 503.3h0M77.5 502.8h0M80.6 502.7h0M83.2 502.9h0M87.5 502.6h0M96.6 502.4h0M98.2 503.1h0M109.0 503.7h0M115.0 502.4h0M118.0 503.8h0M120.6 503.2h0M128.3 503.5h0M16.0 506.2h0M25.6 505.8h0M31.8 506.4h0M38.8 505.6h0M66.2 505.0h0M73.9 505.6h0M74.9 507.1h0M81.6 505.7h0M85.9 507.0h0M94.0 504.9h0M98.6 506.6h0M115.4 505.6h0M125.3 504.8h0M18.2 508.6h0M27.0 508.0h0M36.7 507.9h0M49.9 509.1h0M53.1 508.9h0M57.0 508.6h0M65.0 509.3h0M68.8 508.2h0M76.7 509.2h0M87.3 508.4h0M89.6 509.6h0M101.3 508.7h0M118.8 508.4h0M126.6 507.8h0M17.6 511.4h0M20.9 511.0h0M26.3 510.6h0M28.8 512.5h0M39.7 511.9h0M48.5 512.2h0M56.3 512.0h0M64.6 511.7h0M70.5 512.2h0M76.0 510.5h0M89.4 511.9h0M96.9 511.8h0M109.0 510.7h0M114.3 512.1h0M116.4 511.5h0M46.1 514.1h0M61.1 513.4h0M65.8 513.3h0M74.0 514.2h0M83.9 515.1h0M99.1 513.5h0M112.2 514.3h0M113.8 515.0h0M127.8 514.7h0M16.9 516.2h0M33.0 517.3h0M34.6 517.6h0M40.8 516.5h0M44.2 516.9h0M52.0 516.7h0M64.2 517.1h0M69.8 517.3h0M75.9 517.3h0M81.3 516.6h0M94.7 517.1h0M108.0 517.7h0M109.5 517.5h0M113.9 516.3h0M124.8 516.7h0M48.9 519.5h0M61.4 519.6h0M65.5 518.4h0M69.0 519.4h0M70.7 518.3h0M74.5 519.6h0M87.3 518.9h0M90.8 520.4h0M99.1 520.1h0M105.1 519.6h0" stroke="#5a3e22" stroke-width="1.3" stroke-linecap="round" fill="none" stroke-opacity="0.7"/>
</g>
<ellipse cx="70.1" cy="484.1" rx="17" ry="12.7" fill="#d7cab0"/>
<path d="M69.2 472.6h0M73.9 472.5h0M75.3 473.1h0M60.7 474.4h0M64.5 473.7h0M69.6 474.6h0M72.1 473.5h0M74.6 475.2h0M77.8 474.3h0M59.7 476.0h0M61.7 476.1h0M64.3 476.3h0M66.2 477.0h0M68.2 476.7h0M70.2 475.8h0M74.1 475.8h0M75.1 477.1h0M78.3 476.8h0M80.6 476.2h0M57.2 478.8h0M61.1 479.1h0M63.2 478.4h0M64.9 478.0h0M69.9 479.0h0M72.4 479.2h0M74.5 478.1h0M77.3 477.7h0M82.1 479.2h0M54.8 480.6h0M56.7 480.1h0M59.6 481.3h0M63.4 480.9h0M67.1 480.8h0M67.9 481.4h0M72.7 481.4h0M75.6 480.3h0M78.9 480.0h0M80.3 479.9h0M83.0 481.3h0M56.2 483.1h0M58.3 482.9h0M60.2 482.1h0M62.0 482.8h0M65.6 481.9h0M66.8 482.2h0M70.5 482.0h0M72.1 482.1h0M75.2 482.1h0M76.5 482.6h0M80.1 482.3h0M81.3 482.5h0M83.3 482.2h0M54.0 484.2h0M56.1 484.3h0M60.9 485.0h0M63.2 484.6h0M66.2 485.6h0M67.9 484.1h0M71.3 484.1h0M76.4 484.0h0M78.4 485.1h0M80.9 484.1h0M83.5 483.9h0M84.7 485.1h0M55.6 486.2h0M56.9 486.9h0M60.6 486.6h0M63.1 487.5h0M64.9 486.1h0M67.4 486.1h0M69.2 486.8h0M71.7 487.4h0M74.4 487.4h0M77.5 486.6h0M79.4 486.7h0M81.9 487.0h0M84.0 486.8h0M56.9 488.1h0M58.5 489.0h0M60.9 489.2h0M63.2 489.1h0M65.6 488.0h0M67.7 489.1h0M71.7 489.7h0M72.7 489.6h0M77.4 488.3h0M81.3 489.7h0M82.9 488.8h0M58.6 491.9h0M60.9 491.9h0M63.0 490.6h0M65.1 490.9h0M70.4 490.1h0M72.5 490.9h0M74.3 491.6h0M77.7 491.3h0M80.2 490.1h0M82.1 490.5h0M60.9 492.7h0M63.8 493.2h0M66.7 493.2h0M69.1 493.1h0M71.6 493.8h0M75.6 492.6h0M78.8 493.9h0M67.5 494.7h0M69.2 495.8h0M72.5 494.6h0M74.0 495.6h0M76.2 494.7h0" stroke="#4a3624" stroke-width="1.35" stroke-linecap="round" fill="none" stroke-opacity="0.8"/>
<ellipse cx="70.1" cy="484.1" rx="17" ry="12.7" fill="none" stroke="#e04848" stroke-width="0.8"/>
<ellipse cx="59.4" cy="451.1" rx="5" ry="3.7" fill="#c0aa84" stroke="#e04848" stroke-width="0.8"/>
<circle cx="58.50" cy="450.50" r="0.8" fill="#5a4630"/>
<circle cx="60.50" cy="452.00" r="0.8" fill="#5a4630"/>
<line x1="16.00" y1="519.50" x2="22.00" y2="519.50" stroke="#d04040" stroke-width="1"/>
<g clip-path="url(#cp16)">
<path d="M30 561 C36 557 42 565 49 566 C56 566 60 559 66 560 C72 561 76 565 85 564 L91 564 L93 569 L88 572 L85 578 L83 586 L81 585 L81 577 L78 570 C71 568 66 565 62 565 C56 566 52 572 45 571 C40 570 34 566 30 564 Z" fill="#dcd8d2"/>
<path d="M33 561 C40 563 45 568 50 568 C56 567 60 562 66 562 C72 563 76 566 84 566" fill="none" stroke="#5a3a22" stroke-width="0.9"/>
<path d="M34 563 C40 566 45 570 50 570 C57 569 61 564 66 564 C72 565 77 568 83 568" fill="none" stroke="#8a6a50" stroke-width="0.7"/>
<path d="M84 566 L90 566 L92 570 L86 571 Z" fill="#ecebee"/>
<path d="M108 596 C112 598 116 601 116 606 L110 607 L108 601 Z" fill="#c9cbd8"/>
<path d="M80 584 L84 590" stroke="#b8bccc" stroke-width="1.2"/>
</g>
<g clip-path="url(#cp16)">
<path d="M27.1 526.3h0M36.6 525.9h0M39.7 527.8h0M43.1 526.4h0M47.5 527.8h0M53.1 526.8h0M59.3 526.9h0M77.9 527.7h0M79.7 527.6h0M83.4 526.0h0M88.1 526.0h0M91.5 526.2h0M94.0 526.5h0M100.5 526.1h0M102.8 525.8h0M106.6 525.8h0M110.6 527.8h0M114.8 526.2h0M117.3 526.3h0M125.5 526.0h0M31.3 529.0h0M35.5 528.5h0M39.1 529.5h0M48.0 529.2h0M56.0 529.6h0M69.1 530.0h0M71.2 529.5h0M78.4 529.5h0M81.3 530.6h0M97.8 530.0h0M110.1 528.4h0M120.1 528.5h0M16.3 532.4h0M19.5 533.5h0M21.6 531.8h0M24.8 531.7h0M35.4 533.5h0M40.7 533.2h0M49.4 532.5h0M58.7 533.4h0M69.4 532.9h0M73.9 532.6h0M83.1 533.3h0M86.7 533.8h0M94.3 532.0h0M96.9 532.1h0M101.1 532.3h0M104.1 532.1h0M108.6 531.6h0M110.9 532.7h0M114.9 531.4h0M118.3 532.5h0M124.5 533.0h0M16.7 535.2h0M27.2 534.4h0M36.8 535.9h0M52.0 536.5h0M55.9 534.3h0M65.8 534.5h0M70.6 536.4h0M79.6 535.3h0M91.0 534.5h0M104.7 536.7h0M109.9 534.8h0M117.2 535.8h0M120.4 536.8h0M123.8 536.1h0M127.0 536.8h0M23.0 538.8h0M28.7 538.7h0M36.8 539.0h0M39.3 538.5h0M45.2 538.6h0M53.4 537.6h0M57.3 539.2h0M65.8 539.8h0M72.2 539.2h0M76.5 539.1h0M80.2 539.8h0M83.8 538.6h0M93.7 539.5h0M96.1 538.5h0M107.6 537.9h0M111.2 537.2h0M121.2 537.9h0M125.2 538.8h0M19.8 540.8h0M28.2 540.2h0M31.9 542.1h0M35.0 541.8h0M38.7 541.6h0M40.5 542.0h0M55.4 542.0h0M62.2 542.6h0M68.7 541.9h0M74.4 541.4h0M85.7 542.7h0M89.5 540.3h0M100.2 542.4h0M107.0 541.0h0M123.0 540.4h0M127.5 540.3h0M17.0 543.3h0M31.6 544.9h0M37.3 544.3h0M42.6 545.5h0M46.1 544.5h0M50.7 545.0h0M59.0 543.6h0M73.3 543.2h0M83.8 543.2h0M87.9 544.4h0M90.6 543.7h0M94.0 543.4h0M99.7 544.3h0M111.0 544.1h0M125.3 545.7h0M24.6 546.3h0M27.3 547.5h0M31.5 547.4h0M36.9 548.5h0M40.9 547.4h0M43.9 546.1h0M49.1 546.3h0M50.1 546.3h0M59.5 548.7h0M66.2 547.1h0M71.2 548.0h0M74.6 547.8h0M79.7 548.6h0M93.3 546.7h0M94.4 548.4h0M98.3 547.9h0M105.3 548.2h0M118.4 548.3h0M121.6 547.1h0M125.7 547.0h0M19.7 551.1h0M23.7 549.1h0M28.2 551.3h0M31.9 551.6h0M35.9 551.6h0M38.4 551.6h0M43.0 550.4h0M45.4 551.3h0M53.6 549.1h0M63.7 551.1h0M67.8 550.0h0M73.8 551.5h0M75.8 551.7h0M79.1 550.5h0M87.9 550.6h0M94.0 549.2h0M98.5 549.3h0M107.4 551.3h0M110.7 549.7h0M116.4 551.3h0M121.4 550.4h0M123.3 549.8h0M21.9 552.4h0M33.2 552.2h0M38.7 552.5h0M41.2 553.9h0M44.5 552.8h0M47.9 553.7h0M55.5 553.4h0M58.3 554.0h0M60.6 553.8h0M66.0 554.1h0M68.2 553.8h0M71.2 552.3h0M76.3 553.8h0M77.8 553.2h0M82.1 554.6h0M88.5 552.6h0M92.8 553.1h0M99.4 552.6h0M102.0 554.0h0M111.4 554.0h0M114.8 553.8h0M120.1 554.5h0M122.1 552.7h0M19.6 556.6h0M26.2 556.2h0M30.1 557.5h0M40.4 555.6h0M44.0 556.9h0M46.1 557.5h0M56.7 556.1h0M62.7 557.0h0M74.5 557.5h0M77.7 556.3h0M81.5 556.6h0M84.2 556.3h0M100.6 557.3h0M103.5 557.4h0M108.4 556.6h0M120.5 556.1h0M125.4 556.9h0M127.3 556.2h0M19.5 558.4h0M24.4 559.0h0M35.6 560.5h0M41.4 559.0h0M48.5 559.5h0M53.8 559.9h0M60.9 560.1h0M67.2 560.3h0M72.5 559.7h0M79.6 558.8h0M81.2 558.7h0M85.8 558.4h0M87.9 559.2h0M96.8 560.1h0M98.3 560.2h0M105.9 558.1h0M108.3 558.1h0M113.4 560.3h0M119.7 558.1h0M123.8 559.1h0M126.7 558.4h0M26.1 562.2h0M28.0 563.0h0M38.4 561.5h0M45.7 562.4h0M50.7 563.2h0M54.0 563.3h0M70.2 562.5h0M73.7 562.2h0M79.3 562.1h0M84.3 562.6h0M91.3 561.4h0M95.1 563.2h0M97.1 561.0h0M101.6 561.5h0M105.3 562.4h0M111.5 563.1h0M113.0 563.1h0M127.4 562.5h0M21.6 564.7h0M23.6 565.6h0M34.6 565.3h0M38.6 565.8h0M40.4 564.1h0M45.1 564.2h0M55.4 564.2h0M58.0 564.2h0M61.0 565.1h0M66.0 564.9h0M68.9 564.0h0M72.7 565.8h0M82.5 564.1h0M91.8 564.1h0M96.9 563.9h0M109.3 565.0h0M119.4 564.8h0M127.2 566.4h0M16.8 568.9h0M18.2 568.4h0M23.6 569.2h0M24.8 567.5h0M28.5 567.2h0M33.8 566.8h0M35.7 568.0h0M38.8 568.1h0M44.1 568.7h0M49.5 569.2h0M53.4 568.5h0M64.5 569.4h0M66.2 569.3h0M71.3 569.0h0M79.3 567.1h0M84.8 569.1h0M90.2 568.0h0M93.2 567.1h0M106.7 566.8h0M110.9 569.0h0M114.0 567.4h0M116.6 569.4h0M121.5 567.2h0M124.2 567.3h0M24.3 570.7h0M34.0 571.7h0M37.4 570.4h0M41.2 571.6h0M45.4 571.9h0M50.5 571.5h0M86.1 572.1h0M88.7 572.1h0M93.5 570.5h0M100.2 571.4h0M105.3 571.5h0M109.9 572.2h0M112.4 571.8h0M115.2 570.6h0M119.4 572.3h0M122.4 571.1h0M18.1 574.1h0M23.5 573.6h0M38.6 574.3h0M45.1 574.0h0M49.7 573.8h0M56.5 573.3h0M63.8 573.6h0M67.0 573.6h0M73.7 575.2h0M89.6 573.0h0M94.8 575.2h0M101.0 574.9h0M105.1 573.4h0M106.8 573.3h0M109.9 574.7h0M114.8 575.1h0M128.5 575.1h0M16.5 578.2h0M21.2 578.0h0M24.6 576.4h0M26.4 577.6h0M30.8 578.0h0M42.3 578.1h0M48.7 577.0h0M50.7 576.3h0M55.5 576.5h0M56.9 578.1h0M65.2 578.2h0M67.4 576.4h0M78.5 576.3h0M80.8 576.1h0M98.0 577.7h0M105.2 577.3h0M111.8 577.1h0M119.8 577.9h0M122.9 577.7h0M125.3 576.3h0M15.1 580.2h0M19.4 579.0h0M21.5 579.3h0M32.1 579.8h0M36.7 579.6h0M40.6 580.1h0M41.8 578.8h0M52.7 579.2h0M55.4 580.4h0M63.0 579.1h0M87.0 580.5h0M94.0 580.9h0M97.1 579.7h0M101.4 580.5h0M103.1 578.7h0M107.8 579.8h0M111.1 581.1h0M113.0 579.6h0M118.8 579.6h0M124.0 580.0h0M17.9 583.6h0M20.8 583.9h0M23.8 583.2h0M26.8 584.0h0M30.5 582.0h0M35.3 583.7h0M37.0 582.6h0M42.0 584.1h0M44.0 583.2h0M49.1 583.1h0M61.3 584.0h0M69.6 583.9h0M72.4 584.1h0M75.6 581.8h0M84.7 583.6h0M95.1 583.2h0M99.2 583.4h0M102.5 583.6h0M108.6 583.6h0M19.9 584.8h0M22.7 586.1h0M32.6 586.1h0M57.3 586.6h0M62.4 586.5h0M70.2 584.9h0M78.0 585.6h0M79.8 586.2h0M82.4 586.1h0M86.8 587.1h0M97.8 585.5h0M101.4 586.8h0M108.8 584.6h0M113.9 585.4h0M118.2 584.9h0M121.5 586.3h0M123.5 587.1h0M127.5 587.0h0M23.7 588.8h0M32.2 587.7h0M35.2 589.4h0M40.8 588.5h0M43.4 587.6h0M48.8 588.7h0M62.1 589.8h0M63.9 589.9h0M82.2 588.1h0M97.9 587.7h0M123.2 589.5h0M14.7 592.3h0M26.1 593.0h0M28.9 592.3h0M34.9 591.8h0M39.5 592.7h0M50.8 591.8h0M52.9 590.8h0M63.2 591.4h0M67.3 592.6h0M73.3 592.8h0M80.7 592.5h0M89.3 592.1h0M102.0 591.0h0M104.2 592.0h0M111.4 592.0h0M124.9 592.6h0M127.3 590.8h0M34.7 595.3h0M37.0 594.4h0M42.3 594.9h0M45.8 593.6h0M50.4 595.5h0M54.2 593.5h0M59.2 594.9h0M62.8 593.7h0M71.1 594.1h0M79.0 595.5h0M82.0 594.9h0M96.3 595.6h0M97.8 594.2h0M102.0 595.9h0M108.9 594.6h0M111.9 595.9h0M116.8 593.9h0M119.5 594.6h0M122.8 594.2h0M126.7 595.5h0M19.5 598.9h0M23.4 596.8h0M24.8 598.7h0M38.8 598.9h0M46.7 597.2h0M53.2 597.6h0M57.4 597.8h0M58.7 596.4h0M64.6 598.4h0M74.7 596.5h0M82.8 597.4h0M88.2 596.4h0M90.5 596.4h0M93.2 598.4h0M106.6 596.4h0M113.3 597.6h0M116.6 597.9h0M121.7 597.6h0M127.7 598.1h0M18.6 599.9h0M19.5 599.5h0M24.4 600.4h0M30.2 600.5h0M47.5 600.1h0M52.1 601.3h0M59.2 601.9h0M66.1 601.6h0M69.1 600.9h0M70.8 601.8h0M74.6 599.7h0M96.4 601.9h0M100.1 601.9h0M103.4 600.5h0M112.6 600.9h0M116.8 600.6h0M120.6 601.7h0M15.0 603.2h0M18.7 603.6h0M29.8 603.1h0M33.6 603.0h0M56.0 602.4h0M60.2 604.4h0M63.5 604.8h0M67.1 603.7h0M79.1 604.5h0M87.0 603.2h0M90.4 603.3h0M96.3 602.7h0M114.7 603.9h0M125.0 603.6h0M21.0 605.6h0M29.8 607.2h0M37.2 606.6h0M42.0 606.7h0M44.9 606.6h0M52.4 605.4h0M54.4 607.7h0M58.9 606.3h0M65.2 606.7h0M71.1 607.3h0M86.1 605.4h0M91.3 606.0h0M96.1 605.7h0M105.4 605.3h0M116.5 606.0h0M123.4 606.7h0M127.2 606.7h0M17.0 608.7h0M18.0 608.5h0M23.3 609.5h0M30.4 609.6h0M37.4 610.0h0M40.7 609.3h0M43.6 608.6h0M46.6 610.6h0M59.0 610.1h0M77.9 608.6h0M82.6 610.6h0M91.5 608.5h0" stroke="#4e3a26" stroke-width="1.3" stroke-linecap="round" fill="none" stroke-opacity="0.8"/>
<path d="M15.3 525.5h0M19.8 527.8h0M23.3 525.9h0M32.3 527.4h0M50.3 527.5h0M56.0 527.1h0M63.1 525.6h0M67.7 526.5h0M70.5 526.2h0M73.0 526.7h0M96.4 526.8h0M120.7 526.7h0M25.1 530.6h0M27.3 528.5h0M42.3 529.6h0M52.2 529.0h0M60.7 529.9h0M64.5 529.1h0M76.4 529.5h0M89.0 528.7h0M95.6 529.9h0M101.5 530.6h0M107.1 529.0h0M111.5 530.7h0M116.9 529.8h0M121.8 528.7h0M127.5 530.7h0M32.1 532.3h0M42.7 532.5h0M46.3 532.4h0M52.6 531.9h0M57.6 533.3h0M64.5 533.9h0M67.5 532.7h0M77.8 533.7h0M80.3 532.7h0M91.2 531.4h0M121.4 532.6h0M20.0 535.8h0M22.9 536.4h0M30.3 536.1h0M33.9 535.0h0M41.8 534.4h0M44.6 535.4h0M46.8 536.1h0M61.0 536.3h0M69.0 534.3h0M76.5 534.8h0M85.4 536.7h0M88.8 534.4h0M95.0 536.0h0M99.3 535.1h0M103.4 536.0h0M112.0 534.7h0M16.4 538.4h0M19.3 538.8h0M48.7 538.5h0M59.2 538.3h0M62.7 538.5h0M70.1 538.4h0M86.2 538.0h0M91.6 539.4h0M99.5 538.7h0M104.4 537.8h0M116.7 539.5h0M128.2 538.9h0M16.2 540.8h0M23.8 541.6h0M43.6 542.4h0M48.7 542.6h0M59.1 542.3h0M65.9 542.0h0M71.2 542.0h0M83.2 542.5h0M93.2 540.3h0M94.6 541.0h0M109.3 542.2h0M112.0 542.3h0M115.0 540.5h0M118.8 542.7h0M19.6 545.2h0M22.5 545.7h0M26.3 545.0h0M57.5 544.0h0M62.4 543.6h0M66.2 544.9h0M71.1 544.4h0M78.0 544.7h0M97.0 544.9h0M102.9 544.0h0M108.8 544.9h0M113.9 543.5h0M122.3 544.6h0M127.1 545.4h0M17.3 547.1h0M20.7 547.3h0M55.0 546.9h0M67.2 547.1h0M82.5 548.7h0M86.2 547.8h0M103.4 546.6h0M108.7 547.1h0M112.0 548.2h0M116.1 548.4h0M25.3 550.1h0M50.5 550.5h0M56.2 550.7h0M58.6 549.9h0M71.3 549.4h0M82.7 550.4h0M90.6 549.3h0M101.9 549.3h0M103.8 550.8h0M114.4 551.6h0M127.3 549.9h0M23.1 552.4h0M26.4 552.2h0M51.4 552.1h0M85.2 554.6h0M95.5 552.2h0M105.2 552.4h0M109.2 553.1h0M125.9 553.7h0M14.9 556.6h0M21.8 556.0h0M37.3 555.7h0M54.2 555.7h0M67.4 556.5h0M69.9 555.3h0M87.7 556.7h0M91.5 557.1h0M92.8 555.7h0M97.6 557.2h0M113.9 557.4h0M17.6 558.2h0M28.7 559.4h0M30.9 558.6h0M44.6 560.2h0M51.7 559.0h0M59.4 560.3h0M65.5 559.4h0M75.2 558.4h0M102.0 558.9h0M114.7 559.8h0M16.2 561.4h0M22.4 563.1h0M32.6 563.0h0M34.8 562.1h0M56.0 563.1h0M59.0 562.1h0M63.2 562.9h0M67.2 562.9h0M77.1 561.6h0M86.0 561.4h0M106.5 563.3h0M117.2 563.3h0M121.5 562.3h0M124.3 561.1h0M17.9 564.7h0M28.4 564.2h0M47.4 564.7h0M52.3 564.0h0M78.4 566.2h0M98.6 566.4h0M102.5 565.7h0M105.6 565.3h0M115.2 566.3h0M124.1 566.1h0M60.7 566.9h0M72.5 568.8h0M76.1 567.2h0M97.6 569.0h0M103.9 567.9h0M127.1 567.6h0M16.9 570.9h0M20.0 572.0h0M26.8 570.0h0M53.8 569.8h0M62.4 570.8h0M67.5 570.1h0M72.5 572.0h0M74.0 571.7h0M78.3 569.8h0M81.8 571.0h0M95.8 569.8h0M102.8 572.2h0M125.9 571.6h0M16.7 575.2h0M26.3 574.0h0M28.2 575.2h0M32.3 575.3h0M42.4 574.1h0M53.6 574.5h0M60.9 574.1h0M70.0 574.7h0M76.1 574.1h0M82.5 573.0h0M88.2 573.7h0M98.2 573.6h0M117.6 574.4h0M122.3 573.0h0M124.2 572.8h0M33.9 577.1h0M44.7 576.8h0M70.8 577.9h0M76.4 576.7h0M86.6 576.0h0M88.5 576.6h0M92.9 575.8h0M96.4 578.1h0M109.4 578.1h0M25.9 578.7h0M30.0 579.9h0M45.6 580.5h0M60.7 580.8h0M67.7 580.8h0M69.8 578.9h0M77.9 580.2h0M80.9 579.7h0M84.4 579.8h0M90.7 579.8h0M120.4 580.7h0M127.1 581.2h0M51.9 582.8h0M56.0 582.4h0M59.4 582.1h0M79.7 582.1h0M82.6 583.2h0M104.8 583.7h0M113.0 582.8h0M116.7 583.7h0M120.2 581.9h0M125.4 583.2h0M16.9 585.5h0M28.8 586.7h0M42.7 585.9h0M45.4 586.7h0M50.0 586.1h0M53.4 586.1h0M59.1 585.7h0M67.7 585.6h0M73.7 585.6h0M91.4 586.1h0M93.1 586.1h0M109.7 585.3h0M18.5 589.6h0M21.4 588.6h0M53.7 589.1h0M58.7 587.8h0M67.9 588.0h0M72.3 590.1h0M74.9 589.1h0M78.5 588.1h0M85.7 589.1h0M89.2 588.9h0M92.4 588.1h0M94.8 588.3h0M101.6 589.5h0M106.9 588.3h0M109.5 588.8h0M112.7 588.7h0M116.0 590.0h0M120.4 589.5h0M125.6 587.6h0M18.2 590.9h0M21.6 590.6h0M31.9 592.8h0M43.4 591.6h0M45.6 591.3h0M56.4 590.9h0M59.5 593.0h0M76.4 592.6h0M83.6 590.5h0M86.5 591.5h0M107.7 591.6h0M116.4 591.3h0M27.0 594.6h0M47.3 594.7h0M63.9 595.4h0M67.2 594.3h0M84.2 594.0h0M88.2 593.6h0M92.7 595.6h0M106.2 595.8h0M14.5 596.9h0M30.3 596.8h0M33.5 596.5h0M41.8 596.8h0M69.3 596.7h0M76.2 599.0h0M100.6 597.3h0M109.7 597.1h0M125.7 598.6h0M27.2 599.6h0M37.2 600.3h0M41.9 600.3h0M44.8 600.7h0M54.9 601.9h0M62.1 599.7h0M79.6 601.1h0M81.0 599.6h0M85.1 599.6h0M88.8 599.8h0M92.3 600.6h0M122.4 600.8h0M125.7 599.7h0M21.5 603.7h0M26.6 604.7h0M35.3 604.1h0M39.6 603.4h0M43.7 604.8h0M51.0 603.5h0M52.7 604.8h0M70.8 604.1h0M72.3 604.5h0M78.0 602.5h0M92.7 604.7h0M105.1 602.5h0M108.5 602.5h0M111.8 603.5h0M118.9 602.4h0M126.9 603.0h0M17.0 607.4h0M24.5 607.5h0M34.0 605.9h0M47.2 607.0h0M61.3 607.5h0M68.3 605.4h0M78.3 606.0h0M82.1 605.9h0M88.0 605.7h0M99.5 607.7h0M103.2 606.3h0M108.7 607.5h0M113.0 605.3h0M24.8 609.3h0M32.2 609.4h0M49.1 609.7h0M54.2 608.6h0M55.8 609.1h0M62.9 609.1h0M65.6 608.3h0M70.2 608.3h0M72.3 608.5h0M81.2 610.6h0M86.5 610.1h0M94.0 610.4h0M98.3 609.6h0M99.6 609.1h0M105.1 610.3h0M106.3 608.4h0M110.5 610.4h0M117.1 608.9h0M121.0 608.3h0M123.6 609.4h0" stroke="#5a3e22" stroke-width="1.3" stroke-linecap="round" fill="none" stroke-opacity="0.7"/>
</g>
<g clip-path="url(#cp16)">
<path d="M35.7 599.8h0M72.0 579.2h0M120.2 545.5h0M24.1 555.1h0M78.1 585.1h0M120.9 570.2h0M84.8 608.3h0M49.9 596.0h0M17.8 609.5h0M60.8 548.0h0M30.2 561.0h0M73.4 555.3h0M100.0 577.0h0M62.2 596.0h0M75.8 547.8h0M28.4 599.1h0M93.3 544.9h0M117.7 527.8h0M54.6 574.0h0M41.8 567.6h0M94.5 556.2h0M56.6 592.9h0M105.3 608.4h0M37.4 571.0h0M107.1 589.1h0M19.4 565.3h0M89.9 608.9h0M67.0 528.4h0M50.1 566.3h0M103.3 604.4h0M113.0 570.9h0M102.4 595.6h0M99.3 603.8h0M95.2 593.4h0M56.7 543.9h0M49.4 525.8h0M111.8 607.5h0M15.8 542.6h0M40.7 599.4h0M23.9 541.4h0M110.4 554.7h0M24.6 588.2h0M120.5 599.9h0M96.8 582.0h0M120.3 584.3h0M79.5 541.4h0M89.6 540.3h0M127.2 543.9h0M98.4 566.8h0M114.0 588.1h0M126.2 568.5h0M89.4 557.6h0M49.2 604.1h0M96.9 562.2h0M35.5 577.3h0M56.2 527.8h0M62.4 550.3h0M121.3 562.7h0M77.5 570.9h0M80.3 547.0h0M61.8 579.2h0M68.2 577.0h0M106.2 533.2h0M90.6 582.0h0M34.9 533.9h0M74.2 605.7h0M125.1 577.1h0M50.2 587.8h0M76.1 575.9h0M94.5 566.2h0M63.3 575.7h0M92.4 606.7h0M116.0 573.2h0M64.9 568.0h0M78.0 561.2h0M19.0 547.8h0M121.3 549.7h0M93.7 604.2h0M16.5 605.1h0M122.1 594.8h0M113.0 566.4h0M32.4 565.6h0M93.6 596.7h0M27.2 541.4h0M15.8 529.6h0M105.4 606.7h0M49.7 578.0h0M82.3 538.5h0M24.3 556.5h0M81.0 534.1h0M91.8 580.6h0M34.4 571.6h0M55.4 536.5h0M114.1 565.4h0M93.0 583.0h0M15.9 598.1h0M87.1 545.9h0M17.7 593.8h0M78.4 566.1h0M124.7 609.1h0M111.2 550.4h0M64.6 529.9h0M28.5 548.2h0M102.4 568.3h0M49.4 543.4h0M49.0 601.5h0M27.1 557.6h0M61.8 605.6h0M88.6 547.6h0M96.5 605.6h0M71.7 554.0h0M43.9 579.9h0M64.2 571.4h0M65.5 546.1h0M25.7 574.8h0M118.1 608.2h0M20.7 578.7h0M60.6 597.2h0M118.8 532.4h0M119.1 568.8h0M123.4 572.6h0M123.3 593.8h0M18.0 573.8h0M86.0 574.1h0M122.9 575.1h0M57.7 561.2h0M28.4 577.9h0M23.0 603.9h0M49.5 534.0h0M42.8 583.2h0M29.6 574.3h0M81.3 532.2h0M86.8 594.6h0M18.0 566.8h0M57.4 531.2h0M84.3 602.5h0M39.4 601.0h0M37.2 558.3h0M118.0 583.4h0M37.5 563.6h0M15.8 562.2h0M19.0 590.4h0M101.0 559.2h0M78.9 551.6h0M47.7 569.6h0M104.7 609.4h0M61.2 583.8h0M50.6 600.2h0M70.8 605.6h0M78.5 569.7h0M56.4 593.3h0M115.0 564.7h0M53.9 548.6h0M82.6 605.7h0M66.6 590.7h0M83.2 526.6h0M65.8 607.9h0M28.3 581.7h0M24.7 542.9h0M79.7 597.8h0M96.1 545.5h0M110.8 546.7h0M111.7 544.5h0M107.9 587.7h0M30.5 546.2h0M71.8 565.1h0M119.3 599.9h0M91.7 555.4h0M92.3 579.5h0M45.6 574.8h0M46.0 543.7h0M50.9 543.3h0M57.3 584.2h0M17.7 600.1h0M58.3 586.1h0M32.0 539.2h0M40.8 560.2h0M82.8 593.1h0M50.6 549.3h0M118.6 596.1h0M83.3 532.4h0M107.0 555.9h0M92.0 552.9h0M105.0 569.8h0M122.4 582.1h0M84.5 528.1h0M39.0 569.1h0M42.6 542.5h0M47.5 567.8h0M63.9 587.4h0M48.2 569.5h0M64.9 608.4h0M111.1 560.4h0M79.9 569.5h0M54.9 597.9h0M89.2 557.0h0M37.1 571.5h0M92.7 537.8h0M96.7 525.9h0M19.3 537.8h0M102.3 535.0h0M74.2 529.5h0M35.9 571.9h0M72.2 552.8h0M120.9 580.9h0M23.2 546.9h0M76.6 556.4h0M40.9 542.2h0M88.3 577.9h0M55.3 551.6h0M43.4 579.6h0M126.1 595.8h0M79.9 563.7h0M117.8 587.5h0M56.1 548.4h0M50.9 566.5h0M78.6 556.1h0M97.5 561.6h0M26.2 595.7h0M108.9 547.4h0M87.3 547.8h0M36.2 568.0h0M24.3 606.3h0M92.2 595.1h0M54.5 590.3h0M101.2 581.9h0M90.1 536.1h0M80.5 568.1h0M109.8 601.3h0M84.7 570.7h0M20.0 549.0h0M68.5 606.7h0M31.1 591.6h0M97.0 570.7h0M114.8 562.3h0M56.0 533.2h0M122.7 562.6h0M45.3 576.4h0M89.9 600.8h0M96.8 570.5h0M89.4 597.0h0M122.9 561.8h0M111.4 572.2h0M101.1 528.7h0M54.8 566.6h0M62.5 585.4h0M65.6 599.3h0M107.7 581.7h0M89.7 558.9h0M51.5 543.1h0M92.6 585.9h0M86.9 588.5h0M70.2 580.0h0M57.9 577.6h0M40.4 565.0h0M67.0 554.8h0M103.9 556.8h0M124.8 542.2h0M122.9 545.2h0M35.2 598.7h0M114.4 592.7h0M48.9 556.7h0M30.6 578.2h0M23.2 534.2h0M117.1 541.4h0M92.4 590.9h0M92.9 574.7h0M97.9 530.0h0M37.9 527.1h0M62.0 537.5h0M108.7 579.6h0M102.6 535.0h0M81.5 592.1h0M90.6 573.2h0M95.7 533.0h0M116.9 585.2h0M112.2 546.6h0M33.4 556.1h0M117.6 601.6h0M51.6 536.5h0M101.0 556.8h0M117.3 600.4h0M21.9 575.4h0M96.7 587.4h0M16.4 598.7h0M38.2 551.9h0M88.0 606.5h0M89.8 530.5h0M36.9 529.6h0M92.1 547.8h0M122.3 565.9h0M74.0 590.2h0M83.1 582.8h0M108.9 527.4h0M44.7 586.2h0M35.1 604.9h0M14.9 546.7h0M18.2 569.0h0M117.1 596.4h0M77.2 553.8h0M50.2 570.6h0M90.9 586.6h0M125.6 560.6h0M103.8 594.5h0M93.5 532.9h0M87.5 566.2h0M87.0 527.4h0M29.6 571.5h0M120.8 593.1h0M90.1 527.6h0M76.7 552.9h0M100.2 588.3h0M28.4 547.7h0M97.3 604.1h0M60.1 530.9h0M118.6 556.7h0M120.0 599.3h0M64.0 565.4h0M101.3 603.5h0M94.7 597.4h0M29.3 606.6h0M122.4 559.3h0M29.3 607.4h0M120.7 576.0h0M27.7 535.2h0M41.9 568.1h0M16.7 545.2h0M117.2 544.7h0M102.2 596.1h0M19.3 579.0h0M70.2 552.6h0M66.9 598.2h0M24.1 596.9h0M126.9 526.1h0M47.3 526.0h0M124.0 538.7h0M47.7 607.5h0M80.2 584.6h0M54.7 591.5h0M84.3 609.2h0M77.6 526.9h0M82.4 549.7h0M121.8 525.7h0M49.2 570.1h0M122.2 582.0h0M60.3 551.0h0M101.8 567.0h0M87.4 588.0h0M75.4 545.1h0M52.2 553.6h0M50.9 556.5h0M76.2 609.0h0M96.8 579.0h0M26.5 588.7h0M46.0 607.8h0M42.5 538.9h0M14.8 528.6h0M61.5 591.9h0M38.7 585.9h0M30.3 527.6h0M25.5 595.0h0M57.0 540.6h0M51.4 530.9h0M26.8 577.8h0M95.7 526.8h0M122.6 541.2h0M17.8 544.2h0M33.8 541.6h0M94.6 583.0h0M119.9 576.3h0M115.8 553.2h0M49.9 536.9h0M121.3 583.3h0M96.0 573.4h0M90.3 548.9h0M67.4 598.2h0M37.0 596.7h0M44.8 574.6h0M93.0 609.0h0M110.8 532.5h0M33.7 548.4h0M55.1 586.6h0M47.0 583.7h0M65.5 545.9h0M106.0 590.8h0M116.3 552.7h0M57.5 534.1h0M41.5 593.4h0M66.6 565.3h0M59.9 553.7h0M74.7 585.3h0M73.4 531.9h0M34.0 580.0h0M103.0 533.9h0M123.0 589.6h0M108.4 557.3h0M19.6 598.7h0M71.2 558.6h0M103.3 546.8h0M58.0 571.5h0M115.4 583.3h0M92.8 542.7h0M107.5 538.8h0M121.4 544.8h0M115.2 531.4h0M120.8 555.1h0M29.4 582.8h0M40.9 556.0h0M105.4 607.5h0M81.1 578.6h0M41.6 598.2h0M57.7 536.6h0M60.1 569.8h0M95.8 532.6h0M95.5 538.8h0M52.9 565.9h0M81.9 570.4h0M101.7 557.2h0M118.2 528.2h0M99.1 593.0h0M76.2 584.3h0M90.2 559.0h0M55.4 594.0h0M119.4 526.6h0M92.0 528.0h0M114.0 578.2h0M113.2 541.4h0M60.2 578.7h0M85.7 540.2h0M111.9 532.2h0M92.5 574.9h0M108.0 581.0h0M70.0 594.0h0M39.4 569.0h0M36.1 561.5h0M46.1 566.5h0M73.3 578.8h0M92.1 581.8h0M123.4 535.7h0M35.7 596.1h0M91.6 546.0h0M46.8 533.6h0M96.9 562.1h0M98.7 601.4h0M73.4 589.6h0M110.2 575.0h0M74.8 539.7h0M120.1 600.2h0M101.4 589.9h0M15.5 556.1h0M116.6 540.4h0M84.3 529.0h0M89.2 545.4h0M105.2 529.0h0M117.6 541.6h0M51.6 553.5h0M19.8 559.2h0M51.5 558.8h0M125.0 598.0h0M61.5 558.5h0M47.7 589.8h0M58.4 534.6h0M110.6 580.7h0M16.8 534.6h0M44.5 570.4h0M112.3 545.6h0M19.9 573.5h0M51.9 573.6h0M120.4 565.3h0M67.3 533.5h0M89.4 579.0h0M46.3 592.9h0M27.1 561.0h0M79.2 594.6h0M89.0 596.6h0M73.9 555.5h0M45.0 562.7h0M21.9 600.4h0M63.9 574.3h0M84.7 556.0h0M112.1 577.0h0M119.3 533.6h0M49.1 565.3h0M68.0 526.5h0M125.4 571.7h0M88.7 530.5h0M27.6 608.2h0M108.0 546.5h0M121.4 598.7h0M88.9 537.4h0M54.1 583.2h0M116.6 595.3h0M75.0 601.3h0M27.5 597.0h0M96.0 531.0h0M54.0 541.4h0M64.1 574.4h0M104.1 528.4h0M87.1 598.1h0M98.1 600.5h0M96.7 570.7h0M123.0 534.5h0M36.3 565.7h0M123.4 583.1h0M108.7 556.1h0M88.9 603.2h0M90.2 525.5h0M121.3 581.7h0M101.8 587.8h0M62.8 607.3h0M54.3 575.4h0M93.3 591.0h0M28.4 568.0h0M93.9 572.6h0M85.4 581.7h0M85.0 577.0h0M22.5 607.3h0M110.3 603.4h0M79.7 542.8h0M94.2 533.3h0M87.3 537.8h0M62.0 583.0h0M34.1 537.6h0M126.6 597.5h0M111.2 543.6h0M42.9 599.1h0M45.9 587.3h0M56.4 607.7h0M81.3 579.8h0M104.4 598.4h0M65.9 538.3h0M63.1 533.2h0M51.0 542.5h0M97.7 568.7h0M84.2 535.6h0M49.2 546.5h0M73.3 599.0h0M25.7 571.8h0M84.1 569.3h0M125.5 604.7h0M126.9 562.2h0M40.1 599.1h0M124.0 602.4h0M14.9 541.1h0M97.0 564.5h0M21.1 574.2h0M18.9 595.6h0M36.2 566.7h0M87.1 538.5h0M58.7 594.5h0M87.5 526.5h0M105.7 532.2h0M125.9 548.5h0M127.0 595.3h0M43.9 531.8h0M63.9 548.7h0M74.0 568.4h0M59.1 579.6h0M26.3 525.6h0M52.2 539.1h0M124.4 547.5h0M40.4 565.8h0M41.8 577.4h0M93.8 578.7h0M45.9 568.5h0M120.9 543.5h0M35.4 531.4h0M114.2 599.5h0M37.1 525.6h0M78.3 549.1h0M23.6 553.6h0M21.8 577.6h0M90.5 573.5h0M109.8 604.2h0M102.8 579.3h0M123.2 593.4h0M90.2 542.1h0M35.7 580.7h0M97.4 607.4h0M88.0 588.7h0M96.7 537.0h0M102.8 595.5h0M116.4 533.2h0M34.2 592.1h0M113.8 536.7h0M103.7 584.1h0M87.8 591.3h0M23.3 556.9h0M111.0 526.6h0M66.8 589.4h0M101.5 585.7h0M93.9 606.0h0M32.4 605.6h0M102.6 530.1h0M23.7 582.4h0M81.2 586.5h0M112.8 531.0h0M79.2 552.2h0M81.0 604.0h0M104.6 529.0h0M106.7 604.8h0M52.7 591.0h0M78.1 598.4h0M76.8 563.8h0M22.6 551.4h0M35.4 527.4h0M112.2 591.2h0M56.6 552.8h0M88.9 549.1h0M116.2 543.2h0M104.1 527.3h0M92.2 606.3h0M90.9 595.4h0M67.6 554.2h0M115.2 593.8h0M52.3 549.0h0M125.0 552.4h0M102.4 571.2h0M119.6 529.6h0M109.5 568.3h0M121.9 562.2h0M81.5 549.8h0M110.4 567.8h0M45.8 550.9h0M20.9 534.1h0M26.2 550.8h0M25.1 537.3h0M16.9 559.9h0M27.7 551.9h0M111.3 564.1h0M121.5 580.8h0M34.4 589.3h0M54.2 591.5h0M49.6 553.5h0M85.3 553.0h0M107.9 593.3h0M74.3 582.4h0M26.9 603.8h0M82.5 583.4h0M77.6 528.8h0M18.7 535.3h0M110.7 545.3h0M74.7 592.3h0M16.4 604.0h0M100.2 607.5h0M103.3 601.2h0M115.4 607.7h0M59.0 567.0h0M39.6 599.6h0M69.7 583.7h0M16.3 591.1h0M25.3 559.0h0M74.0 540.9h0M40.4 605.7h0M83.2 588.0h0M41.4 590.5h0M21.4 564.0h0M31.9 565.5h0M117.9 565.8h0M31.9 562.4h0M23.9 589.1h0M62.1 591.0h0M24.6 555.6h0M113.5 605.5h0M22.7 578.3h0M88.0 608.8h0M49.2 594.8h0M70.9 549.8h0M77.6 527.4h0M62.8 590.2h0M91.5 554.7h0M37.0 593.8h0M21.5 543.8h0M67.6 528.8h0M82.6 542.0h0M90.5 541.7h0M40.8 558.9h0M86.1 594.9h0M39.4 588.2h0M20.4 548.3h0M113.8 601.0h0M115.6 574.9h0M117.4 527.9h0M103.4 602.7h0M22.9 550.2h0M90.8 564.1h0M80.0 573.7h0M119.9 555.9h0M33.1 562.5h0M47.0 598.0h0M107.2 574.1h0M87.8 567.3h0M90.6 544.4h0M95.2 585.3h0M123.1 537.3h0M59.9 589.2h0M36.7 573.1h0M69.6 598.4h0M110.6 578.7h0M37.3 594.1h0" stroke="#d4b47a" stroke-width="1.3" stroke-linecap="round" fill="none" stroke-opacity="0.6"/>
</g>
<g clip-path="url(#cp16)">
<path d="M72.6 531.4h0M84.4 587.4h0M110.1 608.4h0M102.5 590.2h0M80.0 594.6h0M85.7 530.8h0M73.0 566.2h0M80.4 570.7h0M68.2 600.7h0M97.2 583.1h0M109.3 598.6h0M115.3 603.7h0M24.3 577.4h0M48.2 568.9h0M68.5 585.3h0M75.1 527.9h0M59.8 557.5h0M21.7 607.9h0M60.2 567.6h0M33.9 533.2h0M62.2 541.3h0M22.8 526.9h0M91.8 593.6h0M123.6 587.6h0M69.3 536.3h0M56.4 596.1h0M21.7 534.0h0M110.9 561.4h0M76.3 545.1h0M106.6 553.1h0M83.0 557.6h0M28.3 603.7h0M25.2 575.1h0M45.6 591.8h0M45.3 596.2h0M101.4 559.9h0M91.3 579.4h0M16.7 539.2h0M65.6 569.3h0M110.8 532.9h0M122.4 548.3h0M127.1 564.6h0M98.3 552.2h0M35.9 563.6h0M54.7 570.9h0M109.0 566.8h0M25.5 557.9h0M31.1 582.6h0M18.1 557.9h0M124.1 535.5h0M101.4 534.6h0M125.5 578.3h0M27.9 572.8h0M99.4 594.5h0M44.4 543.8h0M23.2 550.9h0M83.2 563.7h0M101.4 561.9h0M59.1 538.1h0M114.8 552.3h0" stroke="#8a90b8" stroke-width="1.5" stroke-linecap="round" fill="none" stroke-opacity="0.7"/>
</g>
<circle cx="83.6" cy="546.3" r="6.6" fill="#a3773a" fill-opacity="0.7" stroke="#e04848" stroke-width="0.8"/>
<circle cx="100" cy="589" r="13.8" fill="#a3773a" fill-opacity="0.7" stroke="#e04848" stroke-width="0.8"/>
<path d="M95.0 585.4h0M102.1 578.2h0M99.0 591.5h0M90.3 595.9h0M106.9 587.6h0M88.8 591.6h0M96.7 588.5h0M99.1 600.9h0M109.2 583.9h0M97.5 600.9h0M105.0 586.5h0M106.7 588.7h0M93.3 591.3h0M105.0 581.4h0M107.1 587.5h0M103.3 588.3h0M105.4 581.6h0M104.3 598.1h0M92.2 592.5h0M110.2 582.8h0M107.2 590.4h0M94.8 587.4h0M111.1 591.6h0M96.2 586.9h0M105.3 584.1h0M96.9 593.2h0M99.7 585.4h0M89.8 587.0h0M106.8 587.0h0M89.0 590.0h0M110.4 591.8h0M107.0 593.5h0M93.5 589.2h0M97.8 586.9h0M89.3 585.6h0M97.6 584.7h0M106.7 581.7h0M102.6 585.6h0M100.8 593.3h0M96.2 588.8h0M91.9 579.9h0M103.1 590.8h0M92.8 582.8h0M100.2 588.7h0M101.8 590.6h0M105.8 582.5h0M98.1 597.5h0M91.3 587.7h0M96.1 597.2h0M92.8 591.9h0" stroke="#5a4630" stroke-width="1.3" stroke-linecap="round" fill="none" stroke-opacity="0.6"/>
<line x1="17.30" y1="607.50" x2="33.00" y2="607.50" stroke="#222" stroke-width="1.3"/>
<text x="26.90" y="604.60" font-size="6.2" text-anchor="middle" font-weight="bold" fill="#1a1a1a">120μm</text>
<g clip-path="url(#cp18)">
<path d="M364 475 L368 468 L370 463 L376 461 L381 465 L384 470 L382 477 L378 472 L372 471 L366 477 Z" fill="#e2e4ee"/>
<path d="M376 466 L380 470 L381 476" fill="none" stroke="#7a86b8" stroke-width="1.2"/>
<path d="M466 437.6 L471.6 437.6 L471.6 448 Z" fill="#7a5a2a"/>
</g>
<g clip-path="url(#cp18)">
<path d="M358.8 438.3h0M362.8 439.4h0M370.1 440.0h0M374.7 438.7h0M378.0 440.0h0M382.9 439.1h0M385.5 439.6h0M387.5 439.3h0M391.8 440.1h0M395.3 439.6h0M398.7 438.5h0M410.3 439.6h0M413.4 440.3h0M420.0 439.1h0M424.4 438.7h0M426.1 439.9h0M435.9 438.3h0M443.9 438.6h0M446.3 440.4h0M450.3 440.2h0M452.8 439.6h0M455.8 438.4h0M460.9 439.3h0M466.0 439.0h0M470.7 438.9h0M369.6 443.0h0M374.4 442.7h0M386.2 441.1h0M389.4 442.8h0M392.4 442.3h0M397.0 442.0h0M402.2 441.6h0M409.5 442.4h0M413.4 441.1h0M414.9 443.0h0M419.6 441.9h0M421.0 442.0h0M431.7 441.3h0M433.7 441.6h0M438.4 442.7h0M444.2 443.1h0M446.8 441.5h0M451.6 442.3h0M454.5 441.3h0M457.7 441.8h0M464.1 441.8h0M469.1 440.9h0M359.3 444.8h0M361.6 445.2h0M366.7 443.7h0M369.4 445.4h0M372.3 444.3h0M381.4 445.0h0M391.4 444.6h0M397.0 444.9h0M401.9 445.8h0M404.8 444.9h0M414.4 443.6h0M419.7 443.9h0M422.8 445.1h0M426.8 445.0h0M432.1 445.6h0M436.7 445.5h0M440.2 443.9h0M443.3 444.5h0M445.2 444.1h0M448.7 445.2h0M451.8 445.7h0M458.1 444.7h0M461.6 443.7h0M465.0 445.8h0M374.2 447.7h0M376.4 446.6h0M389.7 448.0h0M400.2 446.5h0M403.2 446.9h0M409.3 447.9h0M415.6 448.0h0M419.0 448.1h0M428.6 448.6h0M430.8 447.5h0M433.6 446.4h0M438.0 447.4h0M440.4 448.1h0M444.6 448.2h0M454.7 447.8h0M360.3 450.0h0M363.3 451.4h0M365.4 451.2h0M371.4 451.1h0M378.5 450.9h0M387.2 449.9h0M392.0 449.5h0M395.3 449.2h0M397.7 451.4h0M401.3 450.7h0M404.1 450.1h0M408.5 451.2h0M409.9 450.1h0M417.7 450.8h0M420.6 449.5h0M423.7 450.9h0M426.9 450.0h0M433.7 449.9h0M435.9 449.5h0M438.7 449.3h0M452.8 450.4h0M459.1 450.3h0M468.4 449.7h0M470.6 449.5h0M364.5 452.8h0M366.6 454.2h0M369.8 452.1h0M374.7 454.0h0M376.8 454.3h0M380.7 452.6h0M384.2 452.1h0M387.0 452.9h0M389.0 453.7h0M398.7 454.1h0M405.4 452.0h0M415.2 452.3h0M425.8 452.9h0M435.6 453.7h0M440.2 453.9h0M447.3 453.2h0M459.8 453.6h0M464.0 453.6h0M466.2 452.2h0M470.8 453.2h0M359.7 454.8h0M362.5 455.9h0M365.8 456.3h0M377.7 455.6h0M382.3 455.9h0M387.9 454.8h0M394.7 456.6h0M397.3 456.2h0M401.8 455.2h0M408.8 456.0h0M411.1 456.7h0M413.8 455.4h0M421.2 456.7h0M423.7 455.3h0M427.8 455.1h0M442.7 456.8h0M452.1 455.0h0M454.8 454.8h0M458.1 456.5h0M461.0 456.3h0M464.6 454.8h0M467.3 456.8h0M363.3 459.3h0M368.1 457.6h0M374.0 459.1h0M378.2 458.0h0M384.1 457.6h0M389.0 459.2h0M397.3 459.8h0M399.7 458.3h0M402.8 457.8h0M408.9 457.6h0M412.8 459.2h0M418.4 458.3h0M426.3 458.2h0M428.5 459.4h0M434.4 458.1h0M441.8 457.7h0M445.4 457.6h0M448.5 458.3h0M451.6 458.0h0M456.6 459.6h0M466.5 459.3h0M470.8 459.7h0M366.6 460.9h0M373.0 461.1h0M375.4 460.7h0M379.1 462.6h0M382.4 462.4h0M389.4 462.2h0M400.3 460.5h0M412.9 462.2h0M417.7 461.6h0M421.2 462.0h0M423.3 461.9h0M427.0 460.8h0M430.3 461.3h0M432.6 462.4h0M436.3 460.4h0M440.4 461.8h0M448.3 461.1h0M451.3 461.9h0M456.8 460.4h0M457.9 462.1h0M472.2 461.9h0M360.8 463.0h0M368.0 464.0h0M374.1 463.3h0M377.6 463.8h0M383.2 464.9h0M389.9 464.7h0M402.8 465.0h0M409.5 463.2h0M415.1 463.8h0M419.5 464.8h0M440.6 465.2h0M444.2 464.4h0M447.9 463.2h0M450.2 464.8h0M452.9 464.9h0M461.0 465.3h0M465.7 464.9h0M366.1 466.2h0M369.0 466.1h0M373.4 468.3h0M381.4 468.1h0M388.6 466.9h0M395.0 467.3h0M405.6 467.5h0M408.6 467.5h0M415.0 466.5h0M429.9 466.7h0M434.1 467.0h0M435.3 466.0h0M440.3 467.5h0M442.6 467.0h0M445.1 466.2h0M450.0 466.0h0M452.4 468.2h0M456.2 466.4h0M458.4 468.1h0M464.0 467.8h0M472.8 468.1h0M360.5 470.0h0M364.6 470.2h0M371.5 470.4h0M377.0 470.9h0M383.5 469.7h0M387.7 468.8h0M395.8 470.8h0M399.8 470.2h0M402.0 470.4h0M405.2 468.7h0M411.7 470.2h0M416.1 469.7h0M423.2 470.0h0M426.2 469.8h0M428.6 469.6h0M435.9 469.6h0M456.4 469.3h0M465.8 469.7h0M469.6 469.2h0M362.4 472.8h0M367.0 472.9h0M370.0 472.7h0M375.5 473.8h0M381.9 472.4h0M385.3 471.7h0M393.8 471.9h0M397.8 472.2h0M401.7 473.0h0M407.9 471.9h0M417.5 472.8h0M420.1 473.7h0M422.8 472.5h0M426.4 472.9h0M429.4 471.6h0M433.9 471.5h0M436.7 473.2h0M440.6 473.0h0M446.7 473.6h0M448.4 472.4h0M452.3 472.2h0M455.7 473.2h0M465.9 472.0h0M467.3 471.8h0M471.7 472.0h0M371.9 474.6h0M376.0 474.3h0M389.2 475.9h0M394.3 475.5h0M395.3 475.7h0M421.9 475.8h0M425.0 476.3h0M429.5 475.0h0M431.4 475.8h0M438.9 476.4h0M440.4 475.2h0M451.1 474.5h0M463.7 476.3h0M468.8 475.0h0M359.9 477.3h0M376.5 477.1h0M378.7 478.0h0M383.1 479.1h0M384.2 478.3h0M388.3 479.0h0M392.7 477.1h0M401.3 478.9h0M403.7 478.4h0M408.2 478.2h0M409.9 478.6h0M413.0 478.8h0M420.0 478.4h0M424.8 477.3h0M430.1 479.0h0M446.8 478.8h0M459.1 477.2h0M464.7 478.6h0M469.4 479.1h0M371.7 481.9h0M377.0 480.8h0M379.2 479.9h0M384.0 481.5h0M387.5 479.8h0M395.7 480.0h0M402.9 481.1h0M406.8 480.5h0M414.5 481.5h0M422.5 481.6h0M429.0 480.4h0M430.9 480.1h0M437.4 482.2h0M442.3 480.4h0M447.0 479.9h0M451.2 479.9h0M457.3 479.8h0M461.1 480.4h0M362.6 484.6h0M366.6 483.7h0M371.6 484.5h0M376.3 484.6h0M379.5 484.2h0M381.4 483.9h0M384.8 483.1h0M387.5 483.4h0M394.7 484.3h0M397.1 482.8h0M407.2 483.9h0M413.5 484.5h0M417.9 484.9h0M423.2 483.3h0M432.2 484.8h0M437.0 484.1h0M443.7 482.7h0M449.3 482.8h0M452.0 484.8h0M460.0 483.7h0M361.2 486.9h0M364.1 487.6h0M366.7 485.9h0M374.0 485.8h0M376.0 486.4h0M379.8 487.7h0M386.7 485.3h0M389.2 486.4h0M392.5 485.5h0M399.4 487.3h0M408.0 485.5h0M412.3 486.9h0M418.6 486.2h0M421.0 485.5h0M427.7 485.9h0M431.0 486.7h0M446.8 487.4h0M462.8 487.3h0M466.4 486.0h0M362.3 488.3h0M375.8 488.7h0M379.7 489.3h0M382.0 489.3h0M385.1 489.0h0M395.2 489.6h0M397.8 489.8h0M411.2 489.5h0M413.2 490.2h0M416.9 489.2h0M424.8 490.4h0M429.0 490.3h0M432.5 489.2h0M436.9 489.1h0M452.2 488.8h0M462.1 488.4h0M471.2 489.3h0M361.6 492.9h0M367.4 491.1h0M377.5 491.1h0M381.0 491.0h0M384.1 490.9h0M386.9 491.0h0M390.9 492.1h0M396.0 491.1h0M399.4 492.4h0M403.5 492.7h0M406.3 492.2h0M408.0 491.5h0M411.4 490.9h0M428.8 491.9h0M433.6 491.1h0M453.1 493.3h0M458.1 492.5h0M460.4 492.5h0M464.8 491.3h0M470.4 490.9h0M361.9 493.8h0M369.1 495.3h0M373.3 494.6h0M376.1 496.0h0M381.8 494.7h0M385.6 496.0h0M391.7 495.3h0M394.7 495.4h0M398.5 495.3h0M402.4 495.1h0M404.7 495.8h0M407.9 494.3h0M410.5 495.5h0M417.7 495.5h0M419.7 495.0h0M426.8 494.8h0M443.6 494.2h0M446.1 495.3h0M456.2 495.7h0M458.0 494.4h0M466.3 495.1h0M472.6 494.6h0M361.9 498.7h0M363.8 498.9h0M367.0 497.8h0M377.4 496.7h0M380.3 496.9h0M386.1 497.2h0M403.1 498.3h0M410.0 498.5h0M415.9 497.3h0M419.3 497.9h0M422.4 496.6h0M427.3 498.0h0M431.8 497.7h0M434.4 498.7h0M437.0 498.5h0M440.3 497.9h0M447.0 496.9h0M454.1 496.7h0M458.2 498.5h0M461.2 496.6h0M466.7 498.7h0M469.6 498.6h0M358.4 499.7h0M366.8 500.7h0M369.1 500.1h0M371.9 499.6h0M375.6 500.9h0M382.2 500.8h0M386.2 501.2h0M389.4 501.5h0M392.2 500.9h0M395.3 500.9h0M401.3 500.1h0M404.8 501.1h0M407.3 501.0h0M415.0 500.0h0M416.7 501.4h0M424.6 500.7h0M427.5 500.4h0M429.2 500.8h0M432.3 500.2h0M438.7 499.8h0M446.4 500.7h0M448.2 500.9h0M455.0 500.9h0M459.5 501.5h0M464.2 499.3h0M364.1 504.2h0M367.6 503.4h0M371.3 502.5h0M375.0 503.9h0M379.6 502.8h0M383.4 503.8h0M389.9 502.5h0M399.5 503.4h0M403.4 502.3h0M406.9 503.9h0M412.1 502.9h0M431.3 503.7h0M433.9 502.6h0M451.8 502.3h0M455.1 503.7h0M457.5 504.4h0M465.9 503.3h0M372.0 505.1h0M374.4 505.9h0M392.5 506.5h0M403.6 506.5h0M416.4 507.0h0M421.2 506.4h0M422.8 505.5h0M438.6 505.1h0M442.9 505.7h0M459.8 505.6h0M460.9 506.4h0M467.8 504.9h0M471.3 506.5h0M360.6 509.0h0M371.7 509.8h0M373.7 508.1h0M376.4 509.2h0M381.5 508.7h0M382.5 507.7h0M397.3 508.2h0M405.8 508.1h0M410.1 508.1h0M416.0 507.9h0M420.9 508.4h0M424.3 507.7h0M438.6 509.9h0M441.1 508.2h0M443.7 509.2h0M447.2 507.9h0M450.5 509.2h0M459.9 507.9h0M464.8 508.9h0M467.4 509.2h0M470.8 509.2h0M369.8 511.3h0M371.6 510.5h0M376.2 512.2h0M378.4 511.2h0M381.7 511.3h0M385.0 512.3h0M387.2 511.1h0M395.5 512.4h0M401.8 512.0h0M403.9 512.3h0M406.8 512.0h0M415.2 512.0h0M418.3 512.1h0M424.4 511.3h0M431.1 511.9h0M435.6 511.0h0M439.6 512.3h0M443.9 510.8h0M452.7 512.1h0M459.3 512.4h0M465.0 510.7h0M467.4 512.2h0M470.6 511.8h0M360.9 513.7h0M366.9 515.2h0M374.0 513.7h0M377.4 515.0h0M379.8 515.4h0M387.2 513.6h0M389.0 514.7h0M392.1 514.5h0M405.9 514.9h0M411.2 513.2h0M419.9 513.5h0M431.7 514.4h0M434.5 513.3h0M439.2 513.4h0M440.7 514.5h0M444.5 514.6h0M464.3 514.8h0M358.6 516.9h0M363.1 517.0h0M368.2 516.6h0M378.8 518.2h0M385.1 517.4h0M391.2 516.1h0M394.5 518.0h0M398.3 516.5h0M403.9 517.8h0M411.7 516.3h0M417.2 517.8h0M427.1 517.3h0M433.3 516.3h0M445.9 517.0h0M448.2 517.2h0M462.7 517.3h0M468.2 516.8h0M471.0 517.7h0M360.7 518.9h0M363.8 519.7h0M367.9 519.3h0M380.6 520.1h0M383.6 520.4h0M390.5 520.0h0M392.7 519.0h0M400.4 520.2h0M407.0 519.3h0M417.7 520.5h0M421.7 520.7h0M432.5 519.4h0M434.7 520.2h0M443.8 518.9h0M450.7 519.1h0M461.4 518.9h0M464.7 520.8h0" stroke="#3f2a18" stroke-width="1.5" stroke-linecap="round" fill="none" stroke-opacity="0.8"/>
<path d="M365.9 439.7h0M371.9 440.4h0M402.0 439.7h0M404.3 438.6h0M434.3 438.1h0M469.3 438.8h0M360.9 441.9h0M364.5 442.5h0M368.0 441.2h0M377.9 442.6h0M381.6 440.8h0M383.1 442.1h0M399.2 441.6h0M404.8 441.2h0M429.0 442.6h0M461.3 442.9h0M466.0 441.6h0M376.0 445.1h0M378.0 444.0h0M384.8 445.9h0M387.6 445.6h0M406.5 444.5h0M409.7 445.9h0M416.3 444.1h0M430.6 445.8h0M467.7 443.9h0M471.3 444.6h0M362.0 448.0h0M365.0 447.6h0M368.1 446.6h0M369.6 447.8h0M381.0 446.8h0M384.2 447.3h0M386.8 448.1h0M392.6 447.1h0M395.9 447.7h0M404.9 447.5h0M413.1 448.2h0M423.1 447.8h0M450.6 447.7h0M456.1 447.7h0M459.3 447.3h0M464.4 448.4h0M466.8 447.7h0M470.2 448.3h0M369.8 450.3h0M375.8 449.4h0M381.2 449.7h0M386.0 450.3h0M414.4 451.0h0M430.7 451.2h0M443.9 449.7h0M446.4 450.4h0M455.4 450.0h0M461.0 450.1h0M465.9 450.7h0M361.4 453.9h0M392.5 453.5h0M397.4 452.2h0M403.2 454.1h0M412.4 452.6h0M418.5 454.0h0M431.3 452.5h0M443.8 454.3h0M451.4 452.2h0M454.2 453.3h0M456.5 452.3h0M369.4 456.1h0M373.0 456.2h0M385.5 456.8h0M391.5 455.1h0M404.8 455.9h0M430.6 456.1h0M433.2 456.3h0M439.8 456.6h0M445.5 457.0h0M448.3 456.0h0M471.0 455.0h0M370.1 459.3h0M380.7 458.2h0M385.9 459.2h0M393.5 458.7h0M406.6 458.0h0M422.3 458.1h0M431.4 458.5h0M454.6 457.8h0M460.1 459.6h0M464.3 457.5h0M358.9 461.7h0M363.3 462.5h0M392.1 461.9h0M394.5 462.6h0M396.8 460.6h0M403.8 461.2h0M410.3 461.0h0M442.3 461.5h0M445.7 461.9h0M462.2 461.1h0M465.4 461.0h0M467.6 460.8h0M365.5 465.2h0M370.8 464.0h0M385.7 465.4h0M393.0 463.3h0M397.1 465.2h0M406.3 463.4h0M411.7 463.5h0M421.1 464.3h0M425.3 463.5h0M427.9 463.0h0M431.4 464.5h0M435.9 464.9h0M437.4 464.5h0M457.6 465.2h0M468.9 463.7h0M358.5 467.7h0M362.8 467.0h0M376.4 467.8h0M377.8 467.8h0M384.3 467.0h0M391.6 467.9h0M397.5 467.6h0M400.0 468.0h0M417.8 466.6h0M419.2 468.0h0M422.4 467.1h0M425.9 467.5h0M469.0 467.6h0M367.7 469.1h0M373.2 470.2h0M390.5 470.0h0M393.3 469.2h0M410.4 470.4h0M431.3 470.3h0M439.2 469.3h0M441.4 470.5h0M451.4 470.9h0M455.0 469.3h0M463.0 469.4h0M378.8 472.8h0M388.3 473.5h0M391.0 473.5h0M404.9 473.1h0M411.4 473.0h0M413.1 473.8h0M459.3 472.0h0M361.8 475.7h0M364.4 474.5h0M368.6 474.9h0M373.5 475.1h0M380.5 475.8h0M382.9 474.4h0M403.9 475.7h0M407.0 475.6h0M414.7 474.3h0M443.3 474.6h0M448.2 474.3h0M456.9 476.6h0M460.8 475.9h0M361.7 477.7h0M367.1 477.1h0M368.8 479.2h0M371.9 477.3h0M394.7 477.1h0M397.0 479.0h0M417.9 478.2h0M428.0 478.6h0M433.2 478.4h0M440.7 477.8h0M443.0 478.0h0M450.4 477.1h0M453.5 477.9h0M456.5 477.8h0M463.0 477.6h0M470.9 477.2h0M360.3 481.9h0M364.7 479.9h0M366.5 480.5h0M390.1 481.6h0M393.8 480.6h0M409.0 480.5h0M424.6 480.1h0M445.5 481.3h0M453.6 482.0h0M462.5 481.2h0M466.9 481.5h0M470.3 482.0h0M358.4 483.0h0M400.9 484.0h0M403.6 482.8h0M410.7 483.8h0M419.4 484.8h0M426.3 482.7h0M439.5 484.1h0M445.4 484.9h0M455.5 483.2h0M463.0 483.6h0M465.8 484.6h0M467.5 483.6h0M470.6 484.8h0M371.2 486.1h0M382.9 485.5h0M396.3 486.4h0M403.9 486.6h0M404.8 486.3h0M415.5 486.8h0M426.2 487.4h0M437.0 485.5h0M441.3 487.5h0M445.4 486.1h0M450.0 486.0h0M454.5 486.2h0M458.1 486.5h0M460.7 485.3h0M469.7 485.4h0M370.1 489.6h0M371.6 490.4h0M388.7 490.4h0M401.1 490.1h0M407.8 488.3h0M438.4 489.4h0M443.5 488.5h0M445.4 488.9h0M454.6 489.2h0M457.9 488.8h0M466.2 489.1h0M469.1 489.6h0M370.4 491.9h0M373.7 493.0h0M394.2 492.0h0M415.9 492.1h0M418.7 492.7h0M422.4 493.1h0M426.0 493.2h0M430.6 492.9h0M437.3 491.3h0M441.3 492.3h0M451.7 492.7h0M466.6 491.2h0M359.7 493.9h0M365.1 496.1h0M378.7 494.5h0M389.4 495.7h0M413.7 494.7h0M429.4 495.0h0M433.0 495.8h0M436.3 494.8h0M448.0 495.8h0M452.2 493.7h0M461.6 494.7h0M467.7 494.4h0M369.7 497.5h0M374.2 497.4h0M382.4 497.0h0M390.6 498.0h0M397.1 498.7h0M398.9 497.4h0M406.6 498.0h0M411.4 497.3h0M425.7 498.6h0M445.2 497.8h0M451.3 497.5h0M463.0 496.7h0M362.9 499.9h0M378.0 499.8h0M411.7 499.6h0M436.4 500.5h0M441.7 501.2h0M461.3 499.8h0M469.2 499.4h0M471.9 500.7h0M361.6 503.3h0M376.3 503.2h0M386.8 504.4h0M392.3 502.5h0M397.2 502.2h0M408.1 504.3h0M415.0 503.1h0M419.6 502.6h0M424.6 504.4h0M429.3 504.3h0M438.8 502.4h0M440.5 502.5h0M448.6 502.1h0M459.8 503.7h0M469.0 503.6h0M358.7 505.2h0M362.8 506.9h0M366.5 507.2h0M368.7 506.9h0M381.5 506.9h0M388.8 505.3h0M394.5 506.6h0M399.0 506.4h0M402.3 505.2h0M406.8 505.3h0M410.9 507.1h0M414.8 505.4h0M426.3 505.2h0M429.9 505.7h0M434.3 505.4h0M436.7 507.2h0M447.0 505.8h0M456.7 505.8h0M464.1 506.6h0M364.7 509.1h0M366.7 509.9h0M387.8 508.9h0M390.9 509.3h0M412.1 509.3h0M418.8 509.6h0M428.1 509.2h0M430.9 508.8h0M434.3 508.0h0M454.7 507.9h0M366.0 510.5h0M391.9 510.9h0M397.8 512.7h0M410.8 511.1h0M419.8 510.4h0M427.7 512.6h0M433.9 511.6h0M446.9 511.9h0M448.4 512.0h0M461.6 512.7h0M365.2 515.4h0M370.8 514.1h0M382.6 514.6h0M400.7 513.6h0M403.5 514.1h0M409.3 514.9h0M414.5 513.6h0M422.8 513.7h0M425.0 513.7h0M447.8 515.3h0M450.0 514.1h0M454.4 513.5h0M456.8 513.8h0M459.5 515.2h0M366.5 517.5h0M376.2 517.3h0M380.8 518.1h0M408.5 517.8h0M414.8 517.3h0M424.2 516.0h0M430.0 517.2h0M437.3 517.1h0M440.4 517.5h0M441.7 517.0h0M453.0 516.2h0M456.0 517.1h0M459.5 516.2h0M464.8 516.8h0M370.5 520.9h0M374.6 520.0h0M376.1 520.0h0M387.3 520.8h0M401.9 519.8h0M412.7 518.8h0M414.9 520.3h0M425.2 521.0h0M427.8 519.3h0M442.2 519.1h0M446.7 519.4h0M453.3 519.9h0M457.5 520.1h0" stroke="#5a3e22" stroke-width="1.3" stroke-linecap="round" fill="none" stroke-opacity="0.7"/>
</g>
<ellipse cx="398" cy="449" rx="6.6" ry="9.8" fill="#d8caa8" transform="rotate(8 398 449)"/>
<ellipse cx="425.4" cy="500.2" rx="18.4" ry="20" fill="#d8caa8"/>
<path d="M424.5 481.2h0M426.8 481.8h0M419.2 484.3h0M420.2 484.3h0M422.9 483.8h0M425.2 484.0h0M427.8 483.7h0M431.2 483.9h0M415.5 485.9h0M417.7 485.1h0M420.2 486.1h0M422.6 485.1h0M425.1 486.4h0M428.1 485.6h0M429.6 485.6h0M431.8 486.1h0M434.3 486.1h0M413.0 488.4h0M415.5 487.0h0M418.0 487.8h0M421.2 487.2h0M422.8 487.8h0M431.9 488.3h0M433.6 487.9h0M435.5 488.5h0M411.4 490.2h0M414.2 490.5h0M417.3 490.7h0M420.3 489.5h0M421.9 489.4h0M424.6 490.2h0M426.5 490.7h0M429.3 490.6h0M433.1 489.6h0M434.1 490.2h0M437.9 489.9h0M439.6 490.7h0M410.8 493.0h0M414.3 492.9h0M416.3 492.8h0M419.2 491.7h0M421.5 493.0h0M422.6 492.5h0M426.4 492.4h0M427.8 491.9h0M432.7 491.7h0M436.4 491.3h0M438.8 491.3h0M440.9 492.0h0M409.7 493.9h0M413.0 493.5h0M414.3 493.9h0M416.4 494.2h0M422.7 494.8h0M425.2 495.1h0M427.8 494.0h0M430.3 495.1h0M431.7 494.2h0M434.2 494.0h0M437.3 494.4h0M440.1 493.6h0M411.6 496.1h0M413.0 496.8h0M416.9 497.1h0M418.7 497.0h0M421.2 495.7h0M424.3 495.7h0M425.9 495.9h0M428.2 496.7h0M433.7 497.3h0M439.2 496.1h0M440.6 496.9h0M408.9 498.2h0M411.8 498.7h0M416.5 498.8h0M418.9 497.8h0M422.5 499.3h0M423.9 497.8h0M428.0 498.2h0M430.1 499.0h0M431.4 498.3h0M434.2 498.1h0M437.4 498.4h0M439.1 497.8h0M411.1 500.4h0M413.8 500.3h0M416.5 501.2h0M418.8 500.0h0M421.8 500.6h0M424.0 499.9h0M426.0 501.3h0M427.8 501.5h0M430.5 501.2h0M432.8 500.5h0M437.9 500.2h0M440.5 501.3h0M409.7 502.3h0M412.3 503.6h0M415.6 502.7h0M417.7 502.3h0M420.5 503.3h0M422.0 502.3h0M424.9 502.7h0M426.4 502.8h0M430.5 503.2h0M432.2 503.1h0M434.3 502.9h0M436.5 503.5h0M439.0 502.8h0M441.5 502.6h0M409.1 505.0h0M411.3 504.3h0M412.9 504.7h0M415.8 504.5h0M419.1 505.4h0M420.4 505.4h0M423.9 505.9h0M426.0 504.9h0M429.0 505.2h0M430.2 505.8h0M434.0 504.7h0M436.2 505.7h0M438.4 505.2h0M409.4 507.3h0M411.8 508.0h0M414.3 508.2h0M416.4 507.6h0M419.7 507.7h0M422.7 507.2h0M424.7 507.3h0M427.6 507.1h0M429.9 507.3h0M432.2 506.6h0M435.1 507.3h0M436.8 507.5h0M411.2 509.0h0M413.5 510.3h0M416.6 508.9h0M419.1 509.4h0M420.4 509.9h0M423.1 510.2h0M426.2 509.5h0M428.5 510.4h0M430.8 509.1h0M432.6 509.0h0M436.0 510.1h0M437.9 508.8h0M440.7 509.0h0M412.7 510.8h0M417.8 511.4h0M420.5 512.4h0M425.5 511.7h0M427.0 511.6h0M430.3 511.1h0M435.1 511.6h0M415.9 513.8h0M418.4 514.3h0M421.0 513.9h0M424.3 513.8h0M425.4 513.7h0M428.7 513.7h0M431.2 513.7h0M434.0 514.5h0M436.0 514.1h0M417.8 515.8h0M423.0 515.5h0M424.9 515.8h0M426.4 516.1h0M429.0 515.7h0M431.6 515.9h0M421.1 517.9h0M422.9 517.4h0M427.7 518.5h0" stroke="#4a3624" stroke-width="1.3" stroke-linecap="round" fill="none" stroke-opacity="0.8"/>
<path d="M396.5 440.6h0M396.0 441.7h0M399.0 443.3h0M401.7 442.0h0M394.8 444.9h0M397.2 444.0h0M399.9 444.3h0M402.3 445.3h0M396.7 447.3h0M397.9 446.6h0M392.0 448.4h0M394.2 449.5h0M397.5 448.5h0M399.7 448.4h0M401.8 449.3h0M394.0 451.2h0M395.3 450.8h0M398.0 450.9h0M401.6 450.8h0M392.9 453.1h0M395.5 453.7h0M396.6 453.9h0M399.0 452.7h0M395.3 455.8h0M398.9 455.6h0M397.8 457.8h0" stroke="#4a3624" stroke-width="1.3" stroke-linecap="round" fill="none" stroke-opacity="0.8"/>
<ellipse cx="398" cy="449" rx="6.6" ry="9.8" fill="none" stroke="#e04848" stroke-width="0.8" transform="rotate(8 398 449)"/>
<ellipse cx="425.4" cy="500.2" rx="18.4" ry="20" fill="none" stroke="#e04848" stroke-width="0.8"/>
<g clip-path="url(#cp20)">
<path d="M411.9 566.9 L420.8 564.6 L432.1 568.0 L442.2 565.7 L453.4 564.6 L464.7 565.7 L469.7 570.2 L469.2 577.0 L462.4 582.6 L453.4 586.0 L445.6 587.1 L442.2 594.9 L437.7 599.4 L428.7 599.4 L422.0 594.9 L418.6 589.3 L413.0 583.7 L411.9 574.7 Z" fill="#cfc2b0"/>
<path d="M358 526 L362 526 L361.5 540 L360 549 L358 550 Z" fill="#e8e6e2"/>
<path d="M358.5 542.8 L372.5 550.7 L390 555 L402.3 562 L412.8 565.5 M407.6 537.5 L409.3 560.3 M407.6 537.5 L413 529 L439 527 M358.5 530.5 L367.3 546.3 M402 575 L400 585 L406 600" fill="none" stroke="#ebe8e4" stroke-width="1.3"/>
</g>
<g clip-path="url(#cp20)">
<path d="M360.1 528.4h0M363.8 528.3h0M373.1 526.5h0M375.7 528.2h0M380.9 529.0h0M384.5 528.6h0M387.4 526.5h0M393.7 528.9h0M397.8 527.9h0M404.8 527.9h0M411.8 527.3h0M418.7 528.9h0M423.1 528.5h0M431.3 526.7h0M448.2 527.1h0M452.2 528.8h0M459.5 527.1h0M461.4 529.0h0M464.5 528.7h0M365.0 529.9h0M367.0 531.5h0M371.5 529.4h0M381.5 529.5h0M393.2 531.3h0M398.6 531.8h0M401.0 531.9h0M409.8 530.1h0M413.6 529.4h0M423.8 530.3h0M425.9 530.1h0M433.6 530.5h0M438.5 531.5h0M451.1 529.5h0M456.9 531.2h0M460.4 531.7h0M469.1 530.6h0M384.5 532.3h0M386.1 532.7h0M392.7 533.1h0M397.1 534.9h0M399.4 532.6h0M403.6 533.0h0M411.0 533.3h0M434.6 533.3h0M442.1 534.6h0M450.4 533.0h0M463.9 532.5h0M468.9 534.2h0M361.8 536.2h0M365.4 537.8h0M368.6 535.4h0M381.5 537.0h0M392.6 536.1h0M395.9 535.9h0M402.9 537.2h0M404.6 537.8h0M408.6 537.1h0M411.7 537.8h0M414.6 535.3h0M419.6 537.8h0M425.6 537.4h0M429.4 536.2h0M432.3 536.2h0M439.4 535.4h0M444.0 535.6h0M447.4 536.0h0M453.4 535.5h0M363.0 540.0h0M369.0 539.1h0M372.7 539.9h0M387.9 538.8h0M397.5 539.5h0M401.1 540.3h0M409.8 538.8h0M421.0 538.6h0M423.5 539.7h0M426.9 539.6h0M433.6 539.0h0M448.3 540.6h0M451.0 539.3h0M453.7 540.2h0M466.1 540.3h0M467.7 538.5h0M361.2 542.8h0M365.3 541.7h0M367.8 543.5h0M381.2 543.3h0M384.4 541.8h0M387.5 542.8h0M392.4 542.6h0M397.6 543.6h0M402.0 543.2h0M405.7 543.6h0M408.9 541.6h0M411.6 541.4h0M415.5 542.6h0M419.1 542.3h0M425.1 543.5h0M428.6 542.0h0M431.5 541.3h0M440.4 541.7h0M443.3 542.6h0M450.3 542.1h0M452.8 542.2h0M460.1 543.5h0M466.8 542.8h0M469.9 542.6h0M367.7 545.5h0M377.1 545.8h0M381.3 545.4h0M387.0 546.1h0M390.1 546.1h0M397.6 545.6h0M418.8 545.3h0M424.1 544.9h0M428.3 544.8h0M435.3 545.1h0M437.3 544.3h0M441.6 544.4h0M452.2 545.6h0M454.1 546.1h0M457.8 546.2h0M465.0 546.7h0M361.7 549.4h0M365.7 548.9h0M367.5 548.2h0M370.7 548.5h0M374.0 547.2h0M385.1 548.5h0M394.5 548.8h0M397.8 547.4h0M402.9 547.9h0M409.3 549.0h0M417.0 547.7h0M426.3 549.3h0M429.7 547.4h0M437.3 549.1h0M442.5 548.3h0M459.4 547.3h0M462.7 549.4h0M361.8 550.5h0M371.0 551.8h0M386.0 551.7h0M390.5 550.9h0M392.6 550.4h0M396.5 550.8h0M400.7 551.3h0M406.4 552.6h0M415.3 551.6h0M420.7 551.5h0M425.4 550.1h0M426.9 550.1h0M430.8 552.4h0M434.3 552.3h0M436.7 551.1h0M442.1 552.1h0M444.2 551.9h0M457.0 552.5h0M460.6 551.7h0M464.0 550.8h0M468.4 550.4h0M369.0 553.7h0M372.8 555.3h0M380.8 555.4h0M385.1 554.4h0M403.2 553.1h0M409.3 553.0h0M419.3 553.2h0M422.9 553.7h0M427.0 554.2h0M431.9 553.8h0M437.1 554.0h0M440.6 553.2h0M443.8 553.1h0M447.7 553.9h0M449.9 554.5h0M456.9 553.4h0M458.7 553.8h0M470.5 553.8h0M364.2 557.5h0M383.2 557.4h0M385.9 557.3h0M390.6 556.1h0M395.9 557.2h0M401.7 558.3h0M404.7 557.3h0M407.3 556.2h0M411.7 556.5h0M414.9 557.9h0M417.5 556.9h0M425.3 557.3h0M430.0 556.3h0M433.6 556.9h0M438.1 557.4h0M448.6 556.6h0M452.1 557.0h0M454.7 556.4h0M458.8 557.9h0M465.2 557.5h0M361.9 561.3h0M374.2 559.2h0M377.2 560.1h0M383.0 559.6h0M384.9 560.8h0M392.9 559.0h0M399.8 560.6h0M409.3 559.5h0M417.0 559.5h0M418.2 561.5h0M423.0 559.3h0M428.7 560.5h0M432.4 559.6h0M444.1 561.5h0M446.7 559.4h0M454.4 559.5h0M463.4 560.6h0M467.4 560.4h0M470.8 559.0h0M359.6 563.4h0M362.3 563.5h0M373.5 564.0h0M375.8 563.5h0M379.9 564.3h0M386.9 563.4h0M397.9 562.9h0M410.5 563.0h0M414.7 562.7h0M424.2 563.8h0M427.9 562.7h0M430.7 563.0h0M434.0 563.4h0M451.1 563.7h0M457.6 562.2h0M466.0 564.0h0M369.2 564.9h0M376.2 565.5h0M378.6 565.9h0M380.9 566.2h0M385.9 566.8h0M394.6 566.1h0M397.8 567.2h0M401.4 564.9h0M409.3 566.8h0M415.2 566.2h0M449.6 565.4h0M469.7 565.4h0M360.7 568.4h0M370.6 568.5h0M374.5 568.0h0M379.1 569.7h0M394.7 568.2h0M396.3 570.3h0M400.1 568.1h0M402.9 568.4h0M408.5 568.2h0M410.1 568.7h0M419.9 568.9h0M452.0 569.0h0M455.0 569.4h0M460.5 568.4h0M362.5 572.3h0M382.7 572.9h0M396.1 572.3h0M403.1 571.2h0M406.8 571.9h0M408.0 572.0h0M412.0 571.6h0M360.4 576.3h0M383.6 575.6h0M387.8 575.2h0M389.1 574.0h0M392.6 576.2h0M396.6 574.7h0M401.3 575.6h0M407.1 574.9h0M421.0 576.2h0M444.4 574.5h0M365.6 577.0h0M368.3 576.9h0M379.7 576.7h0M389.2 577.7h0M393.2 578.6h0M394.5 577.3h0M403.1 578.5h0M404.8 576.7h0M435.4 577.4h0M445.1 579.2h0M470.6 578.9h0M359.2 582.1h0M361.8 580.8h0M376.9 581.3h0M390.6 581.7h0M396.9 579.6h0M407.6 581.1h0M410.8 580.6h0M425.0 579.7h0M443.8 582.2h0M367.9 584.8h0M371.7 584.9h0M384.7 584.2h0M388.2 582.6h0M391.9 583.4h0M399.3 583.7h0M403.0 583.2h0M407.8 583.4h0M426.0 584.7h0M433.0 583.1h0M470.7 584.0h0M360.3 585.8h0M366.1 586.4h0M374.5 587.6h0M375.4 587.1h0M384.1 587.6h0M388.2 587.8h0M390.8 586.6h0M396.5 587.4h0M399.8 586.1h0M406.9 586.6h0M426.9 586.6h0M430.1 588.1h0M362.2 589.7h0M368.9 590.6h0M371.4 589.9h0M380.7 589.1h0M387.4 590.2h0M393.0 590.8h0M396.6 589.0h0M397.6 590.7h0M401.7 590.9h0M405.7 590.7h0M413.3 591.0h0M415.0 590.2h0M423.2 589.4h0M466.7 589.8h0M360.7 593.6h0M363.0 593.8h0M366.1 593.5h0M390.9 593.9h0M395.8 593.1h0M401.0 593.5h0M407.3 593.2h0M430.9 592.1h0M368.3 597.0h0M374.7 597.0h0M378.5 596.1h0M381.0 594.8h0M409.7 595.3h0M435.2 596.8h0M456.7 596.4h0M362.0 598.7h0M372.3 599.9h0M376.6 597.7h0M379.0 598.4h0M382.6 597.4h0M390.2 599.1h0M401.5 598.8h0M408.1 597.7h0M417.5 598.9h0M361.7 602.8h0M365.6 600.4h0M370.7 601.2h0M377.4 602.3h0M382.7 600.9h0M386.0 601.8h0M406.5 601.8h0M411.4 601.5h0M416.9 601.9h0M426.3 601.3h0M442.2 600.7h0M445.6 600.5h0M449.6 600.6h0M453.1 601.5h0M455.5 601.5h0M459.1 602.2h0M462.3 602.5h0M465.9 602.8h0M362.3 605.0h0M366.2 603.8h0M373.9 605.8h0M376.0 605.7h0M383.6 604.7h0M392.5 605.6h0M397.5 605.4h0M401.0 604.9h0M404.9 605.2h0M410.8 603.4h0M413.5 605.0h0M417.8 604.8h0M420.8 605.8h0M427.5 603.5h0M431.7 605.1h0M434.8 605.8h0M437.7 604.5h0M445.3 604.2h0M447.8 603.9h0M451.8 605.7h0M462.6 603.6h0M463.8 605.6h0M360.2 606.7h0M364.5 606.9h0M371.4 606.7h0M377.3 606.7h0M382.5 608.6h0M389.7 607.6h0M392.7 608.6h0M394.5 607.5h0M397.7 607.2h0M404.3 607.6h0M407.8 607.7h0M411.3 606.5h0M418.3 608.4h0M423.2 608.0h0M425.4 606.8h0M428.4 608.8h0M431.6 606.9h0M437.2 607.7h0M443.4 607.7h0M448.9 607.0h0M456.3 608.2h0M460.6 608.5h0M462.5 608.2h0M466.2 607.5h0M469.6 608.6h0" stroke="#3f2a18" stroke-width="1.4" stroke-linecap="round" fill="none" stroke-opacity="0.8"/>
<path d="M370.4 527.0h0M391.4 528.7h0M399.4 528.0h0M408.3 528.0h0M413.2 526.9h0M422.1 527.5h0M434.2 527.0h0M441.3 527.1h0M443.6 527.4h0M455.0 528.8h0M360.4 530.5h0M373.9 530.1h0M385.8 531.3h0M388.4 531.0h0M406.1 530.5h0M415.6 529.6h0M418.0 530.2h0M428.7 530.6h0M435.5 529.4h0M442.0 529.9h0M445.5 531.1h0M462.3 531.1h0M467.2 530.6h0M364.3 533.8h0M367.4 533.0h0M371.1 534.0h0M374.5 534.5h0M376.2 532.8h0M380.3 533.2h0M390.1 532.4h0M408.1 534.4h0M412.9 533.3h0M425.0 534.8h0M431.5 534.4h0M438.1 534.2h0M444.5 533.1h0M453.7 533.7h0M372.8 537.0h0M375.8 535.3h0M378.5 537.8h0M384.9 536.2h0M389.4 536.0h0M398.3 536.1h0M436.1 535.3h0M464.3 536.7h0M465.6 535.4h0M359.5 540.5h0M367.7 540.7h0M383.7 538.7h0M402.7 539.1h0M413.8 539.1h0M416.3 539.7h0M430.5 540.8h0M457.3 540.8h0M460.9 540.5h0M372.1 543.7h0M378.3 543.2h0M394.4 542.7h0M422.8 543.5h0M436.3 543.8h0M446.0 542.3h0M456.0 543.7h0M463.9 542.9h0M360.3 546.6h0M363.9 545.7h0M370.6 546.4h0M373.8 546.5h0M401.4 546.3h0M403.1 544.8h0M406.1 546.5h0M410.7 546.6h0M415.3 545.0h0M420.1 546.1h0M444.6 545.8h0M461.9 544.6h0M377.4 548.5h0M381.4 547.1h0M388.3 547.6h0M406.4 547.8h0M411.2 549.5h0M419.3 549.0h0M423.4 548.3h0M432.4 548.4h0M438.3 547.8h0M445.9 548.7h0M449.3 548.6h0M453.6 547.8h0M455.9 549.0h0M466.3 549.3h0M470.2 547.2h0M360.8 550.4h0M367.4 550.8h0M373.3 550.7h0M377.9 550.8h0M380.6 551.5h0M383.9 551.5h0M417.4 550.8h0M448.9 551.0h0M452.2 551.6h0M374.7 553.4h0M378.0 554.7h0M389.6 553.6h0M392.4 553.4h0M395.1 555.1h0M412.9 554.1h0M414.8 555.5h0M428.5 554.9h0M454.0 554.3h0M462.2 555.2h0M467.6 553.9h0M366.4 557.3h0M370.3 557.1h0M372.3 558.6h0M376.1 558.2h0M379.1 558.3h0M394.1 557.2h0M421.4 557.7h0M441.8 557.3h0M445.3 557.6h0M461.9 558.3h0M468.7 556.8h0M364.9 561.0h0M369.4 560.6h0M371.8 559.1h0M387.8 561.5h0M396.6 560.8h0M402.0 559.1h0M411.4 560.8h0M437.4 560.4h0M438.5 561.4h0M451.0 559.4h0M456.4 561.4h0M461.1 559.9h0M367.2 562.2h0M369.6 563.6h0M389.4 563.1h0M394.0 562.1h0M403.0 564.5h0M407.3 563.2h0M438.3 562.3h0M448.1 562.6h0M455.3 562.8h0M461.2 562.0h0M361.2 565.5h0M364.4 565.1h0M388.5 565.7h0M391.3 566.0h0M406.0 565.7h0M419.4 567.4h0M428.8 565.4h0M459.4 566.1h0M363.8 568.8h0M367.4 569.6h0M375.5 569.8h0M382.7 569.3h0M385.9 569.9h0M390.1 569.6h0M464.4 569.0h0M371.6 571.4h0M373.7 571.2h0M377.3 572.6h0M384.3 572.2h0M389.8 571.1h0M430.2 573.2h0M369.1 573.9h0M372.4 575.4h0M376.5 575.5h0M379.2 574.6h0M403.6 575.4h0M410.4 574.8h0M466.1 574.0h0M362.4 576.8h0M371.9 576.7h0M375.8 578.3h0M382.8 578.2h0M384.3 578.1h0M398.8 577.2h0M409.0 578.4h0M449.8 578.5h0M367.7 581.6h0M370.3 581.4h0M374.1 581.5h0M380.3 581.1h0M384.7 580.6h0M387.0 580.4h0M401.5 579.9h0M404.6 580.4h0M448.2 581.8h0M450.9 581.9h0M361.6 582.9h0M376.3 584.6h0M377.6 584.6h0M380.7 584.2h0M395.6 585.0h0M411.8 583.7h0M464.6 584.0h0M370.5 586.3h0M380.4 588.1h0M394.7 587.9h0M404.6 586.3h0M409.6 587.4h0M435.1 587.7h0M363.7 589.9h0M375.9 588.8h0M377.7 589.9h0M385.0 589.5h0M441.9 588.8h0M450.2 589.9h0M370.5 592.0h0M374.5 591.8h0M376.2 591.8h0M379.7 593.9h0M383.2 592.4h0M387.4 592.3h0M394.2 592.8h0M404.4 593.7h0M410.4 594.0h0M361.1 595.7h0M371.3 594.5h0M388.8 595.3h0M391.3 595.3h0M394.6 596.8h0M398.6 595.8h0M401.6 594.7h0M411.1 595.8h0M360.4 598.9h0M369.5 599.4h0M388.0 598.4h0M392.5 598.6h0M397.2 598.6h0M410.4 597.7h0M441.2 598.3h0M455.9 598.2h0M367.6 601.9h0M374.9 601.2h0M389.3 601.8h0M392.4 602.0h0M395.1 601.2h0M400.0 600.8h0M401.1 602.8h0M407.8 600.9h0M419.2 601.6h0M421.6 601.4h0M430.2 601.1h0M432.2 602.2h0M437.1 602.8h0M439.5 602.7h0M360.3 605.1h0M368.7 605.2h0M379.6 603.6h0M390.1 604.6h0M407.3 603.5h0M424.0 604.9h0M453.9 603.4h0M457.2 605.1h0M467.8 604.5h0M368.6 608.1h0M375.8 607.7h0M401.8 607.6h0M440.6 606.4h0M446.9 608.5h0M454.3 606.4h0" stroke="#5a3e22" stroke-width="1.3" stroke-linecap="round" fill="none" stroke-opacity="0.7"/>
</g>
<path d="M413.0 582.6 L420.8 583.7 L421.4 588.8 L417.5 590.4 L413.5 587.1 Z" fill="#8a6a3c" opacity="0.8"/>
<path d="M427.6 575.8 L435.4 578.1 L434.3 583.7 L428.7 583.7 Z" fill="#9a7a4c" opacity="0.6"/>
<path d="M448.9 580.3 L462.4 578.1 L468.0 574.7 L466.9 579.2 L457.9 583.7 L448.9 584.8 Z" fill="#b09070" opacity="0.6"/>
<path d="M459.2 581.3h0M435.1 574.4h0M424.3 584.2h0M463.5 573.2h0M432.1 567.4h0M464.4 568.7h0M430.8 582.3h0M445.2 565.9h0M457.2 570.4h0M445.9 568.7h0M420.6 570.2h0M435.5 566.9h0M424.4 579.6h0M439.5 571.0h0M446.8 582.4h0M424.9 566.3h0M451.7 576.6h0M431.9 570.0h0M447.4 575.9h0M423.6 581.3h0M447.0 569.2h0M439.2 570.1h0M447.6 568.8h0M449.5 581.2h0M442.2 566.7h0M456.0 570.5h0M423.4 567.1h0M430.4 568.9h0M435.9 567.9h0M445.2 566.8h0M421.0 583.5h0M452.7 583.0h0M421.6 580.5h0M450.8 575.0h0M455.9 578.8h0M432.9 572.3h0M429.2 567.7h0M449.1 576.5h0M451.2 582.5h0M439.3 568.0h0" stroke="#7c86c0" stroke-width="1.5" stroke-linecap="round" fill="none" stroke-opacity="0.7"/>
<ellipse cx="444.4" cy="573.6" rx="7.2" ry="3.3" fill="#d4b48a" stroke="#5e3a1c" stroke-width="1.1" transform="rotate(-22 444.4 573.6)"/>
<path d="M428.7 586.0 L442.2 583.7 L443.3 590.4 L438.8 598.3 L428.7 599.4 L425.3 594.9 Z" fill="#e8e4e0"/>
<path d="M416.2 538.3 L424.6 531.7 L437.9 530.8 L447.9 535.0 L451.2 546.6 L447.9 553.3 L442.9 559.9 L434.5 561.6 L427.9 557.4 L421.2 560.8 L415.4 556.6 L414.6 548.3 Z" fill="#cdb894"/>
<path d="M363.8 589.9 L371.3 576.6 L383.0 568.3 L396.3 564.6 L406.3 567.4 L411.2 574.9 L411.2 586.6 L417.9 587.4 L416.2 593.2 L411.2 598.2 L406.3 604.9 L391.3 604.5 L374.6 601.5 L364.7 596.5 Z" fill="#cdb894"/>
<path d="M423.5 534.3h0M426.8 533.9h0M428.2 533.2h0M431.4 534.2h0M433.7 533.1h0M436.6 534.1h0M439.6 533.8h0M422.7 536.1h0M424.4 535.9h0M428.1 536.2h0M430.9 535.2h0M432.8 535.4h0M435.2 535.8h0M438.8 536.9h0M442.7 536.4h0M418.9 538.2h0M421.0 538.6h0M423.3 538.3h0M425.9 537.6h0M429.2 537.9h0M433.6 538.0h0M437.1 539.1h0M439.4 538.1h0M441.8 537.5h0M445.1 537.6h0M446.5 537.9h0M416.8 541.4h0M419.4 540.3h0M421.7 539.8h0M424.2 540.7h0M427.6 541.3h0M430.7 540.4h0M433.4 541.4h0M435.4 540.3h0M438.3 541.0h0M440.0 540.1h0M443.2 540.3h0M419.0 543.3h0M421.3 543.7h0M423.8 542.4h0M427.0 543.0h0M429.3 542.3h0M430.9 543.5h0M433.5 543.0h0M436.8 543.4h0M438.4 543.6h0M441.4 542.5h0M445.2 542.7h0M447.9 542.9h0M448.9 543.6h0M417.6 544.8h0M420.2 545.3h0M423.1 545.7h0M424.5 545.2h0M427.5 544.2h0M430.8 546.0h0M432.0 545.4h0M434.6 544.6h0M437.9 545.1h0M439.9 545.2h0M443.6 546.0h0M419.1 547.6h0M420.7 547.1h0M424.3 547.4h0M426.6 546.8h0M429.6 547.8h0M432.4 547.7h0M434.7 547.6h0M436.6 547.3h0M439.5 548.2h0M442.5 547.1h0M445.3 547.7h0M447.6 548.1h0M417.6 548.8h0M420.6 550.2h0M421.6 549.5h0M424.3 549.4h0M428.3 549.2h0M435.4 550.0h0M438.8 549.3h0M441.4 550.1h0M442.9 550.1h0M418.0 551.7h0M424.1 551.2h0M427.0 552.4h0M429.1 551.7h0M432.3 552.8h0M437.4 551.3h0M439.6 552.6h0M442.0 552.5h0M447.1 551.9h0M420.4 553.6h0M423.2 554.6h0M425.6 554.6h0M428.1 554.0h0M433.5 554.6h0M438.2 554.1h0M440.3 554.7h0M443.5 554.7h0M445.2 554.1h0M421.6 555.8h0M424.6 556.9h0M425.6 555.7h0M429.2 557.1h0M431.8 556.0h0M434.5 557.2h0M437.6 556.9h0M439.3 557.3h0M442.8 557.3h0M423.0 558.1h0M425.6 559.5h0M426.9 558.5h0M430.5 558.9h0M432.2 558.0h0M434.6 558.7h0M437.2 559.2h0M440.2 559.1h0M429.8 560.2h0M434.9 560.1h0M436.4 560.5h0" stroke="#4a3624" stroke-width="1.3" stroke-linecap="round" fill="none" stroke-opacity="0.8"/>
<path d="M380.0 568.4h0M382.3 568.3h0M384.7 567.5h0M391.1 568.3h0M396.6 567.6h0M373.8 570.6h0M376.7 570.2h0M379.2 570.6h0M381.3 569.6h0M384.3 570.4h0M392.0 569.4h0M397.6 569.4h0M399.1 569.9h0M373.3 572.6h0M375.7 572.6h0M378.0 571.6h0M380.0 571.7h0M384.9 572.6h0M388.5 571.7h0M390.0 572.1h0M392.7 572.6h0M396.4 572.8h0M398.2 572.2h0M401.2 571.7h0M404.2 572.8h0M405.4 572.5h0M368.4 574.8h0M370.6 575.2h0M374.3 574.5h0M375.6 573.7h0M379.7 574.5h0M383.5 575.1h0M386.0 574.9h0M388.8 574.3h0M392.5 574.2h0M395.0 573.8h0M399.4 574.2h0M402.1 573.5h0M405.0 573.6h0M407.9 574.5h0M367.2 576.7h0M369.4 577.0h0M372.0 576.0h0M375.6 577.4h0M377.4 576.8h0M381.1 576.6h0M387.1 576.2h0M391.4 577.0h0M394.0 576.2h0M394.9 576.0h0M399.2 576.1h0M403.7 575.8h0M406.5 576.2h0M408.7 577.4h0M368.0 579.3h0M371.7 578.9h0M374.2 578.2h0M375.5 578.5h0M378.3 579.5h0M382.3 578.6h0M383.6 578.2h0M386.0 578.8h0M389.1 579.5h0M391.5 578.9h0M397.4 579.0h0M400.3 578.8h0M401.6 579.5h0M409.6 579.6h0M365.2 580.9h0M366.4 581.9h0M369.5 581.9h0M372.7 581.4h0M374.4 580.7h0M377.1 580.8h0M381.1 580.8h0M382.8 580.3h0M385.3 580.7h0M388.4 581.3h0M389.9 581.5h0M395.2 581.7h0M399.3 581.4h0M400.4 580.7h0M405.9 581.9h0M409.1 581.7h0M411.5 580.5h0M363.4 583.9h0M365.8 583.7h0M368.3 583.7h0M370.5 582.7h0M373.4 583.5h0M376.4 582.9h0M379.3 584.3h0M382.1 583.1h0M384.2 584.2h0M386.0 584.2h0M389.7 582.6h0M391.1 584.1h0M394.3 582.8h0M396.9 582.9h0M399.2 583.3h0M401.7 583.9h0M404.4 583.0h0M406.8 582.7h0M410.2 584.1h0M412.7 583.8h0M365.4 585.3h0M369.8 585.0h0M372.0 585.8h0M375.1 584.8h0M376.8 585.2h0M379.9 586.0h0M382.4 585.6h0M388.1 585.6h0M391.2 586.4h0M392.5 586.0h0M395.1 585.5h0M400.2 586.2h0M404.1 585.7h0M408.3 586.3h0M412.2 586.5h0M363.6 588.5h0M365.7 587.7h0M368.7 587.4h0M371.0 588.2h0M374.5 588.7h0M377.1 587.9h0M379.6 587.7h0M381.0 588.3h0M383.4 588.0h0M386.7 587.0h0M389.8 588.7h0M393.7 587.7h0M397.1 588.6h0M398.9 588.1h0M402.8 587.3h0M407.3 587.2h0M410.5 588.1h0M411.9 587.1h0M363.8 590.1h0M367.4 589.8h0M369.0 590.1h0M371.6 590.3h0M374.6 590.9h0M377.0 590.4h0M379.8 589.4h0M382.4 591.0h0M385.0 589.8h0M388.3 589.8h0M389.8 590.9h0M392.8 589.6h0M396.3 590.4h0M398.7 589.4h0M403.8 589.6h0M406.0 590.4h0M408.9 589.7h0M412.0 589.5h0M365.1 591.8h0M370.9 592.6h0M372.9 592.5h0M376.1 593.0h0M379.8 591.8h0M381.2 592.3h0M384.8 591.7h0M387.4 591.7h0M389.3 591.9h0M392.2 591.7h0M395.1 592.1h0M396.4 592.9h0M399.1 592.1h0M402.7 592.8h0M405.4 591.7h0M406.8 592.1h0M409.8 593.3h0M367.8 595.3h0M369.0 594.6h0M372.7 594.1h0M374.2 594.8h0M377.6 594.1h0M380.6 594.6h0M383.7 595.3h0M386.1 594.7h0M388.0 594.8h0M391.2 594.5h0M393.4 594.4h0M396.4 595.5h0M398.4 594.2h0M401.6 594.9h0M404.0 594.7h0M406.2 594.3h0M408.2 594.7h0M367.7 597.2h0M371.7 596.2h0M374.3 597.1h0M379.0 596.6h0M381.8 596.6h0M383.8 597.7h0M387.0 596.6h0M389.1 596.4h0M392.4 597.2h0M396.8 597.2h0M399.5 597.6h0M402.2 597.2h0M405.0 596.9h0M407.9 597.5h0M370.3 600.1h0M372.1 599.3h0M374.5 599.7h0M380.8 599.9h0M382.1 599.0h0M385.7 599.8h0M387.6 598.8h0M390.4 599.7h0M393.4 599.9h0M395.2 599.0h0M398.3 598.9h0M401.6 598.8h0M404.0 598.5h0M374.2 601.6h0M376.6 601.9h0M379.8 601.2h0M380.8 601.6h0M383.7 600.7h0M386.7 601.4h0M392.6 600.8h0M394.7 602.3h0M399.9 601.2h0M402.0 602.0h0M404.4 600.7h0M378.3 604.3h0M380.0 604.6h0M383.5 604.5h0M386.1 604.4h0M388.9 603.9h0M390.8 603.7h0M393.5 603.3h0M396.3 604.6h0M398.7 603.2h0M400.2 603.3h0M391.7 605.5h0" stroke="#4a3624" stroke-width="1.3" stroke-linecap="round" fill="none" stroke-opacity="0.8"/>
<path d="M416.2 538.3 L424.6 531.7 L437.9 530.8 L447.9 535.0 L451.2 546.6 L447.9 553.3 L442.9 559.9 L434.5 561.6 L427.9 557.4 L421.2 560.8 L415.4 556.6 L414.6 548.3 Z" fill="none" stroke="#e04848" stroke-width="0.8"/>
<path d="M363.8 589.9 L371.3 576.6 L383.0 568.3 L396.3 564.6 L406.3 567.4 L411.2 574.9 L411.2 586.6 L417.9 587.4 L416.2 593.2 L411.2 598.2 L406.3 604.9 L391.3 604.5 L374.6 601.5 L364.7 596.5 Z" fill="none" stroke="#e04848" stroke-width="0.8"/>
<line x1="360.00" y1="607.50" x2="378.00" y2="607.50" stroke="#5a2a2a" stroke-width="1.3"/>
<text x="367.60" y="605.00" font-size="5.4" text-anchor="middle" font-weight="bold" fill="#1a1a1a">120μm</text>
<text x="11.10" y="493.10" font-size="10" font-weight="bold" fill="#111" transform="rotate(-90 11.10 493.10)" textLength="16.1" lengthAdjust="spacingAndGlyphs" stroke="#111" stroke-width="0.35">Atm</text>
<text x="7.60" y="473.80" font-size="8.6" font-weight="bold" fill="#111" transform="rotate(-90 7.60 473.80)" stroke="#111" stroke-width="0.25">+/+</text>
<text x="11.00" y="579.00" font-size="10" font-weight="bold" fill="#111" transform="rotate(-90 11.00 579.00)" textLength="16.1" lengthAdjust="spacingAndGlyphs" stroke="#111" stroke-width="0.35">Atm</text>
<text x="8.70" y="558.80" font-size="8.6" font-weight="bold" fill="#111" transform="rotate(-90 8.70 558.80)" stroke="#111" stroke-width="0.25">-/-</text>
<text x="356.00" y="494.70" font-size="10" font-weight="bold" fill="#111" transform="rotate(-90 356.00 494.70)" textLength="16.2" lengthAdjust="spacingAndGlyphs" stroke="#111" stroke-width="0.35">Atm</text>
<text x="352.50" y="474.90" font-size="8.6" font-weight="bold" fill="#111" transform="rotate(-90 352.50 474.90)" stroke="#111" stroke-width="0.25">+/+</text>
<text x="356.00" y="580.00" font-size="10" font-weight="bold" fill="#111" transform="rotate(-90 356.00 580.00)" textLength="16.2" lengthAdjust="spacingAndGlyphs" stroke="#111" stroke-width="0.35">Atm</text>
<text x="353.70" y="559.70" font-size="8.6" font-weight="bold" fill="#111" transform="rotate(-90 353.70 559.70)" stroke="#111" stroke-width="0.25">-/-</text>
<line x1="361.00" y1="520.50" x2="368.00" y2="520.50" stroke="#d85050" stroke-width="1"/>
<line x1="45.50" y1="32.25" x2="45.50" y2="150.50" stroke="#111" stroke-width="1.3"/>
<line x1="42.00" y1="150.50" x2="45.60" y2="150.50" stroke="#111" stroke-width="1.3"/>
<text x="42.00" y="152.60" font-size="9.6" text-anchor="end" font-weight="normal" fill="#1a1a1a">0</text>
<line x1="42.00" y1="126.50" x2="45.60" y2="126.50" stroke="#111" stroke-width="1.3"/>
<text x="42.00" y="129.05" font-size="9.6" text-anchor="end" font-weight="normal" fill="#1a1a1a">100</text>
<line x1="42.00" y1="102.50" x2="45.60" y2="102.50" stroke="#111" stroke-width="1.3"/>
<text x="42.00" y="105.50" font-size="9.6" text-anchor="end" font-weight="normal" fill="#1a1a1a">200</text>
<line x1="42.00" y1="79.50" x2="45.60" y2="79.50" stroke="#111" stroke-width="1.3"/>
<text x="42.00" y="81.95" font-size="9.6" text-anchor="end" font-weight="normal" fill="#1a1a1a">300</text>
<line x1="42.00" y1="55.50" x2="45.60" y2="55.50" stroke="#111" stroke-width="1.3"/>
<text x="42.00" y="58.40" font-size="9.6" text-anchor="end" font-weight="normal" fill="#1a1a1a">400</text>
<line x1="42.00" y1="32.50" x2="45.60" y2="32.50" stroke="#111" stroke-width="1.3"/>
<text x="42.00" y="34.85" font-size="9.6" text-anchor="end" font-weight="normal" fill="#1a1a1a">500</text>
<line x1="45.50" y1="150.50" x2="222.40" y2="150.50" stroke="#111" stroke-width="1.1"/>
<line x1="58.50" y1="150.00" x2="58.50" y2="153.20" stroke="#111" stroke-width="1.1"/>
<text x="58.00" y="163.20" font-size="9.6" text-anchor="middle" font-weight="normal" fill="#1a1a1a">0</text>
<line x1="83.50" y1="150.00" x2="83.50" y2="153.20" stroke="#111" stroke-width="1.1"/>
<text x="83.40" y="163.20" font-size="9.6" text-anchor="middle" font-weight="normal" fill="#1a1a1a">15</text>
<line x1="108.50" y1="150.00" x2="108.50" y2="153.20" stroke="#111" stroke-width="1.1"/>
<text x="108.80" y="163.20" font-size="9.6" text-anchor="middle" font-weight="normal" fill="#1a1a1a">30</text>
<line x1="134.50" y1="150.00" x2="134.50" y2="153.20" stroke="#111" stroke-width="1.1"/>
<text x="134.20" y="163.20" font-size="9.6" text-anchor="middle" font-weight="normal" fill="#1a1a1a">45</text>
<line x1="159.50" y1="150.00" x2="159.50" y2="153.20" stroke="#111" stroke-width="1.1"/>
<text x="159.60" y="163.20" font-size="9.6" text-anchor="middle" font-weight="normal" fill="#1a1a1a">60</text>
<line x1="185.50" y1="150.00" x2="185.50" y2="153.20" stroke="#111" stroke-width="1.1"/>
<text x="185.00" y="163.20" font-size="9.6" text-anchor="middle" font-weight="normal" fill="#1a1a1a">75</text>
<line x1="210.50" y1="150.00" x2="210.50" y2="153.20" stroke="#111" stroke-width="1.1"/>
<text x="210.40" y="163.20" font-size="9.6" text-anchor="middle" font-weight="normal" fill="#1a1a1a">90</text>
<text x="134.80" y="173.20" font-size="8.8" text-anchor="middle" font-weight="normal" fill="#1a1a1a">Time (min)</text>
<text x="19.60" y="90.00" font-size="8.75" text-anchor="middle" font-weight="normal" fill="#1a1a1a" transform="rotate(-90 19.60 90.00)">Blood glucose level (mg/dL)</text>
<text x="176.00" y="38.00" font-size="14" text-anchor="middle" font-weight="bold" fill="#111">GTT</text>
<text x="83.50" y="31.80" font-size="14.2" text-anchor="middle" font-weight="bold" fill="#111">**</text>
<polyline points="58.00,120.60 83.40,45.00 108.80,40.40 134.20,63.10 159.60,77.60 185.00,84.00 210.40,92.00" fill="none" stroke="#ee2c27" stroke-width="1.1"/>
<line x1="83.50" y1="35.40" x2="83.50" y2="54.40" stroke="#ee2c27" stroke-width="1.0"/>
<line x1="81.20" y1="35.50" x2="85.60" y2="35.50" stroke="#ee2c27" stroke-width="1.0"/>
<line x1="81.20" y1="54.50" x2="85.60" y2="54.50" stroke="#ee2c27" stroke-width="1.0"/>
<line x1="108.50" y1="38.40" x2="108.50" y2="42.60" stroke="#ee2c27" stroke-width="1.0"/>
<line x1="106.60" y1="38.50" x2="111.00" y2="38.50" stroke="#ee2c27" stroke-width="1.0"/>
<line x1="106.60" y1="42.50" x2="111.00" y2="42.50" stroke="#ee2c27" stroke-width="1.0"/>
<line x1="134.50" y1="58.00" x2="134.50" y2="68.00" stroke="#ee2c27" stroke-width="1.0"/>
<line x1="132.00" y1="58.50" x2="136.40" y2="58.50" stroke="#ee2c27" stroke-width="1.0"/>
<line x1="132.00" y1="68.50" x2="136.40" y2="68.50" stroke="#ee2c27" stroke-width="1.0"/>
<line x1="159.50" y1="69.60" x2="159.50" y2="85.00" stroke="#ee2c27" stroke-width="1.0"/>
<line x1="157.40" y1="69.50" x2="161.80" y2="69.50" stroke="#ee2c27" stroke-width="1.0"/>
<line x1="157.40" y1="85.50" x2="161.80" y2="85.50" stroke="#ee2c27" stroke-width="1.0"/>
<line x1="185.50" y1="74.40" x2="185.50" y2="92.40" stroke="#ee2c27" stroke-width="1.0"/>
<line x1="182.80" y1="74.50" x2="187.20" y2="74.50" stroke="#ee2c27" stroke-width="1.0"/>
<line x1="182.80" y1="92.50" x2="187.20" y2="92.50" stroke="#ee2c27" stroke-width="1.0"/>
<line x1="210.50" y1="85.60" x2="210.50" y2="100.00" stroke="#ee2c27" stroke-width="1.0"/>
<line x1="208.20" y1="85.50" x2="212.60" y2="85.50" stroke="#ee2c27" stroke-width="1.0"/>
<line x1="208.20" y1="100.50" x2="212.60" y2="100.50" stroke="#ee2c27" stroke-width="1.0"/>
<circle cx="58.00" cy="120.60" r="2.0" fill="#ee2c27"/>
<circle cx="83.40" cy="45.00" r="2.0" fill="#ee2c27"/>
<circle cx="108.80" cy="40.40" r="2.0" fill="#ee2c27"/>
<circle cx="134.20" cy="63.10" r="2.0" fill="#ee2c27"/>
<circle cx="159.60" cy="77.60" r="2.0" fill="#ee2c27"/>
<circle cx="185.00" cy="84.00" r="2.0" fill="#ee2c27"/>
<circle cx="210.40" cy="92.00" r="2.0" fill="#ee2c27"/>
<polyline points="58.00,124.40 83.40,78.40 108.80,61.60 134.20,67.50 159.60,80.00 185.00,87.00 210.40,93.00" fill="none" stroke="#111" stroke-width="1.1"/>
<line x1="83.50" y1="73.00" x2="83.50" y2="83.60" stroke="#111" stroke-width="1.0"/>
<line x1="81.20" y1="73.50" x2="85.60" y2="73.50" stroke="#111" stroke-width="1.0"/>
<line x1="81.20" y1="83.50" x2="85.60" y2="83.50" stroke="#111" stroke-width="1.0"/>
<line x1="108.50" y1="55.40" x2="108.50" y2="68.00" stroke="#111" stroke-width="1.0"/>
<line x1="106.60" y1="55.50" x2="111.00" y2="55.50" stroke="#111" stroke-width="1.0"/>
<line x1="106.60" y1="68.50" x2="111.00" y2="68.50" stroke="#111" stroke-width="1.0"/>
<line x1="134.50" y1="59.40" x2="134.50" y2="75.50" stroke="#111" stroke-width="1.0"/>
<line x1="132.00" y1="59.50" x2="136.40" y2="59.50" stroke="#111" stroke-width="1.0"/>
<line x1="132.00" y1="75.50" x2="136.40" y2="75.50" stroke="#111" stroke-width="1.0"/>
<line x1="159.50" y1="71.00" x2="159.50" y2="88.00" stroke="#111" stroke-width="1.0"/>
<line x1="157.40" y1="71.50" x2="161.80" y2="71.50" stroke="#111" stroke-width="1.0"/>
<line x1="157.40" y1="88.50" x2="161.80" y2="88.50" stroke="#111" stroke-width="1.0"/>
<line x1="185.50" y1="80.00" x2="185.50" y2="94.00" stroke="#111" stroke-width="1.0"/>
<line x1="182.80" y1="80.50" x2="187.20" y2="80.50" stroke="#111" stroke-width="1.0"/>
<line x1="182.80" y1="94.50" x2="187.20" y2="94.50" stroke="#111" stroke-width="1.0"/>
<line x1="210.50" y1="88.00" x2="210.50" y2="97.60" stroke="#111" stroke-width="1.0"/>
<line x1="208.20" y1="88.50" x2="212.60" y2="88.50" stroke="#111" stroke-width="1.0"/>
<line x1="208.20" y1="97.50" x2="212.60" y2="97.50" stroke="#111" stroke-width="1.0"/>
<circle cx="58.00" cy="124.40" r="2.0" fill="#111"/>
<circle cx="83.40" cy="78.40" r="2.0" fill="#111"/>
<circle cx="108.80" cy="61.60" r="2.0" fill="#111"/>
<circle cx="134.20" cy="67.50" r="2.0" fill="#111"/>
<circle cx="159.60" cy="80.00" r="2.0" fill="#111"/>
<circle cx="185.00" cy="87.00" r="2.0" fill="#111"/>
<circle cx="210.40" cy="93.00" r="2.0" fill="#111"/>
<line x1="294.50" y1="24.00" x2="294.50" y2="150.50" stroke="#111" stroke-width="1.1"/>
<line x1="290.80" y1="122.50" x2="294.40" y2="122.50" stroke="#111" stroke-width="1.1"/>
<text x="289.80" y="125.40" font-size="9.6" text-anchor="end" font-weight="normal" fill="#1a1a1a">100</text>
<line x1="290.80" y1="94.50" x2="294.40" y2="94.50" stroke="#111" stroke-width="1.1"/>
<text x="289.80" y="97.40" font-size="9.6" text-anchor="end" font-weight="normal" fill="#1a1a1a">200</text>
<line x1="290.80" y1="65.50" x2="294.40" y2="65.50" stroke="#111" stroke-width="1.1"/>
<text x="289.80" y="69.40" font-size="9.6" text-anchor="end" font-weight="normal" fill="#1a1a1a">300</text>
<line x1="290.80" y1="37.50" x2="294.40" y2="37.50" stroke="#111" stroke-width="1.1"/>
<text x="289.80" y="41.40" font-size="9.6" text-anchor="end" font-weight="normal" fill="#1a1a1a">400</text>
<line x1="247.00" y1="150.50" x2="435.60" y2="150.50" stroke="#111" stroke-width="1.1"/>
<line x1="259.50" y1="150.00" x2="259.50" y2="153.20" stroke="#111" stroke-width="1.1"/>
<text x="259.00" y="162.40" font-size="9.6" text-anchor="middle" font-weight="normal" fill="#1a1a1a">-30</text>
<line x1="282.50" y1="150.00" x2="282.50" y2="153.20" stroke="#111" stroke-width="1.1"/>
<text x="282.60" y="162.40" font-size="9.6" text-anchor="middle" font-weight="normal" fill="#1a1a1a">-15</text>
<line x1="306.50" y1="150.00" x2="306.50" y2="153.20" stroke="#111" stroke-width="1.1"/>
<text x="306.00" y="162.40" font-size="9.6" text-anchor="middle" font-weight="normal" fill="#1a1a1a">0</text>
<line x1="329.50" y1="150.00" x2="329.50" y2="153.20" stroke="#111" stroke-width="1.1"/>
<text x="329.40" y="162.40" font-size="9.6" text-anchor="middle" font-weight="normal" fill="#1a1a1a">5</text>
<line x1="353.50" y1="150.00" x2="353.50" y2="153.20" stroke="#111" stroke-width="1.1"/>
<text x="353.40" y="162.40" font-size="9.6" text-anchor="middle" font-weight="normal" fill="#1a1a1a">15</text>
<line x1="377.50" y1="150.00" x2="377.50" y2="153.20" stroke="#111" stroke-width="1.1"/>
<text x="377.00" y="162.40" font-size="9.6" text-anchor="middle" font-weight="normal" fill="#1a1a1a">30</text>
<line x1="400.50" y1="150.00" x2="400.50" y2="153.20" stroke="#111" stroke-width="1.1"/>
<text x="400.60" y="162.40" font-size="9.6" text-anchor="middle" font-weight="normal" fill="#1a1a1a">60</text>
<line x1="424.50" y1="150.00" x2="424.50" y2="153.20" stroke="#111" stroke-width="1.1"/>
<text x="424.00" y="162.40" font-size="9.6" text-anchor="middle" font-weight="normal" fill="#1a1a1a">120</text>
<text x="343.40" y="174.50" font-size="8.8" text-anchor="middle" font-weight="normal" fill="#1a1a1a">Time (min)</text>
<text x="252.60" y="87.00" font-size="8.75" text-anchor="middle" font-weight="normal" fill="#1a1a1a" transform="rotate(-90 252.60 87.00)">Blood glucose level (mg/dL)</text>
<text x="334.00" y="38.00" font-size="14" text-anchor="middle" font-weight="bold" fill="#111">OGTT</text>
<text x="400.30" y="31.80" font-size="13.8" text-anchor="middle" font-weight="bold" fill="#111">**</text>
<polyline points="259.00,124.00 282.60,115.00 306.00,111.60 329.40,103.60 353.40,79.00 377.00,46.00 400.60,42.00 424.00,80.40" fill="none" stroke="#ee2c27" stroke-width="1.1"/>
<line x1="306.50" y1="108.00" x2="306.50" y2="115.00" stroke="#ee2c27" stroke-width="1.0"/>
<line x1="303.80" y1="108.50" x2="308.20" y2="108.50" stroke="#ee2c27" stroke-width="1.0"/>
<line x1="303.80" y1="115.50" x2="308.20" y2="115.50" stroke="#ee2c27" stroke-width="1.0"/>
<line x1="329.50" y1="101.00" x2="329.50" y2="106.00" stroke="#ee2c27" stroke-width="1.0"/>
<line x1="327.20" y1="101.50" x2="331.60" y2="101.50" stroke="#ee2c27" stroke-width="1.0"/>
<line x1="327.20" y1="106.50" x2="331.60" y2="106.50" stroke="#ee2c27" stroke-width="1.0"/>
<line x1="353.50" y1="73.60" x2="353.50" y2="84.00" stroke="#ee2c27" stroke-width="1.0"/>
<line x1="351.20" y1="73.50" x2="355.60" y2="73.50" stroke="#ee2c27" stroke-width="1.0"/>
<line x1="351.20" y1="84.50" x2="355.60" y2="84.50" stroke="#ee2c27" stroke-width="1.0"/>
<line x1="377.50" y1="34.40" x2="377.50" y2="58.00" stroke="#ee2c27" stroke-width="1.0"/>
<line x1="374.80" y1="34.50" x2="379.20" y2="34.50" stroke="#ee2c27" stroke-width="1.0"/>
<line x1="374.80" y1="58.50" x2="379.20" y2="58.50" stroke="#ee2c27" stroke-width="1.0"/>
<line x1="400.50" y1="35.60" x2="400.50" y2="48.00" stroke="#ee2c27" stroke-width="1.0"/>
<line x1="398.40" y1="35.50" x2="402.80" y2="35.50" stroke="#ee2c27" stroke-width="1.0"/>
<line x1="398.40" y1="48.50" x2="402.80" y2="48.50" stroke="#ee2c27" stroke-width="1.0"/>
<line x1="424.50" y1="72.40" x2="424.50" y2="89.00" stroke="#ee2c27" stroke-width="1.0"/>
<line x1="421.80" y1="72.50" x2="426.20" y2="72.50" stroke="#ee2c27" stroke-width="1.0"/>
<line x1="421.80" y1="89.50" x2="426.20" y2="89.50" stroke="#ee2c27" stroke-width="1.0"/>
<circle cx="259.00" cy="124.00" r="2.0" fill="#ee2c27"/>
<circle cx="282.60" cy="115.00" r="2.0" fill="#ee2c27"/>
<circle cx="306.00" cy="111.60" r="2.0" fill="#ee2c27"/>
<circle cx="329.40" cy="103.60" r="2.0" fill="#ee2c27"/>
<circle cx="353.40" cy="79.00" r="2.0" fill="#ee2c27"/>
<circle cx="377.00" cy="46.00" r="2.0" fill="#ee2c27"/>
<circle cx="400.60" cy="42.00" r="2.0" fill="#ee2c27"/>
<circle cx="424.00" cy="80.40" r="2.0" fill="#ee2c27"/>
<polyline points="259.00,119.40 282.60,108.00 306.00,104.00 329.40,94.60 353.40,62.00 377.00,68.00 400.60,79.60 424.00,106.40" fill="none" stroke="#111" stroke-width="1.1"/>
<line x1="259.50" y1="116.40" x2="259.50" y2="122.40" stroke="#111" stroke-width="1.0"/>
<line x1="256.80" y1="116.50" x2="261.20" y2="116.50" stroke="#111" stroke-width="1.0"/>
<line x1="256.80" y1="122.50" x2="261.20" y2="122.50" stroke="#111" stroke-width="1.0"/>
<line x1="282.50" y1="104.00" x2="282.50" y2="112.00" stroke="#111" stroke-width="1.0"/>
<line x1="280.40" y1="104.50" x2="284.80" y2="104.50" stroke="#111" stroke-width="1.0"/>
<line x1="280.40" y1="112.50" x2="284.80" y2="112.50" stroke="#111" stroke-width="1.0"/>
<line x1="306.50" y1="100.00" x2="306.50" y2="108.00" stroke="#111" stroke-width="1.0"/>
<line x1="303.80" y1="100.50" x2="308.20" y2="100.50" stroke="#111" stroke-width="1.0"/>
<line x1="303.80" y1="108.50" x2="308.20" y2="108.50" stroke="#111" stroke-width="1.0"/>
<line x1="329.50" y1="91.60" x2="329.50" y2="97.60" stroke="#111" stroke-width="1.0"/>
<line x1="327.20" y1="91.50" x2="331.60" y2="91.50" stroke="#111" stroke-width="1.0"/>
<line x1="327.20" y1="97.50" x2="331.60" y2="97.50" stroke="#111" stroke-width="1.0"/>
<line x1="353.50" y1="53.40" x2="353.50" y2="71.00" stroke="#111" stroke-width="1.0"/>
<line x1="351.20" y1="53.50" x2="355.60" y2="53.50" stroke="#111" stroke-width="1.0"/>
<line x1="351.20" y1="71.50" x2="355.60" y2="71.50" stroke="#111" stroke-width="1.0"/>
<line x1="377.50" y1="61.60" x2="377.50" y2="74.00" stroke="#111" stroke-width="1.0"/>
<line x1="374.80" y1="61.50" x2="379.20" y2="61.50" stroke="#111" stroke-width="1.0"/>
<line x1="374.80" y1="74.50" x2="379.20" y2="74.50" stroke="#111" stroke-width="1.0"/>
<line x1="400.50" y1="68.40" x2="400.50" y2="91.40" stroke="#111" stroke-width="1.0"/>
<line x1="398.40" y1="68.50" x2="402.80" y2="68.50" stroke="#111" stroke-width="1.0"/>
<line x1="398.40" y1="91.50" x2="402.80" y2="91.50" stroke="#111" stroke-width="1.0"/>
<line x1="424.50" y1="101.60" x2="424.50" y2="111.00" stroke="#111" stroke-width="1.0"/>
<line x1="421.80" y1="101.50" x2="426.20" y2="101.50" stroke="#111" stroke-width="1.0"/>
<line x1="421.80" y1="111.50" x2="426.20" y2="111.50" stroke="#111" stroke-width="1.0"/>
<circle cx="259.00" cy="119.40" r="2.0" fill="#111"/>
<circle cx="282.60" cy="108.00" r="2.0" fill="#111"/>
<circle cx="306.00" cy="104.00" r="2.0" fill="#111"/>
<circle cx="329.40" cy="94.60" r="2.0" fill="#111"/>
<circle cx="353.40" cy="62.00" r="2.0" fill="#111"/>
<circle cx="377.00" cy="68.00" r="2.0" fill="#111"/>
<circle cx="400.60" cy="79.60" r="2.0" fill="#111"/>
<circle cx="424.00" cy="106.40" r="2.0" fill="#111"/>
<line x1="491.50" y1="28.40" x2="491.50" y2="149.40" stroke="#5a5a5a" stroke-width="1.7"/>
<line x1="487.80" y1="148.50" x2="491.40" y2="148.50" stroke="#5a5a5a" stroke-width="1.7"/>
<text x="487.60" y="151.70" font-size="9.0" text-anchor="end" font-weight="normal" fill="#1a1a1a">0.0</text>
<line x1="487.80" y1="124.50" x2="491.40" y2="124.50" stroke="#5a5a5a" stroke-width="1.7"/>
<text x="487.60" y="127.66" font-size="9.0" text-anchor="end" font-weight="normal" fill="#1a1a1a">0.2</text>
<line x1="487.80" y1="100.50" x2="491.40" y2="100.50" stroke="#5a5a5a" stroke-width="1.7"/>
<text x="487.60" y="103.62" font-size="9.0" text-anchor="end" font-weight="normal" fill="#1a1a1a">0.4</text>
<line x1="487.80" y1="76.50" x2="491.40" y2="76.50" stroke="#5a5a5a" stroke-width="1.7"/>
<text x="487.60" y="79.58" font-size="9.0" text-anchor="end" font-weight="normal" fill="#1a1a1a">0.6</text>
<line x1="487.80" y1="52.50" x2="491.40" y2="52.50" stroke="#5a5a5a" stroke-width="1.7"/>
<text x="487.60" y="55.54" font-size="9.0" text-anchor="end" font-weight="normal" fill="#1a1a1a">0.8</text>
<line x1="487.80" y1="28.50" x2="491.40" y2="28.50" stroke="#5a5a5a" stroke-width="1.7"/>
<text x="487.60" y="31.50" font-size="9.0" text-anchor="end" font-weight="normal" fill="#1a1a1a">1.0</text>
<line x1="490.60" y1="148.50" x2="672.00" y2="148.50" stroke="#5a5a5a" stroke-width="1.7"/>
<line x1="503.50" y1="148.60" x2="503.50" y2="151.80" stroke="#5a5a5a" stroke-width="1.7"/>
<text x="503.60" y="161.20" font-size="9.6" text-anchor="middle" font-weight="normal" fill="#1a1a1a">0</text>
<line x1="529.50" y1="148.60" x2="529.50" y2="151.80" stroke="#5a5a5a" stroke-width="1.7"/>
<text x="529.50" y="161.20" font-size="9.6" text-anchor="middle" font-weight="normal" fill="#1a1a1a">15</text>
<line x1="555.50" y1="148.60" x2="555.50" y2="151.80" stroke="#5a5a5a" stroke-width="1.7"/>
<text x="555.40" y="161.20" font-size="9.6" text-anchor="middle" font-weight="normal" fill="#1a1a1a">30</text>
<line x1="581.50" y1="148.60" x2="581.50" y2="151.80" stroke="#5a5a5a" stroke-width="1.7"/>
<text x="581.30" y="161.20" font-size="9.6" text-anchor="middle" font-weight="normal" fill="#1a1a1a">45</text>
<line x1="607.50" y1="148.60" x2="607.50" y2="151.80" stroke="#5a5a5a" stroke-width="1.7"/>
<text x="607.20" y="161.20" font-size="9.6" text-anchor="middle" font-weight="normal" fill="#1a1a1a">60</text>
<line x1="633.50" y1="148.60" x2="633.50" y2="151.80" stroke="#5a5a5a" stroke-width="1.7"/>
<text x="633.10" y="161.20" font-size="9.6" text-anchor="middle" font-weight="normal" fill="#1a1a1a">75</text>
<line x1="659.50" y1="148.60" x2="659.50" y2="151.80" stroke="#5a5a5a" stroke-width="1.7"/>
<text x="659.00" y="161.20" font-size="9.6" text-anchor="middle" font-weight="normal" fill="#1a1a1a">90</text>
<text x="580.40" y="171.40" font-size="8.8" text-anchor="middle" font-weight="normal" fill="#1a1a1a">Time (min)</text>
<text x="462.80" y="88.00" font-size="8.75" text-anchor="middle" font-weight="normal" fill="#1a1a1a" transform="rotate(-90 462.80 88.00)">Blood glucose level</text>
<text x="473.60" y="88.00" font-size="8.75" text-anchor="middle" font-weight="normal" fill="#1a1a1a" transform="rotate(-90 473.60 88.00)">(Fold change)</text>
<text x="602.30" y="38.40" font-size="14" text-anchor="middle" font-weight="bold" fill="#222">ITT</text>
<polyline points="503.60,28.40 529.50,53.60 555.40,71.00 581.30,86.40 607.20,84.00 633.00,84.40 659.00,80.00" fill="none" stroke="#ee2c27" stroke-width="1.1"/>
<line x1="529.50" y1="42.00" x2="529.50" y2="65.00" stroke="#ee2c27" stroke-width="1.0"/>
<line x1="527.30" y1="42.50" x2="531.70" y2="42.50" stroke="#ee2c27" stroke-width="1.0"/>
<line x1="527.30" y1="65.50" x2="531.70" y2="65.50" stroke="#ee2c27" stroke-width="1.0"/>
<line x1="555.50" y1="64.00" x2="555.50" y2="78.00" stroke="#ee2c27" stroke-width="1.0"/>
<line x1="553.20" y1="64.50" x2="557.60" y2="64.50" stroke="#ee2c27" stroke-width="1.0"/>
<line x1="553.20" y1="78.50" x2="557.60" y2="78.50" stroke="#ee2c27" stroke-width="1.0"/>
<line x1="581.50" y1="82.00" x2="581.50" y2="89.00" stroke="#ee2c27" stroke-width="1.0"/>
<line x1="579.10" y1="82.50" x2="583.50" y2="82.50" stroke="#ee2c27" stroke-width="1.0"/>
<line x1="579.10" y1="89.50" x2="583.50" y2="89.50" stroke="#ee2c27" stroke-width="1.0"/>
<line x1="607.50" y1="76.00" x2="607.50" y2="93.00" stroke="#ee2c27" stroke-width="1.0"/>
<line x1="605.00" y1="76.50" x2="609.40" y2="76.50" stroke="#ee2c27" stroke-width="1.0"/>
<line x1="605.00" y1="93.50" x2="609.40" y2="93.50" stroke="#ee2c27" stroke-width="1.0"/>
<line x1="633.50" y1="75.60" x2="633.50" y2="93.60" stroke="#ee2c27" stroke-width="1.0"/>
<line x1="630.80" y1="75.50" x2="635.20" y2="75.50" stroke="#ee2c27" stroke-width="1.0"/>
<line x1="630.80" y1="93.50" x2="635.20" y2="93.50" stroke="#ee2c27" stroke-width="1.0"/>
<line x1="659.50" y1="70.40" x2="659.50" y2="89.60" stroke="#ee2c27" stroke-width="1.0"/>
<line x1="656.80" y1="70.50" x2="661.20" y2="70.50" stroke="#ee2c27" stroke-width="1.0"/>
<line x1="656.80" y1="89.50" x2="661.20" y2="89.50" stroke="#ee2c27" stroke-width="1.0"/>
<circle cx="503.60" cy="28.40" r="2.0" fill="#ee2c27"/>
<circle cx="529.50" cy="53.60" r="2.0" fill="#ee2c27"/>
<circle cx="555.40" cy="71.00" r="2.0" fill="#ee2c27"/>
<circle cx="581.30" cy="86.40" r="2.0" fill="#ee2c27"/>
<circle cx="607.20" cy="84.00" r="2.0" fill="#ee2c27"/>
<circle cx="633.00" cy="84.40" r="2.0" fill="#ee2c27"/>
<circle cx="659.00" cy="80.00" r="2.0" fill="#ee2c27"/>
<polyline points="503.60,28.40 529.50,60.00 555.40,85.60 581.30,87.60 607.20,96.00 633.00,103.00 659.00,95.60" fill="none" stroke="#111" stroke-width="1.1"/>
<line x1="529.50" y1="56.60" x2="529.50" y2="65.00" stroke="#111" stroke-width="1.0"/>
<line x1="527.30" y1="56.50" x2="531.70" y2="56.50" stroke="#111" stroke-width="1.0"/>
<line x1="527.30" y1="65.50" x2="531.70" y2="65.50" stroke="#111" stroke-width="1.0"/>
<line x1="555.50" y1="83.00" x2="555.50" y2="88.00" stroke="#111" stroke-width="1.0"/>
<line x1="553.20" y1="83.50" x2="557.60" y2="83.50" stroke="#111" stroke-width="1.0"/>
<line x1="553.20" y1="88.50" x2="557.60" y2="88.50" stroke="#111" stroke-width="1.0"/>
<line x1="581.50" y1="85.60" x2="581.50" y2="90.00" stroke="#111" stroke-width="1.0"/>
<line x1="579.10" y1="85.50" x2="583.50" y2="85.50" stroke="#111" stroke-width="1.0"/>
<line x1="579.10" y1="90.50" x2="583.50" y2="90.50" stroke="#111" stroke-width="1.0"/>
<line x1="607.50" y1="93.60" x2="607.50" y2="98.40" stroke="#111" stroke-width="1.0"/>
<line x1="605.00" y1="93.50" x2="609.40" y2="93.50" stroke="#111" stroke-width="1.0"/>
<line x1="605.00" y1="98.50" x2="609.40" y2="98.50" stroke="#111" stroke-width="1.0"/>
<line x1="633.50" y1="98.40" x2="633.50" y2="106.00" stroke="#111" stroke-width="1.0"/>
<line x1="630.80" y1="98.50" x2="635.20" y2="98.50" stroke="#111" stroke-width="1.0"/>
<line x1="630.80" y1="106.50" x2="635.20" y2="106.50" stroke="#111" stroke-width="1.0"/>
<line x1="659.50" y1="93.60" x2="659.50" y2="97.60" stroke="#111" stroke-width="1.0"/>
<line x1="656.80" y1="93.50" x2="661.20" y2="93.50" stroke="#111" stroke-width="1.0"/>
<line x1="656.80" y1="97.50" x2="661.20" y2="97.50" stroke="#111" stroke-width="1.0"/>
<circle cx="503.60" cy="28.40" r="2.0" fill="#111"/>
<circle cx="529.50" cy="60.00" r="2.0" fill="#111"/>
<circle cx="555.40" cy="85.60" r="2.0" fill="#111"/>
<circle cx="581.30" cy="87.60" r="2.0" fill="#111"/>
<circle cx="607.20" cy="96.00" r="2.0" fill="#111"/>
<circle cx="633.00" cy="103.00" r="2.0" fill="#111"/>
<circle cx="659.00" cy="95.60" r="2.0" fill="#111"/>
<line x1="647.40" y1="22.50" x2="653.40" y2="22.50" stroke="#111" stroke-width="1.1"/>
<circle cx="650.40" cy="22.00" r="1.5" fill="#111"/>
<line x1="647.40" y1="31.50" x2="653.40" y2="31.50" stroke="#ee2c27" stroke-width="1.1"/>
<circle cx="650.40" cy="31.40" r="1.5" fill="#ee2c27"/>
<text x="657.60" y="23.20" font-size="8.6" font-weight="normal" fill="#1a1a1a">Atm</text>
<text x="675.39" y="18.70" font-size="6.5" font-weight="normal" fill="#1a1a1a">+/+</text>
<text x="657.60" y="35.00" font-size="8.6" font-weight="normal" fill="#1a1a1a">Atm</text>
<text x="675.39" y="30.50" font-size="6.5" font-weight="normal" fill="#1a1a1a">-/-</text>
<line x1="294.50" y1="226.00" x2="294.50" y2="374.50" stroke="#111" stroke-width="1.1"/>
<line x1="289.00" y1="374.50" x2="294.40" y2="374.50" stroke="#111" stroke-width="1.1"/>
<text x="285.80" y="377.40" font-size="9.4" text-anchor="end" font-weight="normal" fill="#1a1a1a">0</text>
<line x1="289.00" y1="344.50" x2="294.40" y2="344.50" stroke="#111" stroke-width="1.1"/>
<text x="285.80" y="347.80" font-size="9.4" text-anchor="end" font-weight="normal" fill="#1a1a1a">5</text>
<line x1="289.00" y1="314.50" x2="294.40" y2="314.50" stroke="#111" stroke-width="1.1"/>
<text x="285.80" y="318.20" font-size="9.4" text-anchor="end" font-weight="normal" fill="#1a1a1a">10</text>
<line x1="289.00" y1="285.50" x2="294.40" y2="285.50" stroke="#111" stroke-width="1.1"/>
<text x="285.80" y="288.60" font-size="9.4" text-anchor="end" font-weight="normal" fill="#1a1a1a">15</text>
<line x1="289.00" y1="255.50" x2="294.40" y2="255.50" stroke="#111" stroke-width="1.1"/>
<text x="285.80" y="259.00" font-size="9.4" text-anchor="end" font-weight="normal" fill="#1a1a1a">20</text>
<line x1="289.00" y1="226.50" x2="294.40" y2="226.50" stroke="#111" stroke-width="1.1"/>
<text x="285.80" y="229.40" font-size="9.4" text-anchor="end" font-weight="normal" fill="#1a1a1a">25</text>
<line x1="289.00" y1="374.50" x2="392.80" y2="374.50" stroke="#111" stroke-width="1.1"/>
<line x1="322.50" y1="374.00" x2="322.50" y2="379.50" stroke="#111" stroke-width="1.1"/>
<line x1="364.50" y1="374.00" x2="364.50" y2="379.50" stroke="#111" stroke-width="1.1"/>
<text x="310.00" y="390.20" font-size="8.8" font-weight="normal" fill="#1a1a1a">Atm</text>
<text x="327.64" y="385.50" font-size="8.6" font-weight="normal" fill="#1a1a1a">+/+</text>
<text x="354.00" y="390.20" font-size="8.8" font-weight="normal" fill="#1a1a1a">Atm</text>
<text x="371.64" y="385.50" font-size="8.6" font-weight="normal" fill="#1a1a1a">-/-</text>
<text x="258.80" y="303.00" font-size="8.7" text-anchor="middle" font-weight="normal" fill="#1a1a1a" transform="rotate(-90 258.80 303.00)">ORO staining</text>
<text x="270.80" y="305.50" font-size="8.7" text-anchor="middle" font-weight="normal" fill="#1a1a1a" transform="rotate(-90 270.80 305.50)">Positive area (%)</text>
<line x1="321.40" y1="222.50" x2="362.40" y2="222.50" stroke="#222" stroke-width="1.1"/>
<line x1="321.50" y1="219.80" x2="321.50" y2="224.40" stroke="#222" stroke-width="1.1"/>
<line x1="362.50" y1="219.80" x2="362.50" y2="224.40" stroke="#222" stroke-width="1.1"/>
<text x="343.00" y="222.60" font-size="13.6" text-anchor="middle" font-weight="bold" fill="#111">**</text>
<line x1="322.50" y1="330.40" x2="322.50" y2="360.60" stroke="#111" stroke-width="1.2"/>
<line x1="315.00" y1="330.50" x2="330.00" y2="330.50" stroke="#111" stroke-width="1.2"/>
<line x1="315.00" y1="360.50" x2="330.00" y2="360.50" stroke="#111" stroke-width="1.2"/>
<line x1="308.60" y1="347.50" x2="336.40" y2="347.50" stroke="#111" stroke-width="1.2"/>
<circle cx="322.40" cy="330.40" r="2.2" fill="#111"/>
<circle cx="318.00" cy="345.00" r="2.2" fill="#111"/>
<circle cx="327.00" cy="345.00" r="2.2" fill="#111"/>
<circle cx="318.00" cy="350.00" r="2.2" fill="#111"/>
<circle cx="327.00" cy="351.40" r="2.2" fill="#111"/>
<circle cx="322.40" cy="361.00" r="2.2" fill="#111"/>
<line x1="364.50" y1="240.00" x2="364.50" y2="320.40" stroke="#ee2c27" stroke-width="1.2"/>
<line x1="357.60" y1="240.50" x2="372.00" y2="240.50" stroke="#ee2c27" stroke-width="1.2"/>
<line x1="357.60" y1="320.50" x2="372.00" y2="320.50" stroke="#ee2c27" stroke-width="1.2"/>
<line x1="351.00" y1="310.50" x2="378.60" y2="310.50" stroke="#ee2c27" stroke-width="1.2"/>
<circle cx="364.60" cy="240.00" r="2.2" fill="#ee2c27"/>
<circle cx="364.60" cy="294.00" r="2.2" fill="#ee2c27"/>
<circle cx="364.60" cy="310.60" r="2.2" fill="#ee2c27"/>
<circle cx="364.60" cy="315.40" r="2.2" fill="#ee2c27"/>
<circle cx="364.60" cy="320.40" r="2.2" fill="#ee2c27"/>
<line x1="572.50" y1="229.60" x2="572.50" y2="378.00" stroke="#333" stroke-width="1.4"/>
<line x1="567.00" y1="377.50" x2="572.40" y2="377.50" stroke="#333" stroke-width="1.4"/>
<text x="564.20" y="380.80" font-size="9.4" text-anchor="end" font-weight="normal" fill="#1a1a1a">0</text>
<line x1="567.00" y1="340.50" x2="572.40" y2="340.50" stroke="#333" stroke-width="1.4"/>
<text x="564.20" y="343.85" font-size="9.4" text-anchor="end" font-weight="normal" fill="#1a1a1a">20</text>
<line x1="567.00" y1="303.50" x2="572.40" y2="303.50" stroke="#333" stroke-width="1.4"/>
<text x="564.20" y="306.90" font-size="9.4" text-anchor="end" font-weight="normal" fill="#1a1a1a">40</text>
<line x1="567.00" y1="266.50" x2="572.40" y2="266.50" stroke="#333" stroke-width="1.4"/>
<text x="564.20" y="269.95" font-size="9.4" text-anchor="end" font-weight="normal" fill="#1a1a1a">60</text>
<line x1="567.00" y1="229.50" x2="572.40" y2="229.50" stroke="#333" stroke-width="1.4"/>
<text x="564.20" y="233.00" font-size="9.4" text-anchor="end" font-weight="normal" fill="#1a1a1a">80</text>
<line x1="567.00" y1="377.50" x2="683.60" y2="377.50" stroke="#333" stroke-width="1.4"/>
<line x1="604.50" y1="377.50" x2="604.50" y2="383.00" stroke="#333" stroke-width="1.4"/>
<line x1="652.50" y1="377.50" x2="652.50" y2="383.00" stroke="#333" stroke-width="1.4"/>
<text x="596.00" y="393.60" font-size="8.8" font-weight="normal" fill="#1a1a1a">Atm</text>
<text x="613.64" y="388.90" font-size="8.6" font-weight="normal" fill="#1a1a1a">+/+</text>
<text x="645.50" y="393.60" font-size="8.8" font-weight="normal" fill="#1a1a1a">Atm</text>
<text x="663.14" y="388.90" font-size="8.6" font-weight="normal" fill="#1a1a1a">-/-</text>
<text x="548.80" y="314.00" font-size="8.8" text-anchor="middle" font-weight="normal" fill="#1a1a1a" transform="rotate(-90 548.80 314.00)">% Glucagon positive area</text>
<line x1="605.60" y1="231.50" x2="653.40" y2="231.50" stroke="#333" stroke-width="1.1"/>
<line x1="605.50" y1="228.60" x2="605.50" y2="233.40" stroke="#333" stroke-width="1.1"/>
<line x1="653.50" y1="228.60" x2="653.50" y2="233.40" stroke="#333" stroke-width="1.1"/>
<text x="629.80" y="230.80" font-size="13.5" text-anchor="middle" font-weight="bold" fill="#111">****</text>
<circle cx="603.57" cy="369.63" r="1.7" fill="#5bc0eb"/>
<circle cx="595.30" cy="345.95" r="1.7" fill="#aaa"/>
<circle cx="592.42" cy="372.32" r="1.7" fill="#9a9a9a"/>
<circle cx="605.76" cy="353.09" r="1.7" fill="#3a86d6"/>
<circle cx="603.19" cy="364.74" r="1.7" fill="#3a86d6"/>
<circle cx="594.32" cy="366.40" r="1.7" fill="#111"/>
<circle cx="605.88" cy="313.34" r="1.7" fill="#aaa"/>
<circle cx="602.82" cy="356.19" r="1.7" fill="#aaa"/>
<circle cx="589.74" cy="347.90" r="1.7" fill="#111"/>
<circle cx="597.94" cy="341.38" r="1.7" fill="#5bc0eb"/>
<circle cx="602.04" cy="323.24" r="1.7" fill="#111"/>
<circle cx="590.49" cy="352.30" r="1.7" fill="#5bc0eb"/>
<circle cx="601.20" cy="350.01" r="1.7" fill="#111"/>
<circle cx="589.62" cy="366.41" r="1.7" fill="#111"/>
<circle cx="610.87" cy="347.19" r="1.7" fill="#c8c8c8"/>
<circle cx="608.48" cy="353.68" r="1.7" fill="#aaa"/>
<circle cx="590.05" cy="357.62" r="1.7" fill="#c8c8c8"/>
<circle cx="593.14" cy="363.47" r="1.7" fill="#111"/>
<circle cx="604.20" cy="352.12" r="1.7" fill="#3a86d6"/>
<circle cx="603.02" cy="353.65" r="1.7" fill="#111"/>
<circle cx="602.94" cy="326.32" r="1.7" fill="#c8c8c8"/>
<circle cx="595.99" cy="353.87" r="1.7" fill="#9a9a9a"/>
<circle cx="611.61" cy="325.13" r="1.7" fill="#111"/>
<circle cx="601.43" cy="369.37" r="1.7" fill="#aaa"/>
<circle cx="603.75" cy="328.24" r="1.7" fill="#111"/>
<circle cx="599.47" cy="363.13" r="1.7" fill="#9a9a9a"/>
<circle cx="608.70" cy="355.92" r="1.7" fill="#111"/>
<circle cx="600.75" cy="347.73" r="1.7" fill="#c8c8c8"/>
<circle cx="593.67" cy="337.83" r="1.7" fill="#c8c8c8"/>
<circle cx="594.22" cy="337.44" r="1.7" fill="#111"/>
<circle cx="611.78" cy="346.91" r="1.7" fill="#5bc0eb"/>
<circle cx="618.10" cy="361.73" r="1.7" fill="#c8c8c8"/>
<circle cx="590.76" cy="363.84" r="1.7" fill="#9a9a9a"/>
<circle cx="610.74" cy="360.90" r="1.7" fill="#9a9a9a"/>
<circle cx="605.20" cy="371.40" r="1.7" fill="#3a86d6"/>
<circle cx="593.47" cy="336.24" r="1.7" fill="#c8c8c8"/>
<circle cx="598.01" cy="372.65" r="1.7" fill="#111"/>
<circle cx="591.67" cy="362.07" r="1.7" fill="#c8c8c8"/>
<circle cx="600.66" cy="356.45" r="1.7" fill="#5bc0eb"/>
<circle cx="592.37" cy="349.79" r="1.7" fill="#111"/>
<circle cx="607.17" cy="319.42" r="1.7" fill="#5bc0eb"/>
<circle cx="607.30" cy="373.32" r="1.7" fill="#111"/>
<circle cx="590.61" cy="365.26" r="1.7" fill="#5bc0eb"/>
<circle cx="604.07" cy="349.34" r="1.7" fill="#3a86d6"/>
<circle cx="603.19" cy="354.53" r="1.7" fill="#9a9a9a"/>
<circle cx="616.61" cy="344.11" r="1.7" fill="#3a86d6"/>
<circle cx="599.85" cy="352.16" r="1.7" fill="#111"/>
<circle cx="616.63" cy="359.30" r="1.7" fill="#aaa"/>
<circle cx="597.99" cy="321.05" r="1.7" fill="#3a86d6"/>
<circle cx="607.08" cy="371.83" r="1.7" fill="#5bc0eb"/>
<circle cx="597.32" cy="345.74" r="1.7" fill="#c8c8c8"/>
<circle cx="601.25" cy="348.71" r="1.7" fill="#3a86d6"/>
<circle cx="605.84" cy="357.16" r="1.7" fill="#5bc0eb"/>
<circle cx="590.49" cy="366.89" r="1.7" fill="#5bc0eb"/>
<circle cx="592.99" cy="348.86" r="1.7" fill="#aaa"/>
<circle cx="617.21" cy="349.89" r="1.7" fill="#9a9a9a"/>
<circle cx="607.95" cy="340.27" r="1.7" fill="#5bc0eb"/>
<circle cx="616.77" cy="360.11" r="1.7" fill="#3a86d6"/>
<circle cx="601.78" cy="335.81" r="1.7" fill="#9a9a9a"/>
<circle cx="602.53" cy="358.90" r="1.7" fill="#aaa"/>
<circle cx="596.19" cy="351.25" r="1.7" fill="#9a9a9a"/>
<circle cx="593.64" cy="361.41" r="1.7" fill="#9a9a9a"/>
<circle cx="618.07" cy="336.59" r="1.7" fill="#9a9a9a"/>
<circle cx="593.19" cy="375.04" r="1.7" fill="#c8c8c8"/>
<circle cx="608.37" cy="353.15" r="1.7" fill="#c8c8c8"/>
<circle cx="611.09" cy="341.40" r="1.7" fill="#aaa"/>
<circle cx="590.79" cy="335.42" r="1.7" fill="#aaa"/>
<circle cx="609.95" cy="353.36" r="1.7" fill="#9a9a9a"/>
<circle cx="590.17" cy="363.01" r="1.7" fill="#111"/>
<circle cx="595.30" cy="356.99" r="1.7" fill="#aaa"/>
<circle cx="604.40" cy="249.40" r="1.7" fill="#7fd3ea"/>
<circle cx="604.40" cy="267.40" r="1.7" fill="#111"/>
<circle cx="604.40" cy="273.60" r="1.7" fill="#ccc"/>
<circle cx="607.00" cy="311.00" r="1.7" fill="#999"/>
<circle cx="604.60" cy="314.00" r="1.7" fill="#7fd3ea"/>
<circle cx="604.60" cy="320.00" r="1.7" fill="#111"/>
<line x1="604.50" y1="344.40" x2="604.50" y2="360.40" stroke="#111" stroke-width="1.2"/>
<line x1="596.60" y1="344.50" x2="612.40" y2="344.50" stroke="#111" stroke-width="1.2"/>
<line x1="596.60" y1="360.50" x2="612.40" y2="360.50" stroke="#111" stroke-width="1.2"/>
<line x1="589.00" y1="352.50" x2="620.40" y2="352.50" stroke="#111" stroke-width="1.4"/>
<circle cx="638.25" cy="360.55" r="1.7" fill="#e8232b"/>
<circle cx="656.24" cy="365.35" r="1.7" fill="#c51b8a"/>
<circle cx="651.63" cy="355.20" r="1.7" fill="#9b1b7a"/>
<circle cx="660.63" cy="364.13" r="1.7" fill="#e05080"/>
<circle cx="646.78" cy="362.92" r="1.7" fill="#e05080"/>
<circle cx="668.32" cy="365.19" r="1.7" fill="#9b1b7a"/>
<circle cx="642.21" cy="368.93" r="1.7" fill="#7a1f5c"/>
<circle cx="651.07" cy="356.97" r="1.7" fill="#e8232b"/>
<circle cx="660.89" cy="366.71" r="1.7" fill="#c51b8a"/>
<circle cx="655.47" cy="357.90" r="1.7" fill="#f4a032"/>
<circle cx="657.51" cy="354.42" r="1.7" fill="#e8232b"/>
<circle cx="659.62" cy="356.64" r="1.7" fill="#e8232b"/>
<circle cx="648.73" cy="356.35" r="1.7" fill="#e8232b"/>
<circle cx="637.85" cy="363.10" r="1.7" fill="#ffb347"/>
<circle cx="665.89" cy="365.00" r="1.7" fill="#f4a032"/>
<circle cx="641.81" cy="358.04" r="1.7" fill="#e8232b"/>
<circle cx="641.36" cy="360.23" r="1.7" fill="#9b1b7a"/>
<circle cx="661.81" cy="358.41" r="1.7" fill="#e05080"/>
<circle cx="651.82" cy="358.32" r="1.7" fill="#e8232b"/>
<circle cx="650.48" cy="368.45" r="1.7" fill="#e05080"/>
<circle cx="652.77" cy="364.19" r="1.7" fill="#e05080"/>
<circle cx="654.36" cy="354.74" r="1.7" fill="#f4a032"/>
<circle cx="644.30" cy="363.14" r="1.7" fill="#ffb347"/>
<circle cx="653.02" cy="359.75" r="1.7" fill="#e05080"/>
<circle cx="642.00" cy="357.58" r="1.7" fill="#7a1f5c"/>
<circle cx="668.21" cy="362.11" r="1.7" fill="#e8232b"/>
<circle cx="651.54" cy="348.97" r="1.7" fill="#7a1f5c"/>
<circle cx="651.12" cy="361.84" r="1.7" fill="#9b1b7a"/>
<circle cx="663.41" cy="367.77" r="1.7" fill="#e05080"/>
<circle cx="648.60" cy="353.52" r="1.7" fill="#e8232b"/>
<circle cx="638.16" cy="359.99" r="1.7" fill="#f4a032"/>
<circle cx="635.41" cy="363.40" r="1.7" fill="#f06bb0"/>
<circle cx="638.64" cy="364.22" r="1.7" fill="#e8232b"/>
<circle cx="654.95" cy="358.20" r="1.7" fill="#f4a032"/>
<circle cx="653.51" cy="347.23" r="1.7" fill="#9b1b7a"/>
<circle cx="657.66" cy="371.66" r="1.7" fill="#e05080"/>
<circle cx="655.51" cy="366.05" r="1.7" fill="#9b1b7a"/>
<circle cx="659.18" cy="366.76" r="1.7" fill="#c51b8a"/>
<circle cx="662.88" cy="358.82" r="1.7" fill="#f4a032"/>
<circle cx="641.78" cy="364.65" r="1.7" fill="#e8232b"/>
<circle cx="645.09" cy="359.88" r="1.7" fill="#e8232b"/>
<circle cx="664.33" cy="359.60" r="1.7" fill="#e05080"/>
<circle cx="658.01" cy="361.63" r="1.7" fill="#e8232b"/>
<circle cx="651.28" cy="348.40" r="1.7" fill="#c51b8a"/>
<circle cx="652.06" cy="357.98" r="1.7" fill="#f4a032"/>
<circle cx="651.56" cy="358.47" r="1.7" fill="#e8232b"/>
<circle cx="653.25" cy="356.33" r="1.7" fill="#9b1b7a"/>
<circle cx="640.07" cy="360.83" r="1.7" fill="#9b1b7a"/>
<circle cx="646.76" cy="354.40" r="1.7" fill="#e8232b"/>
<circle cx="653.65" cy="374.59" r="1.7" fill="#e8232b"/>
<circle cx="652.50" cy="361.86" r="1.7" fill="#7a1f5c"/>
<circle cx="648.14" cy="366.51" r="1.7" fill="#e8232b"/>
<circle cx="659.27" cy="360.55" r="1.7" fill="#7a1f5c"/>
<circle cx="655.50" cy="364.77" r="1.7" fill="#e8232b"/>
<circle cx="662.23" cy="363.09" r="1.7" fill="#7a1f5c"/>
<circle cx="641.69" cy="362.32" r="1.7" fill="#c51b8a"/>
<circle cx="659.65" cy="361.00" r="1.7" fill="#9b1b7a"/>
<circle cx="648.98" cy="365.75" r="1.7" fill="#c51b8a"/>
<circle cx="657.23" cy="356.86" r="1.7" fill="#7a1f5c"/>
<circle cx="643.05" cy="367.32" r="1.7" fill="#c51b8a"/>
<circle cx="668.61" cy="362.96" r="1.7" fill="#e8232b"/>
<circle cx="665.07" cy="360.15" r="1.7" fill="#f06bb0"/>
<circle cx="653.05" cy="365.95" r="1.7" fill="#7a1f5c"/>
<circle cx="651.96" cy="356.24" r="1.7" fill="#f4a032"/>
<circle cx="636.05" cy="364.70" r="1.7" fill="#e8232b"/>
<circle cx="647.04" cy="370.01" r="1.7" fill="#7a1f5c"/>
<circle cx="642.58" cy="370.38" r="1.7" fill="#f06bb0"/>
<circle cx="665.60" cy="362.49" r="1.7" fill="#e05080"/>
<circle cx="662.07" cy="367.07" r="1.7" fill="#e8232b"/>
<circle cx="662.52" cy="363.50" r="1.7" fill="#e8232b"/>
<circle cx="649.35" cy="369.05" r="1.7" fill="#9b1b7a"/>
<circle cx="667.82" cy="364.43" r="1.7" fill="#ffb347"/>
<circle cx="651.86" cy="368.50" r="1.7" fill="#f06bb0"/>
<circle cx="655.32" cy="363.94" r="1.7" fill="#c51b8a"/>
<circle cx="663.79" cy="367.67" r="1.7" fill="#f06bb0"/>
<circle cx="652.36" cy="344.65" r="1.7" fill="#9b1b7a"/>
<circle cx="650.96" cy="353.10" r="1.7" fill="#c51b8a"/>
<circle cx="651.72" cy="342.19" r="1.7" fill="#ffb347"/>
<circle cx="658.35" cy="357.11" r="1.7" fill="#ffb347"/>
<circle cx="657.73" cy="354.19" r="1.7" fill="#f4a032"/>
<circle cx="650.50" cy="364.14" r="1.7" fill="#f4a032"/>
<circle cx="647.13" cy="363.69" r="1.7" fill="#9b1b7a"/>
<circle cx="650.89" cy="358.56" r="1.7" fill="#f06bb0"/>
<circle cx="656.56" cy="358.59" r="1.7" fill="#c51b8a"/>
<circle cx="666.37" cy="361.22" r="1.7" fill="#9b1b7a"/>
<circle cx="641.84" cy="368.07" r="1.7" fill="#f06bb0"/>
<circle cx="644.93" cy="360.81" r="1.7" fill="#f4a032"/>
<circle cx="658.09" cy="368.82" r="1.7" fill="#f4a032"/>
<circle cx="646.03" cy="356.83" r="1.7" fill="#e8232b"/>
<circle cx="635.36" cy="363.94" r="1.7" fill="#f06bb0"/>
<circle cx="653.08" cy="368.24" r="1.7" fill="#e8232b"/>
<circle cx="663.09" cy="359.21" r="1.7" fill="#9b1b7a"/>
<circle cx="651.48" cy="368.69" r="1.7" fill="#f4a032"/>
<circle cx="651.81" cy="364.37" r="1.7" fill="#9b1b7a"/>
<circle cx="661.83" cy="361.25" r="1.7" fill="#f4a032"/>
<circle cx="660.40" cy="363.85" r="1.7" fill="#7a1f5c"/>
<circle cx="666.86" cy="360.56" r="1.7" fill="#c51b8a"/>
<circle cx="659.86" cy="366.54" r="1.7" fill="#9b1b7a"/>
<circle cx="650.29" cy="342.76" r="1.7" fill="#e8232b"/>
<circle cx="654.01" cy="360.23" r="1.7" fill="#ffb347"/>
<circle cx="654.33" cy="354.99" r="1.7" fill="#e8232b"/>
<circle cx="651.93" cy="354.34" r="1.7" fill="#c51b8a"/>
<circle cx="659.63" cy="362.80" r="1.7" fill="#c51b8a"/>
<circle cx="647.02" cy="359.64" r="1.7" fill="#ffb347"/>
<circle cx="658.06" cy="372.01" r="1.7" fill="#ffb347"/>
<circle cx="666.66" cy="366.79" r="1.7" fill="#ffb347"/>
<circle cx="665.34" cy="364.25" r="1.7" fill="#f4a032"/>
<circle cx="650.05" cy="343.62" r="1.7" fill="#7a1f5c"/>
<circle cx="649.16" cy="369.63" r="1.7" fill="#7a1f5c"/>
<circle cx="662.16" cy="366.60" r="1.7" fill="#9b1b7a"/>
<circle cx="646.49" cy="358.64" r="1.7" fill="#e8232b"/>
<circle cx="645.62" cy="354.99" r="1.7" fill="#9b1b7a"/>
<circle cx="655.30" cy="373.66" r="1.7" fill="#e8232b"/>
<circle cx="646.51" cy="367.40" r="1.7" fill="#e05080"/>
<circle cx="664.10" cy="360.54" r="1.7" fill="#e8232b"/>
<circle cx="650.18" cy="346.85" r="1.7" fill="#7a1f5c"/>
<circle cx="652.72" cy="362.15" r="1.7" fill="#ffb347"/>
<circle cx="647.81" cy="358.86" r="1.7" fill="#c51b8a"/>
<circle cx="659.34" cy="364.88" r="1.7" fill="#e8232b"/>
<circle cx="661.37" cy="367.20" r="1.7" fill="#c51b8a"/>
<circle cx="659.81" cy="356.98" r="1.7" fill="#e05080"/>
<circle cx="652.55" cy="369.17" r="1.7" fill="#e8232b"/>
<circle cx="641.20" cy="360.63" r="1.7" fill="#9b1b7a"/>
<circle cx="648.36" cy="367.01" r="1.7" fill="#9b1b7a"/>
<circle cx="644.37" cy="364.31" r="1.7" fill="#e8232b"/>
<circle cx="657.32" cy="357.95" r="1.7" fill="#f06bb0"/>
<circle cx="639.45" cy="367.22" r="1.7" fill="#ffb347"/>
<circle cx="653.85" cy="350.04" r="1.7" fill="#c51b8a"/>
<circle cx="644.41" cy="359.87" r="1.7" fill="#ffb347"/>
<circle cx="643.77" cy="360.31" r="1.7" fill="#9b1b7a"/>
<circle cx="662.71" cy="358.41" r="1.7" fill="#e05080"/>
<circle cx="653.65" cy="365.25" r="1.7" fill="#f06bb0"/>
<circle cx="656.64" cy="367.10" r="1.7" fill="#e8232b"/>
<circle cx="642.88" cy="361.78" r="1.7" fill="#e8232b"/>
<circle cx="667.52" cy="361.73" r="1.7" fill="#e05080"/>
<circle cx="660.14" cy="359.72" r="1.7" fill="#e8232b"/>
<circle cx="651.19" cy="350.19" r="1.7" fill="#f4a032"/>
<circle cx="655.48" cy="365.21" r="1.7" fill="#9b1b7a"/>
<circle cx="661.11" cy="369.38" r="1.7" fill="#e05080"/>
<circle cx="657.67" cy="358.08" r="1.7" fill="#f06bb0"/>
<circle cx="641.07" cy="363.83" r="1.7" fill="#f4a032"/>
<circle cx="663.58" cy="362.41" r="1.7" fill="#9b1b7a"/>
<circle cx="641.50" cy="358.94" r="1.7" fill="#ffb347"/>
<circle cx="639.52" cy="360.36" r="1.7" fill="#e05080"/>
<circle cx="649.66" cy="359.70" r="1.7" fill="#e8232b"/>
<circle cx="650.06" cy="365.44" r="1.7" fill="#e8232b"/>
<circle cx="660.90" cy="367.90" r="1.7" fill="#f06bb0"/>
<circle cx="648.79" cy="363.83" r="1.7" fill="#e05080"/>
<circle cx="647.25" cy="364.10" r="1.7" fill="#9b1b7a"/>
<circle cx="649.81" cy="357.19" r="1.7" fill="#ffb347"/>
<circle cx="652.00" cy="288.40" r="1.7" fill="#e0308a"/>
<circle cx="652.00" cy="301.40" r="1.7" fill="#f08a1a"/>
<circle cx="652.00" cy="318.00" r="1.7" fill="#7a2a8a"/>
<circle cx="653.50" cy="320.00" r="1.7" fill="#e8232b"/>
<circle cx="652.00" cy="330.00" r="1.7" fill="#f08ac0"/>
<circle cx="652.00" cy="337.00" r="1.7" fill="#7a2a8a"/>
<circle cx="652.00" cy="342.00" r="1.7" fill="#7a2a8a"/>
<circle cx="650.00" cy="346.00" r="1.7" fill="#e8232b"/>
<circle cx="653.00" cy="345.00" r="1.7" fill="#f4a032"/>
<line x1="636.50" y1="363.50" x2="667.70" y2="363.50" stroke="#222" stroke-width="1.6"/>
<circle cx="640.00" cy="364.00" r="1.5" fill="#5a1a1a"/>
<circle cx="643.00" cy="364.00" r="1.5" fill="#5a1a1a"/>
<circle cx="646.00" cy="364.00" r="1.5" fill="#5a1a1a"/>
<circle cx="649.00" cy="364.00" r="1.5" fill="#5a1a1a"/>
<circle cx="652.00" cy="364.00" r="1.5" fill="#5a1a1a"/>
<circle cx="655.00" cy="364.00" r="1.5" fill="#5a1a1a"/>
<circle cx="658.00" cy="364.00" r="1.5" fill="#5a1a1a"/>
<circle cx="661.00" cy="364.00" r="1.5" fill="#5a1a1a"/>
<circle cx="664.00" cy="364.00" r="1.5" fill="#5a1a1a"/>
<line x1="182.50" y1="459.80" x2="182.50" y2="592.00" stroke="#111" stroke-width="1.3"/>
<line x1="177.20" y1="591.50" x2="182.60" y2="591.50" stroke="#111" stroke-width="1.3"/>
<text x="174.40" y="594.80" font-size="9.4" text-anchor="end" font-weight="normal" fill="#1a1a1a">0.0</text>
<line x1="177.20" y1="558.50" x2="182.60" y2="558.50" stroke="#111" stroke-width="1.3"/>
<text x="174.40" y="561.90" font-size="9.4" text-anchor="end" font-weight="normal" fill="#1a1a1a">0.5</text>
<line x1="177.20" y1="525.50" x2="182.60" y2="525.50" stroke="#111" stroke-width="1.3"/>
<text x="174.40" y="529.00" font-size="9.4" text-anchor="end" font-weight="normal" fill="#1a1a1a">1.0</text>
<line x1="177.20" y1="492.50" x2="182.60" y2="492.50" stroke="#111" stroke-width="1.3"/>
<text x="174.40" y="496.10" font-size="9.4" text-anchor="end" font-weight="normal" fill="#1a1a1a">1.5</text>
<line x1="177.20" y1="459.50" x2="182.60" y2="459.50" stroke="#111" stroke-width="1.3"/>
<text x="174.40" y="463.20" font-size="9.4" text-anchor="end" font-weight="normal" fill="#1a1a1a">2.0</text>
<line x1="176.60" y1="591.50" x2="312.60" y2="591.50" stroke="#111" stroke-width="1.3"/>
<line x1="219.50" y1="591.40" x2="219.50" y2="597.00" stroke="#111" stroke-width="1.3"/>
<line x1="275.50" y1="591.40" x2="275.50" y2="597.00" stroke="#111" stroke-width="1.3"/>
<text x="207.00" y="607.20" font-size="8.8" font-weight="normal" fill="#1a1a1a">Atm</text>
<text x="224.64" y="602.50" font-size="8.6" font-weight="normal" fill="#1a1a1a">+/+</text>
<text x="266.00" y="607.20" font-size="8.8" font-weight="normal" fill="#1a1a1a">Atm</text>
<text x="283.64" y="602.50" font-size="8.6" font-weight="normal" fill="#1a1a1a">-/-</text>
<text x="144.00" y="533.00" font-size="8.8" text-anchor="middle" font-weight="normal" fill="#1a1a1a" transform="rotate(-90 144.00 533.00)">Glutamate levels</text>
<text x="155.20" y="536.00" font-size="8.8" text-anchor="middle" font-weight="normal" fill="#1a1a1a" transform="rotate(-90 155.20 536.00)">(pixel intensity/background)</text>
<line x1="220.60" y1="464.50" x2="271.60" y2="464.50" stroke="#333" stroke-width="1.1"/>
<line x1="220.50" y1="461.40" x2="220.50" y2="466.60" stroke="#333" stroke-width="1.1"/>
<line x1="271.50" y1="461.40" x2="271.50" y2="466.60" stroke="#333" stroke-width="1.1"/>
<text x="247.70" y="464.40" font-size="13.7" text-anchor="middle" font-weight="bold" fill="#111">****</text>
<circle cx="227.03" cy="541.70" r="1.5" fill="#3a5fc8"/>
<circle cx="216.08" cy="541.52" r="1.5" fill="#111"/>
<circle cx="217.24" cy="538.61" r="1.5" fill="#3a5fc8"/>
<circle cx="224.23" cy="525.30" r="1.5" fill="#bbb"/>
<circle cx="210.23" cy="546.23" r="1.5" fill="#111"/>
<circle cx="226.06" cy="533.18" r="1.5" fill="#111"/>
<circle cx="215.90" cy="536.38" r="1.5" fill="#111"/>
<circle cx="221.42" cy="531.67" r="1.5" fill="#111"/>
<circle cx="218.48" cy="543.71" r="1.5" fill="#111"/>
<circle cx="224.68" cy="542.00" r="1.5" fill="#111"/>
<circle cx="217.61" cy="527.89" r="1.5" fill="#111"/>
<circle cx="215.92" cy="539.15" r="1.5" fill="#111"/>
<circle cx="217.62" cy="530.92" r="1.5" fill="#bbb"/>
<circle cx="214.04" cy="546.37" r="1.5" fill="#111"/>
<circle cx="226.38" cy="533.97" r="1.5" fill="#111"/>
<circle cx="225.64" cy="542.39" r="1.5" fill="#111"/>
<circle cx="234.16" cy="532.61" r="1.5" fill="#111"/>
<circle cx="216.07" cy="530.05" r="1.5" fill="#111"/>
<circle cx="221.27" cy="531.85" r="1.5" fill="#3a5fc8"/>
<circle cx="217.35" cy="541.98" r="1.5" fill="#5bc0eb"/>
<circle cx="209.43" cy="543.20" r="1.5" fill="#111"/>
<circle cx="222.33" cy="532.67" r="1.5" fill="#bbb"/>
<circle cx="226.81" cy="527.54" r="1.5" fill="#3a5fc8"/>
<circle cx="230.76" cy="536.04" r="1.5" fill="#111"/>
<circle cx="221.52" cy="540.89" r="1.5" fill="#bbb"/>
<circle cx="217.98" cy="539.24" r="1.5" fill="#111"/>
<circle cx="228.37" cy="534.00" r="1.5" fill="#5bc0eb"/>
<circle cx="207.82" cy="537.71" r="1.5" fill="#bbb"/>
<circle cx="220.00" cy="540.14" r="1.5" fill="#5bc0eb"/>
<circle cx="234.73" cy="535.15" r="1.5" fill="#bbb"/>
<circle cx="207.96" cy="546.12" r="1.5" fill="#111"/>
<circle cx="212.93" cy="537.22" r="1.5" fill="#3a5fc8"/>
<circle cx="210.82" cy="539.48" r="1.5" fill="#888"/>
<circle cx="208.79" cy="530.88" r="1.5" fill="#5bc0eb"/>
<circle cx="208.91" cy="544.50" r="1.5" fill="#bbb"/>
<circle cx="222.40" cy="526.31" r="1.5" fill="#111"/>
<circle cx="212.15" cy="544.19" r="1.5" fill="#111"/>
<circle cx="220.59" cy="538.52" r="1.5" fill="#bbb"/>
<circle cx="213.41" cy="538.81" r="1.5" fill="#3a5fc8"/>
<circle cx="206.73" cy="536.17" r="1.5" fill="#111"/>
<circle cx="217.28" cy="541.42" r="1.5" fill="#bbb"/>
<circle cx="230.15" cy="540.32" r="1.5" fill="#888"/>
<circle cx="225.57" cy="548.45" r="1.5" fill="#3a5fc8"/>
<circle cx="225.48" cy="536.61" r="1.5" fill="#111"/>
<circle cx="221.73" cy="529.78" r="1.5" fill="#888"/>
<circle cx="219.18" cy="535.81" r="1.5" fill="#111"/>
<circle cx="214.16" cy="531.67" r="1.5" fill="#111"/>
<circle cx="224.33" cy="539.38" r="1.5" fill="#bbb"/>
<circle cx="225.94" cy="539.50" r="1.5" fill="#3a5fc8"/>
<circle cx="218.80" cy="533.29" r="1.5" fill="#5bc0eb"/>
<circle cx="206.80" cy="528.57" r="1.5" fill="#111"/>
<circle cx="232.51" cy="534.55" r="1.5" fill="#5bc0eb"/>
<circle cx="232.54" cy="541.19" r="1.5" fill="#3a5fc8"/>
<circle cx="210.40" cy="532.33" r="1.5" fill="#888"/>
<circle cx="221.76" cy="545.66" r="1.5" fill="#111"/>
<line x1="219.50" y1="520.40" x2="219.50" y2="549.60" stroke="#111" stroke-width="1.2"/>
<line x1="210.00" y1="520.50" x2="229.40" y2="520.50" stroke="#111" stroke-width="1.3"/>
<line x1="210.00" y1="549.50" x2="229.40" y2="549.50" stroke="#111" stroke-width="1.3"/>
<line x1="207.00" y1="537.50" x2="232.00" y2="537.50" stroke="#111" stroke-width="1.3"/>
<circle cx="283.24" cy="493.64" r="1.5" fill="#f7941d"/>
<circle cx="265.61" cy="488.66" r="1.5" fill="#f7941d"/>
<circle cx="266.08" cy="487.58" r="1.5" fill="#f7941d"/>
<circle cx="283.50" cy="497.23" r="1.5" fill="#f7941d"/>
<circle cx="268.43" cy="495.38" r="1.5" fill="#f7941d"/>
<circle cx="266.52" cy="485.47" r="1.5" fill="#f7941d"/>
<circle cx="271.76" cy="492.48" r="1.5" fill="#f7941d"/>
<circle cx="283.17" cy="488.04" r="1.5" fill="#9b1b5a"/>
<circle cx="283.54" cy="487.93" r="1.5" fill="#f7941d"/>
<circle cx="283.59" cy="485.24" r="1.5" fill="#9b1b5a"/>
<circle cx="283.19" cy="499.93" r="1.5" fill="#f7941d"/>
<circle cx="276.26" cy="488.54" r="1.5" fill="#f7941d"/>
<circle cx="278.60" cy="489.59" r="1.5" fill="#f7941d"/>
<circle cx="284.83" cy="489.11" r="1.5" fill="#f7941d"/>
<circle cx="279.86" cy="487.02" r="1.5" fill="#9b1b5a"/>
<circle cx="284.74" cy="496.68" r="1.5" fill="#f7941d"/>
<circle cx="267.18" cy="488.35" r="1.5" fill="#f7941d"/>
<circle cx="268.01" cy="495.37" r="1.5" fill="#f7941d"/>
<circle cx="269.22" cy="488.53" r="1.5" fill="#9b1b5a"/>
<circle cx="271.51" cy="489.10" r="1.5" fill="#9b1b5a"/>
<circle cx="276.09" cy="486.74" r="1.5" fill="#9b1b5a"/>
<circle cx="270.18" cy="489.51" r="1.5" fill="#f7941d"/>
<circle cx="278.94" cy="489.15" r="1.5" fill="#9b1b5a"/>
<circle cx="278.96" cy="491.94" r="1.5" fill="#f7941d"/>
<circle cx="273.98" cy="538.18" r="1.5" fill="#b07cc6"/>
<circle cx="269.55" cy="543.71" r="1.5" fill="#b07cc6"/>
<circle cx="269.51" cy="537.86" r="1.5" fill="#3d5fc4"/>
<circle cx="267.25" cy="525.10" r="1.5" fill="#111"/>
<circle cx="264.74" cy="535.60" r="1.5" fill="#e8232b"/>
<circle cx="263.30" cy="530.62" r="1.5" fill="#e8232b"/>
<circle cx="286.90" cy="539.44" r="1.5" fill="#e8232b"/>
<circle cx="277.03" cy="522.37" r="1.5" fill="#e8232b"/>
<circle cx="275.60" cy="522.73" r="1.5" fill="#111"/>
<circle cx="268.79" cy="534.20" r="1.5" fill="#7b4fb5"/>
<circle cx="278.50" cy="519.03" r="1.5" fill="#111"/>
<circle cx="292.04" cy="535.96" r="1.5" fill="#c98fd6"/>
<circle cx="285.92" cy="524.46" r="1.5" fill="#e8232b"/>
<circle cx="273.03" cy="532.39" r="1.5" fill="#c98fd6"/>
<circle cx="273.42" cy="529.10" r="1.5" fill="#111"/>
<circle cx="284.45" cy="531.63" r="1.5" fill="#3d5fc4"/>
<circle cx="275.41" cy="541.51" r="1.5" fill="#e8232b"/>
<circle cx="268.14" cy="536.90" r="1.5" fill="#e8232b"/>
<circle cx="278.13" cy="525.48" r="1.5" fill="#c98fd6"/>
<circle cx="285.95" cy="538.19" r="1.5" fill="#3d5fc4"/>
<circle cx="262.31" cy="534.12" r="1.5" fill="#e8232b"/>
<circle cx="275.67" cy="523.56" r="1.5" fill="#111"/>
<circle cx="283.08" cy="525.15" r="1.5" fill="#e8232b"/>
<circle cx="280.75" cy="534.83" r="1.5" fill="#b07cc6"/>
<circle cx="286.54" cy="534.47" r="1.5" fill="#e8232b"/>
<circle cx="272.68" cy="530.57" r="1.5" fill="#c98fd6"/>
<circle cx="268.32" cy="530.60" r="1.5" fill="#b07cc6"/>
<circle cx="286.15" cy="531.24" r="1.5" fill="#7b4fb5"/>
<circle cx="269.47" cy="521.58" r="1.5" fill="#111"/>
<circle cx="275.49" cy="528.72" r="1.5" fill="#c98fd6"/>
<circle cx="287.56" cy="535.13" r="1.5" fill="#111"/>
<circle cx="274.57" cy="526.98" r="1.5" fill="#c98fd6"/>
<circle cx="264.51" cy="533.47" r="1.5" fill="#e8232b"/>
<circle cx="278.09" cy="538.97" r="1.5" fill="#e8232b"/>
<circle cx="267.18" cy="539.27" r="1.5" fill="#7b4fb5"/>
<circle cx="271.90" cy="516.00" r="1.5" fill="#7b4fb5"/>
<circle cx="262.08" cy="529.63" r="1.5" fill="#7b4fb5"/>
<circle cx="287.20" cy="525.64" r="1.5" fill="#e8232b"/>
<circle cx="282.39" cy="529.66" r="1.5" fill="#c98fd6"/>
<circle cx="264.87" cy="532.81" r="1.5" fill="#3d5fc4"/>
<circle cx="269.29" cy="522.27" r="1.5" fill="#111"/>
<circle cx="274.30" cy="518.47" r="1.5" fill="#3d5fc4"/>
<circle cx="290.68" cy="535.33" r="1.5" fill="#e8232b"/>
<circle cx="279.81" cy="537.91" r="1.5" fill="#e8232b"/>
<circle cx="284.88" cy="533.50" r="1.5" fill="#b07cc6"/>
<circle cx="278.65" cy="527.91" r="1.5" fill="#e8232b"/>
<circle cx="275.11" cy="520.72" r="1.5" fill="#7b4fb5"/>
<circle cx="257.90" cy="533.34" r="1.5" fill="#7b4fb5"/>
<circle cx="271.21" cy="537.70" r="1.5" fill="#e8232b"/>
<circle cx="274.87" cy="534.91" r="1.5" fill="#7b4fb5"/>
<circle cx="271.36" cy="521.56" r="1.5" fill="#7b4fb5"/>
<circle cx="278.77" cy="525.14" r="1.5" fill="#e8232b"/>
<circle cx="289.89" cy="533.19" r="1.5" fill="#e8232b"/>
<circle cx="263.09" cy="525.95" r="1.5" fill="#3d5fc4"/>
<circle cx="270.25" cy="530.43" r="1.5" fill="#3d5fc4"/>
<circle cx="282.89" cy="526.74" r="1.5" fill="#b07cc6"/>
<circle cx="272.29" cy="527.00" r="1.5" fill="#c98fd6"/>
<circle cx="270.11" cy="530.97" r="1.5" fill="#e8232b"/>
<circle cx="282.92" cy="527.37" r="1.5" fill="#111"/>
<circle cx="281.45" cy="525.50" r="1.5" fill="#e8232b"/>
<circle cx="265.16" cy="539.89" r="1.5" fill="#3d5fc4"/>
<circle cx="288.11" cy="535.47" r="1.5" fill="#7b4fb5"/>
<circle cx="270.50" cy="526.44" r="1.5" fill="#111"/>
<circle cx="270.39" cy="538.45" r="1.5" fill="#b07cc6"/>
<circle cx="268.46" cy="525.84" r="1.5" fill="#e8232b"/>
<circle cx="261.83" cy="534.75" r="1.5" fill="#e8232b"/>
<circle cx="270.78" cy="538.66" r="1.5" fill="#7b4fb5"/>
<circle cx="275.91" cy="522.85" r="1.5" fill="#111"/>
<circle cx="284.48" cy="533.24" r="1.5" fill="#c98fd6"/>
<circle cx="281.94" cy="523.15" r="1.5" fill="#b07cc6"/>
<circle cx="273.75" cy="540.63" r="1.5" fill="#7b4fb5"/>
<circle cx="264.03" cy="526.41" r="1.5" fill="#3d5fc4"/>
<circle cx="269.42" cy="531.41" r="1.5" fill="#e8232b"/>
<circle cx="281.35" cy="539.41" r="1.5" fill="#7b4fb5"/>
<circle cx="276.82" cy="540.99" r="1.5" fill="#111"/>
<circle cx="281.98" cy="532.72" r="1.5" fill="#e8232b"/>
<circle cx="282.40" cy="522.14" r="1.5" fill="#e8232b"/>
<circle cx="286.20" cy="530.15" r="1.5" fill="#3d5fc4"/>
<circle cx="265.62" cy="534.44" r="1.5" fill="#c98fd6"/>
<circle cx="260.46" cy="531.35" r="1.5" fill="#7b4fb5"/>
<circle cx="269.36" cy="542.74" r="1.5" fill="#7b4fb5"/>
<circle cx="282.23" cy="536.45" r="1.5" fill="#e8232b"/>
<circle cx="262.54" cy="529.93" r="1.5" fill="#7b4fb5"/>
<circle cx="270.18" cy="535.05" r="1.5" fill="#c98fd6"/>
<circle cx="271.33" cy="541.80" r="1.5" fill="#e8232b"/>
<circle cx="287.72" cy="531.41" r="1.5" fill="#7b4fb5"/>
<circle cx="276.44" cy="518.92" r="1.5" fill="#c98fd6"/>
<circle cx="288.33" cy="527.22" r="1.5" fill="#e8232b"/>
<circle cx="274.10" cy="544.42" r="1.5" fill="#e8232b"/>
<circle cx="271.46" cy="536.08" r="1.5" fill="#111"/>
<circle cx="278.82" cy="529.50" r="1.5" fill="#7b4fb5"/>
<circle cx="259.49" cy="529.59" r="1.5" fill="#e8232b"/>
<circle cx="273.87" cy="519.73" r="1.5" fill="#3d5fc4"/>
<circle cx="263.10" cy="531.33" r="1.5" fill="#7b4fb5"/>
<circle cx="273.42" cy="540.89" r="1.5" fill="#3d5fc4"/>
<line x1="275.50" y1="515.60" x2="275.50" y2="534.30" stroke="#111" stroke-width="1.2"/>
<line x1="266.00" y1="515.50" x2="285.40" y2="515.50" stroke="#111" stroke-width="1.3"/>
<line x1="266.00" y1="534.50" x2="285.40" y2="534.50" stroke="#111" stroke-width="1.3"/>
<line x1="269.60" y1="530.50" x2="281.60" y2="530.50" stroke="#111" stroke-width="1.2"/>
<line x1="530.50" y1="457.80" x2="530.50" y2="593.60" stroke="#111" stroke-width="1.3"/>
<line x1="524.60" y1="593.50" x2="530.00" y2="593.50" stroke="#111" stroke-width="1.3"/>
<text x="521.80" y="596.40" font-size="9.4" text-anchor="end" font-weight="normal" fill="#1a1a1a">0.0</text>
<line x1="524.60" y1="559.50" x2="530.00" y2="559.50" stroke="#111" stroke-width="1.3"/>
<text x="521.80" y="562.60" font-size="9.4" text-anchor="end" font-weight="normal" fill="#1a1a1a">0.5</text>
<line x1="524.60" y1="525.50" x2="530.00" y2="525.50" stroke="#111" stroke-width="1.3"/>
<text x="521.80" y="528.80" font-size="9.4" text-anchor="end" font-weight="normal" fill="#1a1a1a">1.0</text>
<line x1="524.60" y1="491.50" x2="530.00" y2="491.50" stroke="#111" stroke-width="1.3"/>
<text x="521.80" y="495.00" font-size="9.4" text-anchor="end" font-weight="normal" fill="#1a1a1a">1.5</text>
<line x1="524.60" y1="457.50" x2="530.00" y2="457.50" stroke="#111" stroke-width="1.3"/>
<text x="521.80" y="461.20" font-size="9.4" text-anchor="end" font-weight="normal" fill="#1a1a1a">2.0</text>
<line x1="524.40" y1="593.50" x2="631.00" y2="593.50" stroke="#111" stroke-width="1.3"/>
<line x1="558.50" y1="593.00" x2="558.50" y2="598.60" stroke="#111" stroke-width="1.3"/>
<line x1="601.50" y1="593.00" x2="601.50" y2="598.60" stroke="#111" stroke-width="1.3"/>
<text x="547.60" y="609.00" font-size="8.8" font-weight="normal" fill="#1a1a1a">Atm</text>
<text x="565.24" y="604.30" font-size="8.6" font-weight="normal" fill="#1a1a1a">+/+</text>
<text x="592.00" y="609.00" font-size="8.8" font-weight="normal" fill="#1a1a1a">Atm</text>
<text x="609.64" y="604.30" font-size="8.6" font-weight="normal" fill="#1a1a1a">-/-</text>
<text x="493.00" y="531.00" font-size="8.8" text-anchor="middle" font-weight="normal" fill="#1a1a1a" transform="rotate(-90 493.00 531.00)">Glutamine levels</text>
<text x="504.60" y="532.00" font-size="8.8" text-anchor="middle" font-weight="normal" fill="#1a1a1a" transform="rotate(-90 504.60 532.00)">(pixel intensity/background)</text>
<line x1="559.60" y1="459.50" x2="602.60" y2="459.50" stroke="#333" stroke-width="1.1"/>
<line x1="559.50" y1="457.00" x2="559.50" y2="462.20" stroke="#333" stroke-width="1.1"/>
<line x1="602.50" y1="457.00" x2="602.50" y2="462.20" stroke="#333" stroke-width="1.1"/>
<text x="582.00" y="460.90" font-size="13.8" text-anchor="middle" font-weight="bold" fill="#111">**</text>
<circle cx="559.95" cy="543.20" r="1.5" fill="#111"/>
<circle cx="566.52" cy="532.60" r="1.5" fill="#3a86d6"/>
<circle cx="560.46" cy="545.76" r="1.5" fill="#111"/>
<circle cx="551.10" cy="538.32" r="1.5" fill="#5bc0eb"/>
<circle cx="569.40" cy="541.42" r="1.5" fill="#111"/>
<circle cx="566.59" cy="528.95" r="1.5" fill="#3a86d6"/>
<circle cx="554.35" cy="527.28" r="1.5" fill="#111"/>
<circle cx="546.80" cy="534.66" r="1.5" fill="#111"/>
<circle cx="549.06" cy="534.14" r="1.5" fill="#3a86d6"/>
<circle cx="544.40" cy="541.90" r="1.5" fill="#3a86d6"/>
<circle cx="559.50" cy="535.75" r="1.5" fill="#3a86d6"/>
<circle cx="566.49" cy="534.90" r="1.5" fill="#111"/>
<circle cx="566.46" cy="526.81" r="1.5" fill="#111"/>
<circle cx="551.95" cy="526.87" r="1.5" fill="#111"/>
<circle cx="564.14" cy="540.90" r="1.5" fill="#3a86d6"/>
<circle cx="554.96" cy="529.89" r="1.5" fill="#111"/>
<circle cx="553.29" cy="551.36" r="1.5" fill="#3a86d6"/>
<circle cx="563.77" cy="531.23" r="1.5" fill="#3a86d6"/>
<circle cx="553.83" cy="532.48" r="1.5" fill="#3a86d6"/>
<circle cx="558.83" cy="543.97" r="1.5" fill="#111"/>
<circle cx="564.02" cy="529.82" r="1.5" fill="#3a86d6"/>
<circle cx="564.51" cy="528.21" r="1.5" fill="#111"/>
<circle cx="563.24" cy="551.57" r="1.5" fill="#111"/>
<circle cx="545.66" cy="533.87" r="1.5" fill="#5bc0eb"/>
<circle cx="549.87" cy="521.47" r="1.5" fill="#3a86d6"/>
<circle cx="569.68" cy="533.95" r="1.5" fill="#5bc0eb"/>
<circle cx="558.21" cy="541.50" r="1.5" fill="#3a86d6"/>
<circle cx="554.61" cy="537.27" r="1.5" fill="#3a86d6"/>
<circle cx="563.24" cy="529.29" r="1.5" fill="#111"/>
<circle cx="553.38" cy="528.54" r="1.5" fill="#111"/>
<circle cx="559.62" cy="544.30" r="1.5" fill="#5bc0eb"/>
<circle cx="560.38" cy="520.89" r="1.5" fill="#111"/>
<circle cx="563.94" cy="522.85" r="1.5" fill="#111"/>
<circle cx="551.96" cy="523.15" r="1.5" fill="#3a86d6"/>
<circle cx="548.25" cy="531.83" r="1.5" fill="#111"/>
<circle cx="557.19" cy="529.30" r="1.5" fill="#3a86d6"/>
<circle cx="553.22" cy="552.00" r="1.5" fill="#3a86d6"/>
<circle cx="552.30" cy="526.35" r="1.5" fill="#111"/>
<circle cx="570.21" cy="528.87" r="1.5" fill="#111"/>
<circle cx="545.56" cy="528.35" r="1.5" fill="#3a86d6"/>
<circle cx="554.00" cy="552.00" r="1.5" fill="#111"/>
<circle cx="565.40" cy="534.70" r="1.5" fill="#111"/>
<circle cx="562.71" cy="518.89" r="1.5" fill="#5bc0eb"/>
<circle cx="550.95" cy="546.01" r="1.5" fill="#111"/>
<circle cx="567.64" cy="529.13" r="1.5" fill="#111"/>
<circle cx="553.70" cy="550.05" r="1.5" fill="#3a86d6"/>
<circle cx="568.09" cy="523.68" r="1.5" fill="#5bc0eb"/>
<circle cx="561.93" cy="524.67" r="1.5" fill="#111"/>
<circle cx="552.71" cy="519.52" r="1.5" fill="#111"/>
<circle cx="567.94" cy="530.40" r="1.5" fill="#3a86d6"/>
<circle cx="557.67" cy="541.26" r="1.5" fill="#111"/>
<circle cx="547.15" cy="532.22" r="1.5" fill="#111"/>
<circle cx="550.81" cy="533.52" r="1.5" fill="#5bc0eb"/>
<circle cx="553.35" cy="546.58" r="1.5" fill="#111"/>
<circle cx="559.50" cy="540.27" r="1.5" fill="#3a86d6"/>
<circle cx="544.06" cy="537.94" r="1.5" fill="#111"/>
<circle cx="560.61" cy="550.20" r="1.5" fill="#111"/>
<circle cx="547.86" cy="535.68" r="1.5" fill="#5bc0eb"/>
<circle cx="569.18" cy="545.14" r="1.5" fill="#5bc0eb"/>
<circle cx="557.69" cy="547.22" r="1.5" fill="#5bc0eb"/>
<circle cx="558.00" cy="564.00" r="1.5" fill="#111"/>
<circle cx="558.40" cy="552.00" r="1.5" fill="#7fd3ea"/>
<circle cx="550.80" cy="506.70" r="1.5" fill="#111"/>
<circle cx="555.20" cy="506.20" r="1.5" fill="#111"/>
<circle cx="560.60" cy="506.00" r="1.5" fill="#111"/>
<circle cx="556.40" cy="511.70" r="1.5" fill="#111"/>
<circle cx="553.60" cy="520.60" r="1.5" fill="#111"/>
<circle cx="563.00" cy="520.00" r="1.5" fill="#111"/>
<circle cx="558.00" cy="517.00" r="1.5" fill="#111"/>
<circle cx="561.00" cy="524.00" r="1.5" fill="#7fd3ea"/>
<circle cx="552.00" cy="525.00" r="1.5" fill="#111"/>
<line x1="558.50" y1="531.60" x2="558.50" y2="539.00" stroke="#111" stroke-width="1.2"/>
<line x1="544.00" y1="535.50" x2="573.00" y2="535.50" stroke="#111" stroke-width="1.3"/>
<circle cx="602.86" cy="530.33" r="1.5" fill="#e8232b"/>
<circle cx="602.43" cy="536.60" r="1.5" fill="#111"/>
<circle cx="592.44" cy="534.24" r="1.5" fill="#e8232b"/>
<circle cx="610.26" cy="530.64" r="1.5" fill="#c98fd6"/>
<circle cx="603.06" cy="526.79" r="1.5" fill="#e8232b"/>
<circle cx="610.18" cy="535.32" r="1.5" fill="#e8232b"/>
<circle cx="599.41" cy="527.91" r="1.5" fill="#e8232b"/>
<circle cx="609.03" cy="531.73" r="1.5" fill="#e8232b"/>
<circle cx="607.92" cy="536.62" r="1.5" fill="#e8232b"/>
<circle cx="614.59" cy="534.51" r="1.5" fill="#e8232b"/>
<circle cx="593.48" cy="533.29" r="1.5" fill="#111"/>
<circle cx="601.49" cy="530.27" r="1.5" fill="#e8232b"/>
<circle cx="608.29" cy="535.15" r="1.5" fill="#c98fd6"/>
<circle cx="598.99" cy="526.80" r="1.5" fill="#b07cc6"/>
<circle cx="598.60" cy="528.53" r="1.5" fill="#7b4fb5"/>
<circle cx="592.52" cy="536.15" r="1.5" fill="#7b4fb5"/>
<circle cx="607.44" cy="534.96" r="1.5" fill="#7b4fb5"/>
<circle cx="605.30" cy="535.39" r="1.5" fill="#c98fd6"/>
<circle cx="601.09" cy="537.91" r="1.5" fill="#e8232b"/>
<circle cx="594.56" cy="532.76" r="1.5" fill="#111"/>
<circle cx="596.44" cy="532.32" r="1.5" fill="#111"/>
<circle cx="592.40" cy="534.40" r="1.5" fill="#e8232b"/>
<circle cx="607.36" cy="532.81" r="1.5" fill="#e8232b"/>
<circle cx="599.71" cy="528.60" r="1.5" fill="#e8232b"/>
<circle cx="599.82" cy="535.03" r="1.5" fill="#e8232b"/>
<circle cx="599.32" cy="535.54" r="1.5" fill="#e8232b"/>
<circle cx="602.45" cy="530.47" r="1.5" fill="#c98fd6"/>
<circle cx="593.60" cy="534.76" r="1.5" fill="#e8232b"/>
<circle cx="592.67" cy="530.47" r="1.5" fill="#e8232b"/>
<circle cx="600.98" cy="538.29" r="1.5" fill="#e8232b"/>
<circle cx="604.22" cy="526.91" r="1.5" fill="#c98fd6"/>
<circle cx="594.35" cy="533.03" r="1.5" fill="#111"/>
<circle cx="604.19" cy="526.92" r="1.5" fill="#c98fd6"/>
<circle cx="600.20" cy="538.02" r="1.5" fill="#e8232b"/>
<circle cx="599.14" cy="535.97" r="1.5" fill="#111"/>
<circle cx="595.20" cy="536.98" r="1.5" fill="#7b4fb5"/>
<circle cx="604.58" cy="527.55" r="1.5" fill="#111"/>
<circle cx="600.82" cy="528.12" r="1.5" fill="#7b4fb5"/>
<circle cx="608.27" cy="534.59" r="1.5" fill="#111"/>
<circle cx="600.16" cy="532.19" r="1.5" fill="#111"/>
<circle cx="601.61" cy="526.48" r="1.5" fill="#b07cc6"/>
<circle cx="604.51" cy="534.36" r="1.5" fill="#7b4fb5"/>
<circle cx="601.73" cy="540.59" r="1.5" fill="#b07cc6"/>
<circle cx="600.25" cy="535.08" r="1.5" fill="#7b4fb5"/>
<circle cx="596.36" cy="534.12" r="1.5" fill="#7b4fb5"/>
<circle cx="600.60" cy="533.34" r="1.5" fill="#e8232b"/>
<circle cx="609.15" cy="532.77" r="1.5" fill="#7b4fb5"/>
<circle cx="599.66" cy="529.98" r="1.5" fill="#c98fd6"/>
<circle cx="604.61" cy="538.74" r="1.5" fill="#e8232b"/>
<circle cx="593.70" cy="531.84" r="1.5" fill="#c98fd6"/>
<circle cx="598.65" cy="538.49" r="1.5" fill="#e8232b"/>
<circle cx="607.82" cy="530.16" r="1.5" fill="#7b4fb5"/>
<circle cx="591.52" cy="532.97" r="1.5" fill="#e8232b"/>
<circle cx="606.17" cy="535.72" r="1.5" fill="#e8232b"/>
<circle cx="596.15" cy="529.78" r="1.5" fill="#e8232b"/>
<circle cx="613.22" cy="532.64" r="1.5" fill="#e8232b"/>
<circle cx="600.50" cy="524.08" r="1.5" fill="#e8232b"/>
<circle cx="603.32" cy="533.61" r="1.5" fill="#c98fd6"/>
<circle cx="587.98" cy="533.32" r="1.5" fill="#b07cc6"/>
<circle cx="603.43" cy="525.84" r="1.5" fill="#c98fd6"/>
<circle cx="598.94" cy="539.43" r="1.5" fill="#e8232b"/>
<circle cx="603.31" cy="526.15" r="1.5" fill="#e8232b"/>
<circle cx="596.82" cy="533.77" r="1.5" fill="#c98fd6"/>
<circle cx="592.78" cy="533.57" r="1.5" fill="#e8232b"/>
<circle cx="598.52" cy="534.64" r="1.5" fill="#c98fd6"/>
<circle cx="606.76" cy="534.49" r="1.5" fill="#b07cc6"/>
<circle cx="616.21" cy="534.10" r="1.5" fill="#e8232b"/>
<circle cx="602.60" cy="532.22" r="1.5" fill="#e8232b"/>
<circle cx="597.32" cy="537.03" r="1.5" fill="#111"/>
<circle cx="608.79" cy="529.05" r="1.5" fill="#b07cc6"/>
<circle cx="598.11" cy="536.17" r="1.5" fill="#111"/>
<circle cx="615.80" cy="533.31" r="1.5" fill="#111"/>
<circle cx="597.51" cy="528.70" r="1.5" fill="#e8232b"/>
<circle cx="595.54" cy="529.75" r="1.5" fill="#7b4fb5"/>
<circle cx="591.28" cy="531.20" r="1.5" fill="#e8232b"/>
<circle cx="605.09" cy="533.38" r="1.5" fill="#e8232b"/>
<circle cx="587.83" cy="532.84" r="1.5" fill="#e8232b"/>
<circle cx="609.09" cy="533.42" r="1.5" fill="#e8232b"/>
<circle cx="597.49" cy="537.12" r="1.5" fill="#e8232b"/>
<circle cx="603.24" cy="528.64" r="1.5" fill="#b07cc6"/>
<circle cx="597.72" cy="529.60" r="1.5" fill="#e8232b"/>
<circle cx="601.71" cy="536.42" r="1.5" fill="#e8232b"/>
<circle cx="596.48" cy="529.89" r="1.5" fill="#7b4fb5"/>
<circle cx="597.03" cy="537.49" r="1.5" fill="#e8232b"/>
<circle cx="610.74" cy="535.00" r="1.5" fill="#111"/>
<circle cx="605.38" cy="530.94" r="1.5" fill="#e8232b"/>
<circle cx="606.21" cy="536.17" r="1.5" fill="#7b4fb5"/>
<circle cx="593.56" cy="531.60" r="1.5" fill="#111"/>
<circle cx="597.70" cy="536.36" r="1.5" fill="#b07cc6"/>
<circle cx="606.14" cy="534.43" r="1.5" fill="#e8232b"/>
<circle cx="601.10" cy="472.00" r="1.5" fill="#e0308a"/>
<circle cx="602.07" cy="474.50" r="1.5" fill="#e0308a"/>
<circle cx="602.01" cy="495.00" r="1.5" fill="#8b3a9a"/>
<circle cx="600.99" cy="498.00" r="1.5" fill="#8b3a9a"/>
<circle cx="601.39" cy="501.00" r="1.5" fill="#8b3a9a"/>
<circle cx="600.72" cy="509.00" r="1.5" fill="#f7941d"/>
<circle cx="602.55" cy="513.00" r="1.5" fill="#e8232b"/>
<circle cx="601.00" cy="516.00" r="1.5" fill="#111"/>
<circle cx="601.41" cy="519.00" r="1.5" fill="#f7941d"/>
<circle cx="601.22" cy="521.00" r="1.5" fill="#c98fd6"/>
<circle cx="602.37" cy="524.00" r="1.5" fill="#f7941d"/>
<circle cx="602.44" cy="526.00" r="1.5" fill="#111"/>
<line x1="587.60" y1="533.50" x2="615.60" y2="533.50" stroke="#111" stroke-width="1.8"/>
<line x1="45.50" y1="660.60" x2="45.50" y2="805.20" stroke="#111" stroke-width="1.3"/>
<line x1="40.60" y1="804.50" x2="45.60" y2="804.50" stroke="#111" stroke-width="1.3"/>
<text x="37.80" y="808.00" font-size="9.0" text-anchor="end" font-weight="normal" fill="#1a1a1a">0</text>
<line x1="40.60" y1="775.50" x2="45.60" y2="775.50" stroke="#111" stroke-width="1.3"/>
<text x="37.80" y="779.20" font-size="9.0" text-anchor="end" font-weight="normal" fill="#1a1a1a">50</text>
<line x1="40.60" y1="747.50" x2="45.60" y2="747.50" stroke="#111" stroke-width="1.3"/>
<text x="37.80" y="750.40" font-size="9.0" text-anchor="end" font-weight="normal" fill="#1a1a1a">100</text>
<line x1="40.60" y1="718.50" x2="45.60" y2="718.50" stroke="#111" stroke-width="1.3"/>
<text x="37.80" y="721.60" font-size="9.0" text-anchor="end" font-weight="normal" fill="#1a1a1a">150</text>
<line x1="40.60" y1="689.50" x2="45.60" y2="689.50" stroke="#111" stroke-width="1.3"/>
<text x="37.80" y="692.80" font-size="9.0" text-anchor="end" font-weight="normal" fill="#1a1a1a">200</text>
<line x1="40.60" y1="660.50" x2="45.60" y2="660.50" stroke="#111" stroke-width="1.3"/>
<text x="37.80" y="664.00" font-size="9.0" text-anchor="end" font-weight="normal" fill="#1a1a1a">250</text>
<line x1="45.60" y1="804.50" x2="340.60" y2="804.50" stroke="#111" stroke-width="1.3"/>
<line x1="45.50" y1="804.60" x2="45.50" y2="810.00" stroke="#111" stroke-width="1.3"/>
<text x="45.60" y="819.60" font-size="9.0" text-anchor="middle" font-weight="normal" fill="#1a1a1a">0</text>
<line x1="93.50" y1="804.60" x2="93.50" y2="810.00" stroke="#111" stroke-width="1.3"/>
<text x="93.10" y="819.60" font-size="9.0" text-anchor="middle" font-weight="normal" fill="#1a1a1a">50</text>
<line x1="140.50" y1="804.60" x2="140.50" y2="810.00" stroke="#111" stroke-width="1.3"/>
<text x="140.60" y="819.60" font-size="9.0" text-anchor="middle" font-weight="normal" fill="#1a1a1a">100</text>
<line x1="188.50" y1="804.60" x2="188.50" y2="810.00" stroke="#111" stroke-width="1.3"/>
<text x="188.10" y="819.60" font-size="9.0" text-anchor="middle" font-weight="normal" fill="#1a1a1a">150</text>
<line x1="235.50" y1="804.60" x2="235.50" y2="810.00" stroke="#111" stroke-width="1.3"/>
<text x="235.60" y="819.60" font-size="9.0" text-anchor="middle" font-weight="normal" fill="#1a1a1a">200</text>
<line x1="283.50" y1="804.60" x2="283.50" y2="810.00" stroke="#111" stroke-width="1.3"/>
<text x="283.10" y="819.60" font-size="9.0" text-anchor="middle" font-weight="normal" fill="#1a1a1a">250</text>
<line x1="330.50" y1="804.60" x2="330.50" y2="810.00" stroke="#111" stroke-width="1.3"/>
<text x="330.60" y="819.60" font-size="9.0" text-anchor="middle" font-weight="normal" fill="#1a1a1a">300</text>
<text x="188.00" y="833.80" font-size="8.8" text-anchor="middle" font-weight="normal" fill="#1a1a1a">Time (minutes)</text>
<text x="19.60" y="730.00" font-size="8.7" text-anchor="middle" font-weight="normal" fill="#1a1a1a" transform="rotate(-90 19.60 730.00)">OCR (pmol/min/mg protein)</text>
<line x1="69.50" y1="669.50" x2="69.50" y2="804.00" stroke="#222" stroke-width="1.0" stroke-dasharray="3,2"/>
<text x="70.60" y="667.80" font-size="7.5" text-anchor="middle" font-weight="normal" fill="#1a1a1a">20mM Glc</text>
<line x1="130.50" y1="669.50" x2="130.50" y2="804.00" stroke="#222" stroke-width="1.0" stroke-dasharray="3,2"/>
<text x="131.40" y="667.80" font-size="7.5" text-anchor="middle" font-weight="normal" fill="#1a1a1a">Oligo</text>
<line x1="198.50" y1="669.50" x2="198.50" y2="804.00" stroke="#222" stroke-width="1.0" stroke-dasharray="3,2"/>
<text x="199.00" y="667.80" font-size="7.5" text-anchor="middle" font-weight="normal" fill="#1a1a1a">FCCP</text>
<line x1="267.50" y1="669.50" x2="267.50" y2="804.00" stroke="#222" stroke-width="1.0" stroke-dasharray="3,2"/>
<text x="268.40" y="667.80" font-size="7.5" text-anchor="middle" font-weight="normal" fill="#1a1a1a">Rot/AntA</text>
<polyline points="45.60,770.60 55.00,768.00 64.00,769.00 78.00,736.60 87.40,732.60 96.40,732.40 105.40,731.40 114.40,733.40 123.60,736.00 137.40,731.00 146.60,742.00 155.60,756.00 164.60,767.00 173.60,771.00 182.60,775.60 191.60,776.40 206.00,759.00 214.60,754.00 223.60,757.60 233.00,763.00 242.00,770.00 251.00,773.60 260.40,780.00 274.00,792.00 283.40,795.00 292.40,798.00 301.40,799.60 310.60,801.00 319.60,799.00 328.60,802.40 337.60,802.40" fill="none" stroke="#ee2c27" stroke-width="1.1"/>
<line x1="45.50" y1="762.60" x2="45.50" y2="778.60" stroke="#ee2c27" stroke-width="1.0"/>
<line x1="43.00" y1="762.50" x2="48.20" y2="762.50" stroke="#ee2c27" stroke-width="1.0"/>
<line x1="43.00" y1="778.50" x2="48.20" y2="778.50" stroke="#ee2c27" stroke-width="1.0"/>
<line x1="55.50" y1="759.00" x2="55.50" y2="777.00" stroke="#ee2c27" stroke-width="1.0"/>
<line x1="52.40" y1="759.50" x2="57.60" y2="759.50" stroke="#ee2c27" stroke-width="1.0"/>
<line x1="52.40" y1="777.50" x2="57.60" y2="777.50" stroke="#ee2c27" stroke-width="1.0"/>
<line x1="64.50" y1="761.00" x2="64.50" y2="777.00" stroke="#ee2c27" stroke-width="1.0"/>
<line x1="61.40" y1="761.50" x2="66.60" y2="761.50" stroke="#ee2c27" stroke-width="1.0"/>
<line x1="61.40" y1="777.50" x2="66.60" y2="777.50" stroke="#ee2c27" stroke-width="1.0"/>
<line x1="78.50" y1="726.60" x2="78.50" y2="746.60" stroke="#ee2c27" stroke-width="1.0"/>
<line x1="75.40" y1="726.50" x2="80.60" y2="726.50" stroke="#ee2c27" stroke-width="1.0"/>
<line x1="75.40" y1="746.50" x2="80.60" y2="746.50" stroke="#ee2c27" stroke-width="1.0"/>
<line x1="87.50" y1="722.60" x2="87.50" y2="742.60" stroke="#ee2c27" stroke-width="1.0"/>
<line x1="84.80" y1="722.50" x2="90.00" y2="722.50" stroke="#ee2c27" stroke-width="1.0"/>
<line x1="84.80" y1="742.50" x2="90.00" y2="742.50" stroke="#ee2c27" stroke-width="1.0"/>
<line x1="96.50" y1="722.40" x2="96.50" y2="742.40" stroke="#ee2c27" stroke-width="1.0"/>
<line x1="93.80" y1="722.50" x2="99.00" y2="722.50" stroke="#ee2c27" stroke-width="1.0"/>
<line x1="93.80" y1="742.50" x2="99.00" y2="742.50" stroke="#ee2c27" stroke-width="1.0"/>
<line x1="105.50" y1="721.40" x2="105.50" y2="741.40" stroke="#ee2c27" stroke-width="1.0"/>
<line x1="102.80" y1="721.50" x2="108.00" y2="721.50" stroke="#ee2c27" stroke-width="1.0"/>
<line x1="102.80" y1="741.50" x2="108.00" y2="741.50" stroke="#ee2c27" stroke-width="1.0"/>
<line x1="114.50" y1="724.40" x2="114.50" y2="742.40" stroke="#ee2c27" stroke-width="1.0"/>
<line x1="111.80" y1="724.50" x2="117.00" y2="724.50" stroke="#ee2c27" stroke-width="1.0"/>
<line x1="111.80" y1="742.50" x2="117.00" y2="742.50" stroke="#ee2c27" stroke-width="1.0"/>
<line x1="123.50" y1="727.00" x2="123.50" y2="745.00" stroke="#ee2c27" stroke-width="1.0"/>
<line x1="121.00" y1="727.50" x2="126.20" y2="727.50" stroke="#ee2c27" stroke-width="1.0"/>
<line x1="121.00" y1="745.50" x2="126.20" y2="745.50" stroke="#ee2c27" stroke-width="1.0"/>
<line x1="137.50" y1="720.00" x2="137.50" y2="742.00" stroke="#ee2c27" stroke-width="1.0"/>
<line x1="134.80" y1="720.50" x2="140.00" y2="720.50" stroke="#ee2c27" stroke-width="1.0"/>
<line x1="134.80" y1="742.50" x2="140.00" y2="742.50" stroke="#ee2c27" stroke-width="1.0"/>
<line x1="146.50" y1="734.00" x2="146.50" y2="750.00" stroke="#ee2c27" stroke-width="1.0"/>
<line x1="144.00" y1="734.50" x2="149.20" y2="734.50" stroke="#ee2c27" stroke-width="1.0"/>
<line x1="144.00" y1="750.50" x2="149.20" y2="750.50" stroke="#ee2c27" stroke-width="1.0"/>
<line x1="155.50" y1="749.00" x2="155.50" y2="763.00" stroke="#ee2c27" stroke-width="1.0"/>
<line x1="153.00" y1="749.50" x2="158.20" y2="749.50" stroke="#ee2c27" stroke-width="1.0"/>
<line x1="153.00" y1="763.50" x2="158.20" y2="763.50" stroke="#ee2c27" stroke-width="1.0"/>
<line x1="164.50" y1="761.00" x2="164.50" y2="773.00" stroke="#ee2c27" stroke-width="1.0"/>
<line x1="162.00" y1="761.50" x2="167.20" y2="761.50" stroke="#ee2c27" stroke-width="1.0"/>
<line x1="162.00" y1="773.50" x2="167.20" y2="773.50" stroke="#ee2c27" stroke-width="1.0"/>
<line x1="173.50" y1="765.00" x2="173.50" y2="777.00" stroke="#ee2c27" stroke-width="1.0"/>
<line x1="171.00" y1="765.50" x2="176.20" y2="765.50" stroke="#ee2c27" stroke-width="1.0"/>
<line x1="171.00" y1="777.50" x2="176.20" y2="777.50" stroke="#ee2c27" stroke-width="1.0"/>
<line x1="182.50" y1="770.60" x2="182.50" y2="780.60" stroke="#ee2c27" stroke-width="1.0"/>
<line x1="180.00" y1="770.50" x2="185.20" y2="770.50" stroke="#ee2c27" stroke-width="1.0"/>
<line x1="180.00" y1="780.50" x2="185.20" y2="780.50" stroke="#ee2c27" stroke-width="1.0"/>
<line x1="191.50" y1="770.40" x2="191.50" y2="782.40" stroke="#ee2c27" stroke-width="1.0"/>
<line x1="189.00" y1="770.50" x2="194.20" y2="770.50" stroke="#ee2c27" stroke-width="1.0"/>
<line x1="189.00" y1="782.50" x2="194.20" y2="782.50" stroke="#ee2c27" stroke-width="1.0"/>
<line x1="206.50" y1="751.00" x2="206.50" y2="767.00" stroke="#ee2c27" stroke-width="1.0"/>
<line x1="203.40" y1="751.50" x2="208.60" y2="751.50" stroke="#ee2c27" stroke-width="1.0"/>
<line x1="203.40" y1="767.50" x2="208.60" y2="767.50" stroke="#ee2c27" stroke-width="1.0"/>
<line x1="214.50" y1="748.00" x2="214.50" y2="760.00" stroke="#ee2c27" stroke-width="1.0"/>
<line x1="212.00" y1="748.50" x2="217.20" y2="748.50" stroke="#ee2c27" stroke-width="1.0"/>
<line x1="212.00" y1="760.50" x2="217.20" y2="760.50" stroke="#ee2c27" stroke-width="1.0"/>
<line x1="223.50" y1="750.60" x2="223.50" y2="764.60" stroke="#ee2c27" stroke-width="1.0"/>
<line x1="221.00" y1="750.50" x2="226.20" y2="750.50" stroke="#ee2c27" stroke-width="1.0"/>
<line x1="221.00" y1="764.50" x2="226.20" y2="764.50" stroke="#ee2c27" stroke-width="1.0"/>
<line x1="233.50" y1="757.00" x2="233.50" y2="769.00" stroke="#ee2c27" stroke-width="1.0"/>
<line x1="230.40" y1="757.50" x2="235.60" y2="757.50" stroke="#ee2c27" stroke-width="1.0"/>
<line x1="230.40" y1="769.50" x2="235.60" y2="769.50" stroke="#ee2c27" stroke-width="1.0"/>
<line x1="242.50" y1="764.00" x2="242.50" y2="776.00" stroke="#ee2c27" stroke-width="1.0"/>
<line x1="239.40" y1="764.50" x2="244.60" y2="764.50" stroke="#ee2c27" stroke-width="1.0"/>
<line x1="239.40" y1="776.50" x2="244.60" y2="776.50" stroke="#ee2c27" stroke-width="1.0"/>
<line x1="251.50" y1="767.60" x2="251.50" y2="779.60" stroke="#ee2c27" stroke-width="1.0"/>
<line x1="248.40" y1="767.50" x2="253.60" y2="767.50" stroke="#ee2c27" stroke-width="1.0"/>
<line x1="248.40" y1="779.50" x2="253.60" y2="779.50" stroke="#ee2c27" stroke-width="1.0"/>
<line x1="260.50" y1="774.00" x2="260.50" y2="786.00" stroke="#ee2c27" stroke-width="1.0"/>
<line x1="257.80" y1="774.50" x2="263.00" y2="774.50" stroke="#ee2c27" stroke-width="1.0"/>
<line x1="257.80" y1="786.50" x2="263.00" y2="786.50" stroke="#ee2c27" stroke-width="1.0"/>
<line x1="274.50" y1="787.00" x2="274.50" y2="797.00" stroke="#ee2c27" stroke-width="1.0"/>
<line x1="271.40" y1="787.50" x2="276.60" y2="787.50" stroke="#ee2c27" stroke-width="1.0"/>
<line x1="271.40" y1="797.50" x2="276.60" y2="797.50" stroke="#ee2c27" stroke-width="1.0"/>
<line x1="283.50" y1="792.00" x2="283.50" y2="798.00" stroke="#ee2c27" stroke-width="1.0"/>
<line x1="280.80" y1="792.50" x2="286.00" y2="792.50" stroke="#ee2c27" stroke-width="1.0"/>
<line x1="280.80" y1="798.50" x2="286.00" y2="798.50" stroke="#ee2c27" stroke-width="1.0"/>
<circle cx="45.60" cy="770.60" r="2.2" fill="#ee2c27"/>
<circle cx="55.00" cy="768.00" r="2.2" fill="#ee2c27"/>
<circle cx="64.00" cy="769.00" r="2.2" fill="#ee2c27"/>
<circle cx="78.00" cy="736.60" r="2.2" fill="#ee2c27"/>
<circle cx="87.40" cy="732.60" r="2.2" fill="#ee2c27"/>
<circle cx="96.40" cy="732.40" r="2.2" fill="#ee2c27"/>
<circle cx="105.40" cy="731.40" r="2.2" fill="#ee2c27"/>
<circle cx="114.40" cy="733.40" r="2.2" fill="#ee2c27"/>
<circle cx="123.60" cy="736.00" r="2.2" fill="#ee2c27"/>
<circle cx="137.40" cy="731.00" r="2.2" fill="#ee2c27"/>
<circle cx="146.60" cy="742.00" r="2.2" fill="#ee2c27"/>
<circle cx="155.60" cy="756.00" r="2.2" fill="#ee2c27"/>
<circle cx="164.60" cy="767.00" r="2.2" fill="#ee2c27"/>
<circle cx="173.60" cy="771.00" r="2.2" fill="#ee2c27"/>
<circle cx="182.60" cy="775.60" r="2.2" fill="#ee2c27"/>
<circle cx="191.60" cy="776.40" r="2.2" fill="#ee2c27"/>
<circle cx="206.00" cy="759.00" r="2.2" fill="#ee2c27"/>
<circle cx="214.60" cy="754.00" r="2.2" fill="#ee2c27"/>
<circle cx="223.60" cy="757.60" r="2.2" fill="#ee2c27"/>
<circle cx="233.00" cy="763.00" r="2.2" fill="#ee2c27"/>
<circle cx="242.00" cy="770.00" r="2.2" fill="#ee2c27"/>
<circle cx="251.00" cy="773.60" r="2.2" fill="#ee2c27"/>
<circle cx="260.40" cy="780.00" r="2.2" fill="#ee2c27"/>
<circle cx="274.00" cy="792.00" r="2.2" fill="#ee2c27"/>
<circle cx="283.40" cy="795.00" r="2.2" fill="#ee2c27"/>
<circle cx="292.40" cy="798.00" r="2.2" fill="#ee2c27"/>
<circle cx="301.40" cy="799.60" r="2.2" fill="#ee2c27"/>
<circle cx="310.60" cy="801.00" r="2.2" fill="#ee2c27"/>
<circle cx="319.60" cy="799.00" r="2.2" fill="#ee2c27"/>
<circle cx="328.60" cy="802.40" r="2.2" fill="#ee2c27"/>
<circle cx="337.60" cy="802.40" r="2.2" fill="#ee2c27"/>
<polyline points="45.60,759.00 55.00,754.40 64.00,754.40 78.00,706.40 87.40,697.40 96.40,695.60 105.40,695.00 114.40,697.00 123.60,699.60 137.40,693.60 146.60,703.60 155.60,722.60 164.60,739.60 173.60,749.40 182.60,755.00 191.60,758.00 206.00,735.00 214.60,721.00 223.60,726.40 233.00,734.00 242.00,743.00 251.00,755.00 260.40,764.00 274.00,780.60 283.40,790.40 292.40,793.00 301.40,795.60 310.60,797.40 319.60,800.00 328.60,800.00 337.60,800.40" fill="none" stroke="#111" stroke-width="1.1"/>
<line x1="45.50" y1="755.00" x2="45.50" y2="763.00" stroke="#111" stroke-width="1.0"/>
<line x1="43.00" y1="755.50" x2="48.20" y2="755.50" stroke="#111" stroke-width="1.0"/>
<line x1="43.00" y1="763.50" x2="48.20" y2="763.50" stroke="#111" stroke-width="1.0"/>
<line x1="55.50" y1="751.40" x2="55.50" y2="757.40" stroke="#111" stroke-width="1.0"/>
<line x1="52.40" y1="751.50" x2="57.60" y2="751.50" stroke="#111" stroke-width="1.0"/>
<line x1="52.40" y1="757.50" x2="57.60" y2="757.50" stroke="#111" stroke-width="1.0"/>
<line x1="64.50" y1="751.40" x2="64.50" y2="757.40" stroke="#111" stroke-width="1.0"/>
<line x1="61.40" y1="751.50" x2="66.60" y2="751.50" stroke="#111" stroke-width="1.0"/>
<line x1="61.40" y1="757.50" x2="66.60" y2="757.50" stroke="#111" stroke-width="1.0"/>
<line x1="78.50" y1="700.40" x2="78.50" y2="712.40" stroke="#111" stroke-width="1.0"/>
<line x1="75.40" y1="700.50" x2="80.60" y2="700.50" stroke="#111" stroke-width="1.0"/>
<line x1="75.40" y1="712.50" x2="80.60" y2="712.50" stroke="#111" stroke-width="1.0"/>
<line x1="87.50" y1="692.40" x2="87.50" y2="702.40" stroke="#111" stroke-width="1.0"/>
<line x1="84.80" y1="692.50" x2="90.00" y2="692.50" stroke="#111" stroke-width="1.0"/>
<line x1="84.80" y1="702.50" x2="90.00" y2="702.50" stroke="#111" stroke-width="1.0"/>
<line x1="96.50" y1="691.60" x2="96.50" y2="699.60" stroke="#111" stroke-width="1.0"/>
<line x1="93.80" y1="691.50" x2="99.00" y2="691.50" stroke="#111" stroke-width="1.0"/>
<line x1="93.80" y1="699.50" x2="99.00" y2="699.50" stroke="#111" stroke-width="1.0"/>
<line x1="105.50" y1="691.00" x2="105.50" y2="699.00" stroke="#111" stroke-width="1.0"/>
<line x1="102.80" y1="691.50" x2="108.00" y2="691.50" stroke="#111" stroke-width="1.0"/>
<line x1="102.80" y1="699.50" x2="108.00" y2="699.50" stroke="#111" stroke-width="1.0"/>
<line x1="114.50" y1="694.00" x2="114.50" y2="700.00" stroke="#111" stroke-width="1.0"/>
<line x1="111.80" y1="694.50" x2="117.00" y2="694.50" stroke="#111" stroke-width="1.0"/>
<line x1="111.80" y1="700.50" x2="117.00" y2="700.50" stroke="#111" stroke-width="1.0"/>
<line x1="123.50" y1="695.60" x2="123.50" y2="703.60" stroke="#111" stroke-width="1.0"/>
<line x1="121.00" y1="695.50" x2="126.20" y2="695.50" stroke="#111" stroke-width="1.0"/>
<line x1="121.00" y1="703.50" x2="126.20" y2="703.50" stroke="#111" stroke-width="1.0"/>
<line x1="137.50" y1="688.60" x2="137.50" y2="698.60" stroke="#111" stroke-width="1.0"/>
<line x1="134.80" y1="688.50" x2="140.00" y2="688.50" stroke="#111" stroke-width="1.0"/>
<line x1="134.80" y1="698.50" x2="140.00" y2="698.50" stroke="#111" stroke-width="1.0"/>
<line x1="146.50" y1="697.60" x2="146.50" y2="709.60" stroke="#111" stroke-width="1.0"/>
<line x1="144.00" y1="697.50" x2="149.20" y2="697.50" stroke="#111" stroke-width="1.0"/>
<line x1="144.00" y1="709.50" x2="149.20" y2="709.50" stroke="#111" stroke-width="1.0"/>
<line x1="155.50" y1="716.60" x2="155.50" y2="728.60" stroke="#111" stroke-width="1.0"/>
<line x1="153.00" y1="716.50" x2="158.20" y2="716.50" stroke="#111" stroke-width="1.0"/>
<line x1="153.00" y1="728.50" x2="158.20" y2="728.50" stroke="#111" stroke-width="1.0"/>
<line x1="164.50" y1="733.60" x2="164.50" y2="745.60" stroke="#111" stroke-width="1.0"/>
<line x1="162.00" y1="733.50" x2="167.20" y2="733.50" stroke="#111" stroke-width="1.0"/>
<line x1="162.00" y1="745.50" x2="167.20" y2="745.50" stroke="#111" stroke-width="1.0"/>
<line x1="173.50" y1="745.40" x2="173.50" y2="753.40" stroke="#111" stroke-width="1.0"/>
<line x1="171.00" y1="745.50" x2="176.20" y2="745.50" stroke="#111" stroke-width="1.0"/>
<line x1="171.00" y1="753.50" x2="176.20" y2="753.50" stroke="#111" stroke-width="1.0"/>
<line x1="182.50" y1="752.00" x2="182.50" y2="758.00" stroke="#111" stroke-width="1.0"/>
<line x1="180.00" y1="752.50" x2="185.20" y2="752.50" stroke="#111" stroke-width="1.0"/>
<line x1="180.00" y1="758.50" x2="185.20" y2="758.50" stroke="#111" stroke-width="1.0"/>
<line x1="191.50" y1="755.00" x2="191.50" y2="761.00" stroke="#111" stroke-width="1.0"/>
<line x1="189.00" y1="755.50" x2="194.20" y2="755.50" stroke="#111" stroke-width="1.0"/>
<line x1="189.00" y1="761.50" x2="194.20" y2="761.50" stroke="#111" stroke-width="1.0"/>
<line x1="206.50" y1="730.00" x2="206.50" y2="740.00" stroke="#111" stroke-width="1.0"/>
<line x1="203.40" y1="730.50" x2="208.60" y2="730.50" stroke="#111" stroke-width="1.0"/>
<line x1="203.40" y1="740.50" x2="208.60" y2="740.50" stroke="#111" stroke-width="1.0"/>
<line x1="214.50" y1="716.00" x2="214.50" y2="726.00" stroke="#111" stroke-width="1.0"/>
<line x1="212.00" y1="716.50" x2="217.20" y2="716.50" stroke="#111" stroke-width="1.0"/>
<line x1="212.00" y1="726.50" x2="217.20" y2="726.50" stroke="#111" stroke-width="1.0"/>
<line x1="223.50" y1="723.40" x2="223.50" y2="729.40" stroke="#111" stroke-width="1.0"/>
<line x1="221.00" y1="723.50" x2="226.20" y2="723.50" stroke="#111" stroke-width="1.0"/>
<line x1="221.00" y1="729.50" x2="226.20" y2="729.50" stroke="#111" stroke-width="1.0"/>
<line x1="233.50" y1="730.00" x2="233.50" y2="738.00" stroke="#111" stroke-width="1.0"/>
<line x1="230.40" y1="730.50" x2="235.60" y2="730.50" stroke="#111" stroke-width="1.0"/>
<line x1="230.40" y1="738.50" x2="235.60" y2="738.50" stroke="#111" stroke-width="1.0"/>
<line x1="242.50" y1="739.00" x2="242.50" y2="747.00" stroke="#111" stroke-width="1.0"/>
<line x1="239.40" y1="739.50" x2="244.60" y2="739.50" stroke="#111" stroke-width="1.0"/>
<line x1="239.40" y1="747.50" x2="244.60" y2="747.50" stroke="#111" stroke-width="1.0"/>
<line x1="251.50" y1="752.00" x2="251.50" y2="758.00" stroke="#111" stroke-width="1.0"/>
<line x1="248.40" y1="752.50" x2="253.60" y2="752.50" stroke="#111" stroke-width="1.0"/>
<line x1="248.40" y1="758.50" x2="253.60" y2="758.50" stroke="#111" stroke-width="1.0"/>
<line x1="260.50" y1="761.00" x2="260.50" y2="767.00" stroke="#111" stroke-width="1.0"/>
<line x1="257.80" y1="761.50" x2="263.00" y2="761.50" stroke="#111" stroke-width="1.0"/>
<line x1="257.80" y1="767.50" x2="263.00" y2="767.50" stroke="#111" stroke-width="1.0"/>
<circle cx="45.60" cy="759.00" r="2.2" fill="#111"/>
<circle cx="55.00" cy="754.40" r="2.2" fill="#111"/>
<circle cx="64.00" cy="754.40" r="2.2" fill="#111"/>
<circle cx="78.00" cy="706.40" r="2.2" fill="#111"/>
<circle cx="87.40" cy="697.40" r="2.2" fill="#111"/>
<circle cx="96.40" cy="695.60" r="2.2" fill="#111"/>
<circle cx="105.40" cy="695.00" r="2.2" fill="#111"/>
<circle cx="114.40" cy="697.00" r="2.2" fill="#111"/>
<circle cx="123.60" cy="699.60" r="2.2" fill="#111"/>
<circle cx="137.40" cy="693.60" r="2.2" fill="#111"/>
<circle cx="146.60" cy="703.60" r="2.2" fill="#111"/>
<circle cx="155.60" cy="722.60" r="2.2" fill="#111"/>
<circle cx="164.60" cy="739.60" r="2.2" fill="#111"/>
<circle cx="173.60" cy="749.40" r="2.2" fill="#111"/>
<circle cx="182.60" cy="755.00" r="2.2" fill="#111"/>
<circle cx="191.60" cy="758.00" r="2.2" fill="#111"/>
<circle cx="206.00" cy="735.00" r="2.2" fill="#111"/>
<circle cx="214.60" cy="721.00" r="2.2" fill="#111"/>
<circle cx="223.60" cy="726.40" r="2.2" fill="#111"/>
<circle cx="233.00" cy="734.00" r="2.2" fill="#111"/>
<circle cx="242.00" cy="743.00" r="2.2" fill="#111"/>
<circle cx="251.00" cy="755.00" r="2.2" fill="#111"/>
<circle cx="260.40" cy="764.00" r="2.2" fill="#111"/>
<circle cx="274.00" cy="780.60" r="2.2" fill="#111"/>
<circle cx="283.40" cy="790.40" r="2.2" fill="#111"/>
<circle cx="292.40" cy="793.00" r="2.2" fill="#111"/>
<circle cx="301.40" cy="795.60" r="2.2" fill="#111"/>
<circle cx="310.60" cy="797.40" r="2.2" fill="#111"/>
<circle cx="319.60" cy="800.00" r="2.2" fill="#111"/>
<circle cx="328.60" cy="800.00" r="2.2" fill="#111"/>
<circle cx="337.60" cy="800.40" r="2.2" fill="#111"/>
<line x1="298.40" y1="672.50" x2="314.40" y2="672.50" stroke="#111" stroke-width="1.1"/>
<circle cx="306.40" cy="672.40" r="2.0" fill="#111"/>
<line x1="298.40" y1="683.50" x2="314.40" y2="683.50" stroke="#ee2c27" stroke-width="1.1"/>
<circle cx="306.40" cy="683.00" r="2.0" fill="#ee2c27"/>
<text x="320.00" y="677.20" font-size="9.0" font-weight="normal" fill="#1a1a1a">Atm</text>
<text x="339.00" y="672.20" font-size="7.0" font-weight="normal" fill="#1a1a1a">+/+</text>
<text x="320.00" y="688.20" font-size="9.0" font-weight="normal" fill="#1a1a1a">Atm</text>
<text x="339.60" y="683.20" font-size="7.0" font-weight="normal" fill="#1a1a1a">-/-</text>
<line x1="429.50" y1="659.50" x2="429.50" y2="802.60" stroke="#111" stroke-width="1.3"/>
<line x1="424.00" y1="802.50" x2="429.00" y2="802.50" stroke="#111" stroke-width="1.3"/>
<text x="421.40" y="805.40" font-size="9.0" text-anchor="end" font-weight="normal" fill="#1a1a1a">0</text>
<line x1="424.00" y1="773.50" x2="429.00" y2="773.50" stroke="#111" stroke-width="1.3"/>
<text x="421.40" y="776.90" font-size="9.0" text-anchor="end" font-weight="normal" fill="#1a1a1a">50</text>
<line x1="424.00" y1="745.50" x2="429.00" y2="745.50" stroke="#111" stroke-width="1.3"/>
<text x="421.40" y="748.40" font-size="9.0" text-anchor="end" font-weight="normal" fill="#1a1a1a">100</text>
<line x1="424.00" y1="716.50" x2="429.00" y2="716.50" stroke="#111" stroke-width="1.3"/>
<text x="421.40" y="719.90" font-size="9.0" text-anchor="end" font-weight="normal" fill="#1a1a1a">150</text>
<line x1="424.00" y1="688.50" x2="429.00" y2="688.50" stroke="#111" stroke-width="1.3"/>
<text x="421.40" y="691.40" font-size="9.0" text-anchor="end" font-weight="normal" fill="#1a1a1a">200</text>
<line x1="424.00" y1="659.50" x2="429.00" y2="659.50" stroke="#111" stroke-width="1.3"/>
<text x="421.40" y="662.90" font-size="9.0" text-anchor="end" font-weight="normal" fill="#1a1a1a">250</text>
<line x1="423.60" y1="801.50" x2="643.00" y2="801.50" stroke="#111" stroke-width="1.3"/>
<text x="394.00" y="730.00" font-size="8.8" text-anchor="middle" font-weight="normal" fill="#1a1a1a" transform="rotate(-90 394.00 730.00)">OCR</text>
<text x="404.40" y="730.00" font-size="8.8" text-anchor="middle" font-weight="normal" fill="#1a1a1a" transform="rotate(-90 404.40 730.00)">(Normalized to Basal OCR)</text>
<rect x="435.50" y="712.50" width="10.00" height="89.30" fill="none" stroke="#111" stroke-width="1.2"/>
<line x1="440.50" y1="691.40" x2="440.50" y2="732.40" stroke="#111" stroke-width="1.2"/>
<line x1="437.20" y1="691.50" x2="443.20" y2="691.50" stroke="#111" stroke-width="1.2"/>
<line x1="437.20" y1="732.50" x2="443.20" y2="732.50" stroke="#111" stroke-width="1.2"/>
<circle cx="440.00" cy="678.40" r="2.2" fill="#111"/>
<circle cx="440.00" cy="712.40" r="2.2" fill="#111"/>
<circle cx="437.00" cy="718.00" r="2.2" fill="#111"/>
<circle cx="443.60" cy="718.40" r="2.2" fill="#111"/>
<circle cx="440.00" cy="732.40" r="2.2" fill="#111"/>
<rect x="451.50" y="734.50" width="10.00" height="67.30" fill="none" stroke="#ee2c27" stroke-width="1.2"/>
<line x1="456.50" y1="719.00" x2="456.50" y2="749.00" stroke="#ee2c27" stroke-width="1.2"/>
<line x1="453.75" y1="719.50" x2="459.75" y2="719.50" stroke="#ee2c27" stroke-width="1.2"/>
<line x1="453.75" y1="749.50" x2="459.75" y2="749.50" stroke="#ee2c27" stroke-width="1.2"/>
<circle cx="456.70" cy="716.00" r="2.2" fill="#ee2c27"/>
<circle cx="456.70" cy="727.00" r="2.2" fill="#ee2c27"/>
<circle cx="456.70" cy="743.80" r="2.2" fill="#ee2c27"/>
<circle cx="456.70" cy="749.00" r="2.2" fill="#ee2c27"/>
<line x1="448.50" y1="801.80" x2="448.50" y2="807.40" stroke="#111" stroke-width="1.3"/>
<rect x="479.50" y="693.50" width="10.00" height="108.30" fill="none" stroke="#111" stroke-width="1.2"/>
<line x1="484.50" y1="688.00" x2="484.50" y2="698.00" stroke="#111" stroke-width="1.2"/>
<line x1="481.00" y1="688.50" x2="487.00" y2="688.50" stroke="#111" stroke-width="1.2"/>
<line x1="481.00" y1="698.50" x2="487.00" y2="698.50" stroke="#111" stroke-width="1.2"/>
<circle cx="482.00" cy="690.00" r="2.2" fill="#111"/>
<circle cx="487.00" cy="691.00" r="2.2" fill="#111"/>
<circle cx="482.00" cy="697.00" r="2.2" fill="#111"/>
<circle cx="487.00" cy="697.50" r="2.2" fill="#111"/>
<circle cx="482.00" cy="702.00" r="2.2" fill="#111"/>
<rect x="495.50" y="712.50" width="10.00" height="89.30" fill="none" stroke="#ee2c27" stroke-width="1.2"/>
<line x1="500.50" y1="699.60" x2="500.50" y2="725.00" stroke="#ee2c27" stroke-width="1.2"/>
<line x1="497.40" y1="699.50" x2="503.40" y2="699.50" stroke="#ee2c27" stroke-width="1.2"/>
<line x1="497.40" y1="725.50" x2="503.40" y2="725.50" stroke="#ee2c27" stroke-width="1.2"/>
<circle cx="500.00" cy="695.60" r="2.2" fill="#ee2c27"/>
<circle cx="500.00" cy="709.00" r="2.2" fill="#ee2c27"/>
<circle cx="496.60" cy="722.00" r="2.2" fill="#ee2c27"/>
<circle cx="504.00" cy="722.00" r="2.2" fill="#ee2c27"/>
<line x1="492.50" y1="801.80" x2="492.50" y2="807.40" stroke="#111" stroke-width="1.3"/>
<rect x="522.50" y="748.50" width="10.00" height="53.30" fill="none" stroke="#111" stroke-width="1.2"/>
<line x1="527.50" y1="744.00" x2="527.50" y2="752.00" stroke="#111" stroke-width="1.2"/>
<line x1="524.50" y1="744.50" x2="530.50" y2="744.50" stroke="#111" stroke-width="1.2"/>
<line x1="524.50" y1="752.50" x2="530.50" y2="752.50" stroke="#111" stroke-width="1.2"/>
<circle cx="524.00" cy="741.60" r="2.2" fill="#111"/>
<circle cx="531.00" cy="741.60" r="2.2" fill="#111"/>
<circle cx="527.40" cy="746.40" r="2.2" fill="#111"/>
<circle cx="531.00" cy="752.40" r="2.2" fill="#111"/>
<circle cx="524.00" cy="754.40" r="2.2" fill="#111"/>
<rect x="539.50" y="769.50" width="9.00" height="32.30" fill="none" stroke="#ee2c27" stroke-width="1.2"/>
<line x1="543.50" y1="762.00" x2="543.50" y2="777.00" stroke="#ee2c27" stroke-width="1.2"/>
<line x1="540.80" y1="762.50" x2="546.80" y2="762.50" stroke="#ee2c27" stroke-width="1.2"/>
<line x1="540.80" y1="777.50" x2="546.80" y2="777.50" stroke="#ee2c27" stroke-width="1.2"/>
<circle cx="543.60" cy="760.60" r="2.2" fill="#ee2c27"/>
<circle cx="543.60" cy="766.00" r="2.2" fill="#ee2c27"/>
<circle cx="543.60" cy="772.00" r="2.2" fill="#ee2c27"/>
<circle cx="543.60" cy="779.40" r="2.2" fill="#ee2c27"/>
<line x1="535.50" y1="801.80" x2="535.50" y2="807.40" stroke="#111" stroke-width="1.3"/>
<rect x="566.50" y="749.50" width="10.00" height="52.30" fill="none" stroke="#111" stroke-width="1.2"/>
<line x1="571.50" y1="736.60" x2="571.50" y2="760.00" stroke="#111" stroke-width="1.2"/>
<line x1="568.60" y1="736.50" x2="574.60" y2="736.50" stroke="#111" stroke-width="1.2"/>
<line x1="568.60" y1="760.50" x2="574.60" y2="760.50" stroke="#111" stroke-width="1.2"/>
<circle cx="571.00" cy="735.00" r="2.2" fill="#111"/>
<circle cx="568.00" cy="745.60" r="2.2" fill="#111"/>
<circle cx="574.40" cy="744.40" r="2.2" fill="#111"/>
<circle cx="571.00" cy="752.40" r="2.2" fill="#111"/>
<circle cx="571.00" cy="766.60" r="2.2" fill="#111"/>
<rect x="582.50" y="757.50" width="10.00" height="44.30" fill="none" stroke="#ee2c27" stroke-width="1.2"/>
<line x1="587.50" y1="752.00" x2="587.50" y2="762.00" stroke="#ee2c27" stroke-width="1.2"/>
<line x1="584.60" y1="752.50" x2="590.60" y2="752.50" stroke="#ee2c27" stroke-width="1.2"/>
<line x1="584.60" y1="762.50" x2="590.60" y2="762.50" stroke="#ee2c27" stroke-width="1.2"/>
<circle cx="591.00" cy="751.00" r="2.2" fill="#ee2c27"/>
<circle cx="585.00" cy="756.00" r="2.2" fill="#ee2c27"/>
<circle cx="591.00" cy="760.00" r="2.2" fill="#ee2c27"/>
<circle cx="585.00" cy="761.00" r="2.2" fill="#ee2c27"/>
<line x1="579.50" y1="801.80" x2="579.50" y2="807.40" stroke="#111" stroke-width="1.3"/>
<rect x="609.50" y="723.50" width="11.00" height="78.30" fill="none" stroke="#111" stroke-width="1.2"/>
<line x1="614.50" y1="709.40" x2="614.50" y2="737.00" stroke="#111" stroke-width="1.2"/>
<line x1="611.80" y1="709.50" x2="617.80" y2="709.50" stroke="#111" stroke-width="1.2"/>
<line x1="611.80" y1="737.50" x2="617.80" y2="737.50" stroke="#111" stroke-width="1.2"/>
<circle cx="614.60" cy="706.00" r="2.2" fill="#111"/>
<circle cx="614.60" cy="713.00" r="2.2" fill="#111"/>
<circle cx="614.60" cy="725.00" r="2.2" fill="#111"/>
<circle cx="614.60" cy="731.00" r="2.2" fill="#111"/>
<circle cx="614.60" cy="737.00" r="2.2" fill="#111"/>
<rect x="626.50" y="729.50" width="10.00" height="72.30" fill="none" stroke="#ee2c27" stroke-width="1.2"/>
<line x1="631.50" y1="717.40" x2="631.50" y2="741.00" stroke="#ee2c27" stroke-width="1.2"/>
<line x1="628.20" y1="717.50" x2="634.20" y2="717.50" stroke="#ee2c27" stroke-width="1.2"/>
<line x1="628.20" y1="741.50" x2="634.20" y2="741.50" stroke="#ee2c27" stroke-width="1.2"/>
<circle cx="631.40" cy="713.60" r="2.2" fill="#ee2c27"/>
<circle cx="631.40" cy="726.00" r="2.2" fill="#ee2c27"/>
<circle cx="628.00" cy="736.60" r="2.2" fill="#ee2c27"/>
<circle cx="634.60" cy="736.60" r="2.2" fill="#ee2c27"/>
<line x1="623.50" y1="801.80" x2="623.50" y2="807.40" stroke="#111" stroke-width="1.3"/>
<line x1="440.00" y1="667.50" x2="454.40" y2="667.50" stroke="#333" stroke-width="1.1"/>
<line x1="440.50" y1="664.60" x2="440.50" y2="669.40" stroke="#333" stroke-width="1.1"/>
<line x1="454.50" y1="664.60" x2="454.50" y2="669.40" stroke="#333" stroke-width="1.1"/>
<text x="447.40" y="662.20" font-size="12.5" text-anchor="middle" font-weight="bold" fill="#111">*</text>
<line x1="528.00" y1="728.50" x2="542.40" y2="728.50" stroke="#555" stroke-width="1.1"/>
<line x1="528.50" y1="725.60" x2="528.50" y2="730.40" stroke="#555" stroke-width="1.1"/>
<line x1="542.50" y1="725.60" x2="542.50" y2="730.40" stroke="#555" stroke-width="1.1"/>
<text x="534.40" y="727.00" font-size="12.5" text-anchor="middle" font-weight="bold" fill="#111">*</text>
<text x="447.50" y="809.50" font-size="8.8" text-anchor="end" font-weight="normal" fill="#1a1a1a" transform="rotate(-45 447.50 809.50)">Glc-stimulated</text>
<text x="457.50" y="814.50" font-size="8.8" text-anchor="end" font-weight="normal" fill="#1a1a1a" transform="rotate(-45 457.50 814.50)">OCR</text>
<text x="490.50" y="809.50" font-size="8.8" text-anchor="end" font-weight="normal" fill="#1a1a1a" transform="rotate(-45 490.50 809.50)">Maximal</text>
<text x="502.50" y="811.00" font-size="8.8" text-anchor="end" font-weight="normal" fill="#1a1a1a" transform="rotate(-45 502.50 811.00)">Respiration</text>
<text x="534.00" y="809.50" font-size="8.8" text-anchor="end" font-weight="normal" fill="#1a1a1a" transform="rotate(-45 534.00 809.50)">Spare Resp</text>
<text x="545.00" y="812.00" font-size="8.8" text-anchor="end" font-weight="normal" fill="#1a1a1a" transform="rotate(-45 545.00 812.00)">Capacity</text>
<text x="580.00" y="809.50" font-size="8.8" text-anchor="end" font-weight="normal" fill="#1a1a1a" transform="rotate(-45 580.00 809.50)">Proton Leak</text>
<text x="620.50" y="809.50" font-size="8.8" text-anchor="end" font-weight="normal" fill="#1a1a1a" transform="rotate(-45 620.50 809.50)">ATP</text>
<text x="631.00" y="810.50" font-size="8.8" text-anchor="end" font-weight="normal" fill="#1a1a1a" transform="rotate(-45 631.00 810.50)">production</text>
<circle cx="629.40" cy="669.40" r="2.2" fill="#111"/>
<circle cx="629.40" cy="681.00" r="2.2" fill="#ee2c27"/>
<text x="637.00" y="672.60" font-size="8.8" font-weight="normal" fill="#1a1a1a">Atm</text>
<text x="655.24" y="667.60" font-size="6.8" font-weight="normal" fill="#1a1a1a">+/+</text>
<text x="637.00" y="684.60" font-size="8.8" font-weight="normal" fill="#1a1a1a">Atm</text>
<text x="655.24" y="679.60" font-size="6.8" font-weight="normal" fill="#1a1a1a">-/-</text>
</svg>
</body></html>
